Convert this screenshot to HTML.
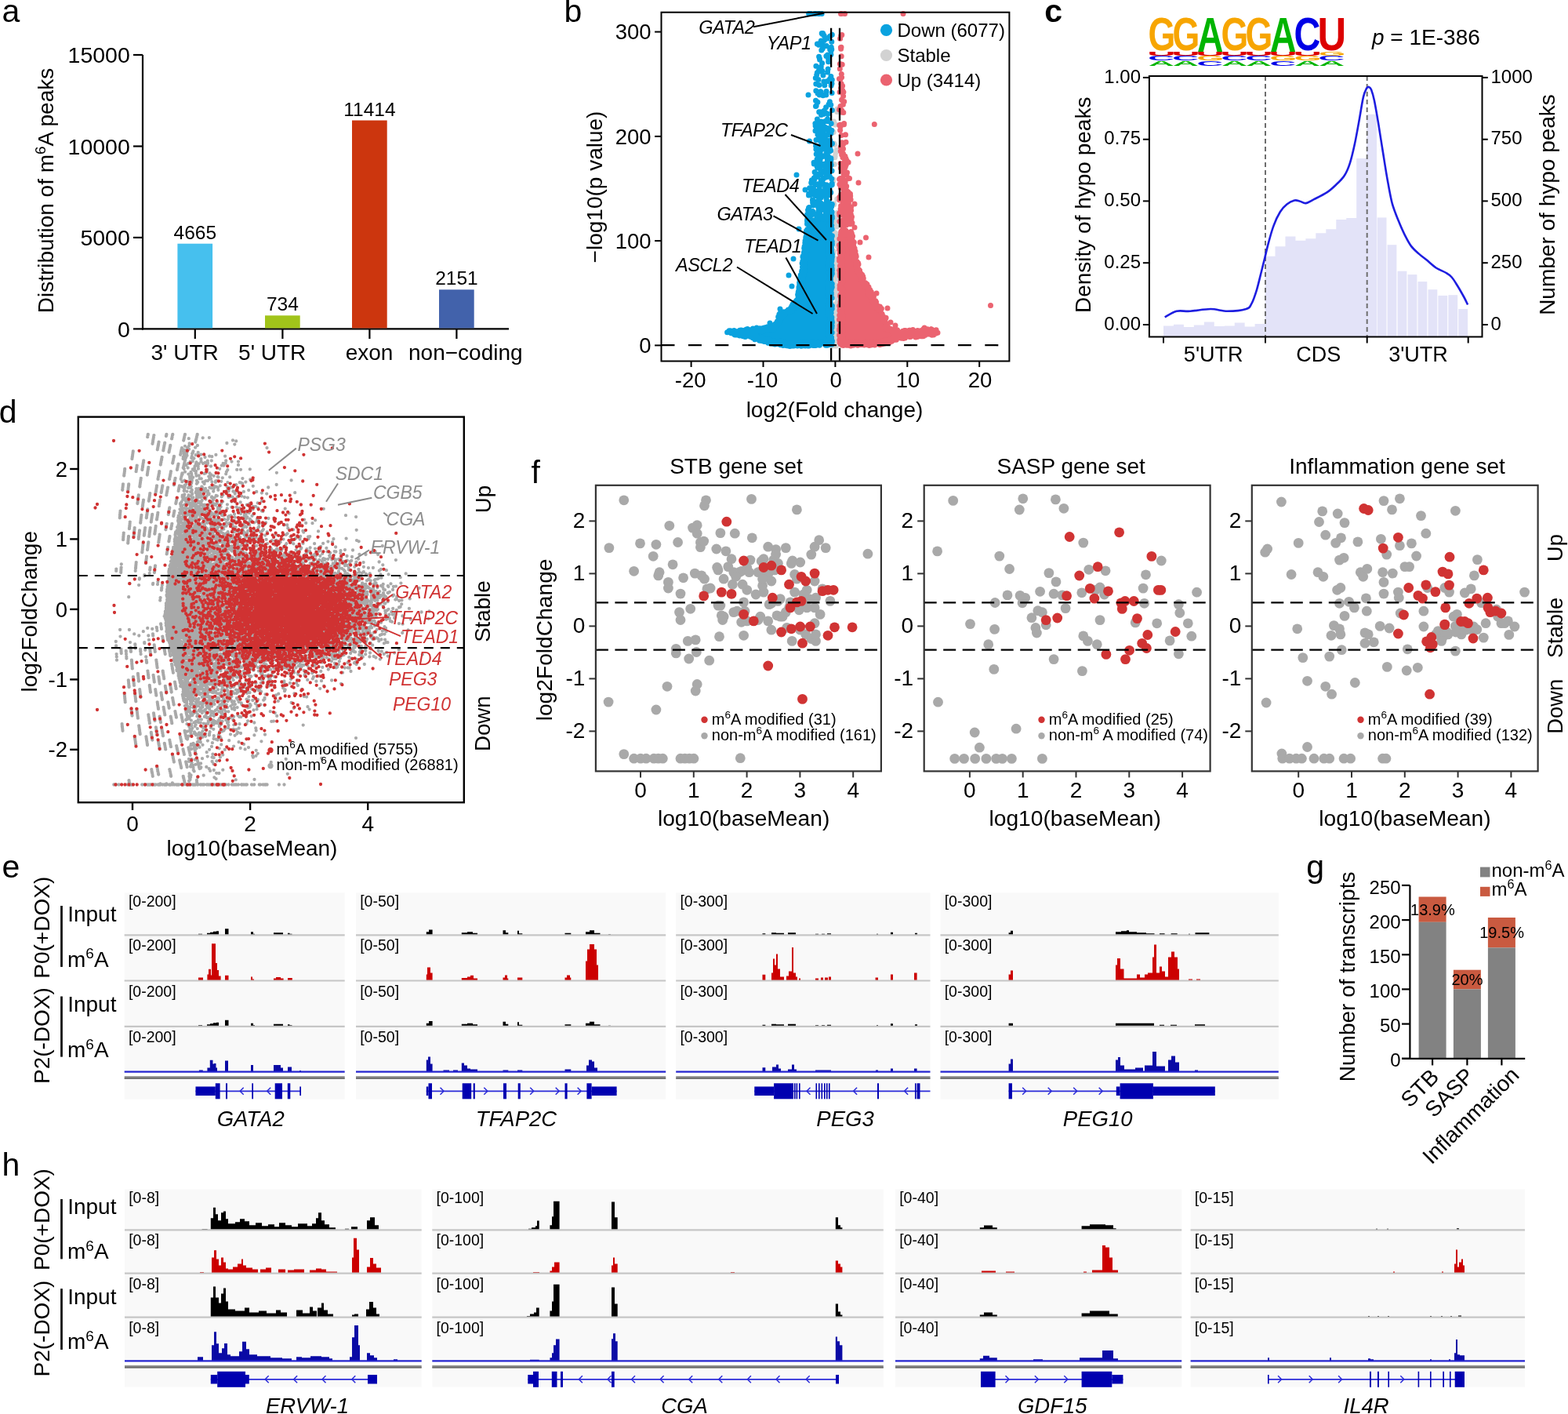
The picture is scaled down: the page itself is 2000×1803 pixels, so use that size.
<!DOCTYPE html>
<html><head><meta charset="utf-8"><title>Figure</title>
<style>html,body{margin:0;padding:0;background:#fff;}svg{display:block;}</style></head>
<body><svg xmlns="http://www.w3.org/2000/svg" width="2000" height="1803" viewBox="0 0 2000 1803" font-family="'Liberation Sans', Arial, Helvetica, sans-serif">
<rect width="2000" height="1803" fill="#fff"/>
<text x="2.6" y="28.3" font-size="41">a</text>
<line x1="182" y1="70" x2="182" y2="420.4" stroke="#000" stroke-width="2.2"/>
<line x1="170" y1="419.4" x2="182" y2="419.4" stroke="#000" stroke-width="2.2"/>
<text x="165.8" y="429.7" font-size="28.5" text-anchor="end">0</text>
<line x1="170" y1="302.9" x2="182" y2="302.9" stroke="#000" stroke-width="2.2"/>
<text x="165.8" y="313.2" font-size="28.5" text-anchor="end">5000</text>
<line x1="170" y1="186.5" x2="182" y2="186.5" stroke="#000" stroke-width="2.2"/>
<text x="165.8" y="196.8" font-size="28.5" text-anchor="end">10000</text>
<line x1="170" y1="70" x2="182" y2="70" stroke="#000" stroke-width="2.2"/>
<text x="165.8" y="80.3" font-size="28.5" text-anchor="end">15000</text>
<line x1="181" y1="419.4" x2="649" y2="419.4" stroke="#000" stroke-width="2.2"/>
<rect x="226.4" y="310.7" width="44.7" height="107.7" fill="#46C0EE"/>
<line x1="248.8" y1="419.4" x2="248.8" y2="432" stroke="#000" stroke-width="2.2"/>
<text x="248.8" y="304.7" font-size="24.5" text-anchor="middle">4665</text>
<text x="235.6" y="459" font-size="28" text-anchor="middle">3' UTR</text>
<rect x="338" y="402.3" width="44.7" height="16.1" fill="#A1C41A"/>
<line x1="360.4" y1="419.4" x2="360.4" y2="432" stroke="#000" stroke-width="2.2"/>
<text x="360.4" y="396.3" font-size="24.5" text-anchor="middle">734</text>
<text x="347.2" y="459" font-size="28" text-anchor="middle">5' UTR</text>
<rect x="449" y="153.5" width="44.7" height="264.9" fill="#CC360E"/>
<line x1="471.4" y1="419.4" x2="471.4" y2="432" stroke="#000" stroke-width="2.2"/>
<text x="471.4" y="147.5" font-size="24.5" text-anchor="middle">11414</text>
<text x="471" y="459" font-size="28" text-anchor="middle">exon</text>
<rect x="560" y="369.3" width="44.7" height="49.1" fill="#4262AB"/>
<line x1="582.4" y1="419.4" x2="582.4" y2="432" stroke="#000" stroke-width="2.2"/>
<text x="582.4" y="363.3" font-size="24.5" text-anchor="middle">2151</text>
<text x="593.8" y="459" font-size="28" text-anchor="middle">non−coding</text>
<text x="68.3" y="243" font-size="28" text-anchor="middle" transform="rotate(-90 68.3 243)">Distribution of m<tspan font-size="19" dy="-10.6">6</tspan><tspan dy="10.6">A peaks</tspan></text>
<text x="719.5" y="28.3" font-size="41">b</text>
<path d="M933.4 423.7L960.5 429.6L960.7 429.6L985.5 436.5L1005.2 439L1059 439L1059 277.5L1031.9 277.5L1030.5 300.1L1030.5 300.4L1024.5 340.3L1019.5 380.3L1019.4 380.5L1019.4 380.8L1019.3 381L1019.2 381.2L1019.1 381.4L1019 381.6L1007 396.6L1006.8 396.7L1006.6 396.9L1006.4 397L1006.2 397.2L1006 397.3L995.9 401.9L992.3 410.9L992.2 411.2L992.1 411.4L991.9 411.6L986.9 417.6L986.8 417.8L986.6 417.9L986.4 418.1L986.2 418.2L986 418.3L985.7 418.4L985.5 418.5L985.2 418.5L933.4 423.7Z" fill="#0AA2DF"/>
<path d="M1073 438.9L1124.6 437.5L1149.2 429.6L1149.5 429.6L1149.7 429.5L1178.7 426.5L1193.5 423.9L1193.5 423.1L1179 420.5L1150.3 424.5L1150.1 424.5L1149.9 424.5L1149.7 424.5L1149.4 424.4L1132.4 420.4L1132.2 420.4L1131.9 420.3L1131.7 420.1L1131.5 420L1131.3 419.8L1131.1 419.7L1131 419.5L1130.8 419.3L1130.7 419L1130.6 418.8L1130.6 418.5L1126.7 401L1113.9 381.4L1113.8 381.2L1097.8 351.2L1097.7 351L1097.6 350.8L1089.6 325.8L1089.6 325.6L1089.5 325.4L1085.5 300.4L1085.5 300.1L1085.3 297.5L1073 297.5L1073 438.9Z" fill="#EB6370"/>
<path d="M1066.9 191.4h0M1066.5 389.7h0M1064.5 394.7h0M1064.7 157.7h0M1067 425.7h0M1066.3 406.3h0M1065.5 337.7h0M1066.6 432.9h0M1067.4 392.5h0M1066.2 303.8h0M1069.4 372.3h0M1067.8 253.8h0M1067.9 333.8h0M1068.6 384.2h0M1066.6 404.9h0M1068.4 355.8h0M1062.9 377h0M1067 417.8h0M1065.2 329.6h0M1062.7 436.2h0M1067.9 138.9h0M1065.2 199.2h0M1066.3 424h0M1068.2 423.2h0M1065 409.2h0M1069.2 404.4h0M1065.9 194.7h0M1064.3 410.6h0M1066.5 378.5h0M1067.3 439.4h0M1062.9 358.2h0M1068 432.9h0M1065.3 365.4h0M1062.9 323h0M1062.9 228.8h0M1063.2 168.4h0M1066.8 432.1h0M1064.9 200.7h0M1069.5 420.8h0M1065.9 417.9h0M1064.4 417.1h0M1063.6 426.7h0M1063.5 295.2h0M1062.7 419.7h0M1067.4 277.3h0M1065.1 411.8h0M1068 389.6h0M1064.1 351.5h0M1068.1 375.5h0M1067.7 280h0M1062.7 430.4h0M1064.3 209.4h0M1069.1 387.9h0M1069.2 300.4h0M1063.9 182.9h0M1068.8 409.2h0M1068.1 404.1h0M1068.9 331.4h0M1063.7 420.9h0M1064.8 343.1h0M1065.3 390.7h0M1067.6 288.9h0M1068.1 409.6h0M1069.4 384.5h0M1063.4 410.3h0M1067 430.7h0M1068.6 303.2h0M1064 417.8h0M1064.3 307.7h0M1063.4 391h0M1066.6 393.7h0M1065.4 411h0M1066.2 379.4h0M1063.8 260.8h0M1067.6 271.5h0M1064.8 438.3h0M1063.2 365.1h0M1064.2 432.2h0M1066.4 423.6h0M1068.9 339.3h0M1066.1 363.6h0M1065.7 412.2h0M1067.4 374.1h0M1069.1 426.8h0M1068.4 436.4h0M1065.6 158.9h0M1068 334.2h0M1063.6 421.4h0M1069.3 402.5h0M1065.3 424.8h0M1063.6 259.7h0M1066.1 426.5h0M1067.6 420h0M1065.6 297.3h0M1066.1 387.5h0M1068 435.2h0M1062.8 413.2h0M1064.4 436h0M1068.2 397.8h0M1063.5 395.3h0M1063.1 372.8h0M1065.5 340.2h0M1068.1 313.8h0M1063 394h0M1066.4 398.1h0M1064.4 390.9h0M1063.6 155h0M1064.7 184.6h0M1066 406.7h0M1062.6 231h0M1066.4 441h0M1069 271.9h0M1066 353.9h0M1065.3 372.3h0M1064.9 349.5h0M1067.4 437.2h0M1062.9 400.9h0M1067.7 142.6h0M1068.6 389.2h0M1064.5 405.2h0M1063.6 438.6h0M1064.3 391.1h0M1064.2 284.7h0M1064.7 402.7h0M1065.8 439.3h0M1063.9 438.8h0M1063.1 435h0M1062.8 440.8h0M1066.2 307.4h0M1067.1 433.8h0M1064.8 414.8h0M1063.5 320.5h0M1068.7 387.3h0M1067.6 356h0M1066 428.5h0M1068.1 410.6h0M1067.3 404.3h0M1064.1 370.5h0M1063.2 409.5h0M1066.4 434.8h0" stroke="#D2D2D2" stroke-width="7" stroke-linecap="round" fill="none"/>
<path d="M1012.4 388.5h0M986.8 415.6h0M1042.2 437.9h0M1041.9 437.4h0M982.6 417h0M1058.1 383.1h0M1017.6 375.7h0M1033.6 290.2h0M1026.5 334.7h0M957.9 428.4h0M1061.1 409.5h0M1058.8 391.8h0M1058.7 355.4h0M1019 438.3h0M979.4 436.5h0M1053.3 440.3h0M974.7 421.8h0M1056.6 377.3h0M1033.8 438.1h0M1058.9 415.9h0M965.6 432.2h0M965 428.2h0M978.7 434h0M1058.7 317.5h0M1028.4 438.2h0M1005.4 395h0M1059.1 305.6h0M1059.9 375.6h0M1059.5 357.5h0M988.3 439.1h0M1029.5 281.5h0M938.9 427.1h0M947.8 428.8h0M965.8 419.7h0M1061.4 311.8h0M976 420.3h0M1029.2 315.8h0M1039.1 437.8h0M1058.8 395.4h0M1060.4 430.2h0M1022.5 436.9h0M982.6 420.3h0M1057 347.4h0M968.4 432.9h0M1014.8 385h0M1061 338.6h0M1060.3 369.2h0M1022.6 346.4h0M1007.5 441.5h0M1061.3 348.9h0M1022.2 372.2h0M1019.6 360.5h0M1013 439.1h0M977 421.2h0M935.7 425.4h0M1060.6 316.2h0M1027.3 306.9h0M950.1 427h0M1057 364h0M934.8 422.8h0M1061.3 308.3h0M1020.6 374.1h0M987.8 436.5h0M1059.9 327.7h0M1059.6 324.9h0M1031.9 275.8h0M999.7 397.8h0M969.1 418.8h0M1030.8 299.5h0M968.3 420h0M1014.2 385.3h0M1059.3 388.6h0M1057.5 415h0M1032.1 287.8h0M1015.9 440.1h0M970.5 432.4h0M1060.1 363.2h0M952.7 426.9h0M1056.8 279.4h0M998.5 436.1h0M1060.8 415.7h0M968.6 422.1h0M1021.1 358.2h0M1060 361.9h0M1060.3 282.7h0M1059.4 407h0M1024.7 440.8h0M1015.8 438.5h0M1017.1 440.9h0M1022 359.9h0M949.7 425.7h0M1047.8 437h0M971.5 431.3h0M1057.9 291.6h0M1060.9 322.1h0M1003.7 396.8h0M1028.1 303h0M1000.3 399.1h0M1061.2 415.5h0M994.3 400.2h0M1021.7 360.3h0M1056.7 321h0M1057.1 319.1h0M995.3 437.8h0M1024.7 437.6h0M956.8 428.9h0M1031.8 301.9h0M993.4 438.7h0M1023.6 344.6h0M1056.7 299.6h0M954.7 421.7h0M997.3 402.4h0M993.9 409.1h0M1060.6 341h0M962.4 421.1h0M1060.7 287.5h0M993.9 400.8h0M1060 396.3h0M1027 307.1h0M1024.1 326.7h0M1057.9 433h0M1059.2 418.7h0M1056.9 426.9h0M973 434.4h0M1056.6 324.1h0M988.1 414.2h0M1058.3 431.1h0M1022.8 347.1h0M997.2 437.1h0M951.2 424h0M1030.8 293.3h0M957 428.5h0M1025.6 323.2h0M965 421h0M1060.7 437.9h0M1060 398.9h0M977.4 435.8h0M1061.3 362.1h0M997.2 403.9h0M1007.4 396.9h0M981.3 434.4h0M1041.3 438.9h0M1027.9 302.3h0M975.1 418h0M944.8 427.4h0M1058.2 302.7h0M1028.7 319.8h0M1020.6 363.3h0M978.7 432.4h0M1032.8 438h0M1044.1 437.6h0M1057.7 439.6h0M1060.9 404.9h0M1059.2 366.1h0M1061.3 393.4h0M985.6 438.3h0M1020.1 363h0M1020.2 375.2h0M1060 437h0M974.8 433.1h0M1059.8 407.9h0M1023.1 357.5h0M1060.4 362.1h0M1019 368.3h0M1019 366.4h0M1021.2 350.8h0M1059.2 364.4h0M1057.4 366.1h0M1058.6 387.5h0M943.5 428h0M1056.5 388.6h0M1058.2 323.2h0M1027.4 438.2h0M1013.4 439.7h0M1056.8 401.2h0M1060.2 281.6h0M1056.8 368.6h0M1060.9 408.2h0M1018.5 437.9h0M1032.7 302h0M984.6 418.5h0M1022 441.3h0M1012.5 441h0M1051.7 438.4h0M1061 417.7h0M1060.2 312.1h0M938.9 422.4h0M962.3 422.1h0M931.6 421.8h0M953.4 419.6h0M945.3 426.4h0M1061.4 410.9h0M1061 330.4h0M1058.8 418.5h0M968.8 430.9h0M1058.5 293.2h0M954.7 420.3h0M1058.1 434.5h0M990.2 411.9h0M975.7 417.7h0M978.9 416.8h0M1058.6 390.3h0M999.9 438.8h0M1059.5 362.9h0M1057 422.1h0M1057.7 358.6h0M967.9 419.7h0M1057.9 317.2h0M1023.8 333h0M981.9 433.3h0M1058.7 319.3h0M1044 439.3h0M1058.2 403h0M972.5 420.9h0M1036 438.6h0M992.1 436.6h0M1000.1 397.9h0M1025.9 331.4h0M1059 410.3h0M1061.4 324.4h0M1031.8 291h0M985.4 437.4h0M989 413h0M1059.9 424.9h0M1044.6 438.6h0M1060.1 417.4h0M946.4 421.3h0M1024.5 357.1h0M1058.7 282.1h0M1061.2 424h0M983.2 437.9h0M1057.1 399.4h0M974.7 417.9h0M1058.1 368.9h0M1008.2 437.6h0M1009.2 439.7h0M1059.5 422.4h0M1059.2 410.7h0M992.2 436.7h0M1023.9 327.5h0M1027.3 335.2h0M1060.1 277.4h0M1020 358.9h0M1032.6 285h0M980.5 435h0M1058.1 322.9h0M1056.7 418.6h0M1010.6 441h0M1060.6 321.7h0M1018.1 381.3h0M980.6 421.2h0M1029.5 313.9h0M1020.9 368.5h0M1029.4 309.6h0M951 423.2h0M1030.9 311.2h0M1059.2 371.3h0M1029.1 437.1h0M1058.8 365.6h0M1026.6 338.2h0M960.6 430.3h0M978.1 418h0M1024.8 330.6h0M1021.9 438.4h0M1023.8 350.1h0M1027.7 315.2h0M1026.2 325.4h0M993.8 408.5h0M977.8 421.3h0M1058.8 324.7h0M1022.6 356.9h0M1013.3 439.4h0M1031.4 285.7h0M1016.3 383h0M1012.6 393.2h0M988.5 438.9h0M1057.6 421.7h0M1060.9 418h0M974.7 435.5h0M1057.3 339.1h0M1058.3 386.5h0M1031.7 275.6h0M1057.4 433.7h0M1012.8 440.5h0M997.6 400.8h0M1028 326h0M1020.1 440.2h0M972.6 434.7h0M1058.6 437.9h0M1037.2 437.7h0M1009.8 390.5h0M993.3 409.1h0M994.4 438.5h0M992.2 412.3h0M1056.6 424.4h0M1056.8 335h0M1061.4 327.4h0M960.1 430.8h0M1061.1 328.9h0M1057 315.9h0M1031.2 311.6h0M1038.3 437.1h0M1030.3 282.9h0M1018 375.1h0M1059.8 335.5h0M991.6 435.9h0M1029.8 296.2h0M1059.1 375.2h0M1052.8 438.6h0M1061.2 342.6h0M1031.8 303.5h0M1013.6 390.2h0M969.6 422h0M958.7 421.1h0M1026.3 345.4h0M1025.7 316.4h0M948.6 425.5h0M1055.2 440.3h0M1027.3 439.6h0M1059.2 373.6h0M1028.4 294.6h0M1011 388h0M996.2 436.7h0M1023.1 346.8h0M1013 438.6h0M943.6 424.8h0M937.5 423.2h0M1061.3 348.3h0M1060.9 415.9h0M1059.3 416.7h0M1030.3 441h0M1024.5 348.9h0M956.2 427.8h0M1061 333h0M1060.7 325h0M1027.1 320.1h0M953.6 426.3h0M1057.6 396.3h0M1017.2 386.4h0M1021.6 371.1h0M1010.6 396h0M1008.3 396.1h0M1059.6 308.4h0M1018.4 371.8h0M1032.3 275.8h0M1056.7 312.5h0M1060.6 430.2h0M1060.7 318.3h0M1057.7 400.4h0M1057.2 377.5h0M1015.8 383.2h0M1057.5 330.7h0M1027.4 309.2h0M976.1 420h0M1059.5 355.5h0M1057.4 393.2h0M1023.5 354.5h0M1057.1 286.6h0M1060.1 327.4h0M968.7 421.5h0M1001.1 436.6h0M1061.4 300.7h0M1031.6 280h0M998.6 436.1h0M1023.5 340.5h0M1056.7 323.6h0M1026.8 309.7h0M1025.2 337.7h0M1018.1 373.1h0M1008.4 393.1h0M1056.5 417.7h0M1029.7 279.8h0M1059.7 437.7h0M1025.2 329.8h0M1059.5 279.3h0M1029.6 295.4h0M1027.8 319.8h0M1021.7 439.9h0M1060.8 436.4h0M1059.3 405.5h0M1061.3 344.5h0M1030.7 307.5h0M1058.1 279.6h0M1008.5 395.2h0M1061.3 365.9h0M1024.6 339.9h0M947.6 425.8h0M1024.1 362.5h0M1049.7 437.3h0M1058.7 398.9h0M1056.7 313.5h0M1023.1 335.8h0M954.8 420.3h0M1026.2 314.5h0M1060.1 431.1h0M1030.6 293.2h0M1014.8 386.7h0M1037.1 440.4h0M1057 341.1h0M1059.8 344.2h0M1060.2 398.9h0M1025.4 334.8h0M1030.9 312.3h0M1056.7 394.9h0M978.6 433.3h0M1027.9 327.7h0M965.6 421.6h0M1056.6 337.7h0M957.3 428h0M1040.4 440.4h0M1058.6 428.1h0M1029.5 285.6h0M1003.4 440.7h0M971.4 430.2h0M1019.3 365.8h0M1020.2 357.5h0M1023 438.1h0M1061.3 275.5h0M993 412h0M986.9 434.4h0M1031.9 440.9h0M1021.1 353.1h0M1033.4 282.2h0M1059.3 437.9h0M1027.5 333.8h0M1012.6 392.7h0M1020.2 380.5h0M1059.5 290.1h0M1010.5 438.3h0M999.4 436h0M1018 379.6h0M995.6 439.7h0M984 434.8h0M1057.9 426.8h0M1056.8 375.5h0M979.8 437.2h0M1036.5 436.8h0M991.5 437.2h0M1019.2 382.2h0M1009.7 396.5h0M1017.6 383.3h0M1023.8 333.9h0M1033.3 279.4h0M1012.5 388.3h0M1059.8 410h0M1056.5 317.3h0M989 416.1h0M1016.2 385.4h0M1020.3 374.7h0M1001.4 439.8h0M1022.5 362.5h0M1019.6 369.3h0M1030.7 306.5h0M1059.6 394.1h0M1058.4 417.2h0M932.2 422h0M1019.1 366.3h0M1060.3 375.2h0M1057.2 438.7h0M1057.6 427.9h0M973.3 433.2h0M1026.7 334h0M988.1 413.9h0M1060.6 432.3h0M1057.4 294.3h0M1026.1 314.2h0M1021.5 379.6h0M1010 393.9h0M1027.6 308.6h0M1057.3 398.2h0M1059.3 362.8h0M1020.2 356.2h0M973.4 433.1h0M993.3 436.7h0M1026.3 345.6h0M1059.3 320.9h0M1059.1 291.3h0M1031.3 293.3h0M1025.8 329h0M1057.7 291.3h0M1059.3 345.4h0M1060.3 331.6h0M941.5 424.4h0M1030.7 309.2h0M1027.5 439.2h0M1034.5 437.3h0M976.1 434h0M1056.9 422.4h0M1057.6 415.1h0M1059 400.5h0M959.6 423.5h0M1058.2 291.1h0M997 402h0M1060.5 430.6h0M1057.5 293.6h0M1012.5 391.9h0M1023.9 335.2h0M1058 295.9h0M1019.9 376.3h0M943.6 421.2h0M975.1 434.5h0M1059.6 372.3h0M1008.7 396.5h0M1060.3 373.5h0M1056.9 415.3h0M988.8 438.1h0M1058 320.5h0M975.3 419.2h0M1058.6 385.7h0M978.7 421.1h0M1029.7 292.8h0M1033 288.1h0M973.3 433h0M998.1 436.3h0M1028.5 303.3h0M1060.1 437.4h0M1043.6 437.2h0M1019.6 363.1h0M959.9 422.6h0M1030.5 438.4h0M1030.9 295.4h0M930.1 421.8h0M1059.4 374.7h0M957 429.2h0M1028 307.3h0M1031.6 437.7h0M991.4 409.7h0M1045.3 440.3h0M1056.9 369.6h0M1057.3 428.9h0M1060.1 366.2h0M1026.7 339.7h0M990.4 416.4h0M1020.7 354.5h0M1022.3 367.7h0M945.5 420.9h0M1021.2 357.4h0M1022.8 345.2h0M1058.2 306.1h0M1060.1 280.6h0M1058.5 333.8h0M936.3 421.6h0M945.9 427.1h0M1025.8 333.1h0M1060.4 351.2h0M979.3 418.3h0M1025.4 326.7h0M950.5 426.8h0M1001.6 400.1h0M991.2 414.3h0M959.8 429.6h0M931.9 424.2h0M1061.2 292h0M1058.9 366.4h0M973.1 433.4h0M970.1 420.9h0M942.7 423.3h0M1060.5 304.7h0M978.7 436.1h0M1032.4 275.6h0M1038.7 440.5h0M967 422.2h0M949.1 426.9h0M1000.5 439.9h0M1027.6 328.2h0M1020 372.5h0M1021.3 354.4h0M1061.1 380h0M999.5 399.3h0M1057.8 333h0M965.1 418h0M1029.6 282.7h0M1037.7 439h0M1058.4 435.6h0M1059.9 323.8h0M1025.9 321.1h0M947.1 423.2h0M1057.1 305h0M1032 291.1h0M1058.9 397.3h0M1059.1 355.5h0M1044 439.4h0M951.9 419.9h0M1054.2 439.2h0M1027.2 441h0M985.8 437.6h0M1059.4 432.7h0M1025.8 329.1h0M954.2 428.3h0M972.1 418.8h0M1019.5 375.4h0M995.6 435.3h0M982.7 418.8h0M948.1 426.1h0M988.6 437.6h0M1030.6 276.4h0M1058.3 307.2h0M939 424.6h0M1032.2 438.3h0M1017.5 438.2h0M1044.9 437.6h0M1029.4 318.7h0M986.8 420h0M956.1 421.3h0M1026 436.6h0M957.3 422.5h0M978.6 417.7h0M1012.6 390.7h0M974.7 434.9h0M1059.6 437.8h0M1061.1 439.1h0M1056.9 438.1h0M1030.6 313.3h0M1019.4 376.2h0M1059.2 385.6h0M1017.3 439.7h0M1057.4 438.5h0M1005.4 397.9h0M969.8 432.5h0M1059 303.7h0M1059.7 321.6h0M937.5 423.5h0M950.7 420.8h0M1057.7 399.3h0M1059.8 376.5h0M1059.2 380.9h0M949.9 425.7h0M1025.2 346.7h0M945.5 426.9h0M1027.2 320.5h0M999 440.4h0M937.5 427.1h0M1008.1 393.7h0M1022.2 349.9h0M1032.2 280.3h0M968.8 434.3h0M1029.9 439.8h0M936.8 426.6h0M1026.4 321.5h0M990.9 411.6h0M1030 305.3h0M995.4 408.3h0M1025.5 349.7h0M1057.2 358.1h0M1032.7 298h0M999 398.3h0M1059.2 353.1h0M1010 393.8h0M971.5 434.2h0M1061.5 435.1h0M987 417h0M1059.4 405.5h0M1024.3 333.9h0M1058.1 319.6h0M1059.8 346.2h0M1057.6 396.5h0M1022.4 370.4h0M1057 364.8h0M927.6 423.7h0M992.7 404.1h0M1057.8 429.8h0M1021.3 370.9h0M974.1 419.1h0M1058.6 426.1h0M1060.5 391.9h0M1058.8 324.3h0M932.6 424.8h0M1027.8 330.9h0M1007.5 438.7h0M950 426h0M1059.3 390.1h0M960.3 419.1h0M1015 387.7h0M1060.8 342.4h0M1057.5 335.8h0M1029.8 292.4h0M1057 367.5h0M1058.5 349.3h0M1016.1 385.8h0M944.8 425.8h0M1031.8 292h0M938.5 426.2h0M1060 279.5h0M1006.4 441.3h0M1018.9 438.5h0M996.5 435.5h0M1059.8 288.1h0M1040.4 440.3h0M1031.5 283.7h0M1026.1 323.1h0M1059 384.1h0M1059.9 421.1h0M1027.7 303.5h0M962.8 432.7h0M952.1 427h0M1022.8 360.7h0M1025.4 321.8h0M1059.1 414.7h0M1056.9 311.4h0M1023.9 352.9h0M1058.9 293.4h0M1031.4 299.3h0M1026.5 333.2h0M1058.6 373h0M1060.2 303.3h0M970.9 434.5h0M1058.7 415.6h0M973.3 421.5h0M1059 299.2h0M1061 416.3h0M1053.5 440.3h0M999.7 402.7h0M1057.1 294.6h0M1057 311.8h0M1057.2 410.8h0M1057.8 298.4h0M1057.5 328h0M1021.8 361.9h0M1011.1 393.2h0M1010.2 440.8h0M965.7 421.3h0M962.2 419.6h0M996.9 405.5h0M945.8 425.2h0M995.5 403.9h0M1056.9 417.6h0M955.5 428.5h0M1060.9 404.4h0M1059.4 366.3h0M1007.9 439.8h0M972.1 434.6h0M1010.9 391.4h0M1054.6 438.4h0M941 427h0M1057 325h0M1046.4 438.4h0M996.9 438.7h0M1033.9 282.5h0M1024.3 338.1h0M1022.6 360.5h0M976.9 433.5h0M950.5 429.4h0M1061.4 389.9h0M1060.7 329.3h0M1028.6 297.8h0M1060.2 434.5h0M1032.7 286.6h0M1021.5 370.5h0M979.3 435.6h0M1023.6 362.8h0M1035.6 239.7h0M1042.7 188.3h0M1045.4 238.5h0M1046.6 258.6h0M1046.5 243.2h0M1043.8 269.2h0M1056.7 263.2h0M1056.2 199.3h0M1056.7 248.9h0M1054.7 179.3h0M1052.9 188.6h0M1050.1 262h0M1047.7 180h0M1055.3 203.7h0M1053.4 271.9h0M1045.7 270.4h0M1043.5 155.3h0M1051.6 267.7h0M1061.1 217.7h0M1059.6 206.5h0M1049.6 199.5h0M1054 195.7h0M1056.5 241h0M1055.7 163.5h0M1038.3 227h0M1040 166.8h0M1053.1 173.6h0M1038 241.5h0M1042.9 260.5h0M1059 259.7h0M1052.1 208.9h0M1061.1 270.3h0M1057.3 274.3h0M1041.9 279h0M1042.1 203h0M1052.5 220.6h0M1061.4 260.6h0M1059.1 190.8h0M1056.4 199.8h0M1056.3 201.7h0M1038.6 229.5h0M1045.1 188.3h0M1045 272.3h0M1053.9 248.4h0M1035.4 229.8h0M1043.8 164.2h0M1040.7 235.4h0M1048.7 186.3h0M1049.2 218.1h0M1043.1 222.2h0M1053.5 208.4h0M1046.7 222.6h0M1046.3 193.1h0M1045 163.6h0M1042.4 205.7h0M1049.7 177.8h0M1052.8 226.3h0M1060.9 166.3h0M1059.7 274.5h0M1041.1 160.2h0M1051.9 199.2h0M1053.6 164.5h0M1048.7 260.5h0M1056.7 267.8h0M1050.1 228h0M1048 219.5h0M1036.9 272.7h0M1054.6 209.6h0M1030.5 273.5h0M1031.5 265.1h0M1036.6 269.6h0M1052.1 162h0M1048 160.7h0M1043.2 244.6h0M1047.4 251.7h0M1050 210.3h0M1059.8 245.6h0M1037.1 258.1h0M1059.6 192h0M1052.5 239.2h0M1060.8 235.7h0M1051.9 173.6h0M1041.4 163.6h0M1029.6 273.6h0M1032.3 269.4h0M1045.3 266.8h0M1052.6 276.6h0M1038.1 207.3h0M1039.3 249h0M1044.3 252h0M1042.1 273.1h0M1058.4 243.6h0M1050.2 156h0M1035.5 243h0M1051.8 178.4h0M1041.1 258.5h0M1048.9 161.9h0M1052.1 249.2h0M1051.7 186h0M1044.1 279.2h0M1058.3 245.7h0M1054.6 255.9h0M1032.6 239.7h0M1043.2 248.3h0M1058.1 236.8h0M1030.3 272.8h0M1043.2 206.4h0M1056.5 272.6h0M1051.7 179.7h0M1059.2 211.8h0M1046.2 245.1h0M1046.4 274.3h0M1055.6 151.8h0M1050.3 173h0M1058.2 193h0M1042.9 171.4h0M1054.4 164.8h0M1042.9 225.3h0M1042.9 155.6h0M1055.7 154.4h0M1054.2 254.6h0M1048.3 275.7h0M1054.6 220.4h0M1040 235.5h0M1047.6 176.8h0M1045.5 235.7h0M1044.7 253.1h0M1048.4 198.6h0M1052.8 242.8h0M1055.2 225.4h0M1053 212.8h0M1054.6 210.1h0M1038.3 208.9h0M1060.2 210.3h0M1058.8 179h0M1043.6 170.6h0M1040.1 160.4h0M1059.5 267.6h0M1044.4 174.1h0M1034.7 233h0M1034.1 241.4h0M1061.5 183h0M1041.7 209h0M1057.9 237.7h0M1043.2 201.3h0M1050.5 155.3h0M1032 264.5h0M1050.4 190h0M1054.6 217.9h0M1044.2 207.1h0M1046.2 203.2h0M1051.2 277.7h0M1048.9 167.1h0M1036.5 255.9h0M1045.7 271.3h0M1036.5 254.7h0M1049.7 189.1h0M1050.2 234.5h0M1056.5 246.4h0M1047.3 155.1h0M1055 194.5h0M1042.1 225.4h0M1039.9 157.4h0M1059.9 201.7h0M1052.7 184.2h0M1057.9 243h0M1056.1 213.4h0M1036.6 258.6h0M1051 279.2h0M1044.8 241.8h0M1045.3 237.5h0M1034 274.8h0M1054.2 235.7h0M1054.7 247h0M1049.8 171.2h0M1042.5 191.2h0M1044.2 274.9h0M1056.1 260.1h0M1052.3 187.7h0M1058.2 277.9h0M1057.5 222.4h0M1044.4 244.6h0M1045.6 178.9h0M1054.8 222.3h0M1058.7 237.6h0M1039.7 256.9h0M1046.6 216.4h0M1056 272.5h0M1060.8 228h0M1048.3 211.1h0M1055.8 205.1h0M1061.3 235.6h0M1044.3 161.9h0M1058.8 179.5h0M1047.5 230.1h0M1031.5 266.4h0M1041.5 162.1h0M1059.9 170h0M1031.5 248.9h0M1042.9 157.6h0M1052.5 185.8h0M1042.2 212.4h0M1053.3 171.8h0M1053.1 264.2h0M1045.2 259.2h0M1058.6 225.5h0M1047.2 229.4h0M1044.1 234.6h0M1037.1 262h0M1060.2 157.4h0M1057.2 169.1h0M1045.8 260.6h0M1051.3 187.5h0M1052.7 154.6h0M1057.6 271.3h0M1030.5 267.9h0M1060.6 263.6h0M1038.1 273.3h0M1032.9 248.7h0M1040.3 224.9h0M1048.1 199.2h0M1034.3 272.2h0M1037.8 247.7h0M1040.8 273.1h0M1041.2 196.4h0M1040.6 186.1h0M1043.1 260.5h0M1047.2 208.5h0M1042.7 214h0M1043.1 247.2h0M1046.6 277.4h0M1060.8 272.6h0M1043.5 263.8h0M1041 178.5h0M1061.2 234.1h0M1061.4 278.3h0M1031.6 247.2h0M1050.7 247.4h0M1055.3 180.6h0M1032.6 277.3h0M1040.9 190.2h0M1055.3 193.4h0M1057.3 257.4h0M1050.4 166.6h0M1056.8 172.1h0M1055.3 249.1h0M1054.1 258.2h0M1060 203.7h0M1057.6 163.8h0M1050 234.2h0M1059.2 211h0M1058.8 185.8h0M1056.2 179.7h0M1036.2 246.3h0M1039.1 219.6h0M1040.9 161.5h0M1047 184.9h0M1042.4 152.1h0M1046 199.6h0M1041.8 249.7h0M1045.4 74.8h0M1061.1 118.5h0M1048.6 80.5h0M1055.6 69.9h0M1047.9 91.2h0M1051.1 45.3h0M1044.9 86.5h0M1045.2 121h0M1057 78.2h0M1045.5 118.6h0M1055.2 103.6h0M1056 145.3h0M1044.7 142.8h0M1060.2 106.8h0M1060.2 109h0M1058.6 63.1h0M1054 116.5h0M1052.9 143.6h0M1043 119.1h0M1059.9 97.5h0M1044.6 72.3h0M1061.3 44.3h0M1060.8 53.2h0M1049.6 42.5h0M1056.8 74.4h0M1046.7 116.8h0M1051.3 51.5h0M1051.8 108.7h0M1046.4 142.7h0M1053.7 121h0M1053.9 71.5h0M1042.4 56h0M1044.9 108.5h0M1056.5 74.7h0M1060 65.1h0M1058.4 129.7h0M1060.8 63.1h0M1056.1 88h0M1040.8 115.8h0M1044.2 90.6h0M1051.4 141.1h0M1050.4 144.3h0M1058.3 101.1h0M1055.6 92h0M1061.4 140.5h0M1040.5 128.3h0M1041.7 95.6h0M1045.6 75.9h0M1056.6 78.8h0M1058.6 46.2h0M1061 106.5h0M1048.8 90.4h0M1049.9 96.1h0M1054.2 58.6h0M1055 48.9h0M1040.3 99.4h0M1048.2 42.5h0M1049.1 56.4h0M1059.9 69.5h0M1049.8 121.8h0M1059.8 133.8h0M1046 118h0M1047 117.2h0M1049.3 61.9h0M1053.6 136.7h0M1047.3 51.9h0M1061.3 101.8h0M1047.3 84.9h0M1044.3 57.2h0M1047.4 146.6h0M1057 133.1h0M1046.7 54.1h0M1040.9 84.2h0M1041.2 134.7h0M1040.8 107.1h0M1050.3 145.4h0M1043.9 101.5h0M1050.8 104h0M1040.5 135.6h0M1060.3 60.3h0M1042.9 130.3h0M1049.1 43.5h0M1050.8 121.2h0M1047.8 64.1h0M1042.3 92.7h0M1039.1 17.5h0M1034.2 17.5h0M1048.2 17.5h0M1032 17.5h0M1045 17.5h0M1040.2 17.5h0M1031.6 17.5h0M1044.2 17.5h0M1031 121h0M1027 242h0M1032.5 180h0M1016 223h0M1019 292h0M1006 351h0M995 394h0M982 412h0M1012 330h0M1010 365h0" stroke="#0AA2DF" stroke-width="7" stroke-linecap="round" fill="none"/>
<path d="M1070.7 389.9h0M1157.2 428.1h0M1070.9 312.2h0M1072.8 356.3h0M1095.2 343.4h0M1075.1 419.7h0M1162.3 421.3h0M1117.8 436.8h0M1114.4 378.4h0M1193 424h0M1143.4 424.8h0M1127.7 408h0M1072.3 352.5h0M1107.7 373.3h0M1073.7 330.1h0M1151.5 422.3h0M1074.2 331.1h0M1074.5 411.2h0M1129.7 419.6h0M1085.3 308.4h0M1075.2 430.1h0M1152.8 423.3h0M1104.1 366h0M1178.4 421.1h0M1186.5 424.2h0M1149 427.5h0M1073.5 349h0M1122.4 391h0M1174.5 425.8h0M1071.5 349.6h0M1187.6 419.8h0M1139.6 430.6h0M1126.1 408.4h0M1083.4 440.5h0M1091 320.5h0M1073 395.1h0M1139.5 424.5h0M1107.5 367.9h0M1075 368.6h0M1167.2 424h0M1129.3 417.2h0M1160.1 424h0M1160.1 429.6h0M1108 366h0M1128.9 405.1h0M1074.4 393.5h0M1190 421.5h0M1073.3 309.7h0M1177.9 419.6h0M1182.5 422.7h0M1132.7 417.2h0M1131.8 418.8h0M1088.7 313.4h0M1081.5 437.8h0M1185.4 426h0M1126.3 438.4h0M1074.5 297.6h0M1192.3 423.1h0M1183.9 423.8h0M1073.3 431h0M1171.7 428.1h0M1073.9 334h0M1088.3 328h0M1100.6 355.5h0M1075.3 404h0M1093.5 342.4h0M1138.8 430.6h0M1072 424.9h0M1085.1 297h0M1074.6 331.3h0M1075.4 358.3h0M1074.3 376.4h0M1101.3 354.9h0M1143.3 429.5h0M1193.6 422.4h0M1074.4 397.7h0M1074.9 331.4h0M1137.9 422.2h0M1083.7 298.5h0M1074.1 329.3h0M1179.7 422.7h0M1075.2 376.5h0M1087.9 317.3h0M1072.3 406.1h0M1070.6 318.3h0M1190.3 425.7h0M1098.9 438.8h0M1071.1 364.1h0M1097 349.1h0M1144.8 421.2h0M1170 429.4h0M1173.3 425.5h0M1087.7 322.2h0M1094 336.5h0M1070.9 304.4h0M1149.9 428.4h0M1071.8 420.9h0M1149.7 431.3h0M1073.4 414.2h0M1108.1 367.4h0M1073 412.8h0M1091.1 437h0M1072 321.6h0M1144.4 430.4h0M1114.6 382.7h0M1099.9 357.1h0M1084.8 436.2h0M1167.6 427.6h0M1077.7 438.1h0M1171.2 428.3h0M1096.3 437.3h0M1077.6 436.5h0M1174.9 428.2h0M1106.8 438.1h0M1092.1 340.2h0M1072 404h0M1086.2 315.9h0M1159.7 421.2h0M1088.4 440.2h0M1132.1 416.7h0M1070.7 402.1h0M1125.9 408.8h0M1158.3 425.4h0M1072.3 324.8h0M1115.2 436h0M1073.7 342h0M1072.1 399.4h0M1130.9 435.1h0M1193.8 421.1h0M1134.4 433.2h0M1074 307.8h0M1153.2 423.8h0M1119 389.7h0M1193 421.8h0M1180.3 422.2h0M1192.7 425.6h0M1073.2 368.9h0M1073 330h0M1181.6 421.4h0M1096.6 344.9h0M1090.3 319.6h0M1120.1 435.8h0M1074.2 298.2h0M1072.9 396.9h0M1111.9 436.6h0M1073.7 336.4h0M1079.5 439.5h0M1092.2 337.4h0M1194.7 424.5h0M1185.9 424.6h0M1095.6 348h0M1073.6 383.7h0M1184.2 421.9h0M1088.8 309.4h0M1166.7 428.4h0M1073.6 424.1h0M1109.4 439.4h0M1110.1 437.6h0M1189.7 424.8h0M1070.8 433.4h0M1141.1 425h0M1157 425.3h0M1123.9 435.2h0M1154.3 431.1h0M1096.6 351h0M1171.9 423.4h0M1073.6 387h0M1140 421.5h0M1182 422h0M1164.8 422.7h0M1094.1 439.6h0M1174 427.8h0M1088 309.1h0M1160.9 421.3h0M1137.4 435.2h0M1090.7 324.1h0M1108.8 375.3h0M1192.7 425h0M1099.6 350.2h0M1074 348.2h0M1085.8 316h0M1071.4 393.8h0M1126.7 405.9h0M1139.3 433.7h0M1101.8 363.1h0M1075.3 385.4h0M1074.2 360.3h0M1072.6 379.7h0M1094.9 348.1h0M1087.3 306.5h0M1163.4 424.9h0M1110.2 376.1h0M1129 408.5h0M1088.1 326.5h0M1107.2 437.7h0M1071.3 332.6h0M1071.8 346.2h0M1093 333.4h0M1194 425h0M1073.6 320.6h0M1073.4 340.9h0M1072.1 331.8h0M1071.8 415.4h0M1178.4 428.2h0M1085.1 441h0M1175 421.5h0M1071 396h0M1084 305.2h0M1109.1 437h0M1104.8 366.1h0M1117.4 391.1h0M1070.5 312.4h0M1072.3 419h0M1075.1 356.2h0M1088.7 330.7h0M1093.8 345.6h0M1091.6 327.1h0M1191.7 422.4h0M1116.3 439h0M1145.3 429.6h0M1156.6 425.1h0M1109.8 369.8h0M1103.9 362h0M1187.7 419.8h0M1151.7 425.7h0M1170.4 421.4h0M1071.9 325.3h0M1089.4 324.2h0M1072.3 428.7h0M1125.9 406h0M1087.6 317.8h0M1191.9 421.4h0M1133.8 433.9h0M1175.7 426.6h0M1099.4 353.1h0M1085.5 295.4h0M1092.2 326.9h0M1104.5 435.8h0M1071.7 351.1h0M1100.6 352.3h0M1084.9 312.2h0M1075.5 357.3h0M1119.1 392.2h0M1074.5 421h0M1074 421.6h0M1134 436.9h0M1086.1 314.8h0M1095.3 346.2h0M1107 371.8h0M1095.1 439h0M1074.3 324.3h0M1073 348.4h0M1071.1 322.9h0M1096.5 350.4h0M1188.4 419.9h0M1072 389.3h0M1169.5 425.9h0M1074.2 325.5h0M1086.8 299.4h0M1196 424.2h0M1071.3 419.1h0M1075.6 440.5h0M1130.8 435.6h0M1164.1 427.3h0M1105.2 438.5h0M1102.7 360.2h0M1074.9 428.9h0M1105.1 365h0M1122.2 393.2h0M1111.3 372.3h0M1154.9 421.4h0M1138.2 432.2h0M1101.4 439.7h0M1074.9 404.9h0M1090.6 320.8h0M1073.6 409.2h0M1095.3 437.7h0M1070.5 407.4h0M1098.8 352.6h0M1072.8 315.9h0M1100.7 352.4h0M1130.7 412.8h0M1071.9 347.8h0M1098 356.7h0M1134.6 436.6h0M1080.5 436.3h0M1128.1 438h0M1089.3 327.5h0M1114 437.7h0M1074.4 440.3h0M1070.6 420.9h0M1091.2 333.5h0M1153.3 427.6h0M1105.2 438.2h0M1097.9 439.2h0M1147.9 429.8h0M1143.7 422.2h0M1092.9 436.3h0M1133.1 437.3h0M1074.7 321.9h0M1075 419.4h0M1073.4 370.5h0M1156.7 423.8h0M1073 297.4h0M1072.9 430.1h0M1070.7 427.8h0M1176.2 426h0M1141.1 420.5h0M1072.3 377.3h0M1074.5 339.2h0M1075.5 378.7h0M1084 299.7h0M1146.2 430.7h0M1070.6 332.4h0M1103.9 360.8h0M1150.1 429.4h0M1117.5 388.5h0M1073 347.1h0M1115.6 440.1h0M1090.1 316.8h0M1071 313.9h0M1074.9 384.6h0M1072.6 366.8h0M1153.9 421.6h0M1086.7 320.9h0M1095.8 344h0M1143.2 433.2h0M1071.6 377.6h0M1072.9 401.7h0M1071.7 321.8h0M1074.6 437.7h0M1112.4 374.9h0M1124.4 393.5h0M1147.3 426.4h0M1088 314.8h0M1113.3 380h0M1097.7 436.1h0M1073.5 298.9h0M1188.8 427.2h0M1092.1 438.4h0M1152.5 431.5h0M1070.6 427.3h0M1073.5 437.9h0M1093.1 340.2h0M1160.2 423.8h0M1098.2 349.1h0M1071.2 348.9h0M1116.5 388.5h0M1114.9 386.7h0M1158 422.3h0M1179.7 419.9h0M1122.3 439.4h0M1074.5 395.3h0M1088.3 319.8h0M1089.3 309h0M1080.3 439h0M1071.1 346.1h0M1074.1 373.1h0M1147 425h0M1106 439.5h0M1071.3 351.9h0M1100.4 360.7h0M1117 390.1h0M1106.7 436.1h0M1071 395.8h0M1075.1 421.9h0M1072.6 328.5h0M1095.5 438.9h0M1079.9 440.3h0M1179.8 427.6h0M1174.6 428.8h0M1154.5 422.2h0M1168 430h0M1098.1 439.4h0M1072 385.2h0M1094.8 336.5h0M1092.5 338.1h0M1088.6 321.2h0M1177.5 428.7h0M1156.7 427.8h0M1186 424.4h0M1130.7 414.8h0M1090.7 438.9h0M1181.1 420.7h0M1073 430.7h0M1190.8 426.9h0M1072 317.8h0M1161 428.2h0M1075.2 380.2h0M1132.1 420.6h0M1071.6 419.9h0M1180.4 425.5h0M1148.2 428.2h0M1142 421.6h0M1074.3 387.8h0M1118.2 392.5h0M1155.6 423.5h0M1120.4 393.5h0M1089 322.2h0M1074.2 397.8h0M1074.2 393.7h0M1182.7 419.9h0M1144.4 420.8h0M1071.7 376.3h0M1113.4 436h0M1071.2 426.4h0M1154.7 422.1h0M1110.7 379.3h0M1116.8 383.7h0M1109.6 369.5h0M1086.5 308.5h0M1091.7 325.1h0M1086.6 317.1h0M1177.9 426.8h0M1102.3 440.1h0M1112.8 383.1h0M1194.1 420.8h0M1074.9 305.6h0M1075.4 403.3h0M1130.7 412.8h0M1073.5 372.4h0M1073.9 308.6h0M1073.4 328.1h0M1090.4 328.8h0M1075.4 317.4h0M1090.9 323.4h0M1102.6 364.8h0M1186.3 424.8h0M1087.6 301.3h0M1088.8 439.2h0M1095 337.1h0M1077 436.6h0M1073.5 317.4h0M1091.7 334.1h0M1123.2 397h0M1074.4 440.1h0M1070.7 421h0M1074.5 324h0M1191 423.3h0M1113.8 379h0M1074.8 297.6h0M1112.1 383h0M1092.9 342.4h0M1130.4 435.3h0M1162.5 427.7h0M1132.5 436.5h0M1086.9 317.2h0M1140.6 420.2h0M1074.1 328.7h0M1143.1 421.1h0M1094.2 337.9h0M1073.1 378.5h0M1074.8 344.4h0M1183 426h0M1110.3 379.1h0M1162.2 425.3h0M1071.7 397.1h0M1136.3 419.4h0M1074.4 376.6h0M1161.2 429.5h0M1181.6 420.8h0M1071 367.9h0M1075.4 306.2h0M1146.9 429h0M1087.4 325h0M1176.5 421.1h0M1074 346.2h0M1071.8 364.1h0M1157 425.3h0M1072.2 406.6h0M1190.3 422.7h0M1160.6 427.4h0M1168.6 425.9h0M1079.4 439.2h0M1092.3 438.5h0M1074.6 392.9h0M1086.7 302.9h0M1093.3 439.1h0M1163.9 428.3h0M1180.7 422.2h0M1129.7 433.4h0M1094 440.3h0M1186.4 426.2h0M1106.2 439.7h0M1130.1 405.3h0M1096.4 347h0M1127 438.2h0M1073 305.5h0M1070.7 419.4h0M1125.2 400.6h0M1075.4 380.9h0M1128.6 408.6h0M1071.4 338.9h0M1183 419.8h0M1107.7 367.8h0M1126.5 403.4h0M1085.7 315.4h0M1092.3 339.9h0M1121.6 437.4h0M1159.1 422h0M1079.5 439.3h0M1073.8 435.6h0M1093.4 345.6h0M1104.9 361.7h0M1072.1 360.2h0M1071.6 351.1h0M1106 362.5h0M1075.4 408.2h0M1074.3 315.2h0M1117.6 385.3h0M1072.6 382.3h0M1095.7 344.3h0M1138 420.6h0M1072.6 394.4h0M1164.2 421.6h0M1126.4 405.8h0M1074.6 341.8h0M1152.8 430.2h0M1175.5 428.4h0M1070.6 329.4h0M1094.2 436.2h0M1177.7 427.9h0M1178.8 419.3h0M1124.3 439.1h0M1111.1 440h0M1075.1 346.8h0M1176 421.5h0M1164.4 420.5h0M1073.4 372.9h0M1182.9 420.9h0M1171.9 426.2h0M1073.7 371.3h0M1140.3 419.8h0M1093.8 341.6h0M1102.8 438.1h0M1169.7 424.3h0M1097.8 352.3h0M1087.1 312h0M1085.8 296.3h0M1075.4 403.5h0M1075.1 402.6h0M1075 432.2h0M1074.9 439.6h0M1074.7 404.6h0M1178.9 427.6h0M1130.7 436.5h0M1074.3 335.8h0M1088.5 310.3h0M1075.5 380.4h0M1187.6 420.5h0M1121.3 436.4h0M1100.5 357.8h0M1125.8 404.4h0M1121.5 395.5h0M1109.7 438.9h0M1105.3 363.7h0M1152 428.2h0M1162.2 428h0M1071 415.2h0M1147.1 427.9h0M1086.6 301.9h0M1156 424h0M1088.6 436.2h0M1071.3 418.4h0M1074.4 396.4h0M1075.2 435.8h0M1179.1 418.1h0M1175.2 428h0M1138.5 421.9h0M1075.4 321.5h0M1153.4 422.3h0M1094.5 335.2h0M1110.3 377.9h0M1072.3 438.7h0M1126.1 437.3h0M1126.6 435h0M1071 344.3h0M1072.6 380.7h0M1127 409.7h0M1166.3 426.7h0M1108.2 375.9h0M1085.8 438.9h0M1106.2 364.1h0M1117.6 389h0M1071.2 437h0M1089.5 319.7h0M1157.8 425.2h0M1133.3 436h0M1111.7 377.9h0M1120.4 437.3h0M1070.7 344.9h0M1097.1 349.8h0M1073.2 360.3h0M1108.8 440.4h0M1072.4 332.9h0M1104.7 363.6h0M1191 421.3h0M1163.1 421.9h0M1073.6 302.4h0M1073.3 392.6h0M1080.5 219.9h0M1070.9 255h0M1079.3 210h0M1072.3 214.2h0M1074.8 291.9h0M1080.4 250.7h0M1074 284.6h0M1073.9 266.8h0M1074.1 227.5h0M1077.6 233.6h0M1079.3 273.2h0M1077.2 215.7h0M1076.7 241.6h0M1072.7 263.9h0M1077.9 297.8h0M1077.8 208.5h0M1073 284.1h0M1078.1 232.4h0M1070.9 251.3h0M1083.7 284.9h0M1078.8 294.1h0M1072.7 253.3h0M1082.5 256.4h0M1077.4 205.4h0M1082.4 258.9h0M1078.4 236.3h0M1076.3 269.1h0M1079 207.5h0M1086 282.8h0M1087 284.3h0M1077.9 257.7h0M1085.9 279.8h0M1080.5 299.6h0M1085.4 273.4h0M1072.3 299.8h0M1072.9 295.3h0M1077 242.5h0M1070.9 282.6h0M1085.5 264.2h0M1086.3 297.4h0M1076.8 252.6h0M1084.5 247.2h0M1072.1 208.5h0M1086.5 276.5h0M1083.9 263.2h0M1074.5 226.8h0M1077.7 272.6h0M1074.7 213.9h0M1082.3 245.2h0M1076.7 267.6h0M1083.5 227.4h0M1083.4 264.1h0M1080.6 243.7h0M1074.4 281.2h0M1081.8 299.2h0M1079.4 287h0M1070.6 228.4h0M1073.3 298.6h0M1079.8 270.2h0M1078.9 201.9h0M1074.3 287h0M1076.3 298.4h0M1083.7 271.2h0M1076.4 269.5h0M1084.2 297h0M1078.5 268.2h0M1080.5 254.2h0M1076.8 218.2h0M1085.6 268.2h0M1072.7 248.1h0M1079.2 294.4h0M1085.1 254.5h0M1076.3 244.3h0M1070.9 234.9h0M1072.3 239.6h0M1078.8 280.5h0M1074.8 230.4h0M1077.5 202.2h0M1084.7 249.9h0M1081.4 265.5h0M1074.1 296.6h0M1080 204.4h0M1085.2 282.7h0M1080 222.8h0M1079.7 237.6h0M1079.8 205.9h0M1082.5 276.6h0M1075.3 259.4h0M1075.6 268h0M1073.3 248.7h0M1076.3 253.2h0M1084.3 285.8h0M1079.4 283.3h0M1079.9 247.8h0M1078.1 273h0M1077.9 205.4h0M1076.3 266.1h0M1077.6 269.3h0M1071.7 227.6h0M1072.1 266.5h0M1077.1 229.5h0M1075.1 274.6h0M1073.8 218.2h0M1072.6 262.4h0M1078.2 221.9h0M1074.6 235.8h0M1078.4 262.1h0M1070.7 271.7h0M1074.8 252.2h0M1080.7 270.7h0M1074.6 299.7h0M1079.9 276.9h0M1082.2 278.2h0M1073.4 298h0M1079.2 281.9h0M1078.6 258.9h0M1076.2 291.7h0M1078 278h0M1074.9 200.8h0M1078.1 270.6h0M1080.1 285.8h0M1078.3 212.7h0M1075.9 261.5h0M1082.1 206.9h0M1070.9 274.3h0M1081.8 227.7h0M1072.6 296.3h0M1075.9 221.3h0M1080.2 250.9h0M1083.6 276.2h0M1074.1 185.1h0M1074.6 109.6h0M1074.6 187.4h0M1072.4 60.4h0M1073.5 127.3h0M1076.7 129.4h0M1074.2 82.2h0M1075.5 196.1h0M1073.9 181.8h0M1075.5 189.8h0M1076.5 158.8h0M1075.9 117.5h0M1073.6 185.7h0M1070.7 159.4h0M1071.6 165.9h0M1072.6 62.2h0M1073.8 44.4h0M1073.1 172.6h0M1071.9 161.4h0M1073.8 143.2h0M1072.2 187.4h0M1075.4 183.8h0M1073.6 116.2h0M1076.6 157.4h0M1074.7 115.3h0M1073.2 71.8h0M1071.4 81.4h0M1075.6 122.5h0M1077.9 199.2h0M1072 135.6h0M1073.7 140.8h0M1073 60.2h0M1073.1 106.8h0M1072.7 45.6h0M1075.4 133.3h0M1071.7 159.1h0M1073.6 127.5h0M1071.6 49.3h0M1070.5 100.4h0M1073.9 196.5h0M1072.1 100.5h0M1072.7 107.1h0M1071.1 117.4h0M1079 181.2h0M1071.3 87.8h0M1073.6 197.3h0M1070.6 139.8h0M1073.3 94.5h0M1072.2 192.8h0M1072.5 112.2h0M1075.8 143.5h0M1078.5 171.8h0M1075.6 183.7h0M1073.6 98.6h0M1073.4 188.8h0M1072.5 17.5h0M1077.6 17.5h0M1072.9 17.5h0M1073.2 17.5h0M1152 17.5h0M1115.3 158.4h0M1263.5 389.4h0M1090 290h0M1104.5 303h0M1108 328h0M1118 374h0M1132 393h0M1136 411h0M1142 415h0M1094 196h0M1095 233h0M1090 260h0M1097 309h0" stroke="#EB6370" stroke-width="7" stroke-linecap="round" fill="none"/>
<line x1="843.5" y1="440.2" x2="1287.4" y2="440.2" stroke="#000" stroke-width="2.3" stroke-dasharray="17 17.4"/>
<line x1="1060.1" y1="35.7" x2="1060.1" y2="460.5" stroke="#000" stroke-width="2.3" stroke-dasharray="16 18"/>
<line x1="1071" y1="35.7" x2="1071" y2="460.5" stroke="#000" stroke-width="2.3" stroke-dasharray="16 18"/>
<rect x="843.5" y="15.7" width="443.9" height="444.8" fill="none" stroke="#000" stroke-width="2"/>
<line x1="835.1" y1="440.4" x2="843.5" y2="440.4" stroke="#000" stroke-width="2"/>
<text x="830.6" y="450.2" font-size="27.5" text-anchor="end">0</text>
<line x1="835.1" y1="307.1" x2="843.5" y2="307.1" stroke="#000" stroke-width="2"/>
<text x="830.6" y="316.9" font-size="27.5" text-anchor="end">100</text>
<line x1="835.1" y1="173.9" x2="843.5" y2="173.9" stroke="#000" stroke-width="2"/>
<text x="830.6" y="183.7" font-size="27.5" text-anchor="end">200</text>
<line x1="835.1" y1="40.6" x2="843.5" y2="40.6" stroke="#000" stroke-width="2"/>
<text x="830.6" y="50.4" font-size="27.5" text-anchor="end">300</text>
<line x1="881.6" y1="460.5" x2="881.6" y2="468" stroke="#000" stroke-width="2"/>
<text x="880.6" y="494.3" font-size="27.5" text-anchor="middle">-20</text>
<line x1="973.5" y1="460.5" x2="973.5" y2="468" stroke="#000" stroke-width="2"/>
<text x="972.5" y="494.3" font-size="27.5" text-anchor="middle">-10</text>
<line x1="1065.4" y1="460.5" x2="1065.4" y2="468" stroke="#000" stroke-width="2"/>
<text x="1066.2" y="494.3" font-size="27.5" text-anchor="middle">0</text>
<line x1="1157.3" y1="460.5" x2="1157.3" y2="468" stroke="#000" stroke-width="2"/>
<text x="1158.1" y="494.3" font-size="27.5" text-anchor="middle">10</text>
<line x1="1249.2" y1="460.5" x2="1249.2" y2="468" stroke="#000" stroke-width="2"/>
<text x="1250" y="494.3" font-size="27.5" text-anchor="middle">20</text>
<text x="1064.5" y="532" font-size="28" text-anchor="middle">log2(Fold change)</text>
<text x="768" y="238.5" font-size="28" text-anchor="middle" transform="rotate(-90 768 238.5)">−log10(p value)</text>
<circle cx="1130.5" cy="38.4" r="7.6" fill="#0AA2DF"/>
<text x="1144.5" y="47.3" font-size="24">Down (6077)</text>
<circle cx="1130.5" cy="70.5" r="7.6" fill="#D2D2D2"/>
<text x="1144.5" y="79.4" font-size="24">Stable</text>
<circle cx="1130.5" cy="102" r="7.6" fill="#EB6370"/>
<text x="1144.5" y="110.9" font-size="24">Up (3414)</text>
<text x="891.3" y="43" font-size="23.5" font-style="italic" letter-spacing="-0.5">GATA2</text>
<line x1="961" y1="34.3" x2="1051" y2="16.7" stroke="#000" stroke-width="2"/>
<text x="977.7" y="63.1" font-size="23.5" font-style="italic" letter-spacing="-0.5">YAP1</text>
<text x="919" y="174" font-size="23.5" font-style="italic" letter-spacing="-0.5">TFAP2C</text>
<line x1="1009" y1="172" x2="1046.5" y2="186" stroke="#000" stroke-width="2"/>
<text x="946" y="244.5" font-size="23.5" font-style="italic" letter-spacing="-0.5">TEAD4</text>
<line x1="1001.5" y1="248" x2="1054" y2="306" stroke="#000" stroke-width="2"/>
<text x="914.5" y="280.5" font-size="23.5" font-style="italic" letter-spacing="-0.5">GATA3</text>
<line x1="986.5" y1="275.4" x2="1043.5" y2="306.6" stroke="#000" stroke-width="2"/>
<text x="949" y="322" font-size="23.5" font-style="italic" letter-spacing="-0.5">TEAD1</text>
<line x1="1002.4" y1="328.5" x2="1042" y2="400" stroke="#000" stroke-width="2"/>
<text x="862" y="345.6" font-size="23.5" font-style="italic" letter-spacing="-0.5">ASCL2</text>
<line x1="940" y1="340.5" x2="1036.6" y2="400" stroke="#000" stroke-width="2"/>
<text x="1332.3" y="28.3" font-size="41" font-weight="bold">c</text>
<text transform="translate(1464.41 64.41) scale(0.4476 0.5944)" font-size="100" font-weight="bold" fill="#F7A500">G</text>
<text transform="translate(1463.16 70.82) scale(0.5073 0.0764)" font-size="100" font-weight="bold" fill="#DC0000">U</text>
<text transform="translate(1464.33 77.12) scale(0.4683 0.0817)" font-size="100" font-weight="bold" fill="#0000E6">C</text>
<text transform="translate(1464.82 83.99) scale(0.4612 0.0868)" font-size="100" font-weight="bold" fill="#00B400">A</text>
<text transform="translate(1495.45 64.41) scale(0.4476 0.5944)" font-size="100" font-weight="bold" fill="#F7A500">G</text>
<text transform="translate(1494.19 70.82) scale(0.5073 0.0764)" font-size="100" font-weight="bold" fill="#DC0000">U</text>
<text transform="translate(1495.36 77.12) scale(0.4683 0.0817)" font-size="100" font-weight="bold" fill="#0000E6">C</text>
<text transform="translate(1495.85 83.99) scale(0.4612 0.0868)" font-size="100" font-weight="bold" fill="#00B400">A</text>
<text transform="translate(1526.89 65.62) scale(0.4612 0.6206)" font-size="100" font-weight="bold" fill="#00B400">A</text>
<text transform="translate(1525.23 70.82) scale(0.5073 0.0764)" font-size="100" font-weight="bold" fill="#DC0000">U</text>
<text transform="translate(1526.48 77.12) scale(0.4476 0.0817)" font-size="100" font-weight="bold" fill="#F7A500">G</text>
<text transform="translate(1526.40 83.82) scale(0.4683 0.0831)" font-size="100" font-weight="bold" fill="#0000E6">C</text>
<text transform="translate(1557.52 64.41) scale(0.4476 0.5944)" font-size="100" font-weight="bold" fill="#F7A500">G</text>
<text transform="translate(1556.27 70.82) scale(0.5073 0.0764)" font-size="100" font-weight="bold" fill="#DC0000">U</text>
<text transform="translate(1557.44 77.12) scale(0.4683 0.0817)" font-size="100" font-weight="bold" fill="#0000E6">C</text>
<text transform="translate(1557.93 83.99) scale(0.4612 0.0868)" font-size="100" font-weight="bold" fill="#00B400">A</text>
<text transform="translate(1588.56 64.41) scale(0.4476 0.5944)" font-size="100" font-weight="bold" fill="#F7A500">G</text>
<text transform="translate(1587.31 70.82) scale(0.5073 0.0764)" font-size="100" font-weight="bold" fill="#DC0000">U</text>
<text transform="translate(1588.48 77.12) scale(0.4683 0.0817)" font-size="100" font-weight="bold" fill="#0000E6">C</text>
<text transform="translate(1588.97 83.99) scale(0.4612 0.0868)" font-size="100" font-weight="bold" fill="#00B400">A</text>
<text transform="translate(1620.00 65.62) scale(0.4612 0.6206)" font-size="100" font-weight="bold" fill="#00B400">A</text>
<text transform="translate(1618.34 70.82) scale(0.5073 0.0764)" font-size="100" font-weight="bold" fill="#DC0000">U</text>
<text transform="translate(1619.60 77.12) scale(0.4476 0.0817)" font-size="100" font-weight="bold" fill="#F7A500">G</text>
<text transform="translate(1619.51 83.82) scale(0.4683 0.0831)" font-size="100" font-weight="bold" fill="#0000E6">C</text>
<text transform="translate(1650.55 64.41) scale(0.4683 0.5944)" font-size="100" font-weight="bold" fill="#0000E6">C</text>
<text transform="translate(1649.38 70.82) scale(0.5073 0.0764)" font-size="100" font-weight="bold" fill="#DC0000">U</text>
<text transform="translate(1650.63 77.12) scale(0.4476 0.0817)" font-size="100" font-weight="bold" fill="#F7A500">G</text>
<text transform="translate(1651.04 83.99) scale(0.4612 0.0868)" font-size="100" font-weight="bold" fill="#00B400">A</text>
<text transform="translate(1680.42 64.41) scale(0.5073 0.5861)" font-size="100" font-weight="bold" fill="#DC0000">U</text>
<text transform="translate(1681.67 70.82) scale(0.4476 0.0775)" font-size="100" font-weight="bold" fill="#F7A500">G</text>
<text transform="translate(1681.59 77.12) scale(0.4683 0.0817)" font-size="100" font-weight="bold" fill="#0000E6">C</text>
<text transform="translate(1682.08 83.99) scale(0.4612 0.0868)" font-size="100" font-weight="bold" fill="#00B400">A</text>
<text x="1750" y="57.1" font-size="28"><tspan font-style="italic">p</tspan> = 1E-386</text>
<path d="M1484 429.5V415.41H1496.96V413.74H1509.91V417.09H1522.87V414.41H1535.83V410.39H1548.78V416.08H1561.74V415.41H1574.70V411.39H1587.65V416.42H1600.61V413.07H1613.57V326.63H1626.52V314.24H1639.48V301.51H1652.44V306.87H1665.39V304.19H1678.35V297.15H1691.31V292.13H1704.26V280.07H1717.22V278.06H1730.18V202.01H1743.13V145.73H1756.09V429.5Z" fill="#E3E3F8"/>
<rect x="1756.7" y="277.4" width="11.8" height="152.1" fill="#E3E3F8"/>
<rect x="1769.6" y="312.2" width="11.8" height="117.3" fill="#E3E3F8"/>
<rect x="1782.6" y="345.7" width="11.8" height="83.8" fill="#E3E3F8"/>
<rect x="1795.6" y="350.1" width="11.8" height="79.4" fill="#E3E3F8"/>
<rect x="1808.5" y="359.1" width="11.8" height="70.4" fill="#E3E3F8"/>
<rect x="1821.5" y="369.2" width="11.8" height="60.3" fill="#E3E3F8"/>
<rect x="1834.4" y="376.9" width="11.8" height="52.6" fill="#E3E3F8"/>
<rect x="1847.4" y="376.2" width="11.8" height="53.3" fill="#E3E3F8"/>
<rect x="1860.3" y="394" width="11.8" height="35.5" fill="#E3E3F8"/>
<line x1="1614" y1="97" x2="1614" y2="429.5" stroke="#6E6E6E" stroke-width="2" stroke-dasharray="6 4"/>
<line x1="1743.7" y1="97" x2="1743.7" y2="429.5" stroke="#6E6E6E" stroke-width="2" stroke-dasharray="6 4"/>
<path d="M1485.7 404.4C1488.2 403.1 1495.4 398.1 1500.8 396.8C1506.3 395.6 1510.9 397.3 1518.1 396.8C1525.4 396.4 1536.2 394.0 1544.1 394.0C1552.0 394.0 1558.2 396.8 1565.7 396.8C1573.3 396.8 1584.4 395.6 1589.5 394.0C1594.6 392.4 1594.2 391.1 1596.4 387.1C1598.7 383.1 1600.8 376.6 1602.9 369.8C1605.0 362.9 1607.2 352.9 1609.0 346.0C1610.7 339.2 1611.8 334.8 1613.3 328.7C1614.8 322.6 1616.2 316.1 1618.1 309.2C1619.9 302.4 1622.1 294.1 1624.6 287.6C1627.0 281.1 1630.0 274.8 1632.8 270.3C1635.6 265.8 1638.4 263.0 1641.4 260.6C1644.5 258.1 1648.4 256.3 1651.2 255.6C1653.9 254.9 1655.2 255.9 1657.6 256.5C1660.1 257.0 1662.6 259.5 1665.6 259.1C1668.7 258.7 1671.6 256.3 1676.0 254.1C1680.4 251.9 1687.3 248.8 1692.0 245.7C1696.6 242.7 1700.1 239.4 1704.0 235.7C1707.8 232.1 1711.9 228.4 1714.9 223.7C1717.9 219.1 1719.8 214.4 1721.9 207.8C1724.1 201.1 1725.9 193.1 1727.9 183.8C1729.9 174.5 1732.1 161.9 1733.9 151.9C1735.7 141.9 1737.4 130.4 1738.9 123.9C1740.4 117.4 1741.7 115.1 1742.9 112.9C1744.1 110.8 1744.9 110.8 1745.9 110.9C1746.9 111.1 1747.7 111.1 1748.9 113.9C1750.0 116.8 1751.4 120.9 1752.9 127.9C1754.4 134.9 1756.0 144.9 1757.9 155.9C1759.7 166.8 1761.9 181.5 1763.9 193.8C1765.9 206.1 1767.8 218.8 1769.8 229.7C1771.8 240.7 1773.5 251.0 1775.8 259.7C1778.2 268.3 1781.2 275.0 1783.8 281.6C1786.5 288.3 1789.1 294.3 1791.8 299.6C1794.5 304.9 1796.8 309.6 1799.8 313.6C1802.8 317.6 1806.4 320.6 1809.8 323.6C1813.1 326.6 1816.1 328.6 1819.8 331.6C1823.4 334.6 1827.7 338.9 1831.7 341.5C1835.7 344.2 1840.4 345.5 1843.7 347.5C1847.0 349.5 1849.0 350.5 1851.7 353.5C1854.4 356.5 1857.0 361.2 1859.7 365.5C1862.3 369.8 1865.6 375.7 1867.7 379.5C1869.7 383.3 1871.3 387.0 1872.1 388.5" fill="none" stroke="#1E1EE0" stroke-width="2.6"/>
<rect x="1465.9" y="97.0" width="424.6" height="332.5" fill="none" stroke="#000" stroke-width="2"/>
<line x1="1457.9" y1="414" x2="1465.9" y2="414" stroke="#000" stroke-width="2"/>
<text x="1455" y="420.6" font-size="24" text-anchor="end">0.00</text>
<line x1="1890.5" y1="414" x2="1897.8" y2="414" stroke="#000" stroke-width="2"/>
<text x="1901.5" y="420.6" font-size="24">0</text>
<line x1="1457.9" y1="335.2" x2="1465.9" y2="335.2" stroke="#000" stroke-width="2"/>
<text x="1455" y="341.8" font-size="24" text-anchor="end">0.25</text>
<line x1="1890.5" y1="335.2" x2="1897.8" y2="335.2" stroke="#000" stroke-width="2"/>
<text x="1901.5" y="341.8" font-size="24">250</text>
<line x1="1457.9" y1="256.4" x2="1465.9" y2="256.4" stroke="#000" stroke-width="2"/>
<text x="1455" y="263.1" font-size="24" text-anchor="end">0.50</text>
<line x1="1890.5" y1="256.4" x2="1897.8" y2="256.4" stroke="#000" stroke-width="2"/>
<text x="1901.5" y="263.1" font-size="24">500</text>
<line x1="1457.9" y1="177.7" x2="1465.9" y2="177.7" stroke="#000" stroke-width="2"/>
<text x="1455" y="184.3" font-size="24" text-anchor="end">0.75</text>
<line x1="1890.5" y1="177.7" x2="1897.8" y2="177.7" stroke="#000" stroke-width="2"/>
<text x="1901.5" y="184.3" font-size="24">750</text>
<line x1="1457.9" y1="98.9" x2="1465.9" y2="98.9" stroke="#000" stroke-width="2"/>
<text x="1455" y="105.5" font-size="24" text-anchor="end">1.00</text>
<line x1="1890.5" y1="98.9" x2="1897.8" y2="98.9" stroke="#000" stroke-width="2"/>
<text x="1901.5" y="105.5" font-size="24">1000</text>
<line x1="1484" y1="429.5" x2="1484" y2="437.5" stroke="#000" stroke-width="2"/>
<line x1="1614" y1="429.5" x2="1614" y2="437.5" stroke="#000" stroke-width="2"/>
<line x1="1743.7" y1="429.5" x2="1743.7" y2="437.5" stroke="#000" stroke-width="2"/>
<line x1="1872.7" y1="429.5" x2="1872.7" y2="437.5" stroke="#000" stroke-width="2"/>
<text x="1547.7" y="460.6" font-size="27" text-anchor="middle">5'UTR</text>
<text x="1681.8" y="460.6" font-size="27" text-anchor="middle">CDS</text>
<text x="1809" y="460.6" font-size="27" text-anchor="middle">3'UTR</text>
<text x="1391" y="261.3" font-size="28" text-anchor="middle" transform="rotate(-90 1391 261.3)">Density of hypo peaks</text>
<text x="1982.5" y="261" font-size="28" text-anchor="middle" transform="rotate(-90 1982.5 261)">Number of hypo peaks</text>
<text x="-1.3" y="539.4" font-size="41">d</text>
<path d="M266.4 771.8h0M260.8 687.9h0M231.3 757.1h0M222.6 824.7h0M232 861.1h0M233.8 771.8h0M241.1 620.8h0M286.5 827.5h0M274.9 732.5h0M238.4 751.6h0M225.9 819.7h0M244.3 661.2h0M218.6 801.5h0M216.6 736.7h0M238.6 769.4h0M246.2 873.5h0M272.8 724.7h0M226.6 689.6h0M238 754.8h0M289.5 729.8h0M243.9 687.3h0M229.6 728.2h0M259.5 780.7h0M271.9 895.5h0M247.3 829.6h0M219.9 713.9h0M241 669.5h0M226.2 769.5h0M239.9 695.6h0M232.8 749.8h0M253.3 860.6h0M243.9 674.7h0M224.6 684.8h0M220.5 709.5h0M255.6 683h0M263.3 632.9h0M237.6 808.4h0M244.9 649.3h0M281.9 792.9h0M232.1 722.5h0M240.8 709.6h0M267.5 742.9h0M244.2 815.9h0M236.2 720.6h0M226.9 784.1h0M249.7 580.2h0M265.3 739.6h0M235.6 735.3h0M235.2 805.3h0M283.2 720.5h0M220.6 820.4h0M242.5 793.5h0M246.4 857.6h0M235 797.1h0M230.6 789.1h0M231.8 827.2h0M255.1 795.7h0M235.3 853.5h0M217.6 753h0M236.4 695.5h0M262.3 711h0M284.2 910.7h0M275.2 669h0M246.7 714.7h0M229.5 682.9h0M251.8 814.3h0M262.2 717.8h0M262.4 636.5h0M233.7 841h0M264 747.9h0M276.3 735.8h0M222.8 795.7h0M264.3 742.6h0M220.4 807.6h0M272.8 671.8h0M293.8 891.5h0M283.7 745.8h0M234 807.9h0M239.3 774h0M275.5 838h0M241.1 654.3h0M222.5 714.1h0M218.7 771.1h0M240.6 745h0M226.3 792.1h0M223 759.4h0M219.4 815.3h0M263.3 833.3h0M260.1 804.6h0M218.1 750.8h0M269.7 780.6h0M265.4 722.6h0M232.2 718.8h0M297.3 758.4h0M229.3 839h0M270 761.9h0M264.9 629.6h0M316.3 902.4h0M244.2 775.6h0M237 732.6h0M234.9 811h0M244.6 750.4h0M221.4 775.9h0M224.7 708h0M255.5 792h0M248.2 734.5h0M227.6 756.3h0M223.8 767.8h0M298.5 930.2h0M243.1 849.4h0M234.6 801.9h0M234.2 736.5h0M232.7 726.5h0M264.9 803.5h0M243.8 804.8h0M252.3 791.2h0M239.1 653.1h0M240.5 638.7h0M230.4 784.4h0M256.9 648.8h0M232.9 711.8h0M220.7 701.1h0M224.3 720h0M289.7 758.7h0M255 944.5h0M234.1 773.1h0M236.8 792.7h0M240.2 855.1h0M293.3 865.3h0M241.5 670.4h0M285.9 885.5h0M298.2 715.8h0M244 763.1h0M226.2 677.7h0M233.4 763.1h0M232.6 677.2h0M218.6 783.6h0M272.3 918.5h0M217.1 824.1h0M241.1 694.6h0M229.6 766.6h0M235.8 704h0M244.1 695.3h0M223 725.2h0M223.3 834.2h0M228.8 846.9h0M217.1 762.3h0M230.7 710.6h0M210.9 779.5h0M234.3 684.8h0M265.1 655.1h0M246.9 696.8h0M241.8 773.3h0M240.6 746.1h0M218.4 767.8h0M233.5 765.3h0M234 686.6h0M254.4 768h0M245.2 712.7h0M264.4 749.8h0M258.5 842.4h0M274.5 777.3h0M284.1 746.9h0M273.2 692.7h0M230 712h0M232.7 714.8h0M270.1 806.9h0M251.4 798.5h0M229.6 770.5h0M221.1 754.7h0M249.5 667.4h0M216.9 746.7h0M215.5 799.7h0M236.4 850.9h0M249.1 704.2h0M243 854h0M255.3 811.4h0M225.4 744.2h0M280.2 686.9h0M250 768.8h0M231.6 701.5h0M239.1 771.1h0M305.9 784.9h0M252.8 877.4h0M239.1 832.7h0M271.1 703.1h0M272.9 730.4h0M249.2 799.2h0M244.4 755.8h0M279 789.5h0M255.3 895.9h0M289.2 916h0M228.7 798.4h0M228 702.4h0M222.8 790.6h0M233.9 793h0M245.9 784.6h0M271.2 759.2h0M219 727h0M224.8 778.1h0M251 756.4h0M281.5 733.6h0M227.5 732.1h0M239.1 715.7h0M249.1 839.7h0M239.7 739.7h0M253.5 891h0M240.8 803.5h0M293.8 745.1h0M243.5 739.9h0M235.9 749.1h0M235.4 712.6h0M262.4 907.9h0M225.5 817.1h0M274 836.7h0M261.9 752h0M231.1 733h0M259.5 767.7h0M260.6 603.9h0M224.6 770.5h0M258.4 774.1h0M288.8 843.3h0M238.7 849.4h0M236.5 691.8h0M212.1 794.1h0M229.7 726h0M258.9 860.2h0M232.6 786.7h0M253.9 728.1h0M273.4 856.1h0M221.9 731.9h0M224.4 807.5h0M230.2 652.9h0M221.8 785.5h0M237.8 640.4h0M221.7 776.7h0M275.4 684.2h0M231.5 770.6h0M275.5 876.1h0M219.5 732.9h0M216.6 749.5h0M257.6 816.3h0M226.7 846.1h0M359.8 848.1h0M263.1 784.5h0M224.2 709.2h0M223.1 802.6h0M285.1 839.6h0M257.8 863h0M277.8 827.3h0M239.4 805.5h0M330.5 708.4h0M247.6 775.9h0M245.1 908.3h0M241.5 804.7h0M219 742.2h0M319.2 611.3h0M262.8 783.1h0M325.1 891.1h0M216.1 805.5h0M246.4 739.8h0M236 863.5h0M217.4 813.2h0M290.1 739.9h0M247 744.5h0M218 772h0M211.9 777.9h0M263.7 709h0M232.3 756.9h0M224.8 736.3h0M262.9 779.4h0M218.2 779.2h0M242.9 759.1h0M233.6 585h0M325.5 742.5h0M252.3 614.8h0M219.1 764.2h0M253.5 678.6h0M228.4 756.2h0M225.6 775h0M312.4 833.6h0M232.2 824.2h0M276.7 694.1h0M286.2 729.7h0M269.1 792.9h0M258.2 685.9h0M301 846.8h0M233.8 835.3h0M250 750.8h0M219.3 826.9h0M272.2 788.8h0M228.8 819.2h0M229.2 735.7h0M215.1 776.7h0M223.4 745.6h0M241.6 743.4h0M231 746.2h0M232.9 720.1h0M234.5 746.4h0M282.3 800.9h0M251.2 676.2h0M226.5 791.5h0M233.6 767.2h0M220.9 721.4h0M235.6 837h0M262.6 838.2h0M234.8 751.2h0M276.4 904.7h0M307.7 896.3h0M228.4 730.9h0M232.6 753.5h0M228.1 844.7h0M230.6 706.1h0M225.3 758.7h0M274.9 808h0M228.2 812.8h0M225.7 750.7h0M241.2 824.8h0M232.7 856.4h0M243.8 746.4h0M219.7 820.1h0M241.4 848.3h0M232.1 691.7h0M270.4 801.4h0M251.1 662.5h0M262.7 830.4h0M235.4 668.4h0M221.8 734.2h0M249.4 789.5h0M214.9 786h0M271.5 826.8h0M211.9 771.8h0M268.7 821.1h0M260 695.2h0M262.4 672.4h0M278.9 741h0M241.2 787.8h0M299.6 855h0M271.4 698.9h0M285.4 805.3h0M238.7 759.4h0M230.7 873.2h0M217.7 740.8h0M269.9 671.8h0M241.3 784h0M221.7 760.9h0M272.9 808h0M248.9 746.4h0M281.1 737.5h0M253.5 705.6h0M229.2 821.1h0M240.8 559.2h0M225.3 800.7h0M223.1 808.9h0M254.9 693.9h0M280 747.9h0M221.3 732.9h0M233.9 810.8h0M288.2 696.3h0M254.1 863.8h0M308.9 757.2h0M240 815.4h0M218.3 746h0M314.1 844.4h0M277.5 672.5h0M240.4 790.8h0M238.5 787.6h0M240.1 813.2h0M274.2 746.8h0M248.9 733.4h0M266.2 835.9h0M219.7 761.9h0M242.8 892.2h0M273.9 697.5h0M253.8 883.7h0M261.6 892.6h0M251.2 813.1h0M227.5 669.5h0M296.2 818.9h0M214.6 769.5h0M250.4 763.2h0M223.5 778.1h0M258.7 625.2h0M253.6 751.3h0M240.8 858.5h0M234.8 724.2h0M259.5 758.1h0M219.2 816.6h0M261.9 839.4h0M258.2 712.6h0M240.5 784.8h0M220.3 718.8h0M252.8 795.4h0M252.2 991h0M244.4 853.2h0M222.5 819.2h0M241 568.7h0M242.7 752.6h0M222.1 828.1h0M214.9 754.6h0M229.8 679h0M243 679.4h0M262 781.9h0M269.1 928h0M242.5 748.5h0M267.1 728.4h0M235.1 689.9h0M262.9 840.6h0M244.7 769.6h0M274.6 745.3h0M242.6 728.7h0M229.4 698.2h0M248.9 801.6h0M256.6 850.3h0M211.3 786.3h0M230.4 804.8h0M249.6 840.8h0M247.8 706.3h0M246.7 699.1h0M230.8 697.7h0M224.4 713.5h0M234.1 731.2h0M254.8 805h0M266.3 801.4h0M266 753.1h0M252.1 634.8h0M255.8 724.4h0M254.7 818.3h0M212.1 773.3h0M219 809.5h0M254.8 656.3h0M225.7 688.3h0M224.2 764h0M265 808.3h0M225.4 726.5h0M235 808.8h0M276.3 892.1h0M245.7 840.8h0M265.7 718.7h0M260.1 814.6h0M248.2 670.8h0M217.6 761h0M252.5 710.8h0M256.5 733.2h0M250.8 736.1h0M242 608.2h0M257.9 792.6h0M293.8 831.3h0M242.7 913.1h0M274.4 734.7h0M242.9 666h0M250.9 767.6h0M284.5 680.1h0M278.9 784.2h0M230.2 781.7h0M284.1 715.6h0M319 767h0M226.6 730.4h0M304.7 660.5h0M244.5 779.4h0M214.8 741.5h0M223.6 820.6h0M235.7 743.4h0M278.1 902h0M261.3 846.7h0M233.6 790.7h0M269.1 610.4h0M276.9 632.3h0M290.7 678.1h0M249.6 709.1h0M282 703.7h0M212.6 791.5h0M217 788.8h0M272.3 924h0M223.6 785.7h0M263.5 834.3h0M247.1 734.6h0M268.1 893.1h0M275.2 811.2h0M256.8 934.9h0M248.5 808.9h0M216.4 778.6h0M254.6 952.8h0M263.1 740.7h0M277.6 801.3h0M252.3 663.6h0M260.1 865.9h0M268.9 843.8h0M218.9 735.1h0M232.2 813.4h0M229.8 790.3h0M220.2 809.7h0M229.6 666.1h0M237.3 707.1h0M225.3 734.6h0M303.8 700.2h0M230.6 840.5h0M222.9 700.1h0M270.7 728.1h0M296.1 696.9h0M282.2 739.6h0M259.3 823h0M215 805.4h0M311 770.3h0M260.1 835h0M219.4 819.1h0M312 814.3h0M305.8 848h0M252.3 854.1h0M217.9 795.1h0M263.9 821.2h0M256.4 676.7h0M273.8 775.5h0M257.1 780.4h0M270.2 712.9h0M241.8 781h0M256 776.5h0M245.1 687.7h0M255.5 702.8h0M245.9 789.9h0M259.6 872h0M243.6 819.5h0M247.2 797.5h0M288.4 885.6h0M238.3 887.6h0M262 848.1h0M281 742.6h0M257.3 752h0M267.5 759.7h0M278.9 787.9h0M247.1 678.1h0M223.2 730.4h0M274.6 787.3h0M226.5 740h0M224.6 839.8h0M245 761.5h0M246.6 693.6h0M225.5 752.2h0M214.6 779.2h0M309.9 673.3h0M227.7 744.7h0M294.9 727.7h0M255.6 830.4h0M238.1 766.3h0M230.8 852.9h0M241.8 780h0M234.8 732.9h0M258.4 812.2h0M294.4 657.4h0M271.8 763.6h0M264.6 736.6h0M216.6 786.4h0M268.9 746.5h0M229 752.8h0M238 675.6h0M250.2 816.4h0M213.2 767.2h0M260 747.5h0M267.7 826.3h0M253.8 797.4h0M269.3 774.7h0M233.6 808.9h0M287.8 810.6h0M250.9 823.1h0M284.1 809.3h0M231.5 832.3h0M270.4 749.5h0M245.8 866.4h0M235.1 798.8h0M240.3 770.6h0M241 713.6h0M226.1 720h0M238.1 814.5h0M249.3 827.3h0M215.5 817.5h0M219.9 774.7h0M223.8 733.2h0M219.2 830h0M286.4 799.6h0M276.8 891.7h0M242.8 788.9h0M219.5 725.9h0M234.4 793.5h0M274.7 757h0M217.9 759.7h0M259.6 698.2h0M247.4 909.2h0M266.5 793.3h0M256.8 830.7h0M240.6 767.3h0M231.2 698.7h0M238.8 765h0M240.9 826.1h0M287.3 757.8h0M260 848.1h0M254.7 728.6h0M269.2 809h0M237.7 789h0M292.3 738.5h0M312.8 742.7h0M244.7 766h0M261.5 727.5h0M258.4 734h0M257.8 909h0M271.1 828.4h0M251.6 768.9h0M243.7 702.6h0M260 803.4h0M267.6 650.2h0M226.1 837.6h0M267.4 783.1h0M299.9 627.2h0M285.3 729.1h0M249.5 731.3h0M215.8 775.5h0M237.5 686.9h0M297 561.4h0M221.7 751.4h0M265.4 791.3h0M265 689.1h0M239.4 634.8h0M224.7 747.2h0M239.2 748.6h0M221.1 831.3h0M249.3 703.4h0M238.2 788.9h0M215.3 735.6h0M248.1 713.3h0M324.3 921.5h0M230 749.3h0M299.1 759.6h0M246.8 674.2h0M231 821.3h0M229.3 739.5h0M231.5 811.4h0M213.4 788.3h0M218.6 806.6h0M236.8 892.2h0M256.5 820.6h0M250.3 856.8h0M237 764.3h0M231.1 693.8h0M316.9 874.5h0M253.3 784.8h0M291.1 733.6h0M221.2 780.3h0M253.4 733.8h0M279.9 772.3h0M225.3 740.3h0M256.4 678.4h0M281.2 677.4h0M281.6 750.3h0M251.7 721.5h0M248.1 791.3h0M270.7 791.3h0M221.4 723.1h0M270.9 819.9h0M248.7 865.1h0M212.3 787.5h0M257.6 825.4h0M237 675.9h0M232.2 697.5h0M220.6 823.3h0M298.8 752h0M237 873h0M222.1 721.4h0M235.8 767.5h0M229.3 708.6h0M228.3 826.4h0M251.3 806h0M271.9 781.5h0M260.7 689.6h0M258.6 763.4h0M249.4 824.6h0M268.4 770.8h0M234.6 885.1h0M223 840.3h0M268.7 899.7h0M248.8 750h0M296.1 755.1h0M227.2 839.4h0M261.8 764.5h0M299.1 780.7h0M313.1 746.5h0M275.4 849.3h0M245.5 820.9h0M311 726.3h0M229.3 704.5h0M266.2 858.9h0M230.3 689.4h0M225.7 693.7h0M253.4 824.4h0M265.2 660.2h0M251.6 734.6h0M247.5 816.4h0M275.5 789h0M226.2 783.8h0M243.5 988.4h0M236.6 794.3h0M299.8 716.2h0M255.7 979.7h0M236.7 769.6h0M270.3 854.6h0M297.4 626.5h0M245.6 711h0M235.8 830.7h0M246 639.8h0M250.8 733.1h0M248.4 638.3h0M268.6 721.2h0M247.3 780.1h0M269.4 772.7h0M242.4 668.9h0M240.5 672.2h0M261.9 694.7h0M225.7 764.4h0M241.4 756.6h0M227.3 778.3h0M270.4 824.7h0M248 761.4h0M248.6 812.4h0M266.9 810.6h0M231.3 650.8h0M263.1 843.2h0M235.3 828.1h0M272.7 780.2h0M248.8 685.9h0M249.9 833.5h0M288.7 791.1h0M299.2 664.3h0M216 774.5h0M256.4 786.4h0M266 840.1h0M227 853.4h0M231.3 774.9h0M267.1 763.2h0M286.3 860.8h0M251.8 929.1h0M241.1 729.7h0M228.2 764.7h0M293.3 757.7h0M321 765.1h0M234.9 762.4h0M259 666.7h0M246.4 732.6h0M213.5 778.6h0M304 592.9h0M221 790.5h0M251.3 832.3h0M225 742.4h0M232 708.7h0M226.7 825.3h0M212.6 799.3h0M287.9 768.6h0M345.4 829.2h0M305.7 828.2h0M244.6 850.3h0M262.9 811.8h0M266.2 854.4h0M325.4 860.9h0M223.7 832.9h0M246.1 893.6h0M309.1 814h0M252.7 800.9h0M266.5 713.8h0M221.6 829.1h0M269.3 799h0M253.6 846h0M232.2 823.3h0M268.1 689.2h0M273.6 752.7h0M258 846.5h0M258.5 716.7h0M234.3 690.5h0M231.3 772.1h0M269.5 731.6h0M218.3 763.9h0M214 744.6h0M218.6 811.6h0M234.8 789.3h0M219.6 773.3h0M226.6 766.8h0M297.6 824.8h0M230.2 813h0M221.2 797.1h0M248.5 820.5h0M217 800.2h0M284.3 851.2h0M286.3 867.3h0M275.4 697.2h0M237.2 816.1h0M226 813.1h0M242 673.9h0M262.4 656.3h0M330.3 705.1h0M252.1 786.6h0M232.8 730.8h0M222.1 726.1h0M270.5 965.6h0M239.6 729.4h0M239.6 900.8h0M240.2 817h0M232.7 706.8h0M291.1 891.8h0M252.7 594.7h0M219.8 813.1h0M223.9 713.2h0M217.5 720h0M266.6 816.2h0M280 798.6h0M239 795.8h0M248.9 854.8h0M252.5 754.5h0M222 749.7h0M220.4 717h0M250 741.6h0M222.6 746.4h0M250.9 787.5h0M227.9 678.9h0M237.4 827.4h0M238.9 796.2h0M248 837h0M244.8 817.3h0M264.7 885h0M269.1 726.6h0M222.6 801.3h0M227 771.7h0M253.1 875.6h0M220.9 762.7h0M252.9 669.1h0M212.8 760.3h0M339.1 666.5h0M263.7 829h0M239.6 760.6h0M313.1 685h0M269.1 733.4h0M265.9 772.1h0M249.2 742h0M245.2 708.6h0M232 647h0M234.5 740.3h0M221.1 783.7h0M219.8 804.1h0M232.8 826.4h0M221.9 710.5h0M279.8 924.6h0M230.2 765h0M231.6 869.5h0M213.1 783.9h0M275.1 773.7h0M255.9 793.2h0M246.9 843h0M272.7 770.1h0M217 770.1h0M245.4 651.6h0M240.4 844.7h0M259.6 824.4h0M290.4 697.3h0M243.2 762.2h0M265.6 821h0M246.4 855.5h0M280.4 898.7h0M232.3 644.4h0M290.3 800.8h0M243.5 822.5h0M268.2 741.7h0M281.8 913.3h0M320.6 745.8h0M225.9 780.7h0M236.7 861.8h0M222 772.7h0M283.1 817.9h0M236.5 678.7h0M253.5 779.3h0M258 759.5h0M255.2 800.8h0M311.6 872.7h0M233.2 799.4h0M311.9 656.2h0M230 642.5h0M227.9 729.2h0M239.7 799.7h0M246.3 792.4h0M239 693.9h0M223.2 844.5h0M263.6 730.3h0M256.7 804.8h0M247.4 837.2h0M256.1 828.8h0M303.5 742.6h0M240.2 839.4h0M295.4 738.4h0M284.2 962.5h0M234.1 778.5h0M255.9 629.2h0M241 677h0M265.6 646.4h0M231.5 839.7h0M242.7 794.7h0M232.2 666.3h0M266.4 680.3h0M235.2 744.4h0M291.3 816.4h0M212.3 781.4h0M269.5 785.5h0M223.8 769.1h0M239.2 800.2h0M242.2 705.9h0M233.8 761.6h0M244.9 777.7h0M216.8 811.8h0M215.9 818.1h0M298 718.8h0M245 883.3h0M213.4 752.9h0M227.1 663.6h0M227.4 747.8h0M244.7 611.8h0M244.2 748.9h0M224.7 760.1h0M272.7 802.7h0M247 800.1h0M298.5 763h0M215 750.5h0M227.4 680.5h0M287 730.3h0M212.4 776.6h0M254.9 711h0M269.4 907.1h0M276.3 761.2h0M232 755.7h0M247.6 846.4h0M319 746.7h0M258.1 683.7h0M230.3 836.8h0M287.2 841.2h0M220.6 778.2h0M250.9 764.1h0M226.1 827.1h0M255.6 869.2h0M254.4 835h0M253.4 810.7h0M222.8 799.2h0M217.1 727.8h0M296.3 815.4h0M216.4 739.4h0M215.9 791.3h0M255.8 772.8h0M239 854.3h0M228.3 806.9h0M283.8 888.3h0M234.8 870.1h0M215.5 747.5h0M228.4 865.1h0M294 710h0M241.9 619.1h0M220.4 787h0M277.6 766.2h0M236.7 697.1h0M241.4 648.5h0M262 752.7h0M340.2 813.9h0M257.8 859.6h0M232.8 804.5h0M285.2 895.2h0M238.1 757.3h0M236.8 744.7h0M275.4 579.9h0M237.4 797.7h0M274.9 881.6h0M301.7 735.5h0M235.7 780.6h0M280.7 834.8h0M232.4 777.5h0M261.1 771.6h0M253.2 581.1h0M260.9 857.8h0M254.9 809.4h0M250.1 937.3h0M237.3 762.4h0M278.5 765h0M262.7 852.8h0M269.6 796.3h0M261.1 754.6h0M276.7 712.5h0M275.9 794.2h0M256.1 973.4h0M258.8 693.9h0M244 771.7h0M237.8 684.9h0M222.5 709.1h0M265 784h0M223.5 756.1h0M253.9 760.3h0M229.5 741.7h0M252.8 814.9h0M252.9 696.8h0M247.8 642.7h0M259.9 708.5h0M230.1 728h0M230.2 661.8h0M271 840.8h0M252.2 851.4h0M228.9 808.6h0M260.9 852.4h0M288.4 781.3h0M232.3 803.2h0M259.1 786.6h0M225 797.6h0M267.1 847.2h0M258.3 706.6h0M279.1 815.6h0M245.5 658.7h0M307.5 772.2h0M269.4 745.9h0M242.7 908.9h0M280.1 769.1h0M253.4 709.1h0M221.4 738h0M282.4 852.2h0M233.8 780h0M336.4 807.2h0M247.4 884.8h0M242.7 831.1h0M229.7 747.2h0M220.8 832.1h0M236.9 742.7h0M249.2 763h0M227.2 736.1h0M240 821.1h0M231.8 864h0M288.8 846.4h0M226.1 840.4h0M225.3 782.3h0M247.2 807.9h0M258 814.2h0M220 803.9h0M225.6 798h0M266.6 755.8h0M229.7 804.2h0M254.5 751h0M245.2 803.5h0M259 792h0M234.8 739.9h0M274.4 854.2h0M242.6 862.1h0M283.9 725.1h0M259.3 785.4h0M257.7 806.6h0M248.5 796.9h0M245.5 792.4h0M238.4 884.2h0M237.9 910.2h0M280.7 862h0M211.9 786h0M286.3 763.5h0M264.3 834.8h0M238.3 839.1h0M258.7 878.4h0M219.9 749.1h0M227.8 750.9h0M232.4 855.5h0M224.7 815h0M242 829.4h0M283 697.3h0M243.3 761.9h0M229.1 672.4h0M244.1 846.4h0M235.2 850.6h0M227.8 666.3h0M260.6 764h0M257.3 855.7h0M245.8 782.3h0M319 831.2h0M244.3 794.1h0M251.6 801.9h0M245.5 694h0M258.4 649.9h0M245.6 843.6h0M227.8 657.7h0M243.9 693h0M227.4 800h0M269.8 846h0M251.1 830.9h0M238 782.8h0M254.3 723.1h0M219.5 790.9h0M229.3 686.1h0M214.3 766.9h0M230.6 754.5h0M230.4 745.1h0M275.1 674.4h0M227.9 700.5h0M226.5 738h0M259.6 833.8h0M210.8 788.5h0M248.6 676.5h0M286.3 714.8h0M273.7 723.7h0M238 648.3h0M228.6 781.2h0M235.6 647.8h0M261.6 741.5h0M233.6 695.6h0M265.9 807.1h0M227.8 844.2h0M258.6 723.4h0M288.5 793.3h0M282.2 705.6h0M240.9 666h0M286 772.8h0M222.7 762h0M267.4 692h0M254.7 748.7h0M281.2 662.3h0M261.2 829.6h0M255.1 697.1h0M239.3 726.3h0M283.7 805.2h0M222.2 813.1h0M235.2 783.5h0M236.2 844.6h0M250.8 828.4h0M257.6 685.9h0M226.2 822.9h0M278.2 845.8h0M227.2 726.2h0M261.4 713.2h0M233.3 702.4h0M254.1 797h0M250.4 779.1h0M233.6 882.3h0M245.4 719.3h0M273.6 893.2h0M294.9 875.3h0M251 807.1h0M267.2 720.5h0M252.5 936.8h0M236 857.4h0M239.3 723.5h0M253.5 706.3h0M259.1 874.2h0M235 815.6h0M263.2 796.1h0M278.2 758.6h0M231.1 854.4h0M253 790h0M327.9 708.3h0M253.5 812.9h0M271.6 812.2h0M230.1 720.6h0M270.7 784.9h0M232.8 778.7h0M282.5 803.6h0M264.4 771.6h0M239.4 688h0M228.1 743h0M250.3 703.2h0M274.9 750.7h0M247.9 747h0M218.5 787.6h0M296.4 724h0M265.6 804.9h0M265.2 850h0M245.3 829h0M273.5 755.5h0M234.7 697.1h0M228.3 825.7h0M222.1 831.3h0M218.9 798.8h0M279.4 727.9h0M249.9 695.7h0M255.4 659.3h0M279.9 746.7h0M253.4 823.2h0M233 688.5h0M260.4 662.4h0M260.8 788.7h0M214.1 795.1h0M222.6 781.9h0M281 886.3h0M248.7 724.8h0M267.3 715.7h0M261.3 643.6h0M249.3 859.3h0M255.8 784.3h0M296 903.8h0M261 746.7h0M227.4 830.3h0M251.8 863.6h0M244.8 831.8h0M224.5 724.8h0M236 568.8h0M227 712.5h0M251.9 679.1h0M335.5 776h0M262.2 872.9h0M249.5 891.2h0M216.5 806.8h0M225.8 711.3h0M252.7 879.5h0M228.9 713.1h0M221.8 793h0M227.6 842.5h0M257.4 826.3h0M267.2 581.7h0M256.8 795.7h0M220.6 727.6h0M227.6 773.6h0M241.1 799.6h0M221.3 834.1h0M272.2 782.6h0M251 749.4h0M285.8 788.2h0M222.8 737.6h0M293.9 809.9h0M277.2 815.6h0M261.2 700.3h0M249.2 793.2h0M244.1 798.1h0M244.4 664.8h0M263.8 837.8h0M255.4 761.8h0M287.8 784.9h0M253.6 674.8h0M247 754.2h0M294 788.5h0M312.9 774.6h0M233.2 744.1h0M275.1 727.6h0M212.9 769.9h0M272.6 942h0M274.4 847.7h0M242.7 765.7h0M241.6 721.6h0M275.3 779.3h0M237.1 818h0M249.4 780.8h0M253.1 699.8h0M230.8 806.4h0M279 780h0M252.4 768.7h0M329 892.2h0M262.2 798.8h0M275.2 803h0M219.9 834.8h0M264.4 666.8h0M261.3 627h0M304.2 705.2h0M224.3 696h0M222.7 741h0M272.8 832.2h0M252.8 638.9h0M259.3 887.8h0M231.4 863.1h0M264.5 843.3h0M218.9 719.5h0M226.6 849.4h0M235.2 813.4h0M213.5 763h0M291.6 827.1h0M288.5 666.3h0M244 706.2h0M267.4 621.7h0M267 751.4h0M264.8 707.9h0M252.8 868.1h0M219.5 752.3h0M226.3 819.8h0M234.9 890.9h0M249 853.1h0M241.8 763h0M238.5 736.9h0M227.7 834.1h0M218.3 785.8h0M257.7 812.8h0M213.1 751.8h0M236.2 725.5h0M253.1 757.8h0M215.2 753.7h0M234.1 856.2h0M259.4 646.2h0M238.2 643.6h0M318.1 756.4h0M255.7 676.9h0M239.7 772.1h0M264.9 833.2h0M282.8 879.5h0M298 762.9h0M273.9 793.8h0M248.6 817.6h0M257 819.5h0M253.9 799.7h0M230.7 799.4h0M266.9 699.3h0M278.4 805h0M280.3 764.3h0M254 799.7h0M265.4 732.9h0M239.7 702.5h0M319.4 662.7h0M236.1 799.9h0M273.7 816.4h0M294.5 778.7h0M259.5 834.3h0M318.1 720.2h0M270.5 862h0M271.7 778.3h0M304.8 748h0M255.4 865h0M275.6 942.7h0M215.9 788.9h0M233.5 669.7h0M256 720.8h0M294.8 737h0M250.1 791.9h0M251.1 673h0M233.8 698.7h0M289.3 751h0M258.1 819.4h0M220.2 741h0M250.9 810.5h0M241.1 572.8h0M229.7 745.8h0M270.3 707.6h0M257.7 638h0M276.8 665.3h0M254.8 776.3h0M327.6 904.3h0M235.2 873.8h0M248.8 698.4h0M242.4 861.8h0M216.9 733.8h0M220.1 795.1h0M277 810.3h0M259.8 838h0M244.6 674.4h0M242.1 731.1h0M326.6 685.3h0M225.4 767h0M236.3 830.7h0M280.8 779.6h0M243.2 775.8h0M234.4 715.7h0M237.5 720h0M257.1 874.5h0M239.4 907.3h0M264.9 876.9h0M236.8 877.5h0M238.5 681h0M252.9 900.1h0M267.3 719.1h0M283.6 919.8h0M226.7 813.1h0M273.7 874.2h0M263.4 791.6h0M214.5 758.2h0M264.1 851.7h0M255 849h0M221.8 746.7h0M232.8 692.7h0M241.1 888.4h0M240.5 838h0M239.3 734.5h0M228.6 696h0M258.8 688.5h0M216.7 764.8h0M281.5 789.5h0M326.8 731.3h0M320.7 913.1h0M223.6 685.6h0M284.7 798.5h0M219.1 793.9h0M229.4 811.3h0M227.2 710.2h0M263.4 719.1h0M255.1 851.7h0M232.5 670.4h0M277.4 844.1h0M241.6 891.1h0M251.2 879.2h0M241.3 860.6h0M324.3 812.1h0M267.2 904h0M240.4 755.2h0M267 935.8h0M268.7 817.3h0M258.1 841.3h0M247.7 778.6h0M247.3 722.9h0M237.3 811.2h0M228.4 863.6h0M248.9 774.3h0M255 641.7h0M274.2 770.3h0M283.1 759.1h0M229.3 675.7h0M248.4 829h0M250 794.3h0M268.7 852.8h0M233 872.2h0M239.9 874.3h0M272.7 706.1h0M251.4 840.8h0M241.8 843.9h0M247.6 834.8h0M232.3 783.7h0M260.9 840.8h0M221.5 840.9h0M256.3 772.5h0M273.4 764.3h0M292 809.6h0M276.9 854.7h0M244.3 609.8h0M256.5 755.4h0M281.6 685.6h0M242.2 737.3h0M267.9 856.1h0M231.6 705.3h0M231.9 759.3h0M272.8 878.7h0M257.8 702.1h0M225 835.5h0M228.5 768.7h0M248 831h0M229.2 859.1h0M217.4 754.4h0M230.8 703.3h0M219 714.6h0M299.6 872.4h0M285.6 802.5h0M310.9 749.3h0M219.8 729.6h0M224.5 808.3h0M267.6 933.2h0M242.5 685.9h0M270.6 645.5h0M311.1 805.3h0M227.3 718.6h0M225.2 729.4h0M231.9 831.3h0M220.5 745.7h0M258.4 704.4h0M286.6 711.3h0M230.7 751.7h0M345.7 788.5h0M281.9 919.6h0M276.9 785.5h0M278.3 820.9h0M229.5 649.3h0M281.3 812.4h0M275.4 749.8h0M260.6 859.8h0M266.5 862.7h0M242.8 677.8h0M223.6 682.6h0M234.7 835.3h0M274.4 767.1h0M272.4 801.9h0M321.6 814.9h0M263.3 977.9h0M233.2 862.2h0M216.6 803.4h0M230 761.5h0M247 859.7h0M267.3 694.7h0M237.8 756.9h0M248.5 845.8h0M270.7 732.5h0M258.9 673.2h0M236.3 859.5h0M227.9 735.4h0M237.5 658.3h0M270 792.2h0M272.4 778.1h0M244 834h0M229 754.4h0M229.8 733.6h0M270.3 688.8h0M223.6 796.9h0M327.5 777.4h0M220.2 810.4h0M220.6 813.3h0M244.5 857.2h0M236.5 703.3h0M255.1 807.7h0M290.2 812.2h0M259.1 845.2h0M237.8 875.3h0M264.9 762.6h0M242.1 902.2h0M218.9 822.1h0M234.8 708.5h0M340.2 629.6h0M246 786.6h0M255.7 741.8h0M223 694h0M302.6 738.5h0M260.8 801.7h0M212.7 803.3h0M268.6 738.6h0M251.2 693.8h0M268.6 682.3h0M228.7 815.9h0M256.1 848.7h0M300.9 719.1h0M261.2 723.2h0M266 849.9h0M229 670.2h0M260.9 743.8h0M270.4 832.7h0M254.3 771.1h0M232.8 759h0M263.6 817.3h0M305.3 647.9h0M230.2 777.5h0M307.9 754h0M304.5 895h0M263.8 777.1h0M257.9 687.7h0M237.7 780.4h0M264.9 817.8h0M239.8 825.3h0M243.3 924.7h0M284.7 745.4h0M232.7 649h0M284.5 834.6h0M265.9 914.9h0M230.4 728.8h0M231.3 790.4h0M255.9 778.7h0M256.4 747.4h0M256.8 783.3h0M240.1 749.9h0M277.3 725.4h0M280.1 795.3h0M229.7 773.6h0M269.1 776.9h0M253.4 857.9h0M257.5 771.5h0M247.2 844.9h0M265.9 718h0M250.7 775.9h0M274.9 614.9h0M247.4 782.2h0M308.1 831.7h0M235 839.1h0M293.1 862.3h0M256.2 712.8h0M253.9 740.4h0M238.2 812.4h0M236.5 747.1h0M251.9 690.8h0M266.8 860.3h0M276.3 692.9h0M223.7 770.7h0M244.5 635.9h0M227.8 743.8h0M226.7 789.9h0M236.6 833.8h0M258.4 764.1h0M247 701.9h0M289.3 789.4h0M227.3 765.1h0M312.7 690.5h0M236.4 663.7h0M233.8 879.2h0M228.1 751.3h0M235.9 900.1h0M262 680.2h0M223 702.9h0M250.1 826.3h0M251.7 782.1h0M217.7 782.7h0M242.9 714.3h0M225.3 821.9h0M278.1 879.3h0M225.8 715.8h0M273.7 634.6h0M217 744.5h0M316.1 729.3h0M240.3 857.7h0M260.1 661.7h0M277.1 829.7h0M260.4 823.3h0M234.2 818.3h0M217.9 756h0M313.2 794.7h0M234.9 841h0M252.8 829.1h0M249.7 804.7h0M257.5 720.1h0M243.7 841h0M235.8 643.3h0M283.5 838.4h0M247.2 737.2h0M308.2 861.6h0M240.8 871h0M272 796.9h0M242.6 712.2h0M214.1 771.7h0M273.7 757.9h0M225.1 720.8h0M282.7 845.4h0M256.9 639.2h0M239 701.4h0M280.4 873.9h0M239.6 596.5h0M226.1 807.7h0M256.2 644.3h0M234.7 700.9h0M245.8 739.6h0M286.4 690.9h0M321.5 846.1h0M263.3 770.1h0M268 641.7h0M294.4 831.3h0M269.9 861.2h0M291 713.3h0M222.4 793.3h0M223.6 751h0M262.7 866.3h0M267.9 824.7h0M221.8 770.1h0M229.2 843.8h0M264.5 824h0M232.9 794.7h0M266.6 819h0M258.5 949.8h0M269.2 724h0M216.9 780.4h0M239.9 706.6h0M235 795.4h0M232.1 796.1h0M271.3 765.5h0M280.3 810.7h0M225.9 836.3h0M241.1 808.7h0M245.7 734.9h0M276 720.7h0M273.7 714.1h0M307.4 734.1h0M239.9 641.5h0M247.5 818.9h0M229 721.4h0M309.9 741.8h0M237.5 884.1h0M220.9 824.7h0M306.6 792.3h0M218.1 781.9h0M231.5 736.3h0M243.7 780h0M241.6 769.4h0M229.8 857.9h0M237.6 868.6h0M223.9 814.6h0M314.8 817.5h0M249.9 901.3h0M259.1 675.7h0M227.8 694.7h0M233.5 785.4h0M223.6 773.1h0M271.2 663.8h0M234.7 817.3h0M222.9 765.4h0M325.1 727.2h0M233.3 750.1h0M293.8 794.8h0M236.3 709.6h0M274.8 644h0M248.8 707.9h0M237.3 783.4h0M286.5 765.7h0M240.1 739.6h0M256.5 696.8h0M255 885.6h0M243 744.8h0M278.1 702.3h0M288.8 773.1h0M258.1 794.1h0M242 693.5h0M244.5 627h0M218.6 710.9h0M238 872.1h0M251.5 789.2h0M220.1 743.5h0M306.1 684.9h0M244.2 895.6h0M246.6 752.7h0M292.8 735.4h0M216.7 767.6h0M229.7 789.6h0M232.6 604.7h0M272.5 909.5h0M211.6 794.6h0M269.2 806.2h0M214.9 756.6h0M213.1 774.9h0M288.6 670.7h0M315.6 780.1h0M211.6 790.9h0M229.2 795.1h0M249.6 728.4h0M249.5 811h0M317.1 804.9h0M246.7 838.1h0M299.6 937.8h0M280.8 902.9h0M345.7 971.9h0M237.8 840.3h0M329 758.6h0M246.7 902.5h0M273.8 823.3h0M215.2 739.9h0M254.3 764.2h0M264.6 767.6h0M235.7 583.7h0M217 722.5h0M291.9 764.4h0M215.3 793h0M233.6 658.3h0M282.4 751h0M289.9 704.1h0M223.1 749.1h0M246.7 788.5h0M333.2 790.3h0M257.9 926.7h0M214.9 748.9h0M261.7 879.4h0M234.7 597.8h0M318.1 749.8h0M247.1 743.4h0M229.1 654.1h0M272.6 685.5h0M236 666.4h0M268.6 854.7h0M252.4 863.9h0M245.7 673.6h0M251.5 852.3h0M364.3 711.4h0M243.2 834h0M235.8 636.7h0M228.3 669.7h0M252.7 745.9h0M262.4 851.8h0M246 851.3h0M244 790.4h0M257 743.2h0M287.3 652.7h0M283.6 893.9h0M224.3 811.3h0M234.5 753.5h0M239.5 698.5h0M210.5 783.3h0M221.9 756.8h0M234.6 876.5h0M247.7 773.2h0M242.8 696.8h0M214.8 763.9h0M241.3 689.4h0M279.3 940.6h0M255.8 694.8h0M289.9 902.2h0M233.4 735.6h0M262 745.3h0M248.9 857h0M232.3 685.7h0M216 808.3h0M243.6 798.6h0M242.4 610.7h0M272.9 619.5h0M241.6 565.4h0M228.6 761.8h0M243.2 810.1h0M240.4 938.7h0M251.8 746.2h0M274.3 806.9h0M242 871.2h0M327.1 820.4h0M239.3 712.1h0M270.4 666.2h0M278 777.1h0M241.5 850.2h0M283.1 690.5h0M260.1 778.7h0M272.5 759.5h0M218 757.6h0M250.2 712.8h0M309.1 737.2h0M238.1 895.7h0M230.4 795.3h0M310.5 677.4h0M262.8 877h0M276.4 831.9h0M262.3 874.6h0M276.8 774.6h0M285.8 756.9h0M253.9 766.5h0M228.8 759.6h0M216.3 743.3h0M244.6 722.2h0M251.5 758.7h0M242.9 727.4h0M240 683h0M227.2 815.4h0M234.1 729.4h0M248.4 787.7h0M272.1 791.8h0M243.8 856.6h0M332.8 798.7h0M242.3 740.1h0M265.1 713.4h0M311.6 830.4h0M282.2 949.4h0M245.1 781.9h0M259 654.7h0M245.3 838h0M265.7 919.3h0M223.5 823.6h0M257 744.8h0M336.5 814.8h0M293.7 786.1h0M280.2 740.9h0M257.2 841.5h0M244.5 697.6h0M233.8 814.1h0M245.3 729.5h0M236.6 854.1h0M249.8 754.8h0M265 590.5h0M220.8 765.8h0M249.8 895.3h0M238.4 878.8h0M249.1 570.7h0M256.5 588.5h0M291.1 797.1h0M266.7 709.5h0M277.7 690h0M265.5 859.4h0M264.5 796.1h0M284.7 889.7h0M232.8 774h0M239.2 941h0M234.3 786.1h0M292.1 658.1h0M286.4 698.5h0M226.6 786.5h0M263.7 959.2h0M250.4 897h0M251.8 837h0M264.2 775.7h0M279.2 768.5h0M237 722.5h0M269.1 800.7h0M271 861.1h0M279.4 840.3h0M224.8 701.6h0M272.2 626.5h0M286.3 833.9h0M238.1 778.2h0M228.2 850.7h0M241.7 725.6h0M231.4 717.6h0M243.6 787.3h0M236.9 639h0M262.4 766.3h0M260.4 784.3h0M241.8 775.9h0M242.4 671.8h0M218 758.3h0M253.1 690.3h0M226.4 709.9h0M269.3 654.9h0M304.3 723h0M305 851.9h0M267.8 737.5h0M241.2 806.5h0M273 773.4h0M224.1 788h0M239.8 819.8h0M262.6 870.4h0M237.7 849h0M237.7 734.3h0M248 658.1h0M291.8 625h0M253.9 718.3h0M269.2 786.1h0M225.7 803.1h0M264.6 798.7h0M260.1 735.9h0M256.8 878.7h0M264.3 709.5h0M237.2 846.6h0M228.7 684.6h0M312.9 727.3h0M265.4 922.8h0M259.1 736.7h0M212.2 797.1h0M225.7 785.7h0M309.9 836.5h0M223.2 739.1h0M221.9 818.9h0M259.9 633.8h0M283.7 689.7h0M234.4 785.3h0M219.2 829.3h0M251.9 667.9h0M278.3 655.1h0M216.2 814.1h0M267.3 900.7h0M225.9 702.6h0M241 714.1h0M278.4 672.2h0M237.5 776.4h0M230.5 801.7h0M237.3 864.7h0M247.4 921.4h0M216.2 819.5h0M269.9 714.5h0M256.6 902.4h0M251 612.9h0M230.2 847.6h0M212.8 784.5h0M234.7 686.2h0M241.4 703.9h0M251.7 653.8h0M268.2 607.1h0M274 775h0M224.1 697h0M223.9 688.1h0M228.6 690.8h0M258 785.5h0M252.9 712.4h0M249.8 871.8h0M224.7 823.5h0M243.6 875.6h0M307.7 615.6h0M221.3 802.4h0M226.6 697.1h0M254.6 756.3h0M251.5 819.7h0M262.3 737h0M236.9 670.3h0M287.2 806.5h0M285.2 815.6h0M273.5 744h0M274.6 830.6h0M249.4 784.5h0M267.1 711.4h0M290.2 847.6h0M243 812.8h0M240.8 735.9h0M256.9 769.5h0M294 936.3h0M246 795h0M229 717.4h0M270.7 711.2h0M230.7 742.4h0M231.9 691h0M225.4 850.3h0M251.5 796.4h0M313.7 655.6h0M242.1 876.9h0M305.3 709.7h0M250.3 899.9h0M247.5 740.3h0M256.6 739.1h0M240.6 887.1h0M246.3 680.9h0M262.9 721.6h0M228.5 801.7h0M301.9 890.2h0M304 703.6h0M225.4 854h0M253.1 774.1h0M226.1 725.6h0M255.5 634h0M229.7 723.9h0M222.7 729.5h0M249.6 885.2h0M248.4 886.3h0M225.3 704.6h0M239.3 732.5h0M235 859.3h0M251.5 795.6h0M286.8 741.2h0M239.5 851.5h0M272.3 895.6h0M291.2 705.2h0M227.6 859.2h0M253.1 780.8h0M279.2 745.3h0M307.1 769.6h0M276.4 613.1h0M225.2 824.9h0M312.1 664.6h0M234.1 677.7h0M236.4 636.9h0M327.3 759.9h0M254.4 670.7h0M304.3 752.9h0M239.6 762h0M234.8 832.7h0M235.2 771.5h0M242.4 874h0M282 780.1h0M247.5 645.2h0M237.3 814.5h0M248.4 908.8h0M250.9 855.8h0M298.5 776.3h0M221.6 703.8h0M268 709.9h0M243.1 820.9h0M252.4 626.9h0M284.1 639.6h0M260.3 842.9h0M285.7 741.7h0M283.9 806.8h0M282.7 768.6h0M300.3 849.4h0M289.1 724.5h0M276.1 727.2h0M256 790h0M228.7 803.9h0M219.6 736.1h0M270.5 853.7h0M213.1 764.8h0M227.1 799.2h0M250.8 629.6h0M279.8 791.8h0M262.8 747.1h0M333.3 759.3h0M235.5 764.7h0M294.9 756.5h0M238.6 781.2h0M233.1 655.1h0M241.8 795.9h0M229.9 736.1h0M267.2 657.4h0M241.1 996h0M277.3 677.2h0M237.3 917.5h0M257.7 798.7h0M239 942.5h0M274 662.1h0M223.2 789.7h0M221.8 768.9h0M238.9 673.2h0M250.8 741.5h0M332.7 755.6h0M285.7 724.9h0M269.6 845.1h0M227.9 856.9h0M289.6 779.5h0M292.9 667h0M277.9 647.2h0M239.2 864.7h0M243 680.2h0M222 734.3h0M229.8 762.2h0M263.8 760h0M220.4 758.3h0M285.2 762.5h0M258.5 937.3h0M272.1 835.8h0M247.2 751.3h0M224.7 732.9h0M239.9 807.3h0M294.5 735.2h0M248.7 640.5h0M261.9 718.8h0M268.2 698.7h0M257.5 710.6h0M250.7 719.1h0M303.2 774.4h0M268 782.7h0M239.1 684.9h0M274.6 691.7h0M256.4 803.4h0M291.8 857h0M245.1 819h0M301.3 737.1h0M232.1 732.7h0M262 777.6h0M250.2 698.1h0M234.3 702.9h0M243.3 706.9h0M272.2 770h0M220.7 729.3h0M256.9 917.4h0M236.4 852.9h0M229.7 726.3h0M222.7 817.8h0M222.4 706.3h0M282.8 818.4h0M293.7 843.8h0M265.2 846.3h0M258.7 740.8h0M292.7 683h0M266.6 745.2h0M257 876.9h0M230.5 849.7h0M330.1 689.1h0M231.1 861h0M228.9 719.3h0M242 826h0M261.4 807.2h0M227.9 722.1h0M250.3 726.1h0M225.8 776.9h0M261.1 655.2h0M228.4 711.7h0M289.6 822.2h0M227.6 671.4h0M296.4 863.5h0M262 792.1h0M249.6 752h0M228.6 854.6h0M244.7 859.1h0M230.9 870.8h0M288.4 743.7h0M258.8 788.7h0M230.7 734.3h0M236.3 787h0M278.4 661h0M261.1 774.7h0M235.2 754.8h0M262.6 603h0M239.9 752.2h0M281.3 761.4h0M225 792.8h0M216.7 784.9h0M269.4 827.2h0M266 882.3h0M236.4 728.4h0M232.4 807.7h0M225.2 716.5h0M268.9 700.8h0M231.1 752.8h0M326.7 956.8h0M215.3 742.8h0M269 673.2h0M258.7 558.3h0M302.7 692h0M266.4 756.3h0M234.5 803.9h0M246.6 749.1h0M291.2 845h0M214.4 745.3h0M241.2 864.5h0M253.2 628.4h0M267.7 852.7h0M252.2 759.4h0M220.3 707.3h0M286.2 685.2h0M230 694.9h0M287.6 809.9h0M242.1 781.4h0M222.3 836.9h0M283.9 826.8h0M240.9 752.7h0M232.4 853.2h0M235.3 776.8h0M248 765.5h0M229.7 659.1h0M280.8 772.7h0M316.9 749.4h0M250.6 708.3h0M246.7 853.4h0M295.4 833.7h0M264.5 699.8h0M233.6 740.4h0M221.9 798.6h0M278.2 812h0M246.6 768.8h0M299.9 704.5h0M307.1 774.6h0M240 828.6h0M255.9 873h0M265.5 908.4h0M238.8 793h0M276.4 749.9h0M240.1 622.1h0M244.4 636.9h0M266.6 727.1h0M218.7 720.6h0M247.2 833h0M242.6 842.2h0M290.1 821.6h0M250.5 707.7h0M239.1 711.3h0M271.4 782.4h0M270.8 735.7h0M249.6 697.5h0M253.4 763.9h0M265.7 789.3h0M229.4 782.8h0M237.3 812.9h0M231.3 822.6h0M252 747.7h0M245.7 771.7h0M250.9 860.2h0M221.2 753.8h0M249.3 649.1h0M319 763.9h0M259.9 771.8h0M258.9 749.7h0M269.9 719.6h0M277.3 703.9h0M261.5 583h0M231 684.9h0M220.6 805.9h0M244 743.4h0M248.8 764.1h0M252.9 917.7h0M227.7 692.6h0M298.8 736.3h0M250.7 844.3h0M238.1 837.4h0M254.4 858.7h0M237.2 839.8h0M244.9 643.2h0M254.3 691.9h0M329 647.7h0M240.3 879.3h0M229.6 822.5h0M301.2 562.4h0M240.4 680.8h0M262.4 768.2h0M261.2 772.4h0M218.9 825.6h0M238.1 893.9h0M280 933.1h0M284.5 713.4h0M296.1 686h0M227.2 664.7h0M262.4 729.9h0M271.2 802.3h0M215.5 785.9h0M223.1 777h0M257.6 843.7h0M216.2 776.6h0M284.4 631.1h0M250.9 895.4h0M259 714.9h0M233.8 573.3h0M286 801.4h0M271.3 870.2h0M238.1 820.8h0M274.6 703.5h0M258.6 801.2h0M240.3 758.2h0M218.9 769.5h0M288.3 918.2h0M251.6 754.4h0M296.2 812h0M297.3 750.9h0M225.8 700h0M325.7 809.3h0M239.7 777.3h0M244.5 832.6h0M263.1 825.8h0M241.2 853.2h0M244.9 655.6h0M241.8 723.8h0M268.1 982.9h0M265.5 734.7h0M248.4 806.1h0M278.1 920.2h0M268 659.5h0M238.2 741.2h0M269.8 587.4h0M272.7 606.8h0M264 810.3h0M223.2 788h0M233 864.2h0M251.8 780.1h0M228.7 833.5h0M226.7 763.7h0M288 907.3h0M276.8 832.7h0M277.9 705.2h0M273.1 727.7h0M284.3 794.4h0M272.2 709.6h0M271.7 668.3h0M224.5 843.2h0M231.1 779.6h0M267.1 955.8h0M262.4 756.9h0M225.6 731.3h0M224.6 831.6h0M263.4 723.8h0M211.8 775.4h0M223.7 752.8h0M239.2 755.7h0M271.9 878.8h0M233.3 746.2h0M249.7 776h0M236.9 581.7h0M249.9 700.3h0M241.5 733.2h0M270 951.9h0M233.4 682.4h0M272.3 929.8h0M257.2 871.5h0M242.7 734.6h0M212.1 792h0M219.8 754.2h0M264.9 783.6h0M226.8 808h0M232.4 821.5h0M254.3 700.5h0M242.3 816.3h0M248.4 745.2h0M249 766.6h0M231.8 674.4h0M236.7 806.2h0M236.2 778.7h0M258.3 756.9h0M212.5 759h0M254.4 726h0M232.7 631.6h0M235.5 846.3h0M250.7 659h0M326 645.8h0M252.8 834.1h0M225.4 828.1h0M229.3 852.7h0M303.3 800.8h0M225.5 849.2h0M325.6 728h0M230 828.2h0M278.8 757.1h0M246.1 891.9h0M233.1 842h0M230 654.9h0M240.4 736.3h0M258.6 832h0M244.6 972.7h0M255.4 704.8h0M251.3 883.3h0M283.8 609.3h0M266.7 791.3h0M249.5 882h0M297.7 744h0M276.7 921.9h0M263.4 690.8h0M278.3 723.5h0M226.7 804.7h0M271.6 768.4h0M250.2 730.2h0M294.5 758h0M270.8 897.2h0M270.6 639.4h0M253.9 905.4h0M250.5 686.9h0M262.9 683.2h0M249.2 899.5h0M229.2 817.5h0M298.8 700.1h0M210.9 780.7h0M322.2 963.7h0M235.7 573.9h0M244.5 863.5h0M269.6 750.5h0M248.5 594.6h0M236.2 866.9h0M291 693.1h0M302.3 935.5h0M254.9 829.7h0M266.2 655.9h0M236.4 837.3h0M258.6 691.6h0M253.9 832h0M314.6 758.7h0M293.1 768.5h0M246.2 889.7h0M244.1 812.6h0M225.7 789.1h0M242.8 808.5h0M326.7 931.5h0M306.9 741.9h0M293.8 914.9h0M247.9 689.1h0M262.1 622.9h0M264.2 902.4h0M294.5 791.4h0M239.8 810.7h0M237.4 704.6h0M221 715.6h0M282.7 669.7h0M221.8 827.7h0M275.5 759.4h0M238.6 688h0M262 845.3h0M272.9 673.5h0M261.8 786.3h0M267.4 704.6h0M303.2 852.4h0M272.9 762.6h0M282.4 843.5h0M221.1 699.2h0M221.3 724.1h0M275.5 754.5h0M240.6 884.3h0M228.1 848.8h0M249.3 850.9h0M239.6 791.1h0M243 700.5h0M261.2 810.5h0M263.5 749.1h0M303.6 652h0M254.9 766.9h0M277.6 681.2h0M241.4 800.2h0M254.2 852.9h0M281.8 762.5h0M244.4 669h0M236.1 886.8h0M222.9 827.7h0M253.7 836h0M239.7 683h0M256.2 796.4h0M241.7 777.7h0M266.8 687.8h0M259.7 755.6h0M249.9 603.8h0M234.1 692.2h0M331.8 678.3h0M230.4 851.3h0M232.6 801.8h0M257.4 719.9h0M238.3 897.6h0M294.8 717.1h0M271.9 757.8h0M316.6 788.5h0M234.8 655.1h0M246.8 762.5h0M227.6 861.7h0M226.7 774.7h0M229.8 661.4h0M270.9 947.2h0M310.9 647.2h0M216.3 725.4h0M272.3 761.1h0M274.2 739.7h0M225.6 855.3h0M245 796.1h0M301.9 709.4h0M278.5 705h0M259.5 809.9h0M251.4 665.5h0M246.4 634.4h0M224.2 790.2h0M234.5 673.4h0M256.9 775.2h0M236.3 739.7h0M214.7 802.1h0M233.5 844.6h0M243.9 649.8h0M243.3 782.2h0M261 681.8h0M252.7 827h0M265.5 880h0M247.7 791.5h0M258.1 643.4h0M257.4 681h0M215.1 815.6h0M275.1 764.2h0M279.7 893.5h0M212.9 754.5h0M302.4 819.7h0M239.3 846.8h0M270 707.8h0M234.2 768.3h0M234.5 635.4h0M256.4 585.2h0M267.9 881.5h0M254.1 754.2h0M283.5 733.1h0M279.9 721.3h0M280.9 800.4h0M257.9 811.5h0M237.2 918.1h0M230.7 663.3h0M242.5 847.5h0M257.3 809.6h0M291.2 920.9h0M261.9 905h0M243.2 718.2h0M260.2 749.4h0M237.1 770.8h0M249.1 778.7h0M282.9 796.4h0M226.5 828.3h0M233.3 875.6h0M279.9 729.6h0M282.2 923.5h0M252.7 817.7h0M270.3 845.7h0M262.7 758.2h0M290.7 761.4h0M248.1 652.4h0M238 760.1h0M236.6 767.4h0M262.1 938.8h0M276.2 776.1h0M267.2 724.9h0M351.7 770.5h0M268.9 912.4h0M253.9 648.8h0M271.1 670.5h0M242.9 894h0M292.1 792.7h0M269.4 762h0M245.5 736.1h0M279.1 873.2h0M243.8 751.1h0M223.9 754.2h0M219.3 730.7h0M296.3 831.1h0M246.8 815.6h0M235.8 827.1h0M270.1 743.5h0M257.6 731.9h0M288.2 604.3h0M222.8 698.3h0M266.4 733.9h0M293.1 782.4h0M259.2 906.4h0M253.1 672.5h0M273.7 809h0M240.9 830.1h0M298.1 675.1h0M242 682.2h0M230.2 875h0M249.4 668.8h0M240.2 883.4h0M287.3 761.5h0M227.3 660.2h0M254.8 743.5h0M244.9 855.5h0M251.9 568h0M290.4 615.1h0M253.3 818.7h0M266.1 748.7h0M254.6 822.9h0M262.7 735.5h0M236.5 752.3h0M242.4 720.7h0M276.6 765.5h0M294.8 800.3h0M244.3 688.1h0M238.5 626.6h0M303.3 892.2h0M285.1 719.5h0M237.5 635.7h0M253 624.3h0M246 656.3h0M280.8 814.9h0M237 828.8h0M260.7 863.2h0M245.9 765.7h0M214.5 772.2h0M246.1 823.1h0M267.6 805.4h0M250.2 648.1h0M259.4 869.8h0M274.5 653.1h0M277.6 943.5h0M244.3 925.3h0M252.7 752.4h0M254 934.5h0M243.8 804h0M262.1 930.4h0M264.8 665.3h0M231.7 714.9h0M268.5 657.4h0M257.4 752.7h0M233.2 637h0M305.3 747.9h0M246.5 758.4h0M271.9 835.1h0M287.6 819.7h0M316 758.5h0M277.6 868.7h0M272.1 745.4h0M240.7 665.9h0M267.7 872.5h0M246.3 687.7h0M297.8 929.8h0M284.4 841.1h0M256.8 701.3h0M304.1 827.4h0M263.7 752.4h0M250.8 728.2h0M256.1 838.8h0M236.5 772.5h0M230.7 718.7h0M276.9 819.7h0M299.8 659.7h0M231.1 766.3h0M262.6 613.1h0M215.8 796.9h0M253.2 884.5h0M250.5 864.3h0M265.8 870.6h0M280.3 649.4h0M249.3 759.8h0M259.9 628.6h0M278 824.5h0M265.7 643.9h0M259.7 880.9h0M239.5 831.4h0M251.3 842.9h0M267 790h0M245.9 898.1h0M287 893.1h0M242.1 769.9h0M314.8 746.7h0M230.3 725.2h0M259.4 739.7h0M285.8 817.2h0M260.8 760.7h0M291 787.1h0M238 667.9h0M219.2 739h0M310.4 776.1h0M287.4 863.1h0M233.7 582.6h0M269.8 690.1h0M282.1 678.6h0M268.7 779.8h0M237.1 775.6h0M308.4 783.5h0M273.9 911.1h0M263 751h0M228.3 785.6h0M239.5 639.5h0M274.9 882.9h0M240 743.4h0M243.4 650.2h0M237.4 617.2h0M227.7 810.6h0M230.6 740.6h0M327 747h0M300 782.1h0M225.9 686.2h0M263.4 754.3h0M304.4 798.7h0M243 616.9h0M266.8 779.3h0M298.8 827.3h0M267.4 850.6h0M251 635h0M240.9 968h0M257.8 888.9h0M237.3 801.9h0M247.8 756h0M290.4 868.1h0M259.7 721.3h0M245.7 808h0M232.9 728.2h0M317 953.1h0M286.5 738h0M255.5 734.1h0M266.4 700.2h0M252.7 941.2h0M311.6 772.1h0M266.2 723.8h0M283.6 631.4h0M242.6 733.3h0M271.5 679.9h0M227 675.3h0M290.9 840.4h0M241.6 701.3h0M258.8 614.6h0M269.6 909.6h0M275.3 817.5h0M278.7 717.4h0M234.6 875.8h0M274.7 821.6h0M273.7 865.2h0M222.1 840h0M287.1 749.4h0M224.1 691h0M243.4 825.8h0M270.3 892.3h0M264.7 760.9h0M239.7 784.9h0M260.9 758.4h0M271.7 641.9h0M243.8 918.6h0M233.3 850.9h0M276.1 762.7h0M244.6 731.6h0M224.8 841.4h0M257.6 740.9h0M268.5 663.8h0M221.6 705.8h0M261.8 658.3h0M241.5 818.1h0M256.9 778.9h0M281.4 766.5h0M282 726.5h0M288.6 771.3h0M266.3 899.6h0M277.9 707.6h0M244.6 888.9h0M257 736.7h0M245.7 639.8h0M214.2 782.3h0M255.5 713.6h0M270.6 719.6h0M232.1 833.9h0M239.8 669h0M345 792.3h0M257.5 883.9h0M262.8 692.4h0M218.3 776.1h0M248 802.7h0M270.6 687.9h0M285.5 891.7h0M250.4 623.2h0M278 677.6h0M254 721h0M329 779h0M288.1 866.3h0M232.3 614.2h0M305.9 887.8h0M224.4 722h0M238.5 834.5h0M275.3 705.4h0M254.2 716.9h0M313.4 835.7h0M286.3 662.2h0M275 780h0M261 831.2h0M258.7 777.1h0M269 871.2h0M261.2 710.8h0M236.6 834.5h0M272.4 974.1h0M231.5 802h0M262.7 773.3h0M233.1 705.4h0M232.2 742.9h0M279.5 665.5h0M275.1 613.3h0M283.2 932.6h0M250.2 742.5h0M318.6 683.9h0M228.7 688.6h0M256.1 767.7h0M324.8 748.8h0M225.7 756.4h0M245.6 682.8h0M278.7 937.1h0M254.5 817.2h0M259.2 679.6h0M296.3 702.5h0M270.8 811.3h0M211.9 769.3h0M247.4 812.9h0M290.7 757.8h0M278.3 624.8h0M262.6 684.3h0M318.3 726.8h0M275.6 993.1h0M282.3 788.2h0M282.5 734.2h0M312.3 818.4h0M246.6 877.3h0M237.7 714.5h0M235 825.5h0M297 664.1h0M262.2 781.8h0M226.6 752h0M246.7 718.2h0M235.4 721.5h0M259.1 882.7h0M311.7 699.2h0M217.2 817.5h0M328.1 702.4h0M265.6 765.5h0M227.1 705.4h0M270.1 725.5h0M244.9 725.7h0M307.1 765.8h0M235.9 866.4h0M245.2 752.3h0M292.5 869.6h0M212.6 800.7h0M257.6 722.4h0M327.5 766.7h0M313.5 679.6h0M255.7 839.3h0M245 824.6h0M256 717.8h0M305.8 615.2h0M275.9 799.2h0M257.4 896.5h0M288.4 766.8h0M277.7 608h0M252.5 820.2h0M266.5 780.2h0M249.3 815.5h0M240.7 905.9h0M272.8 736.5h0M295.4 646.7h0M271.6 720.3h0M279.4 907.1h0M287.8 777.1h0M284.3 748.3h0M272.3 683.2h0M323.5 685.3h0M245.6 893.6h0M297.6 875.8h0M300.5 729.8h0M235.9 663.8h0M247.2 784.9h0M261.8 769.7h0M240.1 876.3h0M229.7 700.2h0M263.2 869.4h0M261.6 867.6h0M241.8 840.7h0M247.4 731.8h0M316.4 764.8h0M285.9 830.4h0M247.2 724.6h0M229.5 793.2h0M345.3 749.7h0M260.9 891.2h0M284.9 797.9h0M243.1 772.9h0M267.1 761.9h0M253.9 646.5h0M282.3 719.7h0M286.6 813h0M255.3 942.8h0M277.2 867.1h0M305.1 734.2h0M288.8 757.6h0M323.7 778.7h0M213.6 750h0M247.2 705.5h0M286.7 670.8h0M295.4 888h0M217.9 790.7h0M241.1 970.9h0M265.8 854.5h0M295 733.2h0M311.7 734.2h0M252.4 846h0M247.3 682.3h0M318.2 642.3h0M237.9 802.8h0M225.9 754.3h0M249.5 723h0M253.2 770.6h0M236.4 575.8h0M265 863h0M269.8 735.3h0M218.4 788.6h0M252.4 734.1h0M236.8 710h0M248.3 874h0M286.9 929.4h0M288.4 680.3h0M256.7 800.3h0M296 849.5h0M304.2 706.9h0M225.7 676.4h0M273.5 862.6h0M245.5 891.9h0M316.7 818.9h0M280 916.1h0M257.5 728.4h0M272.3 849.6h0M235.9 761.1h0M259.3 806.3h0M283.7 746.6h0M235.1 658.4h0M279.3 852.9h0M270.8 736.1h0M264.7 626.7h0M267.5 845.2h0M226.7 714.4h0M324.7 833.2h0M226.7 816.3h0M257.5 691.5h0M236 748.2h0M246 658.5h0M277.9 622h0M298.6 765.7h0M248.5 738.3h0M234.1 671.4h0M318.4 801.1h0M238.4 856.9h0M252.4 840h0M239 636.3h0M307.1 739h0M245.5 826.8h0M312.9 786h0M250 877h0M277.6 692h0M236.8 645.8h0M257.3 756.2h0M244.6 878.7h0M265.2 625.9h0M267.2 821h0M244.5 839.5h0M279.3 848.8h0M241.2 833.3h0M228 795h0M238.4 655.4h0M302.1 706.7h0M227.2 850.6h0M217.7 735.8h0M305.9 796.1h0M303.3 664.7h0M270.2 814.6h0M308.1 632.7h0M249.2 719.6h0M234 788h0M250.8 651.1h0M243 800.5h0M231.8 739.4h0M233.5 651.7h0M304.6 759h0M254.1 786.1h0M250.4 834h0M245.9 702.3h0M300.4 707.2h0M266.4 893.8h0M232.6 876h0M260 873.3h0M291.3 843.7h0M258.1 782.9h0M264.7 964.6h0M260.4 697.9h0M264.3 814.7h0M236.7 727.9h0M238.6 692h0M251.9 773.6h0M270.4 614.3h0M249.9 693.2h0M257.6 867.7h0M247.7 883h0M271.3 872.1h0M273.5 702.2h0M249 650.2h0M279.8 926.3h0M243.7 695.5h0M235.9 698.4h0M264.9 888.7h0M260.6 683.1h0M244 923.8h0M254 724.2h0M257.5 899.2h0M259.5 829.3h0M302.2 836.9h0M244.5 759.9h0M241.4 916h0M250.5 866.5h0M289.5 714.3h0M291.1 659h0M216.8 797.7h0M289.7 824.6h0M276.7 910.2h0M213.2 806.3h0M233.4 737.6h0M259.2 743.4h0M309.3 749.4h0M252.7 881.7h0M259.7 752.4h0M251 776.8h0M264.6 893.8h0M244.5 606h0M324.4 937.4h0M226.6 688h0M218.4 745h0M249.4 951.1h0M215.6 732.3h0M288 855.4h0M269.3 669.8h0M257.7 852.5h0M270.3 656h0M294.1 877.1h0M258.7 730.6h0M246.1 820.3h0M294.1 811.5h0M312 816h0M284.6 590.9h0M283.9 756.7h0M234 836.9h0M320.2 807.7h0M235.8 675.9h0M271.7 799.4h0M275.7 631.8h0M327.7 752.3h0M261.1 724.5h0M266 753.5h0M251.8 701.1h0M311.9 807.4h0M251.7 671.1h0M278.6 732.1h0M244.5 804.3h0M221.8 790h0M281.8 817.4h0M253.1 772.6h0M225.7 804.5h0M306.7 953.9h0M268.3 828.5h0M247 825.4h0M269.8 882.5h0M293.5 780.9h0M232.1 678h0M234.9 708h0M277.8 757.3h0M251.5 723.4h0M239.2 903.3h0M260.9 799.4h0M254.5 897h0M250.7 661.8h0M266.1 774.7h0M238 716.2h0M276.6 797.4h0M232.3 846.5h0M274.6 823.1h0M253.3 895.2h0M264.6 845.4h0M277.3 889.7h0M254.8 689.1h0M240.1 591h0M247.1 708.7h0M250.5 752.5h0M238.5 923.2h0M264.9 944.6h0M227.1 706h0M246.8 716.4h0M288.2 835.1h0M342 824.1h0M219.4 723.9h0M233.4 654h0M248.6 661.7h0M267.4 663.9h0M250.4 908h0M298.3 924.3h0M309.9 694.4h0M260 680.1h0M249.3 834.7h0M280.7 619.3h0M275.2 784.8h0M290.2 711.9h0M274.4 665.5h0M245.6 733.4h0M272.5 665.7h0M237.1 822.6h0M263.5 705.1h0M251.5 615.9h0M266.6 629.3h0M277.8 778.3h0M230.7 710h0M266.9 731.5h0M281 745.1h0M248.1 860.1h0M285.1 791.2h0M230.3 641.7h0M241.2 710.5h0M342.1 765.9h0M278.1 734.3h0M309.7 703.4h0M256.3 579.6h0M239.1 932.6h0M237.4 871.5h0M245.3 835h0M252.1 777.9h0M230.1 731.9h0M247 880.8h0M282.6 861.5h0M309 786.7h0M217.5 768.3h0M285.6 753.8h0M250.1 714.8h0M292.7 872.3h0M274.3 852h0M286.2 859.2h0M224.5 680.1h0M243.4 950.7h0M276.3 970.4h0M285.2 731.4h0M265 710.6h0M234.4 843.8h0M272.4 786.4h0M279.5 798.3h0M294 698.4h0M237.6 677h0M238.2 828.8h0M257.6 726.9h0M230.6 817.6h0M241.3 718.4h0M239.1 816.6h0M274.1 693.9h0M247.9 809h0M274.9 725.2h0M285.9 780.1h0M332.2 842.9h0M235.8 683.9h0M229.7 695.7h0M308.4 774.1h0M239.4 731.9h0M241.9 726.4h0M276.4 870.9h0M259.9 718.8h0M270.3 856.5h0M303.4 813.6h0M304.6 763.5h0M253.1 655.2h0M222.8 687.8h0M262.3 894.8h0M286.2 683.3h0M247 676.7h0M252.6 793.4h0M331.7 783.8h0M245.9 849.8h0M238.1 724.9h0M274.7 857.4h0M307 598.8h0M257.2 715h0M237.1 583.6h0M215.5 730.4h0M294 753.9h0M254.3 837.7h0M276.6 816.4h0M263.4 855.2h0M235.7 756.8h0M243.9 814.3h0M264.9 795.1h0M317.2 756.1h0M321.5 820.2h0M267.3 776.1h0M213 757.9h0M297 792.6h0M277.2 640.2h0M272.1 767.7h0M230.4 792.1h0M246.7 663.5h0M243.2 785.9h0M223.4 760.8h0M223.4 805.5h0M291.1 832.1h0M242.7 645.2h0M261.1 880.4h0M231.6 856.6h0M252.3 833.2h0M243.1 851.7h0M253.8 749.5h0M246.4 787.4h0M300.8 994.3h0M237.5 750.5h0M266.8 829.5h0M214.7 760.6h0M290.3 720.7h0M240.5 699.7h0M254.9 744.7h0M281.7 738.6h0M279.2 890.3h0M283.9 821.8h0M303.2 858.4h0M298.6 636.3h0M239.4 877.9h0M273.7 741.9h0M247.2 840.3h0M286.2 669.2h0M261.1 803.9h0M272.8 623.1h0M279.2 685.1h0M318 803.6h0M231.3 672.7h0M272.9 913h0M281.4 796.9h0M226.3 832.8h0M239.4 614.2h0M298.6 833.1h0M241.5 741.4h0M293.4 849h0M278.9 650.5h0M249.3 863.7h0M268.6 819.6h0M262.1 801.8h0M256.2 651.6h0M290.1 804.6h0M309.1 781.8h0M251.7 838.1h0M275.3 718.2h0M258 621.4h0M263.1 883.4h0M237.9 824.1h0M293.6 797.4h0M242.6 725.2h0M260.1 850.2h0M269.2 675.3h0M280.4 849.2h0M234.8 716.8h0M278.4 814h0M251.4 690h0M234.1 791.7h0M295.4 847.6h0M265.6 679.7h0M299.9 898.1h0M257.3 620.7h0M290.5 864.8h0M300.1 813h0M288.8 811.8h0M230.5 664.4h0M318.8 807.7h0M281.1 753.6h0M229.6 787h0M283.7 876h0M229.7 777.4h0M238.9 677.8h0M290.3 599.2h0M232 739.4h0M245.3 928.8h0M277.1 884.3h0M264.8 695.2h0M282.4 686.1h0M303.4 933.9h0M239.5 852.3h0M232.7 775h0M223.6 744h0M295.3 796.8h0M264.7 896.3h0M289.8 876.3h0M234.8 695.9h0M275.6 713.7h0M274.8 905.9h0M242.1 792h0M230.8 867h0M261 790.8h0M245.8 878h0M242.1 663.7h0M269.5 752.8h0M235.1 726.1h0M248.1 597.2h0M258.7 751.6h0M256.7 868.1h0M247 766.7h0M283.1 773.1h0M263 739.1h0M237.2 791.3h0M235.8 823.4h0M295.3 884.1h0M279.3 697.1h0M245.3 662.9h0M249.8 643.4h0M287.3 816.4h0M230.6 796h0M255.3 782.8h0M246.2 770.2h0M227.2 758.5h0M310.5 784h0M276.9 736.6h0M277.9 836h0M243.4 646.7h0M243.1 837.6h0M253.1 666h0M257.7 624.7h0M253.6 865.1h0M261.1 670.5h0M281.5 756.6h0M228.9 837.3h0M246.6 695.3h0M265.9 920.6h0M244.9 624.9h0M249.8 715.5h0M298.5 678.4h0M278.4 701.9h0M285.4 593.5h0M269.4 605.4h0M298 823.6h0M255.7 626.8h0M257.3 660.9h0M282.9 835.3h0M265.4 836.1h0M281.7 728.4h0M265 613.1h0M233.8 818.4h0M270.6 971h0M243.8 620.3h0M270.8 869.5h0M243.6 777.3h0M226.1 672.2h0M260.2 796.5h0M241 688h0M254.5 610.3h0M308.3 898.3h0M320.4 871.3h0M230.2 686.7h0M306.1 677.9h0M244.1 931.8h0M264.6 878.3h0M217.1 821.7h0M308.5 753h0M230.5 782.8h0M329.3 836.7h0M285.9 860.4h0M231.2 670.5h0M223 718.1h0M293.8 724.7h0M268 815.3h0M318.5 901.5h0M241.7 903.1h0M250.5 606.7h0M261.1 756.8h0M283.3 910.4h0M243.9 757.7h0M261.9 767.6h0M236.1 862.1h0M289.7 648.5h0M247.6 684.3h0M263.8 857.6h0M251 657.1h0M298.3 784.7h0M249.3 679.9h0M296.7 668.2h0M227.7 821.2h0M250.5 644.4h0M301.9 766.8h0M263.4 764.9h0M298.1 913.7h0M271.6 846.3h0M258.6 729.2h0M268.3 840.2h0M251.4 849h0M218.1 795h0M215.3 780.1h0M275.3 790.6h0M308.1 850.9h0M295.6 702.6h0M270 634.4h0M287.8 722.9h0M236.3 879.3h0M227.5 777.6h0M262.5 809.9h0M224.8 768.2h0M229.8 676.4h0M253.6 866.7h0M226.8 755.7h0M301.8 774.5h0M250.6 847.4h0M242.8 897.6h0M299 838.6h0M261.8 690.6h0M251.3 913.3h0M225 794.8h0M298 835.7h0M278 754h0M291.9 778.8h0M215.7 800.6h0M251.9 792.5h0M278.1 724.3h0M226.6 854h0M283.4 770.2h0M230 680.6h0M260.6 856h0M255.4 739.2h0M332.2 849.4h0M232.9 830.6h0M268.9 872h0M264.8 587.7h0M260.7 668.6h0M253 640.9h0M242.1 839.4h0M265.8 715.4h0M235.3 630.5h0M285.5 878.7h0M252.4 782.3h0M217.7 730h0M245.9 822.5h0M254.7 678.5h0M282.4 741.7h0M283.6 761.3h0M276.9 772.2h0M254.9 715.5h0M278.4 854.1h0M272.4 729.9h0M263.6 713.6h0M281.7 941.4h0M307.6 746.7h0M289.5 625.4h0M237.4 593h0M264.9 825h0M254.3 825h0M244.5 646.6h0M267.7 895h0M263.2 652.4h0M266.5 837.4h0M243.4 622.3h0M301.3 799.9h0M300.2 780.1h0M282.8 764.6h0M282 809.7h0M312.9 736.4h0M271.2 836.7h0M244.5 740.7h0M225.1 833.3h0M283.5 834h0M232.6 633.4h0M256 671.4h0M326.7 823h0M271.9 859.9h0M253.5 921.2h0M343.2 789.8h0M237.1 713.1h0M253.4 951h0M253.8 622.8h0M261.4 818.7h0M266.7 808.7h0M240.3 913.4h0M239.1 571h0M249.8 847h0M243.8 948.9h0M288.7 706.3h0M246.5 726.8h0M268.9 754.1h0M261.7 813.7h0M282.1 642.1h0M254.9 815.3h0M295.5 639.5h0M246.2 831h0M241.1 642.3h0M230.6 845.5h0M295.9 873.4h0M222.8 690.4h0M242.5 901.9h0M274.9 818.1h0M262.8 742.2h0M229.8 662.2h0M238.5 580.9h0M252.6 736.2h0M260.8 913.9h0M221.8 842.2h0M349.9 876.6h0M256.8 610.3h0M315.3 659.1h0M269.9 863.1h0M267 688.1h0M257.6 834.3h0M255.6 789.2h0M250.5 711.8h0M243.2 632.3h0M220.7 816.2h0M266 796.7h0M256 905.6h0M281.1 671.1h0M247.5 703.2h0M289.7 763.1h0M249.9 874.4h0M287.3 773h0M303.6 767.3h0M241.6 675h0M302 811.5h0M237.8 665.2h0M266.8 746.9h0M256.1 873.2h0M254.6 883.1h0M248 935.4h0M247.9 826.7h0M296.3 764.8h0M222.8 783.1h0M272.2 866.9h0M265.8 705.6h0M254.8 906.8h0M243 689.5h0M222.4 843.7h0M252 848.6h0M291.4 763.8h0M283.9 783.2h0M239.6 844.7h0M222.3 775.8h0M231.2 770h0M238.4 709.7h0M279.5 779.4h0M302.5 791.9h0M244.7 717h0M221.3 739.1h0M313.3 791.7h0M274 704.6h0M223.3 717.8h0M295.3 893.3h0M333.8 651.5h0M253.5 693.7h0M294.4 723.1h0M296.9 724.9h0M243.2 627.1h0M251.3 669.2h0M249.9 919.8h0M321.1 761.5h0M278.4 839h0M220.7 767.7h0M246 861.3h0M306.8 799.5h0M236.4 758.5h0M245.6 652.6h0M265.6 676.7h0M285.5 931.5h0M230.9 834.5h0M249.7 935.4h0M283.2 873.3h0M295 764.1h0M319.6 770.2h0M246.3 798.8h0M246.9 863.8h0M255.9 774.7h0M289.9 643.3h0M299.9 802.1h0M278.6 750.4h0M281.7 758h0M269.6 622.4h0M270 738.4h0M253.6 703.3h0M264.5 868.5h0M255.8 841.4h0M242.3 723.3h0M216.9 728.3h0M277.2 769.4h0M264.2 684.3h0M242 906.1h0M253.6 722.2h0M215.5 737.1h0M243.2 698.9h0M260.4 624.6h0M227.2 749.3h0M239.4 720.8h0M285.8 810.7h0M286.8 701.4h0M252 683.8h0M254.7 733.6h0M245.6 678.6h0M328.8 803h0M244.5 691.1h0M284 701.9h0M255.9 736.5h0M288.1 855.6h0M239.6 891.1h0M267.1 611.2h0M279.9 709.2h0M267.5 784.3h0M278.5 794.7h0M284 738.3h0M261.6 927.9h0M221.2 697.8h0M323.7 823.7h0M268.7 879h0M299.4 743.6h0M234.2 882.8h0M217.9 715.9h0M220.2 800.4h0M240 720h0M264.6 754.4h0M229.7 831.4h0M251.1 785.3h0M236.3 653.8h0M309 733.4h0M252.9 945.3h0M231.6 677.9h0M264.1 826.7h0M249.3 646.6h0M275 709.8h0M257.2 683.1h0M299.4 761.9h0M264.7 780.2h0M224.6 739h0M277.3 758.2h0M245.1 873.5h0M234.1 776h0M288.4 702.4h0M242.8 588.9h0M315.1 883.8h0M295.6 696.5h0M230 835.8h0M232.8 712h0M308.3 789.5h0M248.7 949.8h0M253.2 717.1h0M271.4 961.7h0M248.8 761.2h0M259.9 700.1h0M267.9 840.9h0M215.1 807.4h0M244.3 955.1h0M258 967.2h0M286.1 904.5h0M239.8 863.8h0M211.8 797.4h0M245.4 912h0M233.6 829.8h0M242.8 658h0M244.6 756.4h0M233.7 596.6h0M249.5 656.2h0M280.7 807.6h0M261.1 739.1h0M276 792.6h0M273.3 830.6h0M279.7 819.1h0M265.6 728.2h0M300.6 672h0M268.3 692.8h0M259.1 927.9h0M232.5 726h0M237.7 882.9h0M289.4 565h0M291.8 667.9h0M330.3 720.7h0M295.6 882.2h0M231.1 786.4h0M254.4 802.6h0M249.1 773.5h0M273.4 810.8h0M266.3 607.6h0M296.9 898.2h0M312.3 863.1h0M312.4 839.8h0M296.7 860.6h0M241.2 926.3h0M223.7 696.5h0M238.9 822.4h0M249.4 783.9h0M249.1 904.2h0M290.8 918.9h0M261 614.2h0M220.1 712.7h0M314.2 661h0M330.3 815.4h0M276.3 856.1h0M305.5 875h0M265.8 813.8h0M258.5 798.7h0M281 833.6h0M272.2 869.8h0M278.4 762.2h0M257.5 938h0M253.7 591.4h0M261.7 677h0M296.4 729.3h0M292.2 791h0M260.1 720.1h0M232.9 661.8h0M315.1 812.1h0M265.2 898.7h0M249.5 716.5h0M270.7 767.1h0M258.7 791.4h0M243.5 602h0M244.3 726.9h0M280.1 727.4h0M256.6 791.8h0M270.2 770.8h0M237.9 740.6h0M268.6 795.3h0M277.9 805.8h0M288.2 587.4h0M256 875.7h0M223.5 847.6h0M247 861.2h0M263.9 915.2h0M229.2 715h0M273.1 719h0M270.8 676.3h0M309.2 706.7h0M214.6 765.8h0M235.4 758.6h0M233 620.9h0M251.9 682.2h0M244.1 968h0M330.3 767.1h0M269.7 680h0M239.4 716.6h0M290.7 894.1h0M243.7 898.2h0M251.7 705.3h0M285.7 825.5h0M260.1 702.1h0M278.6 884.3h0M264.7 872.9h0M216 809.1h0M308.3 792.1h0M244.1 886.7h0M266 741.2h0M291.2 680.3h0M275.1 801.9h0M238.8 808.4h0M242.1 883.2h0M311.5 658.5h0M316.2 772h0M234.3 575.4h0M222.1 722.7h0M253.3 651.7h0M298.6 807.7h0M260.8 833.1h0M271.6 874.4h0M227.9 760.3h0M304.2 834.3h0M290.8 807.5h0M244.7 869.9h0M250.1 770.8h0M241.5 706.1h0M244.8 701.5h0M292.9 859.6h0M256.2 653.5h0M240.5 863.1h0M237.1 738h0M244.7 747.6h0M302.2 863.6h0M274.4 731.6h0M251 893.2h0M269.7 812.4h0M254.5 651.9h0M243.2 910.1h0M213.6 747.8h0M299.3 739.3h0M284.6 844h0M248.3 727h0M368.5 858.9h0M258.1 778.6h0M258.5 733h0M289.8 620.9h0M237.1 821.2h0M265.1 768.7h0M287.9 754.5h0M309.4 715.4h0M295.4 787.3h0M266.4 823.6h0M250.2 961.7h0M264.1 750.1h0M277.3 744.7h0M230.2 762.6h0M284.3 736.6h0M235.6 619h0M227.5 780.9h0M273.3 749.1h0M305.7 754.2h0M234.3 879.8h0M239.2 868h0M259.2 810.9h0M240.4 604.6h0M269.7 653.6h0M282.3 862.3h0M271.6 741.7h0M280.2 597.8h0M280.6 723.6h0M285.6 742.6h0M292.1 766.7h0M267.3 741.7h0M297.3 752.1h0M297.9 778.9h0M227 698.4h0M254.3 821.2h0M228 681.7h0M256.6 667.7h0M270.7 694.2h0M301.8 748.8h0M271.9 701.4h0M255 846.9h0M274.8 694.8h0M276.5 851.1h0M229.8 861.8h0M260.3 737.7h0M248.4 737.3h0M336.6 714.8h0M270.1 900.5h0M216.5 751.8h0M305.5 923.2h0M263.7 665.4h0M280.6 704.7h0M233.5 768h0M312 788.1h0M245.2 773.9h0M245.8 810.2h0M272.7 966.2h0M259 853.1h0M247.9 900h0M252.6 764.3h0M259 821.1h0M277.3 658.1h0M263.7 789.3h0M260.7 792.9h0M306 710.8h0M296.3 713h0M255.8 902.5h0M236 673.9h0M249.4 848.9h0M303.6 705.4h0M287.1 581.7h0M219.8 741.8h0M276.3 709.8h0M268.5 789.7h0M275.4 858.4h0M291.3 661h0M223 705.9h0M278.7 730.5h0M258.8 652h0M268.8 856.2h0M297.3 917.7h0M286.7 822.8h0M289.8 833.7h0M230.1 843.8h0M273.1 776.1h0M257.5 672.6h0M304 695.5h0M241.6 765.2h0M249.7 924.1h0M271.3 642h0M234.7 632.8h0M235.2 861.9h0M262.7 654.2h0M272.9 642.5h0M259 591h0M323.4 775.7h0M307.5 772h0M325.4 776.4h0M431.4 783.4h0M477.8 761.1h0M387 776.8h0M282 882.9h0M297.7 930h0M340.4 768h0M354.4 725.1h0M369.3 793.3h0M359.5 715.4h0M444.9 751.2h0M384.1 751.7h0M411.8 743.9h0M372.2 817.7h0M396.7 765.9h0M319.3 723.2h0M333.1 764.6h0M422.2 760.8h0M258.7 872.9h0M420 756.2h0M388.3 803h0M307.7 695.6h0M429.1 788.9h0M331.1 791.2h0M428 752.8h0M378.5 791.9h0M369.8 808.9h0M348.5 738.6h0M312 809.3h0M309.2 795.1h0M443.5 757.1h0M405.7 787.8h0M421.3 755.8h0M317.8 861.6h0M328.9 812.6h0M331.8 796.6h0M325.3 821.4h0M345.6 795.7h0M401.3 779.6h0M330.6 779.4h0M323.9 805.7h0M353.4 747.1h0M341.4 780.2h0M410.4 807.8h0M295.5 745.9h0M371.6 791h0M331.9 830.5h0M348.1 734.2h0M381.2 771h0M421.3 777.6h0M303 754h0M316 791.9h0M363.5 791h0M447.4 738.3h0M361.8 817.8h0M370.8 729.8h0M391.1 765.6h0M360.8 756.2h0M444.4 791.8h0M366.2 748.8h0M340.8 772.5h0M289.8 798.8h0M297 769.1h0M451 786.4h0M339 762.7h0M389.2 762.2h0M406.2 788.7h0M391.7 741.5h0M348.7 778.3h0M364.8 784.6h0M254.9 858h0M288.5 800.2h0M346.5 713.5h0M409 764.5h0M485.3 758.8h0M324.5 790.7h0M425.7 773.8h0M394.3 817.6h0M319.2 744h0M334.5 797.5h0M277.1 662.9h0M399.6 799.2h0M447.3 771.2h0M330.2 667.9h0M388.4 778.8h0M387.8 811.2h0M297.2 794.4h0M376.5 715.4h0M333.4 704.9h0M422.6 755.4h0M391.2 783.7h0M353.4 849h0M403.1 796.6h0M359.6 792.5h0M307 935h0M367.3 780.4h0M362.3 756.8h0M385.3 761h0M357.7 800.4h0M313.9 750.6h0M364.3 709.3h0M363.4 767.7h0M257.3 761.7h0M326.4 749.2h0M259.1 805.6h0M371.7 843.9h0M420.8 773.7h0M449.3 780.3h0M329.3 735.6h0M265.7 792h0M390.3 799.4h0M379.3 774.4h0M287.8 804.7h0M393.4 763.8h0M357.9 809.4h0M409.5 766.6h0M303.7 722.6h0M286.4 825.7h0M325.4 762.9h0M328.4 828h0M369.5 786.2h0M340.6 784.3h0M349.6 781.8h0M396.1 781.4h0M316.6 752.4h0M400.7 777.9h0M291.6 626.3h0M316.8 768.9h0M318.8 897.9h0M419.8 753.3h0M243 977.5h0M372.3 809.2h0M295 783.6h0M362.2 833.5h0M378 815.1h0M408.1 774.7h0M359.6 766h0M296.9 881.8h0M437.5 769h0M352.1 797.9h0M387 782.5h0M355.7 824.5h0M356.4 783.7h0M361 769.1h0M397.3 727.5h0M402.4 803.9h0M386.3 786.1h0M349.6 789.4h0M299.3 733.1h0M342.4 749.2h0M301.9 752.4h0M366.8 761h0M382.4 778.8h0M328 844.1h0M260.3 808.3h0M389.9 759.9h0M420.2 738.7h0M342.3 769.3h0M379.4 750.8h0M400.9 787.1h0M395.3 804.5h0M300.4 779.7h0M378.8 763.8h0M396.2 770h0M334.6 852.5h0M391.9 746.1h0M332.2 819.7h0M395.9 760.7h0M328.2 676.3h0M401.5 740.5h0M367.8 755h0M402.4 788.1h0M436.1 790.2h0M396.6 732.7h0M339.1 759.8h0M351.2 782.5h0M301.8 785.8h0M346.7 757.8h0M333.6 685.3h0M445.5 777.6h0M371.9 751.9h0M361.8 765.8h0M370.5 759.2h0M348.2 787.6h0M312 793.4h0M350.9 769.3h0M389.5 795.1h0M322.5 801.6h0M350.2 802.5h0M349.2 803.5h0M355.1 811.2h0M348.2 761.2h0M409.4 786.8h0M356.8 730.8h0M365.6 792.9h0M315.1 768h0M362.4 728.9h0M334.3 833.3h0M245.1 578.3h0M368.6 780.4h0M334.9 778.1h0M371.3 742h0M363.6 812.8h0M336.7 827.3h0M318.7 840h0M372.9 761.3h0M354.4 735.9h0M284.8 706.9h0M366.5 759.6h0M370.7 762.6h0M362.2 760.2h0M310.2 750.6h0M311.5 732.4h0M347.6 770h0M364.2 790.8h0M310.7 784.5h0M377 740.5h0M358.2 763h0M398.7 777.7h0M329.3 780.3h0M345.7 785.1h0M368.2 742h0M414.4 773.2h0M336.4 804.4h0M355.9 815.1h0M395.3 781.4h0M335.5 748.4h0M426.3 781h0M388.4 797.6h0M365.8 772.2h0M434.1 762.1h0M359.3 744.6h0M461.2 798.5h0M344 746.9h0M373.6 766.9h0M371.3 760.6h0M326.3 723.9h0M258.5 901.7h0M356.1 812.3h0M458.9 831.3h0M327.2 627h0M373.8 750.2h0M423.4 798.1h0M501.2 776h0M311.6 712.3h0M377.4 768.6h0M439.6 766.4h0M327.8 786.9h0M338.6 795h0M432.5 830.1h0M360.6 780.6h0M320 776h0M436 762.7h0M372.3 744.5h0M304.3 813.6h0M339.6 793.6h0M304.2 775.7h0M335.2 783.7h0M349.7 774.5h0M377.2 816.3h0M360.3 786.3h0M345.7 769.1h0M382.5 753h0M332.7 821.7h0M429.2 772.6h0M431.2 785.2h0M376 812.9h0M381.5 767.5h0M333.1 881.9h0M398.3 858.3h0M362.5 796.3h0M291.6 634h0M327.8 765h0M369.7 755.4h0M336.8 799.8h0M370.8 749.7h0M324.8 709.7h0M363.9 765.8h0M367.7 766.1h0M306.5 840.8h0M381.4 772.3h0M307.8 756.1h0M415.9 763.3h0M360.7 752.2h0M258.4 932.3h0M353.2 755.9h0M378.9 793.1h0M385.6 735.2h0M409.8 772.6h0M292.2 944.2h0M329 796.8h0M356.3 781.1h0M373.2 783.1h0M323 722.6h0M364.8 681.9h0M321.2 724h0M337.1 792.3h0M384.2 725.6h0M304 760h0M395.7 830.6h0M348 746.9h0M407.1 768.6h0M297.2 773.7h0M347.2 778.8h0M350 784.2h0M370 764.4h0M272.6 860.1h0M292.5 826.9h0M404.2 784.1h0M394.6 746.5h0M370.9 788h0M354 736.3h0M351 828.6h0M461.9 774.7h0M380.9 742.8h0M316.7 717.4h0M402.3 713.1h0M281 922.3h0M349.7 807.4h0M364 805h0M337.1 791h0M302.9 815.8h0M474.6 763.2h0M376.8 777.3h0M358.4 819.1h0M333.9 756h0M344.5 760.4h0M381.8 769.7h0M347.9 768.8h0M387.4 779.5h0M317.2 625.1h0M370.5 770.2h0M343.6 774.4h0M367.8 833.5h0M343.9 843h0M318.8 798.7h0M337.5 756.6h0M344.9 803h0M350.5 772.3h0M372.6 731.5h0M325.9 753.5h0M387.3 788.5h0M366.2 779h0M301.5 704.3h0M293.5 759.8h0M368.7 806.6h0M337.6 785.6h0M332.2 769h0M350 759.5h0M309.6 769.9h0M303.9 737.7h0M310.7 848.4h0M366.2 852.6h0M311.1 832.7h0M310.4 711.6h0M370.9 753.2h0M291.9 848.8h0M329.7 740.3h0M343.1 752.6h0M277.6 783.7h0M401.9 802.4h0M486.8 830.6h0M299.1 740.8h0M392.9 772.6h0M350.6 789.1h0M390.8 774.9h0M332.8 803.4h0M388.6 775.6h0M406.2 770.3h0M410.7 769.2h0M273.4 991.3h0M358.2 829.8h0M424.6 724.8h0M419.3 781h0M326.5 963.8h0M303.5 822.3h0M456 753.1h0M325.8 773.5h0M383.3 771.3h0M339.5 847.5h0M295.9 894.9h0M375.4 797.1h0M337.2 751.5h0M333.7 708h0M377.7 803.7h0M370 845.4h0M417.9 762.1h0M299.3 774.7h0M402.3 707.2h0M325.7 788.3h0M446.5 783.6h0M337.7 779.3h0M412.8 755.6h0M353.5 776.9h0M335.9 762.8h0M290.4 853.4h0M274.5 723.3h0M278.6 736.5h0M321.6 796.9h0M424.1 775.2h0M306.2 806.8h0M314 771.8h0M377.9 785.3h0M372.7 740.8h0M242.2 660.8h0M405.5 762.7h0M361.8 809.8h0M501 752h0M326 761.1h0M317.9 826.3h0M296.3 836.2h0M435.1 791.7h0M481.3 763.2h0M395.9 800.2h0M374.3 693.3h0M437.8 734.4h0M350.8 817h0M382.7 762h0M348.5 799.4h0M383.9 750.9h0M310 743.6h0M416.6 753.7h0M379.5 754.4h0M258 895.4h0M372.4 724.3h0M459.6 776.2h0M391.2 787.9h0M311 874.2h0M434.9 782.8h0M372.4 771.4h0M496.4 783.7h0M349.4 726.7h0M336.4 836.8h0M409 727.5h0M378.1 772.7h0M291.9 740.2h0M363.3 782h0M400 863h0M451.5 762.4h0M296 735.3h0M353.7 770.7h0M339.2 799h0M364.4 756h0M417.1 814.5h0M309.2 746.5h0M371.8 789.3h0M285.5 778.4h0M404.1 792.4h0M326 755.3h0M361.3 778.9h0M351 745.8h0M397.8 815.3h0M400.1 795.4h0M342.3 780.6h0M337.8 774.8h0M443.9 758.5h0M296.8 829.4h0M339.5 825.7h0M288.7 741.3h0M320.2 748.2h0M386.1 765.7h0M505.8 777.8h0M398.5 782.4h0M309.2 771.7h0M308.8 692.6h0M443.1 807.6h0M271.8 693.3h0M452.3 746h0M369.9 760.7h0M412.3 730.4h0M352.8 788.2h0M341.2 787h0M301.4 759.5h0M267.2 795h0M315.2 782.5h0M423.3 713.7h0M362.6 734.9h0M368.1 804.3h0M258.4 939.8h0M508.9 795.1h0M321.7 730.3h0M356.7 746.7h0M451.1 764.1h0M348.3 749.5h0M387.8 825.3h0M336.2 758.8h0M361.9 796.9h0M429.1 804.4h0M441.8 805.3h0M433.4 822.9h0M319 820.8h0M325.3 799.6h0M374.5 746.3h0M369.1 791.3h0M316.6 785.9h0M334.7 793.6h0M313.4 776.1h0M364.5 781.8h0M320.1 793.9h0M363.6 828.3h0M355.2 770.5h0M361.4 736.5h0M385.6 779.8h0M302.8 719.1h0M330.1 789.8h0M385.1 717.4h0M406.1 786.4h0M410.5 755.8h0M368 810.2h0M370.9 776.7h0M440.7 750.3h0M306.3 788.1h0M356.9 702h0M363.6 754.2h0M391.8 815.4h0M384.5 799.7h0M348.1 777.7h0M325.1 757.4h0M411.2 825.8h0M363.2 721.3h0M232.2 868.7h0M312.6 767h0M432.2 795.5h0M353.5 791h0M303.2 787.7h0M388.9 767.6h0M364.5 787.3h0M361.7 834.1h0M468.1 769.4h0M491.3 769.5h0M326.8 760.6h0M364.6 743.3h0M353.3 765.2h0M310.1 691.1h0M256.2 641.5h0M432.5 770.4h0M261.3 837.3h0M346.2 782.8h0M269.1 661.2h0M336.1 718.1h0M311 778.2h0M385.3 803.1h0M435 737h0M352.7 722.9h0M335.4 729.1h0M316.7 766.7h0M296 790.2h0M335.8 815.9h0M315.1 771.1h0M403.8 761.1h0M349.7 794.4h0M339.4 753.3h0M456 775.7h0M465 791.8h0M326.7 785.1h0M317.4 888.3h0M386.5 766.5h0M407.6 753.5h0M303.1 805.9h0M380.3 789.7h0M362.1 794.2h0M352.2 809.5h0M325.6 830.2h0M356.3 734.4h0M398.4 803.3h0M353.8 793.8h0M346.8 872.3h0M272.4 827.7h0M397.3 789.6h0M408.6 756.7h0M331.1 750.9h0M366.9 728.9h0M314.3 803.3h0M316.9 795.7h0M341.9 794.5h0M371.3 794.6h0M388.2 752.6h0M302.8 794.2h0M409.9 803.9h0M399.6 773.8h0M346.3 919.9h0M358.9 784.9h0M318.3 793.7h0M351 781h0M399.7 739.7h0M369 732.5h0M291.8 889.9h0M250.6 954.3h0M412 760.8h0M401.3 783.3h0M299.5 639.5h0M443.2 768.3h0M402.3 763.5h0M394 793.8h0M290.1 794.9h0M350.8 775.3h0M318.5 826.6h0M422.8 749.1h0M459.1 757.4h0M262 935.4h0M374.3 775h0M327 804.9h0M413.4 772.9h0M389.1 810.4h0M341.3 717.9h0M382.5 766.6h0M315.9 772.2h0M405.5 799.2h0M347.6 722.6h0M339.9 780.3h0M354.6 774.8h0M337.6 767.7h0M274.6 728.6h0M338.2 818.5h0M365.7 745.8h0M346.5 787.3h0M310.2 755.5h0M332.6 688.5h0M363.1 774h0M315.8 740.3h0M364 774.2h0M376.3 770.9h0M358.2 772.4h0M365.9 762.1h0M288.8 701.6h0M400 849.3h0M353.9 737.6h0M356.2 776.4h0M351.2 746.9h0M438.9 770.1h0M309.8 713.5h0M432.7 766.5h0M497 754.8h0M347.3 789.5h0M367.5 733.6h0M301.8 884h0M379.6 726.3h0M328.3 800.7h0M363.3 768.5h0M391.7 762.7h0M344.5 774.2h0M317.8 829.6h0M363.3 749.5h0M303.3 749.5h0M296.4 749.2h0M252.9 597.7h0M342 809.3h0M366 785.6h0M399.7 797.9h0M362.1 747.1h0M353.5 773h0M333.4 945.3h0M423.3 773.6h0M341 743.5h0M395.8 753.1h0M438.6 783.2h0M338.9 741.8h0M310.1 766.4h0M330.9 780.5h0M348.2 732.1h0M377 739.2h0M307 831.3h0M432.9 759.2h0M346.9 775h0M394.9 785.6h0M295.2 768.4h0M362.6 759.9h0M318.9 718.5h0M313.2 786.6h0M345.5 762.2h0M343.2 770h0M339.3 769.6h0M344.9 767.5h0M386.9 770.8h0M402 699.6h0M436.3 741h0M356.4 760.5h0M311.6 844.7h0M445.1 772h0M343.8 731.8h0M397.4 763h0M354.2 744.4h0M330.1 758.6h0M339.3 801.9h0M314.5 784.5h0M344.4 819h0M344 782h0M328.9 807.3h0M333 772.1h0M356.3 748h0M348.5 814.9h0M249.9 673.9h0M347.3 796.4h0M363.2 752h0M410 757.8h0M315.1 756.6h0M398.4 741h0M310.8 790.7h0M410.1 781.8h0M446.5 758.4h0M321.3 727.3h0M393.4 782.2h0M315.6 748.2h0M368 777.8h0M307.8 701.6h0M434.3 792.1h0M400 831.6h0M397.3 806.2h0M538.8 834.5h0M333.1 736.5h0M439.3 777.6h0M331.2 805.2h0M272.9 859.9h0M350.6 765h0M367.2 795.7h0M348 801.3h0M423.9 820.6h0M344 827.6h0M352.1 781.2h0M382.7 769.5h0M359.9 779.3h0M386.5 773.4h0M396 777.1h0M362.8 843.6h0M347 724.4h0M441.9 739.2h0M309.1 777.4h0M362.7 783.2h0M386.1 711.2h0M330.3 726.4h0M339.4 788.7h0M420.4 783.2h0M253.3 843.1h0M407.5 764.6h0M346.1 750.2h0M362.1 816.6h0M412.3 793h0M375.7 781.1h0M417.1 809h0M344.4 778.9h0M352 886.4h0M360.8 802.5h0M266.9 806.9h0M367.3 789.8h0M457.7 758.2h0M281.9 821.7h0M397.5 827.1h0M350.9 749.2h0M378.4 796h0M395.4 728.6h0M366.7 764.8h0M352.6 786.7h0M275 687.4h0M311.8 796.8h0M349.9 756.5h0M354.1 798.2h0M310.1 745.7h0M376.9 779.3h0M294.5 751.8h0M338.2 788h0M240.4 880.4h0M398.2 763.7h0M345.5 751.3h0M310.4 802.2h0M313.3 806.8h0M329.8 793.6h0M354.7 746.9h0M362.6 836h0M335.6 817.4h0M295.4 823.1h0M311.6 738.7h0M261.2 782.8h0M269.7 802.5h0M319.6 794.5h0M416.8 783.3h0M386 768h0M300.8 687.3h0M254.6 674.1h0M281.7 836.9h0M457.3 762.5h0M371.7 798.7h0M449.1 792.9h0M398.5 667.2h0M395.3 799.8h0M375.8 847.2h0M349.7 770.9h0M450.6 785.6h0M417.4 781.4h0M349.9 763.5h0M356.1 771.8h0M369.6 795.8h0M440.5 778.9h0M302.5 727.4h0M310.5 746.8h0M328.7 808.8h0M382.9 817.8h0M466.5 793.4h0M313.5 772.9h0M258.9 796.8h0M313.9 799.9h0M391.7 745.5h0M376.2 794.1h0M433 778.2h0M408.5 785.5h0M402.8 833.2h0M425.4 687.2h0M280.8 803.4h0M303.6 688.4h0M397.4 771.6h0M450 744.3h0M417.9 787.4h0M331.5 839.2h0M394.3 734.1h0M300.3 808.5h0M428.9 810.2h0M382.9 784.3h0M295 724.2h0M372.8 827.1h0M479.4 778.4h0M288.8 760.8h0M438.6 773.5h0M340.1 840.2h0M373.6 790.6h0M404.4 761.7h0M412.8 648.8h0M359.9 804.9h0M302 733.6h0M403.3 801.4h0M264.5 745.6h0M457.3 777.6h0M362.5 792.5h0M325.6 716h0M374.3 738h0M321.5 787.7h0M366.4 782.4h0M363.9 815.3h0M369.4 719.1h0M386.7 780.1h0M400.3 751.7h0M416.5 784.7h0M372.1 765.4h0M288.2 819.3h0M416 796.9h0M274.7 828.1h0M410.1 791.4h0M312.5 815.2h0M313.4 850.3h0M317.6 778.6h0M430.4 731.6h0M364.3 810.8h0M364.8 774.3h0M432.7 762.7h0M342.2 724h0M296.5 746.7h0M366.3 750.9h0M337.2 748.1h0M309.7 810.8h0M265.9 649.1h0M376.9 781.4h0M320.6 739.6h0M334 798.2h0M394.5 742.9h0M357.3 739.6h0M368.6 753.6h0M359.7 760.2h0M312.6 755.2h0M397.7 822.4h0M341 735.9h0M243.9 975.3h0M326.8 756h0M357.7 822.5h0M380.4 859.9h0M355.9 764.4h0M443.1 746.2h0M264.3 674.1h0M323.2 754.7h0M256.4 978.3h0M297.7 770h0M266.6 888.2h0M290.3 775.8h0M391.6 857h0M327.2 815.8h0M415.2 805.9h0M356.2 831.5h0M414.6 779.6h0M305.9 739.2h0M396.1 798.7h0M503.1 788h0M338.4 755.3h0M351.3 823.7h0M322.6 698.1h0M363.6 800.4h0M338.2 744.6h0M352.1 805.6h0M347.3 842.4h0M320.5 762.1h0M265.8 776.4h0M353.1 776h0M401.4 758.1h0M428.5 771.1h0M304.1 756.2h0M310 790.9h0M317 783.6h0M350.3 813.7h0M382.2 844.3h0M323.4 791.2h0M294.9 690.8h0M492.1 801h0M343.6 760.7h0M350.9 795.7h0M299.5 744.6h0M355.2 780.8h0M337 745.7h0M371.8 815.1h0M334 741.1h0M386.6 819.3h0M374.7 776.7h0M372.5 789.7h0M417.9 789.1h0M407.4 697.9h0M443.4 792h0M413.4 771.3h0M375.7 795.1h0M332.2 809.6h0M282.1 728.5h0M312 850h0M263.1 899.6h0M294.2 841.2h0M395.2 770h0M343.3 874.4h0M301.3 871.8h0M331.8 808.1h0M362.6 738.8h0M448.9 750.1h0M376.4 757h0M246.8 849.7h0M353.3 724.9h0M317.9 857.5h0M330.1 775.9h0M309.2 833.2h0M339.6 814.9h0M468.2 756h0M424.7 778.8h0M347.4 826h0M320.1 722.1h0M299.4 694.2h0M391.1 752.9h0M378.9 807.8h0M390 770.4h0M369.9 762.4h0M291.1 758.9h0M406.2 776.3h0M454.1 659.1h0M321.3 829h0M460.1 762.9h0M432.6 796.3h0M338.1 724.8h0M362.4 786.2h0M280.5 781.2h0M312.7 841.2h0M407.7 756.5h0M351.8 750.1h0M286.8 865.4h0M250 691.3h0M322.6 740.7h0M386.7 769.5h0M357.4 816.3h0M285.9 785.9h0M308.3 807.2h0M438.9 765.3h0M350.6 776.4h0M362.9 705.7h0M235.6 895h0M348.4 785.5h0M310.4 780.9h0M385.5 755.9h0M278.8 715.9h0M329.9 804.9h0M352.7 618h0M429.2 756.2h0M369.8 799.8h0M342.8 829h0M351.3 787h0M307.9 786.3h0M318.2 788.9h0M285.9 682h0M403.5 799.5h0M302.8 765.1h0M351.5 762.3h0M283.3 812.2h0M303 777.4h0M357.5 792h0M327.4 793.9h0M418.3 712.9h0M316.1 738.1h0M361 807.5h0M386.7 795.7h0M235.1 854.7h0M412.6 712.2h0M346.7 861.3h0M378.3 729.8h0M314.4 777.9h0M395.9 736.2h0M422.9 843.1h0M368.3 818.8h0M411.8 783.2h0M332.1 781.7h0M354.5 788.4h0M398.9 752.8h0M393.8 781.1h0M424.3 759h0M359.2 759.3h0M291.6 790.6h0M437.2 786.4h0M374.1 762.1h0M327.5 695.9h0M459.4 737.3h0M436.5 779.4h0M322.6 732.2h0M330.3 798.6h0M329 771.8h0M369.3 772h0M378.6 789.1h0M357.4 752.4h0M438.8 802.8h0M403.4 868.7h0M336.4 746.4h0M356.1 763.2h0M365.4 780h0M433.5 738.5h0M376.9 766.9h0M363.7 776.9h0M298.8 884.1h0M364 831.3h0M354.8 790.3h0M300.9 806.1h0M327.9 771.2h0M321.8 750.3h0M372.7 757h0M304.8 769.3h0M375.3 760.2h0M389.7 836h0M347 689.2h0M311.6 769.9h0M374.2 790.1h0M376 797.2h0M456.4 805.4h0M392.9 744.9h0M433.3 772.3h0M246.2 608.8h0M365.7 754.8h0M332.7 716.9h0M314.4 672h0M318.8 598.3h0M378.3 765.4h0M291.8 706.9h0M366.8 809.7h0M337.5 771.1h0M364.9 797.3h0M301.3 618.2h0M307.7 733.4h0M436.2 766.5h0M343.2 745.6h0M390.6 806.1h0M429.4 745.3h0M371.3 792.4h0M365.4 776.8h0M324.3 679h0M305.2 914h0M308.1 744.7h0M287.1 830.8h0M314.8 804.7h0M281.3 749.9h0M382.9 805.1h0M305.3 698.4h0M393.5 810.3h0M380.9 787h0M336.5 755.5h0M393.7 776h0M313.3 662h0M351.1 726.9h0M308.4 728h0M343.8 721.9h0M371.4 769.9h0M409.8 722.4h0M307 766.7h0M380.7 764h0M370.6 765.7h0M455.6 737.2h0M375.6 767.5h0M328.6 784h0M386.7 924.6h0M403.7 758.9h0M340.8 799.7h0M357.2 769.1h0M323.8 797.1h0M413.4 747.1h0M450.5 799h0M281.8 715h0M384.4 772.9h0M400.4 775.9h0M295.8 719.2h0M348.8 719.6h0M357.2 744.8h0M338.7 767.9h0M297.7 691.1h0M263.8 700.5h0M301.3 930.5h0M282.9 828.9h0M331.6 713.6h0M391.5 794.7h0M375.9 727.9h0M313.2 729.5h0M322.1 777.9h0M407.7 755.9h0M326 710.6h0M376.2 747.3h0M468.9 794h0M354.2 749.8h0M346.2 798.3h0M372.2 759.3h0M326.7 726.3h0M339.6 808.7h0M391.9 817.4h0M311.2 707.7h0M279.8 847h0M436.1 785.1h0M317.1 793h0M415.8 767.1h0M334.1 826.6h0M342.9 757h0M397 787.4h0M365.3 799.9h0M327.9 664.9h0M321.6 824.2h0M315.3 760.1h0M460.8 823.8h0M356.2 767.6h0M354.2 751.5h0M419.2 782.3h0M374.2 675.3h0M331.5 684.2h0M408 763.1h0M365.8 739.2h0M337.1 737.4h0M374.2 801.4h0M328.5 776.1h0M306.8 812.8h0M323.8 813.2h0M335.4 652h0M359.3 751.8h0M370.5 796.8h0M353.5 761.3h0M294.9 777.7h0M257.5 633.4h0M323.9 842.6h0M385.2 757.6h0M314.3 792.4h0M426.2 784.1h0M308.6 784.1h0M353.9 812.2h0M355 793.1h0M431.5 769.1h0M399.3 766.6h0M356.2 727.7h0M379.4 760h0M264.5 756.4h0M311.4 731.1h0M351.4 798.4h0M365.9 782.5h0M386.5 756.3h0M313.2 796.7h0M295.3 698.5h0M277.7 650.3h0M322 753h0M355.3 820.3h0M365.4 851.9h0M286.5 775.1h0M275 845.7h0M334.6 789.2h0M342.3 800.3h0M304.4 761.9h0M365.3 720.2h0M298.8 894.3h0M407.7 761.9h0M374.7 764.5h0M346.7 755.9h0M330.2 671.8h0M395.3 819.7h0M333.7 827.3h0M442.9 781.7h0M365.8 746.6h0M339.5 734.4h0M383 772.9h0M318.6 759.1h0M273 675.2h0M258.2 899.4h0M295.4 748.7h0M259.1 761.4h0M418.4 690.6h0M342.7 816.8h0M383 796.2h0M341.4 814.1h0M339.7 782.8h0M269 594.5h0M397.6 708.3h0M377.2 686.4h0M352.5 745.8h0M351.3 722.4h0M380.7 783.7h0M406.6 806.5h0M425.1 777h0M278 822.9h0M391.3 825.2h0M458.2 806.9h0M323.8 771.3h0M382 815.8h0M333.7 838.2h0M269.8 769h0M365.6 749.8h0M287.9 768h0M319 717.7h0M319.3 736.7h0M336 780.9h0M365.8 831.6h0M426.3 779.9h0M361 770.1h0M356.2 773.2h0M389.7 770.4h0M292.4 804.2h0M302.7 725.7h0M355.1 753.7h0M274.6 683.1h0M381.5 774.4h0M270.1 672.7h0M338.4 739.1h0M312 819.6h0M354.1 787.6h0M322.9 720.7h0M315.9 755h0M347.7 792h0M313.9 731.3h0M377 799.3h0M423.4 802.9h0M342.2 621.5h0M340.5 759.1h0M314.9 815.6h0M290.1 767.3h0M314.8 790.2h0M316.6 751.4h0M317.1 822.9h0M426.2 756.9h0M472.8 768.1h0M352.2 831.7h0M284.6 698h0M398.1 794.4h0M295.5 771.7h0M338.8 770.1h0M314.7 722.4h0M290.9 823.2h0M314.5 891.7h0M393.5 752.3h0M441.1 827.5h0M316.4 786.7h0M333.1 793.8h0M346.8 764.3h0M366.7 773.8h0M423.4 763.4h0M348.5 753.6h0M357.4 833.2h0M418.2 779.6h0M395.4 793.9h0M364.8 759.8h0M302.8 747.3h0M345.6 770.3h0M392.9 804.2h0M388.4 804.1h0M373.3 774.9h0M372.3 800.2h0M414.3 740h0M325.2 787.1h0M390.7 808.8h0M369.3 776.6h0M470 800.9h0M300.5 750h0M377.6 805.6h0M415.8 744.9h0M407.9 720.9h0M296.3 833.2h0M353.7 782.8h0M316.8 814.1h0M487.8 696.2h0M365.4 693.1h0M329.9 709.2h0M423 738.9h0M346 699.9h0M409.4 779.4h0M327.9 810.7h0M371 691.7h0M358.7 757.1h0M398.9 822.2h0M277.5 839.4h0M291.8 810.5h0M378.4 781.5h0M340.2 763.1h0M399.6 784.1h0M249.6 628.2h0M439.3 784.7h0M321.3 774h0M419 772.5h0M391.5 792.5h0M322.6 787.4h0M271 839.1h0M438.5 740.6h0M428.5 762.5h0M310.9 725.6h0M317 761.7h0M320 701.6h0M312.6 955.4h0M331.5 771.1h0M273.1 821h0M330.3 792.6h0M347.1 738h0M383.1 726.3h0M361 831.9h0M402.8 775.9h0M379.9 832.7h0M335.8 732.5h0M329.7 761h0M294 760.3h0M348.7 740.1h0M298.6 791.8h0M352.7 828.4h0M344.9 745h0M300.7 730.1h0M434.2 740.5h0M430.4 788.1h0M442 749.3h0M367.8 797.1h0M463.4 769.2h0M337.8 783.2h0M329.8 725.3h0M347.9 780.5h0M301.8 765.2h0M336.4 760.8h0M454.7 749.3h0M347.3 737.3h0M427.7 786.4h0M336 797.2h0M404.5 778h0M337.5 734.4h0M355.2 884.7h0M276.7 642h0M304.4 879.9h0M369.4 767.6h0M324.9 870.6h0M384.7 777.2h0M286.5 692.6h0M397.1 818.4h0M397.6 784.5h0M427.2 731h0M364.9 818.6h0M312.6 803.3h0M411.7 713h0M239.3 656.4h0M423.1 778.4h0M293.8 823.7h0M378.4 844.9h0M422.9 828.5h0M344.7 863.1h0M300.3 788.9h0M279 683.3h0M427.4 817.6h0M294.1 821.1h0M362.1 788.3h0M389 859.8h0M264.8 696.3h0M306.9 861.8h0M337.6 889.8h0M292.1 717.3h0M328 791.4h0M378.8 757.6h0M392.6 830.2h0M360.2 774.3h0M334.7 787.9h0M334.4 750.1h0M343.1 824.3h0M407.1 719h0M324.1 666.4h0M392 788.4h0M244.1 603.7h0M419.3 791.3h0M325.1 802.1h0M367.7 791.9h0M339.2 834.1h0M449.4 771.1h0M316 746h0M421.4 745.8h0M277 667.2h0M396.3 794.1h0M406.4 746.4h0M375.6 813.1h0M355.3 759h0M306.8 750.6h0M332.8 870.8h0M335 808.5h0M269.4 868.5h0M298.8 787.2h0M355.6 710.8h0M493.2 831.9h0M330.7 736.6h0M413.3 779h0M332.5 875.7h0M317.8 809.1h0M374.4 755.8h0M461.3 761.6h0M288.9 601.6h0M354.2 785.9h0M262.5 794.1h0M321.9 757.9h0M301.1 823.1h0M291.4 907.3h0M296 742.1h0M353.7 732.5h0M432 794h0M289.1 917.2h0M359.1 791.8h0M314.6 769.2h0M375.4 759.6h0M330.9 826.1h0M342.2 839.3h0M313.8 877.5h0M385 722.6h0M355.8 797h0M359 700.4h0M247.8 869.4h0M252.6 913.2h0M326.4 807.3h0M414.5 769.2h0M276.9 686.6h0M417.6 776.4h0M314.3 800.6h0M426.8 776.9h0M446 741.1h0M422.6 819.3h0M347.7 745.8h0M438.7 735.9h0M410 782.3h0M374.8 811.4h0M393.4 798.9h0M314.4 787.4h0M362.6 871h0M353.5 810.5h0M348 754.9h0M302.5 788.4h0M258.3 687.5h0M308.2 738h0M331.2 752.4h0M250 601h0M367.6 715.2h0M292 684.2h0M375.4 884.3h0M320.1 785.1h0M387.1 760h0M351.5 706.6h0M420.2 767.4h0M329.7 767.4h0M371.9 847.7h0M385.8 810.5h0M301.2 754.6h0M349.4 852.2h0M321.1 799.6h0M429 797.3h0M360.9 748.8h0M292.6 740.3h0M377.7 755.6h0M420.6 787.6h0M390.9 785.2h0M388.6 732.9h0M296.7 846.5h0M287.2 706h0M418.8 766h0M346.8 772.6h0M360.4 773.3h0M416.5 772.3h0M375 769.2h0M443.7 744.6h0M345.2 799.8h0M326.7 795.1h0M378.1 784.6h0M452.8 762h0M339.2 842.4h0M438.8 754.5h0M276.6 732.8h0M368.2 800.3h0M364.2 800.3h0M457.5 789.6h0M319.9 750.4h0M343 867.7h0M331 822.2h0M359.4 806.8h0M288.4 839.5h0M400.6 773.8h0M280.5 691.4h0M365.8 750.4h0M228.8 693.6h0M352.4 803.4h0M324.2 737.7h0M300.4 793.1h0M407.7 782.1h0M318.8 761.2h0M337.3 743.6h0M325 793.6h0M299 655.5h0M404 773.6h0M313.7 759.8h0M402.1 747.6h0M314.3 797h0M345.2 853.8h0M296.9 788.3h0M408.4 701.9h0M364 695.5h0M337.8 703.8h0M285.5 754.8h0M346.5 833.1h0M334.9 794.3h0M313.4 782h0M344.9 790.4h0M349 797.6h0M414.8 783.8h0M333 745h0M400.3 844.5h0M381.9 808h0M377.5 783.7h0M380.6 785.5h0M416.8 761.1h0M383.6 790.6h0M439.9 791h0M302.4 714.7h0M260.7 645.8h0M387.8 799.6h0M329.7 660.9h0M362.5 717.4h0M304.3 780.6h0M334.8 785.8h0M342 836.6h0M426 764.9h0M383.5 761.9h0M282.8 763.8h0M413.9 785h0M299.3 706.3h0M334.4 718.3h0M427 769.6h0M323.7 788.4h0M364 736.3h0M426.7 775.2h0M311.9 753.2h0M293.6 850.4h0M349.5 702.6h0M354.1 778.8h0M276.7 848.8h0M297.1 827.2h0M304.5 729.3h0M338.7 703.2h0M319.2 691.9h0M393.3 765.9h0M332.4 804.2h0M326.4 826.1h0M309.1 755.8h0M342.4 772h0M356.4 794.1h0M352.4 768.2h0M374.3 832.4h0M393.6 687h0M421.7 778.3h0M358.6 771.8h0M284 812.9h0M504.9 714.1h0M330.3 828h0M242.8 742.3h0M318.2 669.4h0M343.3 740h0M395.2 684.1h0M346.4 759.9h0M428.4 703.5h0M369 837.9h0M310.9 626.9h0M299.6 768h0M286.1 800.7h0M376.2 773.8h0M361.3 713.6h0M446.2 758h0M400.9 771.8h0M280.7 719.5h0M353.3 785.1h0M418.2 786.7h0M362.5 718.4h0M384.8 823.4h0M282.1 749.5h0M399.5 716.1h0M334.6 780.8h0M325.2 751.5h0M389.1 772.9h0M404 819.3h0M293.2 608.3h0M335.6 769h0M280.7 776.9h0M294.3 900.4h0M405.3 758.3h0M289.7 732.9h0M333.8 787.3h0M450.5 826.4h0M302.5 713h0M339.6 687.9h0M418.9 764.7h0M271.8 637.4h0M413.6 799h0M315.6 808.7h0M316.9 798.6h0M347.7 767.8h0M303.8 808.7h0M350.6 805.4h0M385.9 766.4h0M450 760.4h0M306.5 785.7h0M307.1 871.6h0M412.1 752h0M400.6 762.9h0M276.7 799.5h0M319.9 729.8h0M325.3 784h0M390.3 726.2h0M440.6 790.3h0M332 730.8h0M334.6 767.8h0M349.4 840.9h0M304.1 819.1h0M323.3 718.9h0M333.4 743.6h0M409.9 753.9h0M390 706.4h0M314.3 750.5h0M270.1 633.3h0M385 758.5h0M328.6 785.3h0M424.2 770.5h0M329.6 814.4h0M286.2 898.4h0M415.3 719.2h0M422.7 801.5h0M316 689.7h0M384.7 739.2h0M467 817.7h0M284.7 760.5h0M354 813.1h0M380.4 734.9h0M357.7 691.3h0M447.1 786.1h0M470.7 776.6h0M378 696.7h0M410.2 967h0M373.2 814h0M309.3 773.2h0M398.1 811.6h0M455.9 764.5h0M249.5 818.1h0M323 764.4h0M316.3 882.8h0M387.3 754.7h0M325.3 775.8h0M424.5 748.5h0M335.3 868.7h0M372 742.5h0M315.4 763.5h0M440.7 801.2h0M332.3 898.5h0M347.6 840.2h0M314 651.6h0M307.9 796.2h0M352.7 822.6h0M384.9 791.8h0M277.7 846.9h0M351.4 890.3h0M418 789.8h0M304.3 766.8h0M409.5 735.3h0M347.6 716.2h0M400 790.6h0M281.5 855.4h0M310.7 775.3h0M340.4 811.3h0M376.3 763h0M330.9 803h0M334.9 736.1h0M446.4 804.9h0M344.7 757.2h0M387.6 751.5h0M301.4 677.3h0M388.2 760.4h0M321.4 843.9h0M312.6 871.3h0M315.9 835.1h0M430.8 772h0M327.1 738.9h0M343.6 798.2h0M409.1 696.8h0M343.8 759.7h0M335.6 752.7h0M424.9 738.9h0M402.5 777.4h0M277.6 780h0M403.5 778.1h0M423.7 804.6h0M395.4 797.7h0M347.5 707.2h0M234.5 579h0M319 812.6h0M385.8 797.8h0M380.3 779.5h0M308 835.4h0M344 832h0M322.5 731.9h0M422 790.7h0M306.7 763.9h0M449.6 742.3h0M365.2 827.4h0M402.9 708.7h0M348.1 750.2h0M414.3 727.6h0M345.8 796.9h0M381.3 741.2h0M401.6 791h0M393.9 778.9h0M391.7 761.5h0M364.4 843.9h0M288.6 787.4h0M382.7 710h0M416.4 805.9h0M446.8 799.5h0M401.1 826.3h0M335.1 705.6h0M340.5 571.1h0M381.7 795.2h0M416.1 775.5h0M318.4 861.8h0M327.1 813.1h0M333.5 776.9h0M317.2 845.5h0M381.8 810.7h0M302.3 778.7h0M351.2 757.3h0M381 751.2h0M359.4 781.9h0M333.9 754h0M394.1 791.8h0M421.2 805.8h0M362.6 810.1h0M375.3 772.5h0M306.4 881.6h0M304.8 750.8h0M347 785.5h0M369.2 715.3h0M337.7 777.6h0M328 799.5h0M452.3 790.8h0M376.2 793.7h0M364 808.2h0M444.1 783.7h0M388.6 798.2h0M396.8 801.8h0M253.4 680.2h0M448.1 769.5h0M380.8 790.9h0M397.4 773.4h0M294.6 728.1h0M395.6 787.1h0M379.4 736.9h0M299 766h0M371.8 744.5h0M318.8 777.6h0M395.2 789h0M345.9 834.4h0M394.5 758.9h0M322.3 893h0M318.8 791.6h0M319.1 785.7h0M290.4 768.7h0M352.7 794.1h0M260.9 733.8h0M270.1 822.7h0M335.1 840.8h0M417.5 730.6h0M349.3 792h0M307.8 760.2h0M338.2 695.4h0M387.1 807.6h0M296.9 800.1h0M374.7 902.9h0M355.1 782.9h0M368.7 775.2h0M392.2 757.9h0M436 771.8h0M387.3 678.7h0M376.4 806.4h0M387.5 814.4h0M393.8 769.9h0M246.7 981.7h0M343.5 803.3h0M352.8 703.1h0M373.3 792.8h0M254.4 681.7h0M352.1 735.6h0M320.9 664.3h0M365.4 770.3h0M360.2 735.6h0M293.9 718.7h0M367.8 801.4h0M373.1 781.6h0M283.9 743.3h0M238.8 882.5h0M350 791.4h0M339.4 700.4h0M364.1 768.5h0M406.5 814.6h0M303.6 733h0M357.4 784.3h0M288.7 783.6h0M342.4 747.9h0M320.7 827.1h0M337.1 786.5h0M399.2 778.4h0M355.3 804.9h0M369.7 750.7h0M296.2 757.2h0M329.1 711.4h0M392.2 826.2h0M392.8 733.5h0M300.3 725.5h0M236.3 891.9h0M425.1 735.4h0M328.7 745.8h0M381 797.7h0M344.9 755h0M315.8 732.4h0M370.6 755h0M278.5 918.7h0M422 822.9h0M385.1 731.3h0M243.9 954.9h0M373.6 707.7h0M453.3 782.9h0M383.1 720.7h0M273.8 922.3h0M313.4 811.2h0M303.3 785.3h0M321.7 772.3h0M495.5 776.8h0M440 740.4h0M389.3 737.7h0M292.2 801h0M307.3 914.2h0M483.8 727.7h0M423.8 765.2h0M308.6 778.8h0M374.7 779.9h0M327.2 742.5h0M283.1 790.9h0M382.2 777.4h0M272.2 840.6h0M304.9 690.8h0M393.5 819h0M344.4 820.3h0M256.5 814.6h0M377.3 758.8h0M361.9 777h0M427.6 783.7h0M335.3 714h0M357.5 811.4h0M256.6 630.9h0M305.7 793.3h0M284.3 981.7h0M399.4 759.5h0M321.9 771.9h0M276.7 714.5h0M389.9 809.4h0M330.1 786.3h0M315 774.1h0M276 804.4h0M295.1 852.6h0M348.4 813.5h0M373.8 794.2h0M291.5 725.2h0M361.6 789.8h0M375.8 752.2h0M491.1 815.7h0M382.5 687.5h0M301.2 777.1h0M296 761.2h0M402.5 807.2h0M281.9 791h0M347.4 816.4h0M383.1 840.1h0M352.1 681.7h0M420.2 770.7h0M383.7 699.9h0M298.3 875.5h0M357.1 802.6h0M332.8 783.5h0M345.2 730.5h0M352.3 799.3h0M366.6 725.8h0M355.9 829.6h0M367.9 730.5h0M305.1 809.7h0M367.4 840.1h0M410.9 747.6h0M327.1 762.9h0M358.7 777.3h0M387.4 720.7h0M306 686.9h0M398.5 829h0M397.8 777.9h0M219.7 718h0M361.3 792.6h0M374 806.6h0M355.8 833.5h0M346.7 731h0M371.9 783.6h0M337.7 762.1h0M313.1 793.8h0M390.5 812.5h0M375.8 718.6h0M394.8 778.7h0M352.2 778.8h0M387.7 855h0M379.2 799.4h0M396.8 759.8h0M373.6 688.5h0M453.5 775.9h0M372.5 709.6h0M371.4 779.5h0M405.4 791.6h0M338.6 797.3h0M303.1 855.2h0M286.4 751.8h0M323.6 809.1h0M345.2 804.7h0M459.7 774.1h0M333.9 831.3h0M331 742.6h0M294.4 762.9h0M336.8 825.9h0M423.1 784.7h0M433.8 764.2h0M305 741.7h0M364.9 794.2h0M290.9 785.9h0M334.7 775.1h0M428.2 815.9h0M341.3 800.6h0M479.7 763.1h0M458.8 808.5h0M433.6 783.8h0M387.1 792.1h0M467.3 776.3h0M343.7 796.1h0M403.7 753.7h0M434.2 790h0M466.1 767.9h0M427.2 759.2h0M321 721.5h0M267.7 769.3h0M348 744.2h0M356.4 792.1h0M437 822.4h0M283.4 731.7h0M334.1 818.3h0M252.9 631.6h0M369.3 789.9h0M395.8 754.4h0M408.3 791.1h0M351.7 712.8h0M325 827.8h0M437.6 756h0M340.7 678.5h0M260.3 699.9h0M282.1 798.2h0M462.1 743.5h0M312.2 756.3h0M400.9 769.4h0M380.6 731.7h0M377.1 775.5h0M356.4 755.4h0M350.8 820.1h0M411.8 767.9h0M366.4 770.6h0M372.2 785.1h0M351.7 761.1h0M379.8 815.1h0M322.5 773h0M369.7 704.6h0M360.4 744.9h0M370.1 784.4h0M392.2 748.5h0M396.4 796h0M235.3 612.6h0M296.7 809.3h0M285.3 674.6h0M370.1 727.1h0M415.8 822.1h0M467 773.8h0M333.4 766.6h0M368.3 723.5h0M386.5 762h0M433.1 724.4h0M298.1 951.6h0M307.6 790.4h0M314.5 744.3h0M439.9 732.5h0M394.7 766.9h0M404.4 815.2h0M332.7 760.7h0M402.6 813.1h0M406.5 774.3h0M335.5 730.2h0M378.9 782.1h0M380.1 801.1h0M322.5 831.6h0M348.5 773.8h0M384 787.6h0M406.9 779.5h0M316.6 817.7h0M385.5 753.8h0M434.5 772.8h0M372.1 777h0M401.7 749.2h0M305.1 789.6h0M387.9 888.1h0M340.1 793.4h0M298 782.3h0M371.5 735.3h0M287.9 742.3h0M349.1 731.2h0M321.2 823.7h0M385.8 807.5h0M350.6 719.6h0M367.1 738.8h0M313.8 843.9h0M363 778.5h0M339.3 772.2h0M348.7 736.7h0M482.9 782.3h0M287.1 694.6h0M383.8 758.3h0M405.6 748.3h0M391.7 704h0M285.4 821.3h0M397.6 811h0M321.7 838.2h0M365.6 789h0M296.4 780.1h0M351.9 819h0M409.7 769.8h0M346.7 796h0M370.1 730.8h0M364.4 705.8h0M387.1 743.7h0M375.7 785.7h0M358.4 752.4h0M348.6 829.1h0M399.2 793.1h0M477.5 791.6h0M319.2 649.1h0M300.7 769.8h0M323.7 715.9h0M446.9 750.4h0M369.6 747.5h0M292.4 753.2h0M411.6 773.1h0M263.7 715.3h0M350 768.2h0M268.7 765h0M363.4 805.4h0M301.7 782.6h0M425.8 769.6h0M338.4 816.5h0M371.1 812.3h0M421 788.7h0M352.5 750.9h0M342.5 860.6h0M238.4 679.3h0M289.5 755.8h0M352.5 807.2h0M452.5 825.5h0M370 691.6h0M306 800.2h0M410.5 774.7h0M392.2 866.9h0M384.6 793.1h0M399.7 749.5h0M345.5 814h0M260.1 794.1h0M401.3 792.9h0M369.2 824.6h0M335.4 804.4h0M353 756.8h0M312.7 812.3h0M405.6 715.6h0M322.8 713.9h0M357.2 712.4h0M446.2 810.3h0M339.2 726.4h0M292.1 713.3h0M380.3 748h0M273.9 655.5h0M370.1 809.1h0M304.8 783.5h0M325.7 794.8h0M318.1 730.7h0M297.9 766.9h0M280.4 787.7h0M325 796.3h0M422.4 771.6h0M345.9 822.6h0M360.7 743.8h0M275.9 620.7h0M414.1 785h0M412.7 756.2h0M321.9 781.5h0M427.1 718.8h0M317.1 838.4h0M367.4 824.3h0M388.5 751.9h0M412.3 838.3h0M421.6 796.4h0M335.2 727.9h0M340.6 775.1h0M401.7 809.9h0M344.3 710.8h0M377.5 701.3h0M300.3 803h0M235.2 681h0M435 809.4h0M311.3 765.2h0M368.5 783h0M402.5 767.5h0M390.2 709.7h0M425.8 824.7h0M329.6 825.6h0M419.5 760.4h0M353.2 700.8h0M413.8 789.3h0M307.1 655.1h0M290.3 682h0M373.3 739.6h0M288.9 749.6h0M259.7 896.6h0M428.1 779.9h0M299.8 755.8h0M386.3 808.9h0M292.9 747.7h0M391.4 776.2h0M305.8 861.7h0M296.5 804h0M368 813h0M369.7 756h0M423 781.8h0M319.7 899.5h0M265 702.7h0M382.6 745.5h0M319.4 738.1h0M316.4 802.3h0M405.7 771.4h0M277.1 675.9h0M279.6 760.1h0M336.5 732.8h0M257.4 844.2h0M280.2 852.9h0M393 823.1h0M335.6 773.9h0M290.4 880.6h0M295.5 588.6h0M278.3 711.2h0M333.1 785.4h0M326.6 809.2h0M296.6 796.3h0M351.3 753h0M327.7 750.6h0M328.3 774.9h0M398.4 771.5h0M252.7 577h0M342.9 864.2h0M288.5 769.7h0M344.2 776.4h0M369.1 724.8h0M382.8 812.2h0M439.7 745.6h0M376.6 791.5h0M319.2 782.7h0M302.2 757.5h0M462.7 766.8h0M310.6 759.9h0M360.2 804.6h0M321.5 735.6h0M249.4 710.4h0M392.4 760.4h0M322.3 746.2h0M431.7 755.8h0M284.9 720.8h0M411.6 793.6h0M399 764.9h0M390.5 722.1h0M320 850.4h0M329.3 791.3h0M320.1 803.5h0M381.4 816h0M368.2 847.8h0M388 789.9h0M370.4 684.3h0M343 791.8h0M436.4 752.7h0M328.2 795.8h0M304.2 713.6h0M391.7 782h0M357 756.3h0M399.9 746.7h0M378 748.8h0M358 739.2h0M436.1 772.6h0M379.7 745.2h0M328.3 789.2h0M402.9 782.3h0M376.7 762h0M335.4 823.2h0M268.1 766h0M448.5 782.2h0M493.6 778.4h0M294.5 784.5h0M375.8 770.1h0M387.5 836.9h0M333 724.1h0M296.3 777.8h0M280.4 838.3h0M343.4 741.1h0M363 808.1h0M388.1 793.9h0M300.3 712.5h0M382.1 775.8h0M332.8 779.6h0M321.7 783.5h0M355.2 809.4h0M384.1 813h0M282.8 656.8h0M371.2 766.4h0M330.4 722.5h0M361.5 798.3h0M317.4 825.8h0M308.6 701.1h0M323.7 762.5h0M361.6 741.8h0M334.2 757.8h0M253.3 809.9h0M364.5 873h0M292.1 736.7h0M336.5 811.6h0M288 776.4h0M438.1 718h0M307.7 776.2h0M323.1 736.9h0M399.5 781h0M401.4 800.2h0M319.2 740.1h0M319.6 814.1h0M341.6 770.3h0M445.1 786.6h0M314.9 643.7h0M386.9 748.8h0M401.8 799.3h0M411.6 801.3h0M392.3 725.4h0M278 748.8h0M359.4 718h0M263 823.5h0M390.1 773.5h0M375.3 793.8h0M423.8 776h0M289.2 747.2h0M333.3 829.7h0M395.5 731.9h0M362 763.1h0M382.5 764.3h0M357.4 723.6h0M391.2 757.2h0M474.1 800.4h0M406.7 793.8h0M338.9 803.8h0M343.7 767h0M368.9 749.5h0M392.9 747.3h0M456.8 761.9h0M416 817.7h0M419.4 744.5h0M359.3 774h0M338.3 785.2h0M354.1 851.7h0M362.5 669.4h0M299.3 813.6h0M396.9 793.8h0M408.3 771.3h0M381.8 726.5h0M379.4 801h0M409.3 855.9h0M312.9 823.2h0M384.1 789.6h0M406.8 745.4h0M501.9 748h0M379.6 802.1h0M316.2 755.3h0M321.9 794.8h0M345.8 826.7h0M357.7 714.8h0M409.3 751.7h0M446.3 763.5h0M449.2 785.5h0M360.3 720.6h0M337.1 800.8h0M298.7 778h0M311.9 718.8h0M230.7 859h0M448.1 766.3h0M442.8 765.2h0M394.3 772h0M309.3 796.5h0M357.8 764.8h0M388.9 777.8h0M295 815.2h0M298.9 703.5h0M366.7 762.3h0M417.9 751.6h0M306.9 691.2h0M402.5 792.5h0M295.8 746.5h0M404.7 780h0M365.9 821.6h0M420.2 829.6h0M291.3 772.1h0M296.7 816.5h0M306.7 759h0M312.3 778.2h0M394.5 763.5h0M356.2 787.2h0M373 811.5h0M397.5 742h0M263 887.9h0M290.8 777.4h0M410 745.9h0M367.4 838.5h0M468.7 786.5h0M370.6 757.4h0M317.8 871.4h0M437.8 830.5h0M291.1 771.7h0M322.6 793.8h0M328.6 751.5h0M361.8 827.3h0M267.6 685.6h0M389 780.3h0M414.4 758.4h0M431.1 771.5h0M331.7 755.5h0M320 808.2h0M454 770.5h0M371.1 866.1h0M299 727.2h0M344.7 866.4h0M350.8 741.9h0M433.2 754.1h0M466.8 732h0M326.2 848.2h0M377.5 851.4h0M402.5 781.5h0M281.4 725.5h0M287.1 778.5h0M355.1 743.7h0M430.2 850.5h0M355.3 795.3h0M504.3 764.6h0M446.6 789.4h0M322.7 649.3h0M304.3 814.9h0M305.8 764.8h0M441.2 795.2h0M319.4 863.3h0M363.6 771.5h0M304.9 736.7h0M360 788.4h0M378.5 760.7h0M379.9 770.7h0M446.2 748.8h0M316.1 712.2h0M327.4 715.8h0M280.2 785h0M311.8 741.8h0M338.2 827.1h0M297.9 672h0M326.8 721.2h0M309.6 881.7h0M466.2 834.3h0M345.6 743.2h0M374.1 734.6h0M353.1 699.6h0M375.6 782.2h0M391.4 778.6h0M438 750.1h0M317.9 810.4h0M290.4 662.7h0M391.5 768h0M334.5 761.7h0M318.3 753.2h0M336.4 722.2h0M358.3 769.7h0M479.8 775.3h0M314.6 752.9h0M301.4 795.2h0M410.6 786.6h0M324.8 881.5h0M412.4 825.3h0M407.8 831h0M342.3 778.6h0M271.6 809.9h0M279.9 829.1h0M428.4 768.9h0M287 792.4h0M356.6 789.2h0M385.5 839.8h0M301.8 694.4h0M328.1 755.9h0M329.2 673.1h0M379.3 821.5h0M297.7 867.2h0M359.3 827.5h0M464.4 776.9h0M433.8 805.1h0M452.1 738.4h0M341.7 739.3h0M298.5 795.6h0M403 768.3h0M334 721.7h0M301.5 646.6h0M328.4 827.8h0M454.5 746h0M311.7 717.9h0M283.2 674.9h0M308.9 767.8h0M474 791.6h0M416.8 794.1h0M414.4 770.7h0M425.4 789.7h0M296.9 737.9h0M306.7 821h0M289.2 880h0M306.9 811.9h0M361.1 759.3h0M389.8 816.1h0M400.2 755.2h0M300.7 797.6h0M405.2 732.4h0M342.8 840.2h0M447.6 779.2h0M311.3 787.2h0M323.2 815h0M416.7 756.7h0M459.7 788.7h0M426.4 746.2h0M331.8 819.1h0M462.7 744.7h0M438.4 793h0M372 775.1h0M284.8 870.9h0M410.3 786h0M240 866h0M465 745.5h0M422.4 788h0M445.6 851.7h0M307.1 826h0M327.3 725.6h0M318.5 883.2h0M412.4 758.2h0M348.2 791.1h0M356.6 821h0M342.6 786.4h0M318.8 778.7h0M480.6 775.9h0M324.3 846.4h0M324.1 814.5h0M276.9 812.2h0M372 723.7h0M319.2 811h0M282.2 613.8h0M352.9 602.8h0M316.9 731.7h0M361.1 767.4h0M407.3 749h0M279.5 771.5h0M270.4 921.8h0M324.5 807.8h0M314.5 788.2h0M341.5 804.1h0M367.3 769.5h0M327.3 828.9h0M382.7 748.3h0M236 601.7h0M285.6 726.2h0M254.4 708.1h0M318.9 732.1h0M365.8 834.1h0M374.6 854.8h0M329.7 821.1h0M456.6 783.9h0M314.8 839.5h0M373.8 803.1h0M303.6 740h0M436.8 744.5h0M354.2 801.8h0M255.4 937.6h0M382 782.4h0M323.8 785.7h0M442.2 739h0M266.7 980.2h0M316.9 780.7h0M412.7 766h0M243.1 923.1h0M432.5 769.6h0M400.6 753.7h0M329.7 748.8h0M325.6 719.7h0M348.5 782.6h0M355.3 776.9h0M320.4 769.4h0M314.2 717.1h0M383.1 849.4h0M385.7 782.7h0M413.1 751.7h0M340.7 750h0M393.1 839.1h0M401.9 817.7h0M329.2 787.7h0M317.7 654h0M288.7 726.5h0M353.7 817.4h0M407.4 773.8h0M392.2 754.4h0M334.2 803.2h0M342.2 804.5h0M367.2 787.9h0M415.3 818h0M367.5 792.2h0M429.9 808.5h0M386 774.5h0M393.5 759.7h0M453.3 811.6h0M345.3 800.2h0M324.7 754.3h0M328.8 960.8h0M428.3 775.9h0M274.9 793h0M375.1 750h0M375.4 805.7h0M411.3 789h0M304.9 743.7h0M323.2 781.2h0M394.6 765.5h0M343.2 726.6h0M300.4 825.7h0M333.9 771.1h0M251.8 946.5h0M339.9 715.3h0M282.3 824h0M308.8 679.5h0M356.7 717.1h0M455.3 766.3h0M412.3 766.2h0M307.9 802h0M410 770.4h0M423.6 783h0M402.1 748.6h0M408.3 754h0M359 766.9h0M295 781.3h0M477.9 798h0M406.4 803.6h0M386.9 736.4h0M342.5 785.3h0M327.3 836.1h0M352.9 692.6h0M320.6 790.4h0M436.6 788.6h0M354.8 722.7h0M416.7 798.4h0M301 832.5h0M373.8 728h0M298.7 845.1h0M371.7 896h0M273.6 847.8h0M445.7 785.7h0M379.8 858.1h0M403.4 788h0M252.3 911.1h0M349.4 660.6h0M397.6 761.9h0M359 749.5h0M390.6 840h0M247.4 584.5h0M332.5 723.1h0M394.9 756.1h0M417.8 778.3h0M381.5 755.3h0M366.9 745.9h0M333.5 749.2h0M455.1 799.1h0M431.2 757.2h0M338.8 829.3h0M323.9 740h0M301 835h0M312.6 723.5h0M389.5 786.4h0M461.9 730.7h0M417.6 770.6h0M317.7 737.5h0M329.7 765.3h0M350.4 702.2h0M263.7 662.8h0M363.9 841.1h0M356.5 759.3h0M314.9 721.9h0M314.4 765.9h0M337.6 809.2h0M315.3 778.3h0M340.4 747.4h0M283.2 779.1h0M358.9 713.8h0M404.4 755.5h0M370.8 807.6h0M320.6 767.4h0M368.5 842.6h0M381.8 798.1h0M338.8 862h0M326.7 769.9h0M357.8 719.2h0M299.4 672.1h0M370 802.3h0M239.3 744.6h0M402.4 847.8h0M301 701h0M444.4 817.1h0M298.7 810.2h0M281.8 809.8h0M348.9 821.1h0M353 691.6h0M365.3 740h0M248 933.5h0M381.7 761.4h0M340.9 751.5h0M415 735.7h0M450.6 794.8h0M420.3 761.8h0M287.7 838.9h0M257.3 764.6h0M378.1 870.9h0M473.4 827.4h0M265.4 687h0M356.6 844.4h0M415.3 789.5h0M352.5 762.3h0M293 806.7h0M340.9 797.9h0M347.4 858.2h0M409.1 738.3h0M369.3 728.9h0M268.7 684.3h0M289.2 731.6h0M316.1 763.8h0M429.9 750.7h0M341 768.5h0M414.5 794.7h0M402.9 823.7h0M460 783.3h0M333.8 835.5h0M429.2 792h0M380.3 715.6h0M269.5 729.6h0M329.8 762.6h0M425.9 815h0M292.6 867.6h0M369.5 773.9h0M410.2 796.5h0M410.2 779.7h0M436.3 756h0M411.4 759.8h0M397.9 757.9h0M391.1 888.6h0M313.9 717.7h0M454.2 783.9h0M386 831.1h0M413.9 780.9h0M281.8 840.8h0M397.8 752.7h0M370.5 725.1h0M478.9 806.1h0M356.1 796.9h0M339 750.8h0M448.9 759h0M439.3 781.5h0M332 877.3h0M420.1 748h0M287.8 746.1h0M316.3 775.4h0M301 802h0M401.3 781.1h0M385.7 800.1h0M382.8 668.4h0M390.2 666.9h0M312.5 671.2h0M331.9 747.9h0M359.8 729.4h0M410.9 736.2h0M338.7 747.8h0M372.6 749.8h0M450.2 792.9h0M462 816h0M394.1 835.2h0M294.2 633.3h0M251.3 920h0M380.8 728.2h0M384.3 698.7h0M378.8 766.4h0M328.7 641.4h0M335.4 743.1h0M512.2 770.3h0M288.6 802.2h0M371.5 739.9h0M409.1 819.4h0M348.7 766.4h0M276.1 803.9h0M350.9 695.1h0M377.7 789.3h0M266.4 630.5h0M414.9 780.3h0M361.8 848.6h0M329.5 713.1h0M323.6 748.3h0M427.5 791.6h0M334.5 839.5h0M411.7 799.3h0M377.3 737.3h0M383.3 732h0M393.8 820.7h0M321.8 800.7h0M346.2 815.7h0M473.3 777.9h0M385.1 808.3h0M309.4 815.2h0M396.9 809.7h0M382.9 737.5h0M310.1 743.1h0M415.6 812h0M324.4 780.2h0M434.3 775.9h0M440.6 766.8h0M268.7 888.5h0M343.2 809.3h0M323.1 645.8h0M433.6 757.1h0M389.3 806.8h0M346.3 805.2h0M355.4 733.8h0M303.4 773.7h0M307.5 815.8h0M299 804.7h0M418.2 755.8h0M307.9 709.2h0M367.9 741.9h0M385 879h0M267.9 915.9h0M384.8 794.2h0M391.9 756h0M341.3 725.9h0M360.5 708.7h0M408.8 761.8h0M328.2 900.8h0M389.3 792h0M340.3 753.8h0M418.3 813.4h0M288.9 898.6h0M381.4 777.3h0M274 698.1h0M368.8 768.7h0M335.4 830h0M331.7 784.4h0M324.1 720.5h0M413.1 874.6h0M279.4 986h0M309.9 821.1h0M275.7 688.3h0M396.9 750.6h0M312.8 733.5h0M392.2 795.5h0M350.3 708.7h0M351.3 815.1h0M392.8 796.5h0M371.5 710h0M275.6 717.8h0M445.4 762.6h0M326 825.9h0M454 772.3h0M441.7 786.4h0M303.5 745.3h0M364.7 813.4h0M302.2 598.9h0M358.9 708.7h0M344.3 782.9h0M444.3 771.1h0M299.1 729h0M359.5 824.6h0M370 747.8h0M421.8 801h0M335.5 810.6h0M411.1 803.7h0M304 588.6h0M386.1 823.4h0M380.5 831.7h0M434.4 705.5h0M368.7 654.6h0M301.7 723h0M313.6 749h0M376.1 810.9h0M289.6 880.6h0M338.2 682.5h0M388.1 662.6h0M300.7 816.9h0M367.2 808h0M327.1 689.8h0M389.6 739.5h0M428.3 758.4h0M337.8 765.9h0M297.9 738h0M366.4 737.5h0M458.4 706.9h0M337.9 739.2h0M312.3 769.2h0M305.6 807h0M440.5 744.8h0M415.5 721.4h0M422.6 751.2h0M356.4 778.8h0M375.1 857.7h0M379.5 804.6h0M409.5 745.1h0M466 760.4h0M399.7 755.9h0M439.1 760.4h0M379.3 808.8h0M360.8 732.8h0M323.2 824.1h0M405.1 782.4h0M330.7 749.1h0M302.8 762.7h0M363.7 727h0M392.5 807.7h0M333.2 747.2h0M358.3 727.7h0M399.8 786.2h0M364.5 729h0M424.1 784.4h0M278.8 837.9h0M365.6 733h0M473.7 759.7h0M381.6 792.2h0M293.8 621.7h0M296.2 710.6h0M292.5 700.2h0M370 745.1h0M288.3 808.6h0M372.5 778.1h0M366.4 799h0M283 723.2h0M297.4 730.6h0M360.4 699.5h0M442.7 748.6h0M422.2 769.6h0M367.6 720h0M341.3 732.2h0M376.6 751.7h0M309.1 734.3h0M265.9 787h0M369.9 871h0M388.1 749.8h0M310.7 761.5h0M304 721.1h0M423.1 809.2h0M382.4 787.9h0M248.7 926.1h0M326.5 712.9h0M294.3 712.4h0M340 719.7h0M462.2 784.7h0M421.9 833.7h0M351.8 836.4h0M295.7 743.3h0M355.6 830.2h0M326.9 744.6h0M385 780.8h0M363.4 825.6h0M346.4 819.3h0M284.1 653.6h0M284.9 764.5h0M302.4 798.4h0M370 785h0M508.8 828.4h0M319.2 809.3h0M398.5 821.6h0M302.6 902.1h0M338.6 855.8h0M322.9 745.9h0M396.7 778.6h0M411.3 740.3h0M332.6 866h0M440.4 759.9h0M392.2 767.8h0M243.1 991.1h0M326 733.9h0M402.6 785.9h0M441.4 747.2h0M325.7 735.8h0M237.6 650.9h0M313.1 828.5h0M400.7 797.3h0M339.3 721.8h0M346.9 763.3h0M294.6 792.8h0M348.3 824.3h0M314.6 706.5h0M382.4 743.3h0M266.9 558.1h0M424.7 756.2h0M304 871.2h0M265.5 829.6h0M363.7 879.5h0M284.1 692.6h0M435.6 823.2h0M360.1 829.2h0M293.7 778.5h0M473.8 772.5h0M315.9 727.3h0M306.7 742.4h0M360.9 810.1h0M433.2 789.3h0M438.6 794.8h0M308.5 799.8h0M382.8 806.1h0M364.8 761.1h0M410.5 762.9h0M407.3 713.8h0M481.3 759.5h0M378 711.4h0M404.5 767.4h0M482.3 814.3h0M415.5 786.4h0M428.5 780.9h0M318.7 816.8h0M396.6 775.7h0M264.4 598.9h0M303.6 717.9h0M288.1 775.6h0M310.7 714.2h0M373 807.4h0M361.3 750.4h0M509 774.5h0M346.8 777.5h0M300.5 839.7h0M413.6 768.1h0M470.1 749.3h0M302.4 761.2h0M308.8 660.5h0M249.4 974.8h0M463.9 729.2h0M355.5 760.8h0M331.4 756h0M292.3 722.1h0M345.6 727.8h0M247.8 811.5h0M286.4 834.5h0M386 843.2h0M341.3 791h0M340.8 729.7h0M333.5 797h0M342.5 743.7h0M304.2 770.9h0M397.7 816.3h0M458.1 771.3h0M428.8 799.1h0M317.3 801.5h0M347.2 801.1h0M331.1 735.2h0M434.8 766h0M405.9 718.2h0M402.7 809.2h0M293.1 687h0M330.1 835.8h0M322.7 840.7h0M315.2 811.2h0M421.8 784h0M245.9 598.5h0M388.1 768.2h0M355.2 802.7h0M394.2 808.6h0M249.2 689h0M294.4 754.2h0M469.8 772.2h0M293.3 727.6h0M348 810.1h0M333.5 700h0M470 766.7h0M281.2 783.4h0M425.2 796.8h0M344.9 722.8h0M351.5 717.3h0M425.3 781.7h0M359.1 796.1h0M336.5 669.5h0M327.7 706.8h0M454.8 812.8h0M326.8 782.2h0M319.5 755.5h0M339 804.6h0M408.3 709h0M300.4 862.3h0M405.5 811.6h0M376.9 734.5h0M391.2 767.2h0M280.5 939.1h0M393.2 785.2h0M251.5 654.7h0M385.5 742.8h0M270.3 582.2h0M383.4 747.9h0M356.9 737.7h0M388.5 745h0M347.6 761.4h0M433 777.4h0M338.2 756.8h0M415.6 824.8h0M359.8 783.4h0M368.3 826.3h0M344.6 753.1h0M355.6 756h0M355.3 769.2h0M308.3 758.7h0M267.2 897.3h0M329.2 718.8h0M322.8 798.4h0M326.3 928.4h0M359.9 794.1h0M429.8 767.7h0M384.2 764.3h0M416 754.4h0M445 749.1h0M331.1 764.7h0M388.5 861.2h0M282.7 633.4h0M332.2 774.6h0M417.4 768.4h0M439.5 743.4h0M292.6 762.2h0M438 759.8h0M283.9 823h0M255.7 747.2h0M313.7 821.5h0M290 830.3h0M263.1 923.1h0M338.5 810h0M333.5 807h0M373.9 787.8h0M412.5 763.6h0M301 879.6h0M315.6 798.8h0M303.9 811.6h0M400.3 841.7h0M443.4 794h0M263.1 858.1h0M321.3 732h0M289.6 862.5h0M332.7 833.7h0M306.5 794.2h0M291 839.6h0M344.8 907.2h0M293.2 810.8h0M368.7 778.9h0M320.6 717.6h0M336.1 721.7h0M333.9 814.4h0M237 646.5h0M296.9 802h0M265.5 865h0M351.6 809.8h0M329.7 880.2h0M367.2 847h0M378.5 768.1h0M396 832.5h0M307 731.8h0M298 715.6h0M305.7 848.2h0M352.8 837.4h0M275.7 763.8h0M291.3 884.1h0M352.8 739.8h0M300.2 714.1h0M387.3 784.1h0M333.7 789.2h0M426.9 801.6h0M347.7 831.4h0M274.3 760.3h0M378.3 779.3h0M356 800h0M425.9 731.3h0M276.4 840.4h0M463.6 759.9h0M361.3 725.3h0M349.5 720.6h0M316.3 709.8h0M322.7 705.4h0M316.9 820.7h0M318.3 775.8h0M309.4 730.1h0M276.7 821.2h0M354.9 731.1h0M291 734.6h0M317.1 666.5h0M356.3 666.5h0M274.6 835h0M310.3 837.9h0M351.7 767.4h0M293.8 813.7h0M400.3 785.1h0M303 751.5h0M395.2 802.5h0M276.7 679h0M369.3 849.4h0M397.1 729.3h0M323.3 678.7h0M291.7 887h0M337.3 816.8h0M265.5 895.5h0M398.9 865.4h0M305.2 837.5h0M321.2 853.2h0M299.7 688.8h0M312.2 765.7h0M314.4 807.4h0M347.5 740.5h0M402.1 771.2h0M504 786.7h0M268 711.8h0M255.8 946.4h0M409.1 805.7h0M373.3 762.3h0M389.9 715.1h0M314.6 734.6h0M361.4 746.6h0M242.3 690.5h0M418.6 768.9h0M330.4 812.6h0M354 807h0M312.7 800.7h0M274.7 825.5h0M421.5 765.1h0M401.8 719.1h0M348 845.2h0M278 696.1h0M425.5 783.3h0M363.7 648.7h0M352.7 766.9h0M381.1 815.6h0M314.6 859.5h0M418.8 796.5h0M337.9 832.9h0M262 648.3h0M278.5 608.4h0M343.1 776.3h0M393.8 734.6h0M380 733.5h0M345.5 729.8h0M441.5 768.4h0M323.2 851h0M281.2 706.2h0M399.8 789.6h0M412.4 790.5h0M359.5 743.9h0M262.1 733.2h0M395.8 825.4h0M474.9 779.2h0M408.3 795.5h0M279.9 754.1h0M314.1 821.5h0M316.1 747.6h0M492.6 789.8h0M432.3 730.9h0M360 727.1h0M308.2 817.2h0M487.8 804.5h0M376.2 628.2h0M403.1 756.5h0M445.3 780.9h0M425.8 711.9h0M356.7 711.2h0M323.5 905.4h0M267.3 918.5h0M366.1 742.2h0M306.1 715.5h0M410.2 760.5h0M299.2 904.9h0M340.2 778.3h0M254.2 687.5h0M361.8 755.2h0M259.9 922.6h0M360.4 814h0M345.7 735.5h0M290 693.4h0M337.7 820.3h0M379.6 753.7h0M438.5 806.5h0M379.7 796.8h0M418.2 749h0M248.7 823.2h0M353.9 743h0M415.2 806.4h0M305.2 790h0M363.4 740.9h0M406 677.4h0M313.6 816.3h0M250 626.8h0M366.6 812.8h0M462 751.6h0M384.5 850.5h0M296.8 774.9h0M425.2 751.4h0M399.4 721.9h0M340.3 761.6h0M425.9 819.4h0M314.9 828.3h0M407.9 723.5h0M478.7 796.1h0M297.1 682.7h0M448.8 806.6h0M371.3 732.9h0M303.2 695h0M419 742.6h0M389.8 756.5h0M350.2 862.9h0M428 716h0M303.5 912.2h0M455.7 740.9h0M228.8 775.3h0M394.9 702.6h0M343.6 833.7h0M290.8 748.6h0M336.4 845.4h0M313.4 708.3h0M292.6 696.5h0M263.2 674.3h0M333.9 639.2h0M455.3 806.1h0M292.3 828.6h0M296 851.7h0M398.3 760.3h0M479.5 743.3h0M299.6 771.2h0M393.9 775h0M423.3 793h0M325.9 836.3h0M484.3 762.1h0M362.4 868.6h0M404.6 797h0M231.6 620.1h0M404.1 800.4h0M381.4 812.8h0M338 795.8h0M369.3 850.8h0M371.7 780.2h0M272.2 701.6h0M358.2 812.6h0M328.3 899.4h0M354.8 773.5h0M310.2 694.5h0M341.1 693.1h0M304 768.8h0M359 725.3h0M299.8 629.5h0M264.3 680.5h0M332.1 738.8h0M401.3 706.9h0M308.2 800.6h0M296.6 633.6h0M382.7 792.8h0M420.7 729.7h0M371.3 772.7h0M296.1 677.7h0M326.2 779.8h0M271.3 746.8h0M281.9 908.8h0M434.5 702.2h0M440.4 742.8h0M414.6 778h0M254.8 843.4h0M401.3 765.6h0M332.3 751.4h0M328.1 878.6h0M282.5 752.5h0M423 767.8h0M395.6 698.3h0M386 814.3h0M435.7 756.8h0M382.2 781.3h0M380.6 780.7h0M398.8 774.1h0M307.3 783.5h0M254.8 763.2h0M382.9 847.1h0M297 699h0M343.2 782h0M357.6 743.4h0M381.5 716.5h0M322.8 619.8h0M341.5 802.1h0M362.7 743.2h0M314 706h0M383.2 823.5h0M494.9 756.2h0M419 751.8h0M454 941.1h0M397.2 802.7h0M468.6 791.4h0M379.4 810.8h0M302.6 633.6h0M290.7 689h0M330.9 772.3h0M406.4 762h0M260.3 895.3h0M424.5 800.4h0M415.5 827.4h0M398.6 769.7h0M286.9 869.1h0M331.1 718.7h0M339.5 733.2h0M347.2 702h0M346.8 747.4h0M309.2 805.9h0M245.2 630h0M358.3 816.2h0M279.1 653.8h0M313.6 808.7h0M311 948.9h0M412.7 774.5h0M415.2 764.5h0M282.8 593.6h0M319.2 675.5h0M331 700.6h0M230.8 809.4h0M349 919.6h0M378.7 777.7h0M318.1 769h0M364.7 727.7h0M257.5 857.2h0M427.1 794.9h0M409.6 737.8h0M412.6 786.9h0M314.5 922.9h0M250.9 994.9h0M342.6 807.1h0M316.3 676.8h0M387.6 753.4h0M276.1 985.8h0M405.8 753.1h0M354.5 818.6h0M352.4 758.8h0M267.5 603.4h0M318.5 780.5h0M248.6 968.6h0M390.9 791.2h0M303.8 783.9h0M308.3 764.5h0M338 936.7h0M443.6 814.8h0M390.7 759.8h0M311.1 671.7h0M436 778.1h0M263.1 806.9h0M305 679.6h0M289.6 837.9h0M442 785h0M337.4 899.3h0M252.6 870.7h0M415.1 774.4h0M353.7 835.4h0M300.5 804h0M400.7 731.8h0M301.2 747h0M313.8 660h0M337.5 716.3h0M497.9 792h0M321 872.8h0M278.6 752.2h0M379 824.1h0M328.4 818.4h0M392.6 812.8h0M382.4 795.3h0M399.6 812.8h0M386.5 692.9h0M298.7 902.2h0M271.8 883.3h0M461.1 779.6h0M273.5 897.9h0M381.2 818.7h0M409.3 801.1h0M331.2 880.9h0M408.9 730.3h0M409.4 776.3h0M345.5 758.2h0M324.4 676.2h0M336 753h0M363.8 802.9h0M397.5 791.6h0M292.5 691.2h0M413.6 831.8h0M331.2 715.6h0M287.1 789.9h0M457.8 755.4h0M255.6 754h0M437 770.5h0M245.7 588.2h0M392.7 739.4h0M317 773.1h0M462.7 752.4h0M313.4 836.2h0M390.9 715.2h0M407.7 785.7h0M412.9 796.8h0M359.1 830.8h0M270.7 755.8h0M466.3 744.8h0M367.3 673.5h0M362.8 851.7h0M501.1 759.9h0M377.8 787.5h0M294.7 819.1h0M442.3 799.6h0M274.8 769.2h0M418.7 799.4h0M339.2 760.8h0M337.9 788.7h0M315.2 684.6h0M331.5 763.2h0M383.8 738.5h0M378.1 816.8h0M372.4 772.7h0M301.3 771h0M428.1 713.3h0M332.1 795h0M383 723.4h0M368.5 758.7h0M340.7 782.6h0M291.9 743.9h0M458 748.9h0M445 822.7h0M364.7 967.8h0M387.1 744.3h0M380.3 713.5h0M460.3 757.8h0M264 731.1h0M348.7 724.3h0M268.1 677.7h0M373.9 736.2h0M431.8 767.2h0M378.2 739h0M292 799.3h0M458.3 753.9h0M324 801.8h0M373.9 804.7h0M324.4 782.8h0M389.3 841.1h0M402.5 750.3h0M314.9 693.6h0M311.9 634h0M282.7 774.7h0M293.3 728.2h0M329.9 772.5h0M347.3 813.6h0M354.8 893.9h0M329.6 811.9h0M282.5 899.6h0M423.2 836.5h0M322.5 767h0M331.5 795.4h0M371.6 612.4h0M320.2 819.5h0M418.3 820.6h0M359.6 710.4h0M334.7 745.4h0M430.1 802.3h0M325.6 695.9h0M286.4 846.9h0M429.7 761.3h0M342.5 811.2h0M344.7 718.6h0M420.2 708.6h0M291.1 730.2h0M500.8 783.5h0M290 921.8h0M287.7 744.1h0M274.3 813.6h0M346.8 792.6h0M290.5 751.4h0M396.9 825.9h0M462.8 805.3h0M326.7 781.5h0M314.5 831.9h0M408.2 878.1h0M375.6 738.7h0M283.7 887.4h0M309.2 826.4h0M268.2 835.3h0M326.7 789.2h0M264.6 593h0M270.9 697.3h0M289.8 805h0M301.1 745.1h0M267.4 891.7h0M306.5 781.2h0M320.5 699.6h0M487 808.9h0M312.1 738.5h0M276.1 731.5h0M309.5 808.1h0M438.1 796.6h0M379 724.2h0M284.6 657.5h0M435.6 787.9h0M300 829h0M286.6 815.4h0M355.1 718.6h0M423.6 789.3h0M417.8 726.8h0M386.9 740.3h0M280.5 828.1h0M279.8 808.8h0M355.4 716.5h0M344.4 707.4h0M388.4 747.4h0M370.5 822.5h0M372.3 718.1h0M279.6 681.2h0M340.8 755.1h0M345.2 786.1h0M315.4 823.7h0M366.8 746.3h0M430 780.3h0M484.2 754.2h0M283.9 793.1h0M395.7 745.8h0M517.7 731.4h0M442.8 714.6h0M306.2 864.6h0M325.4 768.9h0M304 820.9h0M344.3 773.4h0M281.6 646.2h0M331.6 741.2h0M283.5 908.2h0M412.1 718.8h0M419.7 830.5h0M313.2 705.5h0M253.2 645.9h0M321.2 688.4h0M323 782.7h0M349 758.7h0M399.6 837h0M290.8 736.4h0M319.6 710.8h0M329.6 835.9h0M266.9 937.4h0M262.4 861.8h0M402.1 663.3h0M352.5 688.8h0M388.2 755.8h0M316.1 919.3h0M291 788.4h0M253.7 606.4h0M274.2 920h0M427.1 746h0M347.9 839.1h0M340.5 829.5h0M340.8 807.7h0M272.4 734.6h0M305.8 832.7h0M390.2 811h0M292.2 631.5h0M285.7 787.4h0M319.3 765.6h0M332.3 740.7h0M414.4 790.8h0M247.7 654.1h0M329.8 721.7h0M457.8 792.8h0M418.1 758.1h0M367.3 722.5h0M311.6 667.2h0M303.4 847.8h0M312.6 735.7h0M343.1 851.8h0M391.5 831.1h0M332.1 732.4h0M272.8 982h0M316.2 720.6h0M426.3 797h0M309.6 704.6h0M411.1 811.9h0M348.3 765.9h0M322.8 834.1h0M323.2 717.5h0M387.8 848h0M455.1 780.2h0M358.1 810.7h0M429.9 754.7h0M362.5 806.4h0M511.4 743.6h0M389.3 784.5h0M382.1 755.9h0M380.9 747.7h0M330.6 724.3h0M330.2 811h0M414.5 760.7h0M459 769.4h0M241.5 986.4h0M364.8 723.8h0M287.1 794.2h0M324.1 722.4h0M472.1 794.2h0M295.9 817.4h0M341.4 826.6h0M321.5 657.8h0M547.5 779.5h0M503.7 782.2h0M269.4 917.6h0M230.6 722.9h0M306.7 839h0M298.7 842.2h0M276 863.2h0M268.9 760.6h0M325.8 897h0M329.1 833.8h0M358.9 801.5h0M327.8 663.7h0M348.5 827.5h0M393.4 786.2h0M334.4 858h0M242.5 641.7h0M278.2 843.6h0M389.9 735h0M413.4 800h0M483.4 771h0M267.9 716.6h0M427.3 792.1h0M317.5 837.7h0M352.6 730.8h0M317.5 735.6h0M315.6 728.5h0M300.6 726.9h0M367.1 844.4h0M253.9 731.5h0M295.3 858.9h0M328.6 747.9h0M398.3 756h0M275.1 850.5h0M274 677.8h0M280.2 755.5h0M327.5 817.6h0M294.4 810h0M281.6 716.4h0M339.9 779.1h0M286.4 734.8h0M453.2 758.7h0M445.4 797.4h0M414.5 713h0M325.3 766.1h0M395.7 718.2h0M429.5 746.5h0M351 689.5h0M328.9 851.1h0M240.7 731.2h0M512.5 765.3h0M407 791.8h0M315.6 712.7h0M250.2 681.7h0M346.9 809.6h0M297.8 717.1h0M291.1 928.2h0M401.7 818.3h0M290.6 694.4h0M363.7 798.1h0M350.2 754.4h0M249.4 770.2h0M390.2 734.6h0M305.6 786.4h0M429.5 785h0M368.5 709.2h0M261.7 590h0M396.1 783.1h0M472.7 753.4h0M436.7 792.3h0M386.8 717.9h0M372.8 821.9h0M444.5 738.7h0M277 657.6h0M464 754.5h0M338.6 730.5h0M304.7 840.2h0M373 844h0M307.9 819.5h0M328.8 738.2h0M410.2 753h0M285.8 828h0M374.9 824.9h0M399.6 819.1h0M300.4 787.6h0M271 907.3h0M363 881.2h0M382.1 732.8h0M443 822.3h0M315.4 730.7h0M287.8 590.7h0M436.6 776.5h0M315.9 634.6h0M280.9 698.6h0M365.5 718h0M276.2 723.5h0M422.5 745.8h0M382.8 788.4h0M345.2 764.2h0M368.9 797.9h0M385 771.3h0M334.9 860.6h0M407.7 834.4h0M426.7 743.1h0M361.6 814.1h0M266.1 773.9h0M380.8 837.9h0M323.8 691.6h0M455.8 758.3h0M334.5 820.5h0M342.4 661h0M385.1 816.5h0M372.4 798.4h0M328.2 701.8h0M289.7 829.6h0M325.8 818.2h0M298.2 788.8h0M387.9 709.8h0M307.2 679h0M325.8 707.2h0M322.9 760.9h0M312.2 831.8h0M350.9 715.6h0M406.7 861.8h0M441.5 788h0M286.8 955.9h0M340.4 874.1h0M288.9 752.5h0M357.4 751.7h0M424.3 816.7h0M375.7 818.7h0M283 905.9h0M299.9 817.4h0M335.1 813.8h0M342.2 733.1h0M478.7 703.1h0M467.4 809.3h0M431.8 837.6h0M326.5 870.9h0M307.2 805.3h0M329.7 768.6h0M333.6 730h0M325.2 733.3h0M335 770.7h0M297 821.1h0M287.1 802.6h0M361.5 687.6h0M357.7 825.6h0M472.6 770h0M289.2 827.6h0M409.7 816.9h0M338 765.6h0M421.8 780.1h0M321.5 817.6h0M448.2 764.6h0M400.9 823h0M336.4 712.9h0M422.3 824.5h0M438.3 799.5h0M322.6 759.4h0M307.9 779.5h0M341.9 788.2h0M308.3 725.1h0M436.1 724.9h0M303.1 731.5h0M348.5 823h0M312.8 844.6h0M355.2 741.2h0M332.4 710.1h0M338.5 749.2h0M336.2 892.7h0M363.7 753.5h0M396.2 740.3h0M382 763.8h0M332.7 762.9h0M423.6 756.1h0M434.7 802.7h0M341.9 776.4h0M471.3 778.4h0M287.7 725.2h0M304.6 946.2h0M403.3 790.1h0M315.4 832.2h0M321.4 779.9h0M336.4 725.5h0M308.2 763.1h0M310.7 855.9h0M376.5 822.7h0M377.1 753.5h0M246.6 879.7h0M294.7 741h0M373.4 746.3h0M438.8 818.5h0M384.6 785.3h0M326 772.9h0M421.4 774.3h0M294.6 766.6h0M420.3 723.3h0M306.8 859.3h0M259.7 988.7h0M301.4 843.4h0M325.4 817.7h0M361.7 761.9h0M319.1 787.8h0M287.5 796.1h0M392.8 740.4h0M317.3 742.6h0M288.5 710.8h0M307.3 749.8h0M300.8 923.8h0M236.7 894.4h0M430 762.1h0M454.7 675.8h0M413 776.9h0M432.6 747h0M367.7 804.9h0M353.4 753.8h0M377 732.3h0M338.7 849.9h0M367.2 827.7h0M289.1 764.7h0M321.4 685.4h0M348.6 833.4h0M313.4 614.6h0M420.8 758.2h0M283.4 896.7h0M323.4 854.7h0M288.7 784.3h0M377.8 844.2h0M315.6 697.4h0M395.6 712.6h0M385.3 763.2h0M394.9 783.4h0M275.4 841.6h0M405.5 821.6h0M372 818.9h0M314.9 795.3h0M322.5 807.7h0M304.7 928.5h0M324.5 993.9h0M358.6 735.2h0M380.7 849.1h0M467.2 805.5h0M430.5 776h0M286.3 787.2h0M414.4 752.7h0M339.3 836.2h0M455.7 805.1h0M259.5 850h0M317.5 732.3h0M343.8 792.6h0M429.5 776.5h0M319.2 852.5h0M386.4 676.9h0M384.9 741.6h0M368.1 735.4h0M314 789.7h0M425.8 821.3h0M424.3 764.6h0M345.1 836.4h0M387.6 817.6h0M268 756.7h0M401.5 804.9h0M327.3 801.3h0M262.6 911.9h0M367 756h0M416.5 806.5h0M332.7 729.5h0M304.8 779.9h0M300.6 689.3h0M364.5 730.5h0M270.7 842h0M352.3 815.3h0M392.1 790.4h0M307.2 876.6h0M284.5 705.1h0M384.5 824.1h0M327.2 842.2h0M342.3 795.3h0M441.9 757.4h0M361.5 762h0M266.4 664.9h0M438.6 835.2h0M319.6 837.5h0M460.3 755.6h0M417 717.7h0M261.5 817.4h0M314.8 818.4h0M457.6 735.4h0M351.3 835.6h0M265.8 838.8h0M330.8 716.5h0M428.2 786.1h0M381.7 745.3h0M339.7 719.7h0M323.2 655.4h0M282.9 786h0M281.6 846.7h0M366.2 803.7h0M457.8 784.8h0M318.8 709.4h0M319.2 664.1h0M447.1 754h0M344.9 715.3h0M349 743.2h0M407.7 800.7h0M419.6 738h0M328 661.6h0M451.8 740.2h0M437.5 774.3h0M441.1 753.5h0M355.5 721.9h0M366.2 669.5h0M375.7 788.8h0M338.6 885.3h0M415.1 739.6h0M376.7 742.2h0M448.8 773.3h0M325.8 778.7h0M298.4 687.9h0M251.4 592.7h0M309.4 610.1h0M446.6 746.5h0M265.6 818.1h0M537.6 780.5h0M304.9 715.3h0M463.4 814.8h0M413.9 748.9h0M272.8 938.2h0M340.5 726.6h0M280 700h0M435.1 871.8h0M376.4 808.3h0M276.3 861.3h0M290.9 875.7h0M325.9 771.3h0M290.2 819.4h0M428.2 736.3h0M303.2 882.7h0M397.8 737.2h0M475.7 760.6h0M320.5 862.3h0M399.1 800.4h0M422.1 795.9h0M420.8 746.6h0M295.5 798.6h0M315.3 679.8h0M462.4 782.4h0M338.2 812.6h0M301.3 821.2h0M404.5 769.6h0M322.6 803.5h0M385.3 736.2h0M354.6 767.1h0M366.3 774.7h0M387.2 801.7h0M338 848.4h0M415.1 798.5h0M405.1 739.9h0M314.6 825.3h0M347.3 719.7h0M298.3 808.5h0M413.5 805.5h0M335.5 765.6h0M236.7 701.2h0M291 870.3h0M409.9 796.7h0M250.9 616.8h0M349.5 729.7h0M489.1 768.1h0M313.5 857.9h0M328.9 799.6h0M321 759.6h0M406.3 781.4h0M357.7 826.5h0M345.9 739.8h0M293.7 817.4h0M251 632.2h0M351.9 733.1h0M435.9 751.8h0M463.6 717.1h0M422.2 743.4h0M422.5 721.9h0M291.2 781.5h0M454.6 763.8h0M316.9 724.6h0M341.7 765.6h0M351.2 796.9h0M346.1 748.7h0M311.3 681.8h0M324 845.2h0M396.1 804.9h0M337.5 891.4h0M314.4 827.1h0M435.5 799h0M377.8 723.4h0M432.6 787.3h0M289.4 817.3h0M330.9 776.6h0M385.6 848h0M361.1 821.8h0M320.9 878.7h0M323 768.8h0M308.1 709.8h0M458.6 773.2h0M357.1 843.9h0M453.7 761.6h0M304.4 823.7h0M351.4 800.3h0M276.7 742.9h0M334 854.8h0M403.2 745.3h0M333.8 863.4h0M420 768.3h0M332.8 691.7h0M280.9 965.6h0M438.3 813.6h0M322.9 965.7h0M298.7 730.4h0M464 808.6h0M332.7 858.8h0M383 712.8h0M296 621.7h0M369.4 821.8h0M453.3 767.7h0M299.3 566.6h0M467.3 747.2h0M334.5 676.9h0M331.4 745.1h0M267.6 799h0M330.3 842.4h0M349.2 717.4h0M387.8 791h0M269.5 832.6h0M349.9 804.1h0M235.1 881.5h0M311.3 737.6h0M324.7 744.9h0M431.8 765.6h0M437.1 747.3h0M316 797.8h0M409.3 832.7h0M393.1 713h0M342.7 722.6h0M474.6 771.8h0M332 659.8h0M427.5 772.7h0M334.5 692.2h0M366.8 986.8h0M339.3 775.5h0M368.2 811.9h0M489.9 820.3h0M310.3 728.2h0M448 773.5h0M407.7 727.3h0M394.9 738.9h0M331.8 732.6h0M322.1 852.5h0M382.6 718.3h0M486.5 736.7h0M321.4 831.9h0M477.2 744.4h0M332.7 816.9h0M381.2 753.6h0M357.3 853h0M255.8 921.6h0M361.8 723.7h0M315.7 837.4h0M332.2 840.9h0M307 754.1h0M406.6 795.4h0M431.2 732.8h0M279.6 954.3h0M365.5 806.7h0M407.5 796.2h0M340.9 816.2h0M351.5 730.7h0M375.4 815.1h0M357.3 804.6h0M403.3 817.4h0M270.7 881.5h0M421.5 763h0M294.3 701.1h0M309.2 616.6h0M323.4 729.3h0M379.7 732.7h0M255.4 878.5h0M316 813.2h0M344 754.6h0M318.5 661.6h0M481.9 777h0M308.7 879.8h0M300.9 761.2h0M468 787.9h0M260.6 616.9h0M281.2 771.9h0M447.1 833h0M465.5 792.3h0M470 779.6h0M395 820h0M392.5 901.2h0M383.1 684h0M410 760h0M295.5 658.7h0M244.6 880.5h0M317.2 893h0M282.3 869.3h0M321.1 810h0M419.1 732.1h0M359.9 786h0M411.6 812.7h0M379.5 747.1h0M421.3 799.7h0M291.4 925h0M296.9 806.6h0M424.2 839h0M320.2 702.9h0M411.9 823.8h0M457.9 771.1h0M267.4 639.4h0M308.5 718h0M386.1 820.1h0M510.7 773.8h0M382.2 835.3h0M374.7 803.7h0M253.9 807.7h0M374.3 809.4h0M295.2 825.2h0M414.1 792.3h0M460 798.6h0M417.5 703.4h0M304.7 805.5h0M326.2 735.7h0M382.5 811.1h0M297.7 688.5h0M334.7 667.9h0M324.4 764.5h0M329.9 855.6h0M447.2 815.2h0M297.7 798.7h0M324.6 759h0M337.9 708.7h0M428.7 765.6h0M300.5 743.7h0M442.4 720.9h0M290.8 802.8h0M413.1 822h0M274.6 872.4h0M329.2 838.2h0M352.8 801.2h0M307.6 651.1h0M313.9 847.9h0M440.8 760.9h0M364.5 767.7h0M361.1 877.3h0M370.4 821.6h0M403.2 726.6h0M394.6 904.6h0M285.2 863.2h0M286.1 791.4h0M334.6 800.2h0M345.5 810.5h0M425.3 793h0M353.2 912.9h0M340.4 849.1h0M333.9 628.6h0M311.9 795.8h0M312.7 780.7h0M304.7 872.6h0M266.3 661.5h0M410 842h0M284.1 735.4h0M426.5 813.9h0M242.7 766.9h0M457.6 782h0M312.4 744.2h0M295.9 795.3h0M255.7 813.5h0M338 791.9h0M319.2 735.5h0M453.2 808.5h0M373.4 828.8h0M289.2 807.6h0M301.4 772.5h0M331.5 710.1h0M436.7 781.5h0M353.8 748.3h0M306.7 640.4h0M335.9 675.1h0M439.4 801.9h0M376.2 843.2h0M315.6 841.3h0M350.8 909.1h0M370.4 805.9h0M411 729.7h0M298.7 699h0M428.9 825.5h0M418.2 735.1h0M429 748.7h0M442.3 783.6h0M523.8 789.5h0M381.8 803.1h0M452.3 722.8h0M461.1 792.6h0M475.2 822.7h0M446.9 775.7h0M425.5 795.1h0M370.2 811.5h0M483 737.3h0M374 848.4h0M416.7 816.6h0M431.9 728.5h0M448.4 839.7h0M445.4 778.2h0M423.9 816.9h0M394.5 741.7h0M452.7 769.6h0M458.8 788h0M392 750.9h0M383 853.2h0M457.2 750.5h0M438 806.5h0M462.5 775.2h0M433.1 807.2h0M473.7 783h0M377 818.1h0M442.2 773.1h0M428 816.2h0M460.5 781.5h0M458.3 823.6h0M448 756.9h0M484.8 809.9h0M428.2 818.7h0M406.5 751.3h0M447.3 813.9h0M505.7 764h0M408.5 798.6h0M441.4 774.8h0M479 738.7h0M439.7 763.6h0M416.6 838.6h0M442.8 766.6h0M456.8 819.1h0M432.7 813.3h0M460.1 735.7h0M425.5 799.7h0M448.9 804.5h0M431.1 759.1h0M404.9 819h0M464.5 780.8h0M410.2 749.4h0M453.5 812.4h0M452.2 789.9h0M480.2 778.4h0M374.8 828.7h0M450.1 768.2h0M400.3 767h0M475 786.9h0M461.4 836.2h0M424 691.3h0M495.4 748.1h0M387.6 732.3h0M380.2 841.5h0M439.4 774.5h0M404.2 795.4h0M367.4 816.3h0M459.4 817.6h0M421.3 733.7h0M489.5 762.7h0M394.5 774.8h0M439.8 851.5h0M436.5 742.2h0M465.5 802h0M418.1 822.1h0M448.4 763.7h0M476.7 806.6h0M412.7 783.3h0M417.1 725.6h0M369.1 802.8h0M465.9 771.5h0M457.7 690.3h0M470.5 772.1h0M491.3 778.9h0M429.2 792.5h0M478.3 765.9h0M492.8 805h0M385.8 749.4h0M451.9 778.5h0M432.1 713h0M437.2 794.1h0M430.3 804.3h0M468.4 806.6h0M417.3 766h0M412.8 807.9h0M479.6 754h0M400.3 757.5h0M452.3 756h0M466.2 781.5h0M444.8 726.6h0M436.1 796.6h0M377.2 828.9h0M342 853.9h0M464.4 816h0M442.5 709h0M335.4 735.1h0M445.7 719.5h0M426.6 805.8h0M458.7 797.7h0M454.6 847.1h0M405.2 765.2h0M382.4 757.7h0M467.4 803h0M446.5 767.2h0M413.4 794.3h0M435.7 780.5h0M387.5 739.4h0M395 826.7h0M420.2 743.6h0M430.6 809.8h0M488.3 720.3h0M426.9 736.1h0M366.6 680.3h0M389.4 821.1h0M420.2 725.9h0M467.4 755.5h0M437 857.7h0M472.6 820h0M471.1 793.8h0M406.7 813.2h0M418.8 778h0M452 845.4h0M448.6 739.5h0M492.1 760.8h0M462.8 837.7h0M448.1 777.6h0M427.5 848.2h0M418.9 771.2h0M461.2 833.3h0M448.2 752.5h0M444.3 740.7h0M424.5 753.5h0M447.5 856h0M479.4 838.5h0M478.8 758.6h0M416.5 748h0M418.7 824.5h0M461.7 749h0M412.7 817.7h0M381.9 757.1h0M464.7 797.6h0M476.1 749.3h0M426.9 789.8h0M409.6 792h0M431.6 822.3h0M412.1 692.9h0M419.1 792.1h0M416.3 802.5h0M393.3 800.8h0M398.9 751.9h0M451.1 777h0M392.8 736.1h0M404.6 775h0M340.1 737.1h0M411.8 731.7h0M419.6 775.5h0M459.5 825.2h0M458.6 767.2h0M447.6 819.8h0M355.6 727h0M434 754.8h0M398.9 734h0M417.3 734.4h0M417.9 792.1h0M460.5 733.6h0M401.8 734.6h0M454.3 739.7h0M465.6 766.3h0M410.9 734.1h0M448.6 803h0M362.5 715h0M441.9 777.4h0M456.7 739.2h0M404.2 773.6h0M400.2 743.1h0M445.5 733.3h0M447 776.6h0M422.9 731.7h0M433.6 801.3h0M429.8 826.6h0M464 756h0M392.5 840.7h0M462.3 802h0M455 840.8h0M443.8 803.2h0M455 808.3h0M466.9 750h0M428.1 697.5h0M439.9 721.3h0M411.3 850.9h0M440.6 782.7h0M424.5 803.2h0M462.2 808h0M347.8 727.2h0M479 784.6h0M395 721.9h0M451.3 752.1h0M448.5 748.3h0M426 824.3h0M420.1 822h0M450.9 747.8h0M423.2 806.7h0M414.9 732.7h0M500 792.8h0M417.2 743.8h0M454.1 800h0M476.8 784.5h0M389.9 823.6h0M439.5 787.9h0M489 756.2h0M474 776.8h0M413.3 818.4h0M388.1 713.4h0M490.5 799.2h0M484.2 834.1h0M476.9 783.1h0M443.3 845.1h0M443.3 794.2h0M390.1 801.2h0M401.4 739.9h0M364.4 765.1h0M422.4 810.6h0M401.7 821.7h0M402.8 835.6h0M456.5 817.6h0M419 800.7h0M399 731.8h0M462.8 786.7h0M451 756.9h0M413.3 828.5h0M421 819.9h0M413.1 810.7h0M448.2 801.3h0M439.4 769.3h0M416.9 740.8h0M379 841.5h0M449.1 829.1h0M453.8 740.7h0M388.8 765.9h0M418.2 764h0M415.2 749.9h0M473.1 798.4h0M465.6 759.2h0M399.1 709.3h0M456 773.2h0M382.9 798.4h0M404.6 725.2h0M428.5 753.7h0M453.1 798.5h0M469.9 724.1h0M494.2 788.9h0M424.1 806.1h0M406.4 717.4h0M401.6 761.9h0M473.7 764h0M418.8 785.5h0M433.8 741.2h0M468.5 776.8h0M452.8 735.5h0M468.8 783.7h0M455.8 786.5h0M448.2 814.2h0M408.2 788h0M439.9 728.4h0M461.3 767.7h0M455.4 761.3h0M431.5 794.2h0M433.3 718.1h0M479.4 773.1h0M434.5 800.4h0M446 795.7h0M427.4 754.6h0M430.8 751.7h0M476.1 781.2h0M432.4 721.3h0M452.7 818.7h0M446.7 736.1h0M513.4 785.4h0M436.6 810.5h0M431.5 807.7h0M414.3 730.4h0M476.9 777.8h0M484.8 840.6h0M510.7 736.2h0M483.6 716.5h0M426.3 771.9h0M425.2 740.8h0M350.7 811.9h0M409.5 746.1h0M447.3 785.3h0M495 786.2h0M388.6 782.5h0M465.1 768.5h0M460 768h0M455.3 792.2h0M454.5 732.9h0M363.6 732.1h0M460.1 789.7h0M444.9 805.4h0M459 783.7h0M441 657.2h0M404.4 816.2h0M473.5 765.9h0M396.1 712.3h0M454.5 818.6h0M505 747.6h0M393.1 684.4h0M395.3 769.4h0M386 747.3h0M379.9 874h0M474.3 784.5h0M482.4 759.2h0M453.7 779.2h0M428 831.8h0M459.6 758.8h0M439.3 750.8h0M416 757.6h0M476 779.7h0M409.1 824.3h0M468.4 758.2h0M448.2 714.9h0M490.4 803.3h0M390.7 749.2h0M407.5 804.6h0M410.2 833.8h0M408.5 809.1h0M443 743.6h0M476.7 812.8h0M359.9 838h0M452.8 784.8h0M445.1 774.2h0M453.2 820h0M331.9 801.8h0M419.8 840.3h0M391.9 738.3h0M472.3 793.7h0M494.7 836.6h0M469.3 748.4h0M461.3 773.6h0M442.5 816.3h0M434 736.9h0M402.6 742.9h0M499.3 780.2h0M452.5 780.2h0M503.1 832.5h0M441.4 715.4h0M390.1 797h0M430.7 778.2h0M480.7 802.8h0M458.7 751.5h0M424.2 733.1h0M460.1 785.9h0M415.3 829.1h0M437.9 816.5h0M410.9 809.8h0M465.9 750.8h0M466.5 707h0M453.3 731.6h0M393.3 770.6h0M435.8 827.3h0M485.5 732.5h0M474 768.1h0M425.3 766.5h0M534.7 749.8h0M439 815.4h0M427.2 799.7h0M403.5 765.5h0M441.6 785h0M445.2 838.1h0M417 821.8h0M377.5 727.3h0M391.4 700.2h0M422.1 758.2h0M489.1 765.6h0M449.1 798.5h0M462.6 777.6h0M468.6 733.3h0M447.5 809.4h0M431.3 814.7h0M439.1 829.4h0M383.4 819.9h0M387.5 797.8h0M429.1 740.5h0M472 735.6h0M424.7 718.5h0M416.1 765.5h0M472.9 744.4h0M492.9 727.2h0M454 737.6h0M451.6 815.6h0M455 773.2h0M411.2 705.9h0M410.8 844.6h0M392.3 743.9h0M467.9 740.3h0M460.3 828.6h0M412.3 742.7h0M427 845.6h0M444.8 824.4h0M522.7 763.4h0M438.2 739.9h0M475.1 764.4h0M464.8 847h0M458.7 734.8h0M454.7 774.2h0M444.2 814.3h0M457 768.1h0M480.9 769.6h0M387.4 775.9h0M441.1 793.2h0M386.5 812.4h0M457.1 712.7h0M489.7 833.9h0M461.3 746.2h0M413.9 835h0M405.8 743.7h0M449.2 755.2h0M343.4 751.3h0M416.2 738.4h0M424.5 834.2h0M403.6 795.3h0M446.5 801.3h0M401.8 729.6h0M431.7 796.4h0M398.7 805.9h0M428.9 851.4h0M473.1 812.7h0M468.2 815h0M412.6 745.7h0M369.5 739.9h0M410 868.2h0M355.4 762.7h0M400.5 813.8h0M381.1 739.1h0M412.1 725.6h0M424.8 790.3h0M441.3 754.4h0M397.8 755.8h0M346.4 822.8h0M451 829.9h0M455.6 802h0M374.1 733.2h0M463.3 747.5h0M436.4 824.1h0M429.1 803.1h0M441.1 762.5h0M401.4 745.4h0M387.5 802.6h0M430.4 720.2h0M398.5 742.8h0M388.4 819.7h0M405.2 745.2h0M457 798.4h0M460 753.3h0M401.5 807.6h0M429.7 835.2h0M436.9 826.5h0M421.2 740.8h0M386.8 719.2h0M422.1 791.9h0M435.2 748.6h0M502.1 758.7h0M389.7 830.6h0M428.5 794.1h0M321.6 812h0M472.8 785.7h0M452.1 792h0M490.2 759.3h0M475.5 780.9h0M441.1 735.1h0M432.5 753.9h0M473.9 761.3h0M480.2 745.8h0M417.8 819.3h0M482.1 707.1h0M473.1 800.3h0M440 778.8h0M373.2 754h0M421 710.2h0M404.9 750.9h0M372.5 819.5h0M449.6 791.2h0M492.7 819.1h0M466.3 829.8h0M437.3 736.6h0M452.4 728.4h0M435.2 759.2h0M459.1 765h0M426.7 749.3h0M426.6 750.7h0M427.4 815.5h0M456.4 814h0M448.7 787.6h0M465.4 806.8h0M481.3 773.5h0M408.4 806.3h0M473.8 751.7h0M428.3 782h0M477.8 814.6h0M443 731.3h0M405.2 716.5h0M494.5 819.2h0M513.6 795.7h0M418.8 740.7h0M441.6 686.7h0M404.3 779.5h0M452 767.8h0M418.7 795.1h0M404.1 788.4h0M451.8 831.1h0M434.4 752.4h0M433 810.2h0M465 765.1h0M467.9 774.9h0M465.2 762.7h0M425.9 708h0M426.7 703.1h0M448.5 788.3h0M359.4 720.9h0M477 756.6h0M466 829.1h0M473.5 756h0M414.7 747.2h0M509.1 766h0M481.7 738.2h0M447.5 760.2h0M449.2 761.4h0M363.1 725.7h0M476.3 754.3h0M406.2 742.4h0M455.4 751.4h0M443.5 762.8h0M361.1 794.3h0M367.3 753.8h0M404.5 837h0M440.3 808h0M451.3 789.9h0M392.6 849.1h0M474.1 755.6h0M491.7 782.2h0M443.3 777.1h0M411.8 776h0M494.8 747.1h0M423.7 752.9h0M448.9 796.9h0M440.8 781.8h0M457.8 736.2h0M455.6 797.5h0M443 808.1h0M386.7 730.1h0M468.5 755h0M465.8 794h0M455.1 768.4h0M369.1 726.4h0M454.7 795h0M381 703.2h0M466.4 823.8h0M446.1 754.8h0M413.7 734.9h0M439.3 822.4h0M377.6 825.3h0M438.7 816h0M430.3 776.2h0M446.8 716h0M395.2 750.3h0M420.9 812.7h0M411.6 817.2h0M406.5 809.1h0M459.1 748.6h0M444.8 724.1h0M404.7 812.1h0M488.4 749.1h0M443.9 813.9h0M464.9 810.4h0M442.6 741.7h0M447.9 781.3h0M444.3 799.6h0M387.6 805h0M486.4 815.4h0M484.1 770.4h0M408.7 733.5h0M404.4 756.7h0M464.1 799.4h0M454.9 844.2h0M459.5 813.9h0M382.5 734.6h0M457.4 725.9h0M476.2 751.5h0M372.1 726.6h0M487.9 765.6h0M406.9 766.1h0M417.4 829.1h0M413.5 808.7h0M439.7 718.5h0M445.5 755.5h0M473 781.8h0M444.5 736.5h0M450.6 742.5h0M448.6 830.3h0M394.3 749.8h0M443 800.5h0M438.8 827.6h0M481.4 765.3h0M402.5 734.1h0M445.1 803.7h0M427.1 834h0M461.7 790.5h0M421.9 802.4h0M369 822.7h0M436.3 835.9h0M453.7 823.4h0M398.8 807.7h0M433.1 714.2h0M513.2 807h0M418.8 804.6h0M409.5 781.7h0M406.5 702.8h0M465.8 754.6h0M437.3 805.9h0M433.3 803.2h0M472 832.5h0M411.7 727.3h0M418.2 816.6h0M506.2 761h0M453.9 815.7h0M427.9 739.7h0M365 803.9h0M443.3 787.8h0M486 793.8h0M360.6 782.3h0M435.1 743.6h0M462.2 780.9h0M451.2 790.6h0M471.5 780.6h0M432.1 781.9h0M451.9 780h0M418.7 757.9h0M454.6 730.9h0M368.5 736.5h0M445.8 767.2h0M483.3 817.4h0M428.7 840.1h0M475.3 815h0M462.8 748.9h0M471.3 750.2h0M488.6 772.8h0M398.1 814.7h0M434.3 785.8h0M494.7 767.2h0M454.4 716.7h0M464.6 789.6h0M471.9 807.2h0M376 832.3h0M434.7 736h0M374.6 816.6h0M419.8 736.1h0M452.9 795.4h0M494.6 755.9h0M401.1 693.2h0M443.3 732.5h0M438.4 726.6h0M452.9 802.7h0M466.1 762.6h0M431.6 734.9h0M432.8 843.3h0M419.7 809.5h0M423 726.8h0M435.4 764.8h0M397.3 746.6h0M466.4 785.8h0M426.5 802.9h0M451.1 822.3h0M452.5 844.7h0M491 752.2h0M402.7 824.4h0M451.7 758h0M458.2 733.9h0M375.8 835.6h0M431.1 811.1h0M400.8 788.5h0M495.6 732.4h0M410.1 838.2h0M440 701.1h0M386.1 727.2h0M368.1 743.5h0M435.8 818.9h0M463.9 722.8h0M425.8 723.3h0M437.1 749.5h0M413.3 833.6h0M466.4 819.7h0M388.5 711.4h0M453.6 748.9h0M430.2 740.7h0M451 744.1h0M371.6 737.7h0M468.5 764.8h0M498.5 744.3h0M398.7 719.4h0M456.9 790.8h0M423.2 741h0M450.7 734.3h0M357.9 733.8h0M378.6 713.9h0M445.6 800.2h0M398.5 736.6h0M406.2 737.5h0M441.1 737.2h0M446.9 822.5h0M449.4 816.8h0M402.6 814.9h0M417.7 748.8h0M458.2 834.9h0M432.9 832.6h0M425.2 810.1h0M489.3 751.7h0M433.2 809.9h0M421.8 794.7h0M521.9 775.9h0M372.7 797.5h0M426.1 840.2h0M415.6 755.1h0M546.5 788.8h0M471.4 837.4h0M439.3 757.7h0M440.9 822.2h0M433.6 784.9h0M468.7 774.5h0M454.8 757.9h0M392.5 824.7h0M434.9 769.2h0M482.6 830h0M421 825.8h0M443.8 851.4h0M397.8 830.2h0M432.5 828.9h0M444.7 811.1h0M397 766.6h0M358.5 808h0M485.2 769.8h0M384.8 849.8h0M427.6 822.1h0M433.2 743.2h0M450 701.5h0M438.5 737.1h0M459.6 818.5h0M403.4 738.2h0M391.5 803.9h0M479.7 786.7h0M373.1 839.6h0M416.6 811.7h0M475.9 724h0M421.6 736.3h0M463.7 788h0M424.3 762.7h0M431.8 847.3h0M504.4 783.8h0M450.8 750.2h0M461.6 765.8h0M374.7 786.9h0M459 801.1h0M364.6 735.3h0M357.8 740.4h0M520.6 803.4h0M433.2 791.7h0M451.7 796.3h0M433.9 839.4h0M480.4 813.4h0M396.3 834.2h0M436 824.3h0M476.7 836.9h0M434.5 777.2h0M380.3 758.7h0M426.3 807h0M445.9 761.5h0M390.7 742.4h0M449 710h0M471.8 731.5h0M418.4 820h0M425.2 804.7h0M464.9 783.3h0M486 746.9h0M415.2 750.8h0M421.2 705.1h0M442.6 775.5h0M482 755.8h0M458.7 802.7h0M416.4 698.9h0M412 803.8h0M471.1 804.2h0M425.2 755.8h0M489.3 774.9h0M404 728.5h0M418.8 853.5h0M370 713.7h0M384.8 744h0M410.9 715.7h0M447.1 796.3h0M472.7 740.5h0M458.5 791.3h0M414.1 714.1h0M406.5 760h0M455 689.1h0M392.7 808h0M474.2 810.2h0M431 761.9h0M496.9 788.4h0M469.9 739h0M458.6 781.2h0M382.6 825h0M485.9 726h0M358.9 702.6h0M426.5 742h0M472.9 790.6h0M422 806.7h0M412.8 737.3h0M486.6 759.6h0M490.5 808.6h0M458.2 729.5h0M440.3 719.1h0M441.2 733h0M458.9 779h0M429.5 724h0M481.4 749.3h0M480.9 797.1h0M450.2 773.9h0M460 811.2h0M441.1 812h0M425.2 743.7h0M490.2 764.8h0M409.3 812h0M403.2 838.9h0M453.1 831.3h0M358.8 733.9h0M406.9 823.6h0M479.1 794.5h0M458.4 739.8h0M488.7 745h0M455 772h0M434 820.9h0M437.3 801.1h0M430 822.1h0M453.5 719.3h0M360.6 719.9h0M439.8 812h0M427.7 714.3h0M423.8 725.9h0M425.3 822.5h0M474.5 794.7h0M346.7 807.4h0M406.8 724.2h0M423.1 867.5h0M435.8 761.9h0M435.4 711.4h0M477.6 739.8h0M418.3 703.3h0M437.8 715.9h0M451.8 801.7h0M409.3 814.3h0M470 800.1h0M278.3 803.8h0M475.8 775.3h0M430.1 787.1h0M428.9 821.7h0M394.9 822.6h0M432.9 792.4h0M449.4 775.5h0M165.2 1000.5h0M165.1 999.5h0M164.8 997.3h0M164.5 995.2h0M156.5 931.8h0M156.3 929.7h0M156 927.5h0M155.9 926.5h0M155.8 925.4h0M155.6 923.2h0M149 841.7h0M148.8 837.4h0M148.6 834.1h0M148.1 823.4h0M147.8 818h0M148.2 727.9h0M148.3 725.7h0M152.8 660.3h0M152.9 659.2h0M153 657h0M153.1 656h0M153.3 653.8h0M153.5 651.7h0M156.2 624.8h0M156.3 623.8h0M156.5 621.6h0M156.8 619.5h0M157 617.3h0M158.2 606.6h0M158.3 605.5h0M158.6 603.4h0M158.9 601.2h0M159.1 599.1h0M159.2 598h0M159.7 895.3h0M159.5 893.2h0M159.3 891h0M159.2 890h0M159 887.8h0M158.8 885.7h0M154.7 833.1h0M154.6 830.9h0M154.5 829.9h0M154.4 827.7h0M153.5 811.6h0M153.1 803h0M154.2 730h0M154.3 727.9h0M154.4 725.7h0M154.6 723.6h0M154.8 719.3h0M157.1 688.2h0M157.2 687.1h0M157.3 684.9h0M157.4 683.9h0M157.6 681.7h0M157.8 679.6h0M163.1 627h0M163.2 625.9h0M163.5 623.8h0M163.7 621.6h0M164 619.5h0M164.1 618.4h0M164.2 617.3h0M168.4 585.1h0M168.7 583h0M168.9 581.9h0M169.2 579.8h0M169.5 577.6h0M169.8 575.5h0M173.2 949h0M173 947.9h0M172.7 945.8h0M172.4 943.6h0M172.1 941.5h0M172 940.4h0M171.8 939.3h0M168.5 912.5h0M168.4 911.4h0M168.1 909.3h0M168 908.2h0M167.9 907.1h0M167.6 905h0M167.5 903.9h0M164.6 876h0M164.5 874.9h0M164.4 873.9h0M164.2 871.7h0M164 869.6h0M163.8 867.4h0M161.4 839.5h0M161.3 837.4h0M161 834.1h0M160.8 830.9h0M160.7 829.9h0M163.2 692.5h0M163.3 691.4h0M163.5 689.2h0M163.7 687.1h0M163.9 684.9h0M164 683.9h0M164.9 674.2h0M165 673.1h0M165.3 671h0M165.4 669.9h0M165.6 667.8h0M165.8 665.6h0M173.6 601.2h0M174 599.1h0M174.1 598h0M174.4 595.9h0M174.7 593.7h0M178.7 936.1h0M178.5 935h0M178.4 934h0M178.1 931.8h0M177.9 930.8h0M177.8 929.7h0M177.5 927.5h0M177.2 925.4h0M175.9 915.7h0M175.6 913.6h0M175.3 911.4h0M175.1 909.3h0M174.8 907.1h0M174.5 905h0M174.4 903.9h0M173.3 894.3h0M173.1 893.2h0M172.9 891h0M172.8 890h0M172.5 887.8h0M172.3 885.7h0M172 883.5h0M171.9 882.5h0M171 873.9h0M170.8 871.7h0M170.5 869.6h0M170.3 867.4h0M170.1 865.3h0M170 864.2h0M169.9 863.1h0M168.8 852.4h0M168.7 851.3h0M168.5 849.2h0M168.3 847h0M168.2 846h0M168.1 843.8h0M168 842.7h0M167.9 841.7h0M167 830.9h0M166.9 829.9h0M166.7 827.7h0M166.5 825.6h0M166 819.1h0M164.9 803h0M164.2 761.2h0M165.4 744h0M170.6 683.9h0M170.8 681.7h0M171 679.6h0M171.2 677.4h0M171.5 675.3h0M171.7 673.1h0M175.4 642h0M175.5 640.9h0M175.7 639.9h0M175.9 637.7h0M176.1 636.6h0M176.2 635.6h0M176.5 633.4h0M176.8 631.3h0M178.3 620.5h0M178.4 619.5h0M178.7 617.3h0M179 615.2h0M179.3 613h0M179.5 612h0M179.8 609.8h0M181.4 599.1h0M181.5 598h0M181.9 595.9h0M182 594.8h0M182.2 593.7h0M182.5 591.6h0M182.9 589.4h0M183.2 587.3h0M188.2 557.2h0M188.6 555.1h0M188.8 554h0M196.8 1000.5h0M194.8 989.8h0M194.4 987.6h0M194 985.5h0M193.8 984.4h0M193.6 983.4h0M193.3 981.2h0M188 950.1h0M187.9 949h0M187.7 947.9h0M187.4 945.8h0M187 943.6h0M186.7 941.5h0M186.4 939.3h0M179.4 888.9h0M179.3 887.8h0M179 885.7h0M178.7 883.5h0M178.5 881.4h0M178.2 879.2h0M177 868.5h0M176.9 867.4h0M176.6 865.3h0M176.4 863.1h0M176.1 861h0M176 859.9h0M175.9 858.8h0M172.7 826.6h0M172.6 825.6h0M172.4 822.3h0M172.3 821.3h0M171.2 808.4h0M172.7 727.9h0M173 724.7h0M173.1 723.6h0M173.3 721.4h0M173.5 719.3h0M173.7 717.1h0M176.8 687.1h0M177 684.9h0M177.1 683.9h0M177.4 681.7h0M177.6 679.6h0M177.9 677.4h0M178 676.4h0M179.2 666.7h0M179.3 665.6h0M179.6 663.5h0M179.8 661.3h0M180.1 659.2h0M180.4 657h0M181.8 646.3h0M181.9 645.2h0M182.1 644.2h0M182.2 643.1h0M182.5 640.9h0M182.7 639.9h0M183 637.7h0M187.8 605.5h0M188.1 603.4h0M188.4 601.2h0M188.8 599.1h0M189 598h0M189.3 595.9h0M194.5 565.8h0M194.9 563.7h0M195.2 561.5h0M195.6 559.4h0M196 557.2h0M196.4 555.1h0M204.6 1000.5h0M204.4 999.5h0M202.2 987.6h0M202 986.6h0M201.7 985.5h0M201.3 983.4h0M200.9 981.2h0M200.5 979.1h0M200.3 978h0M194.3 943.6h0M194 941.5h0M193.6 939.3h0M193.3 937.2h0M192.9 935h0M192.8 934h0M190.9 922.2h0M190.8 921.1h0M190.4 918.9h0M190.3 917.9h0M190 915.7h0M189.6 913.6h0M189.3 911.4h0M179.6 834.1h0M179.3 830.9h0M179.2 829.9h0M179 827.7h0M177.3 810.5h0M177.1 746.1h0M177.8 738.6h0M177.9 737.5h0M181.3 704.3h0M181.4 703.2h0M181.7 701h0M181.8 700h0M182 697.8h0M182.3 695.7h0M182.5 693.5h0M183.8 682.8h0M184 681.7h0M184.1 680.7h0M184.2 679.6h0M184.5 677.4h0M184.8 675.3h0M185.1 673.1h0M186.8 660.3h0M186.9 659.2h0M187.2 657h0M187.4 656h0M187.7 653.8h0M188 651.7h0M188.1 650.6h0M188.3 649.5h0M189.8 638.8h0M190 637.7h0M190.3 635.6h0M190.7 633.4h0M191 631.3h0M191.3 629.1h0M200.8 573.3h0M201.2 571.2h0M201.6 569h0M201.8 567.9h0M202 566.9h0M202.2 565.8h0M202.6 563.7h0M212.5 1000.5h0M212.3 999.5h0M203.8 955.4h0M203.4 953.3h0M203 951.1h0M202.6 949h0M202.4 947.9h0M202 945.8h0M200.5 937.2h0M200.2 935h0M200 934h0M199.6 931.8h0M199.3 929.7h0M198.9 927.5h0M197.5 918.9h0M197.3 917.9h0M197 915.7h0M196.6 913.6h0M196.3 911.4h0M196 909.3h0M192 882.5h0M191.8 881.4h0M191.5 879.2h0M191.2 877.1h0M190.9 874.9h0M190.8 873.9h0M189.5 864.2h0M189.4 863.1h0M189.1 861h0M189 859.9h0M188.7 857.8h0M188.4 855.6h0M187.1 844.9h0M187 843.8h0M186.7 841.7h0M186.2 837.4h0M185.2 828.8h0M184.3 820.2h0M184.2 819.1h0M182.8 805.2h0M184.2 734.3h0M184.3 733.2h0M186 718.2h0M186.2 716.1h0M186.4 715h0M186.5 713.9h0M186.8 711.8h0M187 709.6h0M188 701h0M188.2 700h0M188.5 697.8h0M188.7 695.7h0M189 693.5h0M189.3 691.4h0M190.3 683.9h0M190.6 681.7h0M190.8 679.6h0M191.1 677.4h0M191.4 675.3h0M191.7 673.1h0M192.8 665.6h0M193.1 663.5h0M193.4 661.3h0M193.7 659.2h0M194.1 657h0M194.2 656h0M198.4 629.1h0M198.8 627h0M199 625.9h0M199.3 623.8h0M199.7 621.6h0M200 619.5h0M201.5 610.9h0M201.7 609.8h0M202.1 607.7h0M202.5 605.5h0M202.9 603.4h0M203.2 601.2h0M204.8 592.6h0M205 591.6h0M205.4 589.4h0M205.8 587.3h0M206 586.2h0M206.2 585.1h0M206.6 583h0M208.3 574.4h0M208.5 573.3h0M208.9 571.2h0M209.3 569h0M209.5 567.9h0M210 565.8h0M210.2 564.7h0M211.9 556.1h0M212.2 555.1h0M212.4 554h0M220.4 1000.5h0M220.2 999.5h0M219.9 998.4h0M218.1 989.8h0M217.9 988.7h0M217.7 987.6h0M217.2 985.5h0M216.8 983.4h0M216.3 981.2h0M211.2 955.4h0M210.8 953.3h0M210.4 951.1h0M210 949h0M209.8 947.9h0M208 938.3h0M207.8 937.2h0M207.4 935h0M207.2 934h0M206.8 931.8h0M206.4 929.7h0M204.9 921.1h0M204.6 918.9h0M204.4 917.9h0M204 915.7h0M203.8 914.7h0M203.6 913.6h0M202 903.9h0M201.9 902.8h0M201.7 901.8h0M201.3 899.6h0M201 897.5h0M200.7 895.3h0M199.3 886.7h0M199.2 885.7h0M198.8 883.5h0M198.5 881.4h0M198.2 879.2h0M196.8 869.6h0M196.5 867.4h0M196.2 865.3h0M195.9 863.1h0M195.6 861h0M192.2 835.2h0M191.9 833.1h0M191.6 830.9h0M191.4 828.8h0M191.3 827.7h0M189.9 815.9h0M189.3 810.5h0M188.2 800.9h0M190.7 731.1h0M191.2 726.8h0M191.3 725.7h0M191.6 723.6h0M197.3 680.7h0M197.5 679.6h0M197.8 677.4h0M198.1 675.3h0M198.4 673.1h0M198.7 671h0M200 662.4h0M200.2 661.3h0M200.6 659.2h0M200.9 657h0M201.1 656h0M201.4 653.8h0M202.8 645.2h0M203.2 643.1h0M203.5 640.9h0M203.7 639.9h0M204.1 637.7h0M205.7 628.1h0M205.9 627h0M206.1 625.9h0M206.5 623.8h0M206.9 621.6h0M207.3 619.5h0M215.5 576.5h0M215.7 575.5h0M216.2 573.3h0M216.6 571.2h0M217.1 569h0M217.3 567.9h0M219.1 559.4h0M219.6 557.2h0M220 555.1h0M220.3 554h0M221.9 971.5h0M221.5 969.4h0M221 967.2h0M220.6 965.1h0M220.1 963h0M219.9 961.9h0M218 952.2h0M217.7 951.1h0M217.3 949h0M217.1 947.9h0M216.7 945.8h0M216.3 943.6h0M210.3 911.4h0M209.9 909.3h0M209.5 907.1h0M209.1 905h0M209 903.9h0M208.6 901.8h0M206.9 892.1h0M206.8 891h0M206.6 890h0M206.2 887.8h0M205.9 885.7h0M205.5 883.5h0M203.7 871.7h0M203.3 869.6h0M203 867.4h0M202.7 865.3h0M202.4 863.1h0M200.6 851.3h0M200.3 849.2h0M200 847h0M199.9 846h0M199.6 843.8h0M199.3 841.7h0M197.8 830.9h0M197.5 828.8h0M197.4 827.7h0M197 824.5h0M196.7 822.3h0M195.2 810.5h0M195 808.4h0M194.2 801.9h0M195 745.1h0M195.2 744h0M196.9 730h0M197.2 727.9h0M197.7 723.6h0M198 721.4h0M202.3 691.4h0M202.6 689.2h0M202.9 687.1h0M203.2 684.9h0M203.4 683.9h0M203.7 681.7h0M212.3 631.3h0M212.7 629.1h0M213.1 627h0M213.3 625.9h0M213.7 623.8h0M214.1 621.6h0M216.1 610.9h0M216.3 609.8h0M216.8 607.7h0M217.2 605.5h0M217.6 603.4h0M218 601.2h0M220.2 590.5h0M220.4 589.4h0M220.9 587.3h0M221.3 585.1h0M221.8 583h0M222 581.9h0M235.4 997.3h0M234.9 995.2h0M234.4 993h0M234.2 991.9h0M233.9 990.9h0M233.7 989.8h0M231.2 979.1h0M231 978h0M230.5 975.8h0M230 973.7h0M229.8 972.6h0M229.5 971.5h0M229.1 969.4h0M227 959.7h0M226.5 957.6h0M226 955.4h0M225.8 954.4h0M225.6 953.3h0M225.1 951.1h0M219.3 922.2h0M219.1 921.1h0M218.7 918.9h0M218.5 917.9h0M218.1 915.7h0M217.9 914.7h0M217.7 913.6h0M215.7 902.8h0M215.5 901.8h0M215.1 899.6h0M214.7 897.5h0M214.3 895.3h0M212.2 883.5h0M211.9 881.4h0M211.5 879.2h0M211.1 877.1h0M210.8 874.9h0M209.2 865.3h0M208.9 863.1h0M208.5 861h0M208.3 859.9h0M208 857.8h0M207.8 856.7h0M207.7 855.6h0M200.4 804.1h0M200 800.9h0M199.8 799.8h0M201 745.1h0M201.4 741.8h0M211.4 675.3h0M211.8 673.1h0M212.1 671h0M212.3 669.9h0M212.7 667.8h0M214.8 656h0M215.1 653.8h0M215.5 651.7h0M215.9 649.5h0M216.1 648.4h0M216.3 647.4h0M221.9 618.4h0M222.1 617.3h0M222.6 615.2h0M223 613h0M223.2 612h0M223.6 609.8h0M225.9 599.1h0M226.1 598h0M226.6 595.9h0M227 593.7h0M227.5 591.6h0M230.1 579.8h0M230.6 577.6h0M231 575.5h0M231.5 573.3h0M232 571.2h0M234.2 561.5h0M234.7 559.4h0M235.2 557.2h0M235.7 555.1h0M236 554h0M242.5 994.1h0M242.2 993h0M241.9 991.9h0M241.4 989.8h0M238.6 978h0M238.1 975.8h0M237.9 974.8h0M237.6 973.7h0M237.1 971.5h0M234.9 961.9h0M234.4 959.7h0M233.9 957.6h0M233.5 955.4h0M231.3 945.8h0M230.9 943.6h0M230.4 941.5h0M230 939.3h0M224.9 914.7h0M224.7 913.6h0M224.2 911.4h0M223.8 909.3h0M223.4 907.1h0M221.7 898.6h0M221.5 897.5h0M221.1 895.3h0M220.7 893.2h0M220.3 891h0M220.1 890h0M218.7 882.5h0M218.6 881.4h0M218.2 879.2h0M218 878.2h0M217.8 877.1h0M217.4 874.9h0M217.2 873.9h0M210.7 834.1h0M210.5 833.1h0M210.2 830.9h0M210 829.9h0M209.8 828.8h0M209.7 827.7h0M208.3 818h0M208.1 817h0M207.9 815.9h0M207.6 813.8h0M207.3 811.6h0M206 801.9h0M205.7 799.8h0M205.3 796.6h0M205.1 795.5h0M204.2 765.5h0M204.6 762.2h0M205.9 752.6h0M206.2 750.4h0M206.3 749.3h0M206.8 746.1h0M212.7 706.4h0M212.9 705.3h0M213.3 703.2h0M213.6 701h0M213.8 700h0M214.2 697.8h0M215.4 690.3h0M215.6 689.2h0M216 687.1h0M216.2 686h0M216.3 684.9h0M216.5 683.9h0M218.2 674.2h0M218.4 673.1h0M218.8 671h0M219 669.9h0M219.4 667.8h0M221.2 658.1h0M221.4 657h0M221.6 656h0M222 653.8h0M222.4 651.7h0M224.3 642h0M224.5 640.9h0M224.7 639.9h0M225.2 637.7h0M225.6 635.6h0M227.6 625.9h0M228 623.8h0M228.4 621.6h0M228.9 619.5h0M230.7 610.9h0M231 609.8h0M231.4 607.7h0M231.9 605.5h0M232.4 603.4h0M234.3 594.8h0M234.5 593.7h0M235 591.6h0M235.5 589.4h0M236 587.3h0M236.2 586.2h0M237.9 578.7h0M238.2 577.6h0M238.7 575.5h0M239.2 573.3h0M251.9 1000.5h0M251.7 999.5h0M251.1 997.3h0M247.6 983.4h0M246.5 979.1h0M246.3 978h0M245.7 975.8h0M242.7 963h0M242.4 961.9h0M241.9 959.7h0M241.4 957.6h0M240.9 955.4h0M240.4 953.3h0M237.7 941.5h0M237.2 939.3h0M236.7 937.2h0M236.3 935h0M236 934h0M235.8 932.9h0M235.6 931.8h0M233 920h0M232.8 918.9h0M232.6 917.9h0M232.1 915.7h0M231.9 914.7h0M231.7 913.6h0M231.2 911.4h0M224.6 878.2h0M224.4 877.1h0M224 874.9h0M223.8 873.9h0M223.4 871.7h0M223 869.6h0M220.9 857.8h0M220.5 855.6h0M220.1 853.5h0M219.9 852.4h0M219.8 851.3h0M219.4 849.2h0M219 847h0M217.2 836.3h0M217 835.2h0M216.7 833.1h0M216.3 830.9h0M216.2 829.9h0M216 828.8h0M215.8 827.7h0M214 815.9h0M213.6 813.8h0M213.3 811.6h0M213 809.5h0M212.3 805.2h0M209.6 785.8h0M215.4 729h0M215.5 727.9h0M215.9 725.7h0M216.6 721.4h0M223.5 681.7h0M223.9 679.6h0M224.1 678.5h0M230.6 645.2h0M231.7 639.9h0M234.7 625.9h0M235.2 623.8h0M235.6 621.6h0M236.1 619.5h0M244.3 584h0M244.5 583h0M244.8 581.9h0M245.8 577.6h0M246.1 576.5h0M246.4 575.5h0M249.3 563.7h0M249.8 561.5h0M250.1 560.4h0M250.4 559.4h0M250.9 557.2h0M251.5 555.1h0M251.7 554h0M254.5 980.1h0M253.9 978h0M253.4 975.8h0M252.8 973.7h0M252.3 971.5h0M251.8 969.4h0M249.1 958.7h0M248.8 957.6h0M248.3 955.4h0M247.8 953.3h0M247.3 951.1h0M246.8 949h0M246.5 947.9h0M244 937.2h0M243.5 935h0M243.2 934h0M242.8 931.8h0M242.3 929.7h0M241.3 925.4h0M239.4 916.8h0M239.1 915.7h0M238.7 913.6h0M238.2 911.4h0M237.7 909.3h0M237.3 907.1h0M236.8 905h0M234.3 893.2h0M233.9 891h0M233.7 890h0M233.2 887.8h0M232.8 885.7h0M229.8 870.6h0M229.6 869.6h0M229.2 867.4h0M225.4 847h0M225.2 846h0M217.3 798.7h0M230.5 679.6h0M240.2 633.4h0M240.6 631.3h0M243.3 619.5h0M244.1 616.2h0M244.3 615.2h0M244.8 613h0M247.9 600.1h0M248.1 599.1h0M249.4 593.7h0M250 591.6h0M250.2 590.5h0M250.5 589.4h0M187.8 1000.5h0M225 1000.5h0M191.5 1000.5h0M201.5 1000.5h0M272.8 1000.5h0M295.9 1000.5h0M226.2 1000.5h0M240.8 1000.5h0M217 1000.5h0M237.7 1000.5h0M209.5 1000.5h0M234.1 1000.5h0M232.7 1000.5h0M202.5 1000.5h0M291.5 1000.5h0M276.4 1000.5h0M301.2 1000.5h0M189.4 1000.5h0M313.7 1000.5h0M245.8 1000.5h0M184.3 1000.5h0M271 1000.5h0M299.3 1000.5h0M198.4 1000.5h0M255.7 1000.5h0M308.7 1000.5h0M207.3 1000.5h0M259.2 1000.5h0M252.3 1000.5h0M231.8 1000.5h0M286.6 1000.5h0M282.3 1000.5h0M263.7 1000.5h0M311 1000.5h0M218.1 1000.5h0M239.3 1000.5h0M222.6 1000.5h0M297.7 1000.5h0M228.2 1000.5h0M265.6 1000.5h0M247.9 1000.5h0M215.8 1000.5h0M268.5 1000.5h0M308 1000.5h0M285.6 1000.5h0M243.2 1000.5h0M195.7 1000.5h0M267.9 1000.5h0M304 1000.5h0M280.2 1000.5h0M278.6 1000.5h0M211.5 1000.5h0M249.5 1000.5h0M288.1 1000.5h0M260.3 1000.5h0M314.9 1000.5h0M257.9 1000.5h0M275.9 1000.5h0M192.2 1000.5h0M168.3 1000.5h0M181.2 1000.5h0M162.6 1000.5h0M151.7 1000.5h0M148.1 1000.5h0M145.3 1000.5h0M167.3 1000.5h0M324.2 1000.5h0M340.6 1000.5h0M332.1 1000.5h0M321 1000.5h0M337.9 1000.5h0M362.5 1000.5h0M335.6 1000.5h0M355.9 1000.5h0M330.8 1000.5h0M338.8 1000.5h0" stroke="#A9A9A9" stroke-width="4.3" stroke-linecap="round" fill="none"/>
<path d="M421.6 808.9h0M436.9 758.1h0M375.8 796.6h0M409.2 787.3h0M382.5 780.8h0M317.7 781.2h0M337 765.6h0M385.7 798h0M363.7 790.7h0M359 780h0M336.3 785.7h0M420.9 789.1h0M365.4 757.5h0M407.4 766.7h0M414.3 741.4h0M350.4 781.1h0M352.6 737.4h0M457.9 747.5h0M396.2 782h0M386.1 804.7h0M342.7 782.1h0M384.8 818.3h0M412.4 775.3h0M389.2 746.3h0M408 753.7h0M319.3 823.4h0M390 802.7h0M389.3 770.3h0M414.1 793.6h0M265.4 774.9h0M414.2 760.8h0M409.1 777.9h0M354.2 766.1h0M374.1 802.4h0M369.8 782.9h0M407.2 804.7h0M418.8 757.9h0M307.4 806.9h0M350.7 777.3h0M400.4 749.5h0M358.2 771.2h0M424.9 820.3h0M333 791h0M397.8 808h0M348.5 784.4h0M358.9 772.4h0M358.9 787.4h0M383.7 802.7h0M331.9 754.9h0M356.7 818.7h0M337.6 745.5h0M338.2 753.9h0M386.9 747h0M379.7 729.3h0M332.9 818.8h0M442.6 781.6h0M324.1 802.7h0M340.6 780.8h0M404.1 781.8h0M380.6 757.8h0M357.4 727.5h0M403.3 779.7h0M401.1 794.5h0M436.7 800.4h0M420.2 778.8h0M366.8 766.5h0M338.5 769.6h0M350.1 770.8h0M404.2 759.5h0M347.9 787.5h0M382.6 796.3h0M360.4 730.3h0M330.6 793.2h0M374.2 825.8h0M398.8 768.9h0M416.9 757.5h0M398.1 788.6h0M393.5 769.2h0M341.4 784.4h0M398.2 795.2h0M376.3 806.2h0M484.9 835.1h0M318.8 821.7h0M352 780.5h0M407.7 769.7h0M409.2 780h0M374.9 801h0M340.9 799.8h0M360 836.2h0M366.1 815.9h0M393.9 797.2h0M358.9 784h0M408.4 843.2h0M366.5 791.8h0M369.2 748.5h0M368.7 774.9h0M414.1 774.1h0M383.3 783.1h0M381.9 811.4h0M417.5 788.9h0M443.4 804.6h0M324.2 763.3h0M378.8 813.3h0M392.4 788.8h0M404.1 740.6h0M329 795.5h0M318.9 738.3h0M364.9 779.1h0M391.2 816.7h0M376.7 800h0M365.4 774.4h0M404.6 732.5h0M355.6 749.4h0M412.4 769.3h0M447 787.4h0M378.3 809.7h0M400.3 720.1h0M380.6 784.6h0M399.9 816.7h0M423 799.2h0M381.3 767.7h0M381.7 765.4h0M376.5 776.5h0M405.7 756.8h0M336.6 777.8h0M380.1 760.3h0M374.4 791.5h0M427 790.5h0M378.9 807.9h0M355 844.9h0M338.2 772.1h0M356.8 788h0M405.1 792h0M402.2 781.8h0M337.5 793.6h0M403 824.1h0M420.5 784h0M379.5 767.7h0M370.7 763.7h0M388.8 749.8h0M371.9 808.5h0M405.1 807.2h0M477.3 772h0M399 728.9h0M393.9 758.2h0M373.9 782.2h0M391.6 792.2h0M401.5 800.3h0M372 793.4h0M330.7 771.9h0M395.3 808.9h0M358.9 775.1h0M388.3 792.4h0M373.8 773.1h0M358.3 700h0M446 755.3h0M393.1 816h0M347.6 766.2h0M443.6 812.7h0M411.3 742.7h0M336.1 806.8h0M354.9 801.2h0M384.2 789.9h0M366.3 775.1h0M329.3 828.3h0M345.3 777.3h0M363.4 768.8h0M350.7 739.2h0M318.2 758.3h0M372.2 779.6h0M380.5 774.4h0M403.9 756.4h0M352.6 818.9h0M371.8 805.4h0M333.8 752.7h0M467.1 800.4h0M412.2 796.5h0M357.1 795.7h0M308.6 790.7h0M366.1 757.2h0M337.6 761.9h0M378.6 796.4h0M393 782.6h0M359.8 825.5h0M371.9 778.6h0M351.4 797.8h0M349.7 779.1h0M359.7 791.6h0M328.4 772.1h0M354.6 754.8h0M399.2 754.7h0M336.7 772.5h0M392.6 804.7h0M384.4 794.4h0M472.1 826.5h0M425.6 851.2h0M322.6 744.4h0M361.8 813h0M379.3 774.6h0M425.4 743.4h0M424.9 749.2h0M376.5 770.1h0M373.5 757.7h0M434.6 797.6h0M327.8 776.8h0M334 775h0M370.7 739.6h0M396.2 788.2h0M330.5 791.6h0M416 796.1h0M401.5 785.9h0M456.9 763.1h0M367.5 768.8h0M361.6 752.9h0M373.8 789.4h0M434.8 765.1h0M436 799.8h0M411.4 776.2h0M385.3 773.9h0M347.5 797.8h0M389.9 818.1h0M383.7 831.9h0M442 807.3h0M355.6 773.1h0M397.3 805.9h0M399.1 797.2h0M412.4 783.2h0M378.3 794.7h0M416.3 790.8h0M363.6 820.4h0M381.2 784h0M403.6 767.9h0M330.5 769.2h0M413 794.6h0M439.3 788.6h0M391 809h0M442.9 757.6h0M367 797.9h0M409.7 812h0M410.4 756.3h0M361.5 791.1h0M393.1 780.3h0M336.7 795.7h0M365.2 799h0M332.1 700.3h0M295.9 735.1h0M396.3 785.5h0M374.1 786.8h0M338 785.3h0M396.1 760h0M354 770.1h0M409.8 808h0M419.1 802.2h0M386.9 797h0M411.2 770.4h0M386.2 814.4h0M434.8 786.9h0M363.4 752.1h0M366.2 789.9h0M422.2 775.4h0M388.2 733.3h0M322.6 798.7h0M347.7 793.7h0M374.5 761.6h0M403.5 852.2h0M339.6 742.5h0M338.2 766.1h0M412.4 703.3h0M342.3 750.4h0M288.3 826h0M450.4 744.8h0M414.9 783.9h0M399.5 801.5h0M386.5 771.7h0M421.2 799.3h0M369.8 715.2h0M437.6 789.2h0M381.8 762.1h0M398.1 779h0M389.1 779.3h0M403.2 745.3h0M387.6 774h0M335.9 789h0M394 789.4h0M416.3 767.6h0M343.2 752.8h0M419.1 781.7h0M383.7 773.4h0M374.1 794.7h0M317.4 815.4h0M365 754.3h0M361.2 772.6h0M364.1 789.2h0M373.4 829.2h0M371.2 792.7h0M425.1 759.5h0M392.1 794.9h0M423.3 772.7h0M380.2 748.6h0M423.5 787.2h0M324.7 758.2h0M297.8 724.7h0M340.6 750h0M344.4 782.6h0M365.2 759.8h0M378.3 770.5h0M309.1 797.6h0M453.2 744.9h0M311.7 782.6h0M346 774.2h0M402.8 771h0M407.9 760h0M421.5 810.1h0M382.6 784.6h0M396.2 705.4h0M329.5 781.6h0M409.4 766.6h0M305.9 844.5h0M399 807.2h0M383.6 789h0M351.4 735.7h0M310.6 826h0M440.6 788.3h0M393.7 803.8h0M389.7 772.5h0M378.3 773.3h0M404.3 833.6h0M376.5 729.4h0M417.6 771.6h0M370 777.4h0M367.9 727.4h0M365.3 747.8h0M376.6 793h0M367.2 785h0M399.2 767.6h0M374 762.5h0M307.8 795.4h0M421.6 751.5h0M342.6 801.1h0M386.1 765h0M328.1 788h0M410.6 820.3h0M433.4 752.3h0M356 783.9h0M375.9 798.7h0M390.9 785.6h0M338.2 762.5h0M376.6 762.7h0M394.3 779.6h0M336.3 755.3h0M366.9 759.9h0M377.5 783.6h0M426.1 753h0M445.1 770.3h0M406.9 838h0M380.4 808.1h0M363.1 792.7h0M397.4 739.8h0M347.9 755.5h0M434.1 756.1h0M405.9 802.5h0M400.1 808.4h0M340.4 789.2h0M370.7 752.5h0M408.2 775.8h0M425.2 792.6h0M385.1 748.1h0M374.4 727.4h0M380.5 820.5h0M443 784.6h0M367.2 783.3h0M440.3 781.5h0M480.8 773.5h0M401.9 752.7h0M328.8 790.5h0M389.2 794.7h0M405.3 829.4h0M378.1 805.3h0M382.2 777.1h0M393.8 756.6h0M362.9 778.8h0M401.9 793.7h0M343.1 733.3h0M316.4 772.2h0M395.7 773.4h0M383 780h0M418 782.7h0M399.4 799.5h0M319.8 745.3h0M374.1 815.4h0M321.5 758.8h0M463.2 753.8h0M385.9 801.5h0M351.4 779.2h0M431 765.5h0M371.9 759h0M341.2 808.7h0M394.5 783.7h0M354.6 791.5h0M410.5 759.2h0M346.1 752.8h0M454.3 749.9h0M357.8 765.4h0M400.5 786.3h0M324.8 780.8h0M354.1 822.3h0M340.7 757.4h0M383.7 775.6h0M442 743.7h0M394.5 747.8h0M363.7 774.1h0M414.4 780.3h0M422.8 770.6h0M349.8 736.3h0M424.1 694h0M387.7 767.9h0M381.5 787.3h0M318.1 751.6h0M361.5 768.2h0M406.9 781.6h0M387.4 728.9h0M387.2 737.5h0M405.4 742.3h0M384.8 778.1h0M402.9 763.6h0M362.6 808.8h0M374.5 736.7h0M430.5 778h0M439.8 769.6h0M379.7 779.7h0M331.4 778h0M290.1 757.9h0M389.4 769.4h0M400.1 776.4h0M381.3 791.1h0M407.1 778h0M376.2 796.6h0M357.5 812.3h0M339 781.2h0M384.4 755.2h0M371.2 810.4h0M426.7 800.8h0M421.6 772.5h0M370.7 851.1h0M335.8 793.4h0M388.7 785.2h0M334 797.9h0M369.9 824.4h0M410.6 799.7h0M376.1 752h0M352.3 769.2h0M395.8 774.8h0M428.5 777.2h0M376.1 788.3h0M352.1 759.1h0M366.3 798.9h0M401.1 724.2h0M333.9 751.8h0M410.2 825.3h0M374.8 788.1h0M409.3 720.8h0M374.4 764.4h0M421.9 740.5h0M456.1 760.2h0M388 783.7h0M434.2 804.8h0M376.5 795.7h0M335.4 776.1h0M337.5 805.6h0M343.4 768.5h0M366.5 806.1h0M333.1 784.4h0M446.2 800.8h0M398.4 773.2h0M431.3 794.2h0M366.6 776.3h0M387.6 708.3h0M378.5 823.5h0M428 816h0M411.2 722.4h0M410.4 779.7h0M390.9 755.3h0M420.2 762.9h0M325.3 737.1h0M385.1 822.7h0M365.8 765h0M416 761.6h0M400.2 738.6h0M447.4 758.7h0M380.5 771.7h0M340.4 750.9h0M398.5 738.8h0M358.6 743.5h0M412.7 738.1h0M315 798.9h0M440.4 779h0M412.8 784.9h0M313.1 777h0M358.5 769.6h0M359.2 755.1h0M317.1 801.2h0M313.5 778.3h0M415.9 744.6h0M392.7 746.2h0M344.6 731.8h0M357.3 791.1h0M395.3 760.9h0M359.3 748.4h0M380.2 755.5h0M351.5 800.6h0M363.8 784h0M323.9 762.4h0M426.5 878.4h0M365.4 786.9h0M302.4 812.7h0M328.9 807.1h0M342.9 773.2h0M443.1 760h0M425.1 747.7h0M380.9 773.9h0M316.3 734.2h0M348.5 729.1h0M301.2 836.6h0M378.6 791.7h0M415.4 771h0M379.6 709.7h0M369.6 750.2h0M333.3 733.1h0M399.1 758.2h0M422.3 812.5h0M363.4 762.6h0M387.5 778.7h0M455.9 774.5h0M393.8 767.3h0M350.8 793.8h0M410.1 823.3h0M340.2 768.7h0M323 821.4h0M368.1 779.6h0M425.1 824.7h0M398.3 834.4h0M329.5 801h0M390.4 829.6h0M395.6 792.3h0M383.9 791.4h0M353.3 812.7h0M350.3 792h0M444.8 763.6h0M382.3 829.6h0M276.3 764.7h0M329.2 805.4h0M440.4 783.4h0M378.3 761.8h0M416.9 746h0M360.8 766.2h0M399.7 761.4h0M314.6 741.7h0M406.6 821.9h0M361.4 755.8h0M385.9 780.3h0M379.6 792.7h0M335.3 795.2h0M337 798.3h0M391.8 810.2h0M372.4 763.5h0M300.7 765.7h0M411.3 807.6h0M361.7 736.9h0M363.8 787.7h0M420 783.4h0M368.9 805.8h0M415.8 767.3h0M353.7 796h0M422.5 764.1h0M378.6 765.6h0M431.3 790h0M356.2 745.2h0M379.6 789.5h0M415.2 812.4h0M381.6 804.1h0M391.6 723.4h0M357.7 778.3h0M372.6 790.4h0M385.4 762h0M376 818.5h0M323.5 790.5h0M390.9 795.8h0M317.7 809.3h0M411.1 753.6h0M343.7 826.2h0M339.3 783.1h0M366.4 787.7h0M307.5 751.7h0M390.4 761.1h0M404.6 764h0M337.9 780.1h0M345.1 795.2h0M326.3 792.5h0M443.6 799.4h0M432 836.2h0M325.6 785.1h0M377.6 814.4h0M405.5 750.5h0M357.2 741.8h0M390.7 768.5h0M427.7 734.8h0M332.7 804.2h0M414 815.8h0M399.8 775.8h0M320.7 776.2h0M429.7 800.7h0M399.6 750.8h0M370.1 785.9h0M388.4 739.6h0M374.7 835.4h0M352.7 740.1h0M340.2 803.9h0M345.4 745.2h0M430.2 752.2h0M375.5 753.6h0M329.9 766.7h0M312 777.6h0M409.6 809.5h0M424.8 784.9h0M391.1 766.6h0M389.7 781.7h0M447.3 771.5h0M300.2 769.7h0M350.3 784.5h0M442.4 803.6h0M296.3 819h0M368.7 781.5h0M332.4 852.2h0M407 721.1h0M383.8 770.3h0M393 776.7h0M405.4 789.4h0M376.4 813.4h0M437.3 796.5h0M337.8 788.1h0M447 760.2h0M384.4 806.3h0M373.2 722.9h0M407.2 750.3h0M362.7 788h0M454.6 809.9h0M392.5 800.4h0M373.9 820.2h0M404.2 779.3h0M387.3 775h0M329.7 713.5h0M424.6 814.4h0M400.8 775.6h0M380.8 814.8h0M465.2 818.1h0M387.1 810.8h0M362.3 745.4h0M363.4 795.5h0M392.7 771.5h0M364 832.8h0M321 722.9h0M447.8 777.4h0M400 764.6h0M410.8 744.2h0M319.8 763.4h0M354.7 786.1h0M323.7 758.3h0M394.7 757.4h0M311.1 806.7h0M453.9 769.2h0M381.2 746.4h0M399.9 842.4h0M413.1 755.4h0M364.5 776.5h0M349.6 838h0M341.9 793.4h0M358.6 757.1h0M369 835h0M441 735.8h0M378.4 798.6h0M416.7 781.7h0M397.8 766h0M410 788.7h0M288.3 799.1h0M336.6 740h0M386.6 780.8h0M354 763.2h0M329.8 754.5h0M392.8 827.3h0M390.6 750.4h0M417.9 737.6h0M395.4 763.4h0M417.5 747.8h0M379.7 754.2h0M384.2 812.8h0M377.3 766.8h0M338.8 734.5h0M362.5 826.3h0M390.2 787.1h0M299.8 799.7h0M318.1 749.3h0M422 762.7h0M361.4 779.4h0M336.2 814.9h0M399.3 828h0M342.9 775.7h0M396.1 813.7h0M400.1 731h0M366.8 762.2h0M391.9 779.9h0M373.8 764.2h0M355.9 782.2h0M419 741.5h0M378.1 780.8h0M346.4 777.5h0M348.9 772.3h0M379.1 810.2h0M384.5 836.9h0M461.4 832.1h0M347.9 781.2h0M333.8 748.9h0M429.5 752.3h0M322.9 805.9h0M454.3 791.4h0M375.5 776h0M336 814.7h0M340 802.1h0M419.6 794.1h0M332.5 771.5h0M335 811.4h0M397.8 823.3h0M346.3 772.4h0M313.5 824.8h0M383.4 756.2h0M317 791h0M416.5 812.6h0M355.1 769.9h0M360.8 777.1h0M366.3 755.6h0M395.4 802.8h0M327.7 751.8h0M375.5 810.6h0M383.1 800.3h0M329.7 762.3h0M373 748.5h0M330.8 772.2h0M373.7 815h0M375.4 768.6h0M390.2 818.1h0M413.1 841.6h0M443.7 751.4h0M378.5 836.2h0M307 800.2h0M343.1 749.7h0M348.8 748.3h0M419 805h0M406.9 757.3h0M327.4 822.5h0M411.3 773.3h0M398.7 762.1h0M344.4 733.2h0M408.8 832.1h0M361 783h0M367.2 764.5h0M442.8 763.4h0M328.9 788.7h0M418.7 746.6h0M433.3 736.6h0M379.2 803.2h0M354.3 793.9h0M358.3 776.6h0M393.5 741.7h0M345.2 797h0M412.1 789.4h0M441.3 772h0M286.3 760.9h0M393.6 736.7h0M431.1 798.3h0M401.5 763.9h0M389 759.7h0M427.8 867.4h0M371 766.9h0M345.5 769.2h0M363.7 845.2h0M389.2 797.1h0M389.8 814h0M346.8 798.1h0M395.5 776.1h0M402.1 813.2h0M404.3 773.9h0M391.7 788.5h0M416.9 775.3h0M365.7 837.1h0M391 847h0M337.3 749h0M342.6 785.2h0M412.2 762.6h0M397.8 719h0M304.9 751.4h0M390.7 757.8h0M440.8 777.3h0M342.6 776.8h0M347.1 808.2h0M409.5 746.1h0M342.6 764.5h0M411.6 767.3h0M368 837.5h0M395 838.7h0M369.6 803.2h0M384.2 753.1h0M353.7 841.5h0M361 802.8h0M429.5 764.3h0M402.8 803.6h0M331.8 816.3h0M371.6 775.3h0M350.7 774.4h0M370 820.7h0M390.8 820.8h0M320.4 784.4h0M320.6 823.2h0M337.1 829.5h0M316.7 745.6h0M354.2 740.4h0M354.2 758.1h0M390.4 798.4h0M422.3 754h0M350.1 772.5h0M351.3 769.1h0M389.5 800.2h0M327 771.7h0M390.2 762.9h0M428.1 761.2h0M448.7 745.9h0M327.2 773h0M346.3 778.4h0M334.8 816.2h0M339.3 774.3h0M350.6 708.6h0M362.9 776.9h0M375.3 809.8h0M394.4 790.5h0M429.2 773.7h0M434.3 732.1h0M436.3 810.9h0M423.6 757.8h0M417.7 796h0M424.5 757.7h0M424.1 812h0M338.1 794.5h0M325.8 774.5h0M333 793.8h0M385.3 727.3h0M370.2 813.6h0M370.1 786.5h0M400.7 770h0M343.4 832.5h0M358 808.4h0M359.2 765.6h0M386.5 786.2h0M325.4 777.1h0M420.6 802.7h0M411.3 791.3h0M430.5 782.5h0M409.8 759.1h0M326.1 733.2h0M376.4 787.7h0M329.2 725h0M368 799h0M313.8 747.7h0M369.2 777.9h0M367.9 719.9h0M430.2 773.9h0M403.5 790.9h0M459.6 784.4h0M361.2 681.8h0M391.1 781.1h0M391.5 728h0M379.2 829.8h0M294.4 774.3h0M359 760.3h0M308.8 768.1h0M311.8 763.6h0M397.9 826.5h0M397.6 772.2h0M438.4 777.2h0M325 796.7h0M411.1 797.7h0M398.8 740.5h0M389.4 751.6h0M382.7 730.2h0M360 748.6h0M353.4 805.8h0M418.7 832.2h0M316.3 788.6h0M286.6 873.4h0M405.8 787.6h0M326.5 835h0M369.5 788.2h0M400.7 802.5h0M415 750.7h0M376.8 748.8h0M317.8 751.1h0M375.8 771.1h0M319.8 782.1h0M411.1 780.6h0M383.7 822.5h0M388 775.1h0M347.6 806.3h0M349.8 793.8h0M488.6 790.2h0M375.1 751h0M349.4 796.8h0M356.7 804.3h0M366.8 801.9h0M430 802.2h0M331.7 764h0M323.6 780.6h0M446.8 740h0M438.6 779.5h0M330.5 798h0M405.7 764h0M371.7 711h0M315.3 839.1h0M373.3 808.2h0M356.9 777.8h0M317 739.1h0M440.9 768.2h0M425.4 797h0M361.5 833.4h0M420.5 819.2h0M418 810.3h0M385.2 768h0M451.9 807.6h0M374 798.8h0M348 799.8h0M359.5 733.5h0M398.3 837.1h0M473.8 784.4h0M401.8 755.4h0M387.3 769h0M355.5 756.4h0M339.9 786.7h0M317.7 765.1h0M361.7 817.6h0M388.2 829.7h0M403.4 750.1h0M348.8 813.7h0M364.6 738.3h0M404 782h0M432.4 818.6h0M422.3 797.5h0M333.3 778.3h0M302.3 785.6h0M316.7 758.4h0M389.5 799.6h0M395.7 801.1h0M379.7 784.9h0M409 769.2h0M372.5 766h0M382.3 758.2h0M437 752h0M399.2 780.8h0M411.5 786.6h0M351.2 761.8h0M371.2 789.8h0M351.6 766.8h0M399.9 782.9h0M416.1 743.1h0M394.6 794.7h0M394.2 785.7h0M374.4 780.4h0M434.7 768.9h0M399.2 812.2h0M377 721.9h0M441 757.6h0M412 824.8h0M372 791.4h0M402.5 786.4h0M354 775.4h0M366.8 723.1h0M364.9 701.2h0M394.9 752.9h0M387.4 784.8h0M354.2 780.7h0M327.8 815.3h0M396.3 786.6h0M344.1 787h0M338.1 799h0M429.5 803.2h0M329.8 823.6h0M339.9 792.2h0M378 799.2h0M383.1 820h0M410.2 738.1h0M327.2 744h0M354.6 806.2h0M313.4 783.9h0M349.9 819.2h0M431.2 789.1h0M308.5 787.3h0M363.6 784.1h0M429.7 797.6h0M453 809.7h0M399.5 784.8h0M402.3 765.2h0M391.6 721.9h0M363.7 765.8h0M442.8 792.2h0M353.4 747.4h0M373.8 817.5h0M394 740.8h0M312.1 815h0M406.5 850.2h0M404.3 794.5h0M393.1 790.5h0M385.6 758h0M326.5 799.4h0M427.9 793.9h0M365.8 793.1h0M345.3 766.7h0M309.1 726.2h0M372.3 753.1h0M386.7 788h0M396.3 760h0M398.6 756.6h0M329.7 818.1h0M396.5 771.9h0M354.4 779.2h0M424.8 804.9h0M420.1 797.2h0M462.4 762.9h0M372.6 736.7h0M340.1 762.9h0M383.1 810.4h0M428 824.2h0M339.6 755.1h0M344.8 761.9h0M439.3 831.8h0M326.8 781.4h0M420.5 775.5h0M368 810h0M317.2 778.3h0M361.5 798.1h0M350.6 802.4h0M325.9 768.5h0M427 759.4h0M378.2 737.9h0M444.5 787.2h0M355.6 737.1h0M378.8 748.8h0M438.1 810.2h0M436.7 773.5h0M397.4 753.9h0M423.4 752.3h0M381.6 776.3h0M379 815.7h0M397.8 742.4h0M355.2 754h0M292.6 771.7h0M431.2 778.9h0M399.4 790.4h0M400.2 812.3h0M298.3 789.8h0M376.6 730h0M412.5 792.2h0M327.3 766.1h0M403.3 755.5h0M423.9 800.9h0M380.6 807.9h0M351.2 826.2h0M323.6 769.5h0M415.4 779.3h0M361.2 775.4h0M367.2 729.5h0M445.3 842.9h0M359.7 806.1h0M399.5 806h0M346.7 820.6h0M383.8 719.9h0M365.3 771.2h0M334.9 758.5h0M326.3 752.6h0M423.2 749.8h0M381.3 779.2h0M436.1 734h0M340.2 774.3h0M358.2 747.7h0M300.9 755.7h0M357 775.9h0M369.6 763.8h0M304.6 777h0M381 802.5h0M371 716.2h0M366.9 782h0M316.5 784.3h0M375.7 772.5h0M337.3 723.8h0M335.3 786.4h0M410.6 792.8h0M392.7 721.7h0M387.8 793.1h0M316.8 776.4h0M374.3 733.9h0M478.4 805.7h0M388.8 721.4h0M359.8 828h0M283.5 827h0M399.8 730.7h0M375.8 813.9h0M372.9 751.9h0M316.5 794.8h0M439.1 782.2h0M341 816.7h0M321.7 796.7h0M344.4 825.2h0M411.3 814.3h0M427.5 775.4h0M390 715.5h0M418.3 745.1h0M322.2 750.4h0M318.4 776h0M344.5 811.7h0M353.3 772.3h0M370 794.7h0M382 819.5h0M355.9 762.9h0M367.4 779.7h0M330.8 799.1h0M403 788.8h0M400.7 819.6h0M362.9 749.4h0M431.2 792.9h0M311.1 766.5h0M363.9 746.8h0M344 786.1h0M330.1 774.5h0M403.6 775.6h0M406.3 806h0M376.9 804.8h0M401.9 810h0M423.4 803.6h0M395.9 842.4h0M400.5 743.7h0M315 748.6h0M359.8 840.7h0M331.4 736.8h0M360.4 786.8h0M366.8 803.5h0M377.1 750.5h0M415.6 806.9h0M368 787.5h0M352.5 796.6h0M375.9 745h0M339.1 815.6h0M318 768.9h0M442.5 779.9h0M401.5 799.6h0M284.8 770.9h0M378.1 734.1h0M401.2 828.5h0M434.9 762.5h0M288.7 800.5h0M414.1 739.2h0M351.2 758.4h0M360.2 713.4h0M387.8 751.4h0M316.2 757.7h0M389.7 836.3h0M439.5 758.9h0M361.2 818.5h0M436.1 787h0M361.8 805.3h0M392.6 821.1h0M411.8 775.8h0M327.2 747.5h0M365.7 780.2h0M341.1 790h0M469.5 807.3h0M344.7 743.2h0M413.7 773.6h0M380 716.6h0M365.6 794.3h0M402.2 769.5h0M424 789.9h0M407.5 785.3h0M353.1 788.3h0M383.1 808h0M361.7 829.2h0M363.1 739.3h0M410.1 805.1h0M416.8 849.1h0M417.9 740.7h0M377.8 816.8h0M350.7 815.7h0M390.8 797.6h0M387.4 791.8h0M381.7 797.6h0M458.7 758.1h0M342.9 809.1h0M323.9 814.6h0M300.6 794.6h0M436.9 741.5h0M399.6 814h0M433 742.9h0M340.7 813.9h0M411.4 830.2h0M354.4 751.2h0M341.4 755.7h0M484.4 801.4h0M399.4 818.4h0M347.2 785.6h0M382.7 793.3h0M393.4 858.7h0M337.1 751.1h0M467.2 761.4h0M418.1 778.2h0M387.1 800.4h0M363 773.9h0M400.4 758.7h0M421.5 770h0M305.3 746.9h0M401.1 779.3h0M371.6 773.6h0M341.6 837.2h0M417.7 722.6h0M460.2 796.1h0M335.1 741.5h0M321.6 765.4h0M348.3 786.2h0M350.5 788.7h0M400.6 789.4h0M340.7 772.2h0M439 792.6h0M409.9 835.9h0M368.6 791.2h0M300.1 828.4h0M371.8 797.1h0M349.2 745h0M337.7 786.1h0M425.2 818h0M381.5 842.1h0M359.8 794.5h0M400.2 751.1h0M384.6 805.5h0M361.5 793.7h0M395.1 796.4h0M339.9 731.7h0M335.9 781.9h0M412.3 819.4h0M329.2 777.1h0M377.8 757.5h0M431.8 761.7h0M309.3 759.6h0M389.1 788.3h0M333.5 767h0M363.6 812h0M406.8 799.6h0M327.3 785.5h0M355.5 784.4h0M342.7 761.3h0M373.6 740.7h0M377 758.8h0M321.8 798.4h0M303.7 782.9h0M415.9 746.6h0M405.5 767.5h0M359 744.3h0M394 711.3h0M394.8 754.8h0M457.1 795.1h0M318.1 793.7h0M420.9 735.9h0M414 801.6h0M385.5 802.8h0M351.8 795.5h0M343.6 771.5h0M364.5 801h0M388.3 729.6h0M380.6 731.9h0M362.4 770.8h0M455.6 782.5h0M370.9 764.1h0M408.5 743.9h0M321.3 762h0M384.2 791.1h0M337.1 817.8h0M368.1 784.2h0M349.3 758.2h0M323.3 788.6h0M435.4 801.9h0M429.5 775.7h0M381.7 795.5h0M375.1 786h0M415.6 802.9h0M416.5 725.2h0M358.6 798.5h0M366.4 707.3h0M346.6 801.5h0M396.8 764.3h0M330.5 745.7h0M411.2 818.2h0M398.8 737h0M378.3 777.7h0M407.3 740.4h0M317.4 783.7h0M391.5 765.9h0M405.5 684.8h0M345.6 755.7h0M343.1 781.6h0M353.2 764.2h0M336 739.9h0M326 746.8h0M404.5 769.2h0M306.1 799h0M359.2 801.2h0M416.7 785h0M331.2 753.2h0M330 747.9h0M373.1 851.4h0M327.9 757.6h0M290.1 792.4h0M422.4 781.9h0M385.7 777.8h0M379.3 831.9h0M445.6 794.8h0M481.4 747.5h0M328.3 782.2h0M454.4 788.5h0M437.3 774.8h0M383.1 787h0M330.9 784.7h0M335.3 766.5h0M391.5 782.9h0M412.5 759.7h0M356.2 766.4h0M333.6 827.5h0M371.5 769.3h0M435.5 783.9h0M291.7 779h0M384.5 785.3h0M423.1 788.6h0M416.6 834.6h0M378.5 730.9h0M316.6 825.8h0M345.9 804.8h0M324.6 836.4h0M364.4 823.6h0M351.4 744.7h0M363.6 848.3h0M320.7 746.3h0M373.2 777.5h0M356.4 756.3h0M415.4 810.2h0M337.7 775h0M408.5 816.4h0M436.1 784.4h0M359.7 812.5h0M409.8 760.2h0M424.6 760h0M320.3 828.8h0M401.3 756.4h0M299 749.6h0M430 810.6h0M347.9 774.8h0M375.8 748.6h0M378.6 756.2h0M291.7 801.4h0M414 724.5h0M327 791.2h0M371.4 830h0M438 780.9h0M353.7 827.2h0M314.9 783.4h0M371.2 807.9h0M367.3 753.7h0M328.6 812.9h0M373.9 771h0M349.7 788.2h0M382.3 739.2h0M395.3 736.4h0M277.5 788.1h0M361.6 718.2h0M334.3 765.3h0M352.8 743.7h0M401.6 790.3h0M365.6 815.2h0M332.3 820.5h0M439.5 772.1h0M343.9 817.3h0M395 823.2h0M426.2 797h0M323.9 802.2h0M301.9 750.1h0M419.1 769.4h0M347.3 827.4h0M387.2 748.4h0M358.4 759.4h0M367.8 739h0M329.1 760.5h0M431 828.7h0M348 765.9h0M352.9 792h0M350.5 799.1h0M436.1 825.2h0M317.4 727.7h0M404.3 784.3h0M361.9 714.3h0M476.7 814.4h0M355.7 814.5h0M409.5 824.6h0M401.3 746.2h0M297.3 775.5h0M449.5 753h0M335.1 769h0M356 801.8h0M360 818.4h0M357.3 771.1h0M332.7 722.1h0M320.7 803.2h0M420.2 835.1h0M353.4 785h0M363.4 804.3h0M335.2 797.9h0M352.9 799.4h0M395.8 764.8h0M419.9 788.5h0M353.1 792.7h0M307.7 747.3h0M397 740.8h0M393.2 727.7h0M396.9 829.4h0M432.7 757.1h0M318.8 826.7h0M356.3 772.7h0M426.9 817h0M357.3 785.3h0M422.9 795.1h0M476.5 747.3h0M387.7 832.2h0M337.4 742.8h0M365.9 767.5h0M389.7 752.2h0M424.2 783.7h0M333.1 789.6h0M348.5 827.7h0M363.7 806.7h0M404.6 819.3h0M349.7 800.2h0M415.2 748.2h0M310.6 760.5h0M366.1 812.4h0M472.6 733.8h0M426.1 818.3h0M386.7 762.6h0M394.1 811.7h0M386.6 725.8h0M362.8 754.4h0M298.6 740.1h0M449.7 787.9h0M403.3 814.9h0M395.3 814.5h0M303.5 800.9h0M371.3 731.8h0M315.4 779.4h0M443.9 775h0M365 772.9h0M379.1 769h0M371.9 755.9h0M422.6 751.6h0M339.9 811h0M409.8 738.4h0M325.9 790.8h0M389.5 765.2h0M415.9 777.8h0M359.2 792.7h0M429.7 790h0M395.8 745.8h0M457.3 773.6h0M428.2 807.9h0M458.8 720h0M323.5 770.8h0M409.4 735.9h0M344.3 832.3h0M344.5 709.5h0M353.9 739.6h0M354.5 820.4h0M319.1 791.5h0M277.1 795.5h0M350.1 787.4h0M435.8 813.8h0M446.7 809h0M279.2 785h0M369.4 772.2h0M368.7 827h0M376.3 709.7h0M436.9 757.6h0M372.8 769h0M397.6 737.7h0M334.6 756.6h0M346 727.6h0M418.7 793.5h0M409.9 762.8h0M419.3 809.5h0M368 757h0M390.5 791.6h0M301.4 798.9h0M415.8 789h0M380 780h0M368 764.2h0M404.4 810.3h0M338.2 833.3h0M298.6 790.1h0M434.5 754.8h0M417.7 826.9h0M321.9 714.8h0M426.2 786.8h0M342.5 792.8h0M336.9 808.1h0M385.3 814.3h0M371.3 748.5h0M337.7 812.8h0M325.6 771.4h0M399.1 753.2h0M368.4 760.4h0M374.4 776.8h0M432.3 754.7h0M374.1 847.5h0M453.7 792.7h0M300.3 782.5h0M331.5 758.5h0M377.4 725h0M351.3 817.6h0M271.5 790.5h0M366.3 770.7h0M411.5 749.2h0M348.7 823.2h0M414.7 791h0M390.9 747.6h0M331.7 787.8h0M434.4 771h0M407.6 759.1h0M327.1 795h0M396.7 751.3h0M376 736.3h0M382.8 834.6h0M361.7 757.8h0M268.6 825.8h0M426.6 776.1h0M386.7 760h0M344.7 763.3h0M421.3 757.9h0M361.4 795.2h0M354.8 746.3h0M369.5 822.6h0M381.8 729.4h0M377 790.6h0M393.5 764.4h0M319.2 729.5h0M406.6 771h0M337.4 783.5h0M378.9 752.8h0M384.6 732.5h0M321.3 763.3h0M372.6 760.2h0M344 721.6h0M292.2 768.5h0M430.5 737.1h0M312.1 745.5h0M270.9 814.2h0M346.9 751.1h0M454.1 767.1h0M414.4 758h0M437.2 805.2h0M461 784h0M365 741.1h0M405.8 831.1h0M342.5 719.1h0M423.4 767.7h0M427.2 722h0M365.3 812h0M320.8 688.9h0M408.5 750h0M373.4 726h0M429.6 782.3h0M311.6 769.3h0M385 811.6h0M282.9 746h0M432.2 783.5h0M349.6 780.2h0M299.1 772.5h0M462.3 830.6h0M361.1 745h0M418.1 728.3h0M361.9 807.1h0M387.3 745.6h0M462.4 813.3h0M314.1 815.2h0M408.7 750.3h0M417.4 776.9h0M348.4 809.5h0M373.3 822.6h0M412.3 777.5h0M369 752.4h0M421.5 801.7h0M326.4 742.3h0M296.9 798.4h0M333.2 832.3h0M392.2 755.8h0M318.9 788.5h0M432.9 770.5h0M337.9 752.7h0M353.5 831.1h0M417.7 811.3h0M387.1 818.4h0M430 744.5h0M327.7 787.2h0M371.3 751h0M334.6 820.4h0M310 755.2h0M477.5 761.5h0M383.3 743h0M405.1 774.5h0M394.9 743.6h0M393.6 784.3h0M388.6 767.8h0M315.1 780.1h0M359.5 751.8h0M422.4 744.9h0M384.2 734.9h0M433.6 777.4h0M346.1 759.1h0M335.6 746.7h0M367.6 816.2h0M436.1 769.7h0M318.7 779.1h0M351.1 783.3h0M373.6 759h0M364.5 796.7h0M294.4 771.6h0M393.6 799.4h0M349.7 777h0M349.8 764.2h0M335.7 752.4h0M410 760.4h0M275 811.3h0M345.2 780.1h0M452 791h0M343.6 798.6h0M348.5 757.3h0M324.9 742.5h0M396.3 769.1h0M346 790.8h0M374.3 755.4h0M393.8 807.5h0M418.9 785.1h0M337.5 768.6h0M309.8 733.7h0M400.5 760.3h0M375.4 779.5h0M374.5 705h0M365.7 742.3h0M416.5 807.8h0M421.9 759.4h0M363 757.4h0M328 755.7h0M403.1 749.6h0M388.6 754.9h0M347 818.4h0M386.4 806.2h0M433.8 741.6h0M426.5 766h0M368.9 832.4h0M427.4 773.9h0M324.2 765.3h0M314.3 802.4h0M351 740.6h0M424.9 775.6h0M372.4 827.5h0M346.8 723.1h0M325.9 702.7h0M364.4 748.6h0M308 770.9h0M325.6 789h0M356.9 810.5h0M442.4 814.7h0M361.6 758.3h0M393.3 793.3h0M446.4 821.9h0M304.5 768.9h0M341.3 779.3h0M368.2 817.3h0M383.7 763.3h0M361.8 735.4h0M396.5 755.4h0M405 777.1h0M431.4 804.2h0M408.6 791.1h0M339.1 749.9h0M297.8 790.5h0M359.4 752.6h0M395.4 770.4h0M377.2 786h0M312.7 763.7h0M369.2 743.1h0M426.4 769.7h0M391.6 813.9h0M314.6 764.3h0M318.6 734.8h0M400.9 771.1h0M434.8 774h0M383.5 749.5h0M476.4 759.3h0M381.9 788.4h0M352.1 751.9h0M411.6 794.3h0M337.8 767.8h0M419.5 770.3h0M369 796.4h0M379.9 745.8h0M306.5 808.5h0M376.4 727.2h0M383.5 768.1h0M391.1 815.3h0M406.7 808.8h0M357.9 828h0M360.2 761.6h0M396.5 744.2h0M402.6 799.4h0M403.2 857.1h0M360.4 781.9h0M379.6 763.2h0M428.1 780h0M409.7 802.3h0M396.6 836.6h0M321.6 774.6h0M323.3 754.6h0M377 769.8h0M289.1 779.7h0M402.9 818.2h0M416.6 778.6h0M354.9 765.6h0M360.3 762.2h0M397.3 810.9h0M373.2 835.7h0M354.9 739.8h0M461.3 764.3h0M438.6 797.6h0M403.2 793.9h0M415.7 743.8h0M384.7 792.5h0M407.7 800h0M417.6 798.8h0M363.6 743.6h0M311.6 738.9h0M418.7 797.3h0M402.4 739.8h0M304.9 860h0M434 836.4h0M350.6 727.2h0M391.2 801.6h0M390.3 776.3h0M365.8 828.1h0M343.8 812.9h0M396.3 747.6h0M408.3 698.7h0M385 786.3h0M339.4 808h0M393.5 818.5h0M364.1 728h0M321.9 736.3h0M397 830.9h0M325.9 800.8h0M371.3 826h0M392.8 843.2h0M427.4 788h0M362.4 781.9h0M372.3 825.1h0M406 821.2h0M373.9 747.9h0M396.9 781.3h0M399.2 787.4h0M436.1 760.7h0M362.7 842h0M354.1 770.8h0M385.7 761.8h0M363.7 801.8h0M350.8 824.9h0M385.9 771.9h0M371.7 814.5h0M402.2 830h0M364 825.3h0M360.1 789.2h0M368.3 801.2h0M336.4 803.7h0M307.1 776.3h0M333.9 738.3h0M376.4 772.2h0M350.4 719.1h0M451.2 815.3h0M413.3 810h0M298.1 795h0M327 801.7h0M334.4 798.6h0M387.8 752.1h0M315.9 795.7h0M445.4 801.1h0M374.4 720.3h0M433.8 773h0M450.3 759.2h0M408.8 844.1h0M325.5 748.5h0M368.7 829.5h0M332.3 728.6h0M371.8 760.8h0M343.2 794.8h0M411.4 802.5h0M344.5 801.6h0M326.4 810.4h0M370.6 816.9h0M431.5 762.2h0M354.3 776.6h0M336 797.7h0M435 775.1h0M357.1 803.1h0M377.7 755.8h0M315.8 768.3h0M355.8 743.8h0M314.3 792.6h0M418.5 750h0M322.9 760.5h0M444.2 757.3h0M334.7 842.3h0M364.9 713.8h0M363.9 814.2h0M316.7 793.7h0M397.4 804h0M355.1 745h0M353 734.9h0M354.6 789.6h0M371.7 746.4h0M365.5 769.9h0M357.9 748.8h0M315.3 787.5h0M421.6 847.9h0M305.3 775.8h0M407.8 829.6h0M417.7 772.7h0M435.5 745.8h0M357.1 824.5h0M398.1 809.1h0M351.9 804h0M345.8 809.7h0M359.1 850.5h0M350 831.4h0M336.5 822.4h0M334.2 779.4h0M384.1 809.1h0M416.7 814.2h0M370.8 757.6h0M413.9 781.1h0M399.3 732h0M321.9 790.9h0M439.2 799.1h0M436 793.8h0M377.1 765h0M446.6 847.6h0M363.6 766.1h0M399.6 748.4h0M450.6 791.7h0M410.5 801.6h0M419.1 753.4h0M425.5 752.8h0M386.6 809.7h0M320.6 772.7h0M346.5 803h0M434.6 759.5h0M342.5 789.6h0M386.5 783.6h0M420.7 795.7h0M357.7 743.4h0M339.6 777h0M345.9 789.1h0M359.7 816.1h0M432.7 802.4h0M445.9 751.2h0M328.1 785h0M349.9 763.3h0M345.1 764.9h0M406.9 764.8h0M332.4 778h0M344.9 792.3h0M364.2 731.7h0M369.9 830.2h0M374.2 783.2h0M352.3 777.6h0M425 802.9h0M429.6 791.1h0M301.5 785.2h0M312.7 795.7h0M465.7 794.4h0M408.3 765.3h0M314 801.2h0M432.5 804.2h0M329 770.5h0M395.1 804.5h0M384.6 746.2h0M347.9 857h0M403 761.5h0M397.2 776.9h0M377.6 746.3h0M393.5 745h0M404.3 752.8h0M347.1 838.5h0M341.9 746.1h0M359.7 860.4h0M320.7 766.2h0M390.6 770.7h0M357.2 792.7h0M405.6 801h0M378.7 751.3h0M394.1 821.4h0M423.4 784.6h0M450.6 754.8h0M381.7 800h0M447.9 789.7h0M384.6 776h0M379.1 824.1h0M360.6 815.8h0M382 805.6h0M401 796.8h0M354.8 798.8h0M382.1 766.5h0M366 749.5h0M373.1 806.2h0M305.5 812.9h0M452.9 741.2h0M412.6 762h0M352.1 787.5h0M407 790.3h0M430.9 781.5h0M458.5 796.8h0M430.2 759.5h0M405.8 797.8h0M422.7 807.4h0M382 808.1h0M370.9 744.8h0M404.1 817.8h0M384.1 744.6h0M341.2 782.5h0M343.8 823.3h0M307 785.3h0M436.5 834h0M356.6 787.9h0M397.7 779.8h0M332.6 768.8h0M427.3 771.2h0M438.1 794.7h0M386.6 824.2h0M392.5 730.5h0M403.6 747.5h0M429.6 794.8h0M415.9 762.6h0M342.4 766.3h0M398.3 792.5h0M425.7 807.8h0M466.4 776.1h0M386.4 802.2h0M354.3 796.6h0M440.6 805.7h0M438.5 743h0M345.4 748.7h0M353.4 760.9h0M332.9 762.8h0M362.8 758.3h0M332 774.1h0M339.2 828.5h0M355.2 836.2h0M411.7 816.7h0M317.7 802.6h0M405.1 755.4h0M403.8 785.3h0M430.3 835.6h0M409.7 784.2h0M319.6 781.6h0M325.5 767.1h0M365.1 762h0M385.9 798.4h0M380.7 831.5h0M418.4 749h0M390.6 740.4h0M394.7 766.6h0M370.6 800.7h0M339.7 796.9h0M392.6 738.5h0M414.2 753.6h0M374.8 740h0M459.8 752.8h0M408.9 815.8h0M373 787.9h0M357 753.9h0M439.5 737.7h0M298.5 817.4h0M360.1 821.6h0M373.4 855.6h0M343.4 754.2h0M402.3 804.7h0M374.3 821.9h0M385.9 827.7h0M352.6 778.5h0M468.6 773.2h0M429.9 771.6h0M372.5 795.5h0M425.9 740.7h0M377.3 732h0M390.9 737.9h0M361.7 751.4h0M341.2 804.7h0M375.1 823.2h0M358.8 741.3h0M271.1 824.9h0M403.3 734.7h0M361.5 730h0M384.8 783.4h0M358.3 797.2h0M406.8 747.4h0M391.9 775.7h0M404.7 793.3h0M343 727.5h0M383.7 818.5h0M392.5 811.7h0M334 745.7h0M338.2 790.1h0M424.5 711.9h0M439.3 775h0M471.9 744.5h0M371.7 839.2h0M369 809h0M444.1 811.8h0M280.7 777.5h0M424.2 795.3h0M326 789.2h0M307.8 781.6h0M351.5 730.4h0M415.3 786.6h0M372.4 811.3h0M406.8 811.2h0M354.6 826.2h0M379 782.9h0M364.5 791.5h0M440.3 764.7h0M309.4 800h0M377.5 778.2h0M368.9 746h0M417.9 764.5h0M356.1 838.5h0M456.6 782.8h0M324.1 756.9h0M333 795.1h0M440.6 828.1h0M460.9 763.5h0M369.9 768.8h0M420.1 806.4h0M341.4 733.4h0M389 831.6h0M370.5 819.4h0M368 726.9h0M357 796.7h0M367.5 742.7h0M397 814.6h0M291.4 786.7h0M431.5 814.8h0M296.5 729.5h0M338.6 824.8h0M379.7 801.2h0M409.9 773.9h0M388.5 807.4h0M290.2 802.6h0M328.1 768.9h0M414.2 808.4h0M371.8 771.1h0M339.1 778.1h0M386.2 821.7h0M389.6 777.1h0M417.3 787.4h0M341.3 794.2h0M401.1 767.8h0M362.6 829.6h0M415.1 729.3h0M325.2 812.2h0M451.2 798.9h0M427 808.3h0M331.8 746.2h0M429.4 818h0M447.3 727.1h0M383.6 754.1h0M317.9 766.5h0M373.3 833.5h0M441.4 758.9h0M388.1 763.7h0M427.8 778.4h0M351.4 764.5h0M338 789.2h0M368.9 807h0M341.1 771.4h0M430.4 784.1h0M342.7 728.5h0M372.7 727.2h0M348 784h0M349.3 806.9h0M395.8 870.4h0M399.6 771.5h0M401.8 844.1h0M392.1 815.3h0M392.7 778.2h0M347.9 749.3h0M337.1 771.6h0M470.4 785.5h0M324.6 741.2h0M360.3 785.4h0M334 755.3h0M308.7 808.2h0M385.7 723.3h0M368.8 767.5h0M420 815h0M402.6 828.2h0M313 797.3h0M330.6 735.1h0M416.7 825.6h0M459.2 718.2h0M482 796.3h0M427.6 756.9h0M406.5 812.3h0M342 778.8h0M401.9 780.3h0M415.1 784.4h0M418.2 762.2h0M365.9 784.7h0M373.3 745.1h0M432.8 750.6h0M380 739.5h0M460 809.7h0M391.2 804.7h0M307.6 766.1h0M401.5 821.1h0M429.6 822h0M420.3 813.4h0M352.6 729.4h0M363.7 796.7h0M422.6 792.5h0M403.1 806.3h0M377.8 809.4h0M449.8 781.6h0M391.6 731.6h0M372.1 812.9h0M343.3 819h0M341.8 815h0M406.1 775.8h0M374.5 756.5h0M448.6 788.4h0M391.5 823.6h0M412.9 787.3h0M444.2 797.3h0M396.1 790.9h0M441.4 832.8h0M452.5 839.3h0M375.2 827.9h0M392.1 774.1h0M358.5 726.3h0M425.4 827.1h0M383.2 752.4h0M414.5 764.6h0M433.2 768.8h0M413 779.5h0M442.3 772.5h0M409.9 793h0M333 737.5h0M338.4 758.5h0M399.6 765.7h0M448.2 756.2h0M328.9 748.3h0M387.5 828.5h0M372.8 781.7h0M334.8 750.6h0M436.6 826.7h0M376.4 781h0M302.7 765.1h0M385.8 816.7h0M354.6 775h0M388.8 744.4h0M436.2 806h0M322.1 794.8h0M373.6 774.9h0M385.7 828.3h0M400.4 782.8h0M411.5 768.5h0M384.9 764.9h0M435.3 808.2h0M419.3 735.9h0M369.9 819.6h0M352.6 809.4h0M406.9 776.9h0M355.4 830h0M390.4 725.9h0M445.4 778.2h0M363.6 834.3h0M358.7 802.8h0M412.1 771.7h0M354.3 813.2h0M453 774.3h0M345.5 827h0M406.8 737.3h0M432.9 765.6h0M333.5 704.1h0M458.2 788.6h0M376.2 811.3h0M311.7 770.3h0M363.1 751.6h0M325.9 806h0M416.8 828.7h0M327.8 797.5h0M371.6 708.8h0M358.2 782.1h0M409.1 757.9h0M362.3 818.7h0M455.2 741.1h0M375.6 805.6h0M414.6 823.2h0M336.7 791.8h0M312.7 807h0M400.4 713.7h0M425.2 708.7h0M391.5 803.3h0M460.4 772.1h0M413.8 741.2h0M329.4 814.2h0M431.1 743.7h0M351 724.9h0M303.2 738.1h0M376.8 742.4h0M434 736.6h0M388.1 805.6h0M417.7 759.2h0M425.5 737.4h0M404 800.8h0M346.4 831.7h0M342.7 831.7h0M452.6 732.5h0M380.7 823.6h0M410.8 754.9h0M338.4 805.2h0M357.2 746.7h0M334.2 763.1h0M379.4 758.6h0M379.5 742.2h0M372.2 804.2h0M434.2 778.8h0M418.2 719.2h0M367.1 737.7h0M361.1 765.2h0M459.7 786.5h0M387.2 756h0M393.7 787.6h0M420.1 782.5h0M396.6 731.4h0M394.4 780.9h0M357.1 816.5h0M342.7 790.6h0M384 816.1h0M372 803.2h0M333.3 808.8h0M318.7 810.1h0M366.7 761.2h0M309.8 779.1h0M444.1 791.6h0M303.4 816.6h0M403.7 811.2h0M387 827.3h0M440.2 820.4h0M334.3 760.1h0M342.1 835.3h0M462 792.4h0M471.6 820.5h0M351.7 813h0M369.6 792.3h0M452.2 729h0M364 717.9h0M350 828.4h0M313.4 767.2h0M441.8 784.5h0M333.1 782h0M421.7 755.2h0M311.1 741.4h0M304.4 789.2h0M422.5 782.5h0M464.6 796.7h0M401.9 805.9h0M277.6 769h0M423.4 777.1h0M408.7 778.4h0M410.5 737.6h0M315.2 753.3h0M306.6 805.4h0M403 840.9h0M303.2 789.2h0M434 751.1h0M352.2 748.3h0M351.3 749.6h0M406.2 820h0M369 741.1h0M403.7 733.5h0M457.5 824.1h0M399.4 844.4h0M441.1 798.7h0M400.3 737.6h0M346.4 732.6h0M371.7 740.5h0M379.2 740.5h0M319.2 741.1h0M338.2 814h0M395.8 768h0M418.3 799h0M291.7 794.8h0M331.6 756.6h0M393.4 808.1h0M376.1 734.6h0M294.4 790.2h0M364.2 834.7h0M319.1 705.3h0M346.4 763.5h0M419.1 754.5h0M414.4 756h0M414.6 801.9h0M419.5 759.4h0M341.9 786.2h0M365.8 763.7h0M393.7 753.4h0M347 815.8h0M336.2 733.1h0M418.4 823.3h0M294.3 765h0M439.6 786.2h0M373.1 711.5h0M395 749h0M454 789.7h0M435.7 742h0M425 770.7h0M344 756.6h0M310 749.7h0M408.9 782.3h0M327 761.5h0M345.6 802.3h0M427.7 785.4h0M417.3 738.9h0M307.2 721.5h0M375.4 723.3h0M318.9 832.9h0M362.6 817.2h0M349.9 761.6h0M280.8 780.1h0M367.6 829h0M345.2 724h0M281.9 810h0M308.8 775h0M438.4 748.9h0M381.1 742.4h0M369.1 854.6h0M422.5 791.2h0M432 748.8h0M324.5 738.6h0M330.9 780h0M383.3 765.8h0M406.8 783.9h0M436.7 749.7h0M371.5 732h0M439.3 846.5h0M410.6 764.3h0M327.2 779.3h0M357.8 751.8h0M356.7 826.5h0M436.7 746.2h0M391.9 749.5h0M378.9 739.3h0M438 762.2h0M364.4 803.9h0M382.5 795.5h0M326.1 816.8h0M385.8 743.2h0M406.6 794.3h0M304.6 828.4h0M402.3 796.6h0M423.7 727.8h0M375.1 766.4h0M421.7 771.3h0M398.8 777.8h0M338.3 750.7h0M337.9 778.3h0M354.4 853.5h0M380 787.4h0M375 746.6h0M404.6 762h0M367.3 819.5h0M417.1 734h0M414.1 759.3h0M364.2 809.5h0M389 816.9h0M351.1 751.4h0M419.9 807h0M383.2 750.7h0M429 723.9h0M376.7 706.6h0M303.4 733.5h0M441.8 750.7h0M344.9 784.8h0M409 796.7h0M320.4 771.9h0M333.3 746.8h0M362.4 731.4h0M427.5 806.2h0M376.4 802.8h0M427.2 761h0M397 774.8h0M388.2 760.7h0M464.2 808.7h0M418.4 791.2h0M372 783h0M355.1 818.5h0M378.8 819.5h0M431.6 801.9h0M410.3 782.1h0M386.5 759.9h0M354.1 811.4h0M339.6 764.3h0M419.6 765.5h0M339.3 771.4h0M414.4 798.1h0M302.6 794.8h0M400.3 772.8h0M380.3 769.9h0M389.8 730.8h0M385.3 840.8h0M324.5 829.7h0M330.1 800.2h0M372.3 800.6h0M341.1 716.2h0M416.6 768.9h0M312.1 781.2h0M347.7 822.4h0M355 804.4h0M333.2 758h0M355.2 717.9h0M479.8 783.1h0M320.3 783.9h0M410.5 751.7h0M425.9 778.6h0M375.3 716.6h0M338.2 757h0M425.5 764h0M437.6 799h0M306.3 803.2h0M438.1 706.9h0M325.2 782h0M342 800.4h0M439.7 806.2h0M311.8 757.4h0M356.9 780.6h0M429.2 793.6h0M340.4 821.2h0M391.6 745.1h0M413.3 815.3h0M317.5 749.3h0M413.6 743.1h0M400.2 734.3h0M359.2 711.6h0M311.2 759.6h0M418.1 812.6h0M419.4 682.7h0M382.8 741.3h0M361.2 796.8h0M387.9 798.4h0M359.3 789.1h0M417.5 817.4h0M330.8 789.3h0M413.1 799h0M358.9 778.3h0M399.9 802.7h0M426.6 803.6h0M441.5 749.4h0M407 815.3h0M327.9 775.9h0M414 766.9h0M364.4 751.8h0M310.1 812.8h0M331.6 764.9h0M420.6 766h0M329.8 733h0M357.4 762.4h0M404.3 727.9h0M390.1 743.8h0M261 740.8h0M354.9 808.9h0M358.1 811.7h0M456.8 787.9h0M349.1 815.3h0M350.5 808.9h0M354.5 847.9h0M437.8 770.1h0M331.9 796h0M458.7 779h0M313.8 730.8h0M464.9 813.7h0M385.6 750.4h0M356 769.5h0M317.9 798.6h0M421 760.4h0M365 735.2h0M417.5 804.5h0M306.2 761.2h0M335 754.7h0M320.3 682.6h0M375.6 759.5h0M355.8 802h0M348 849.4h0M310.3 802.3h0M372.8 818.6h0M358.1 706.1h0M294.4 758.6h0M359 808.4h0M336.1 800.3h0M431.6 757.7h0M387 839.5h0M446.3 784.8h0M408.4 754.2h0M396.5 797.9h0M388.9 786.5h0M358.6 804.5h0M307 779h0M435.7 822.7h0M430.3 734.1h0M358.9 767.4h0M310 767.2h0M295.3 748.6h0M348.6 768.4h0M414.7 720.9h0M347.5 782.6h0M364.7 725.2h0M367.5 795.5h0M336.7 763.2h0M387.3 817.8h0M433.2 789.8h0M421.8 776.5h0M327.5 759.2h0M415.9 772.5h0M364.2 812.3h0M433.9 784.3h0M340.5 776.2h0M420.7 753.9h0M407.2 833.1h0M397.5 832.8h0M407.4 787h0M312.7 774.3h0M422.9 808.1h0M394.4 759h0M341.3 760.9h0M382.5 747.2h0M341.1 743.5h0M349.1 820.8h0M447.7 764.6h0M428.3 829.9h0M368.7 759.9h0M425.6 766.7h0M428.1 804.2h0M403.4 740.9h0M347.9 794.4h0M411 813.5h0M340 739.3h0M486.5 791.3h0M420.1 791h0M323.5 785.1h0M331 738.8h0M393.4 729.9h0M329.5 775.6h0M342 803.8h0M432.1 775.8h0M416 724.7h0M329.8 808.6h0M348.1 731.1h0M399.1 828h0M395.7 799.2h0M435.1 785.5h0M424.6 770h0M409.3 728.6h0M404.2 736.8h0M461.8 748.7h0M298.1 756.8h0M343 738.9h0M423.2 729.3h0M434.1 749.2h0M392.3 749h0M364.2 719.6h0M456.5 771.3h0M425.3 781.1h0M398.6 744.7h0M348.2 767.7h0M369.9 771.1h0M458.4 773.9h0M290.7 737.5h0M431.6 746.9h0M451 765.5h0M323.6 747h0M392.9 823.5h0M340.7 758.8h0M315.2 791h0M462 737.9h0M415.9 821.4h0M358.2 763.8h0M448.7 775.8h0M459 801.2h0M342.6 807.4h0M331.8 810h0M384.3 731.4h0M422.4 732h0M327.5 828.4h0M412.3 842.5h0M337.7 824.4h0M421.4 829.6h0M366.8 732.3h0M333.8 800.3h0M323.9 765.6h0M376.6 744.7h0M418.7 786.8h0M393.8 724.5h0M320.4 801.3h0M446.4 827.8h0M419.3 703.3h0M309.8 784.6h0M366.9 822.8h0M305.6 832.6h0M367.9 793.9h0M352.2 708.4h0M372.4 713.4h0M355.5 761h0M408.5 810.7h0M384.3 821.4h0M424.2 801h0M321.5 789.4h0M433.2 800.9h0M413 765.4h0M346.7 756.2h0M341.3 819.8h0M397.1 820.3h0M390.3 806.5h0M342.1 850.6h0M320.7 768.4h0M397.8 795.3h0M284.8 750.9h0M335.9 770.5h0M472.4 782.9h0M327.4 812.7h0M403.4 773.2h0M375.1 817.4h0M404 815.5h0M328.5 734.2h0M333.7 742.4h0M292.9 834.9h0M336.3 712.4h0M362.3 760.2h0M345.2 845.2h0M317.5 833.3h0M387 741.4h0M347.1 771.5h0M460.8 839.5h0M321.4 794.3h0M392.2 773.1h0M408.2 795.4h0M429.5 787.6h0M372.4 785.9h0M377.5 835h0M388.6 725.6h0M318.6 770.4h0M403.3 795.6h0M453.9 807.1h0M383.4 725.9h0M325.4 805.6h0M451.2 778.7h0M407.3 762.2h0M416.6 833.8h0M380.2 838.1h0M346.3 805.3h0M331.1 832.5h0M283.7 756.7h0M395.3 787.8h0M372.8 743h0M340.5 796.2h0M379.6 704.6h0M367.5 715.5h0M354.6 795.2h0M385.5 769.4h0M311.6 721.8h0M380.4 817.1h0M344.6 798h0M413.3 791.8h0M352.5 801.8h0M432.7 806.8h0M320.9 742.1h0M307.7 771h0M349.4 723h0M333 721.7h0M329.2 799.1h0M365.8 825.5h0M344.1 773h0M395.8 832.2h0M395.9 813.8h0M360.5 733.4h0M310.2 788.8h0M349 739.5h0M389 742.5h0M417.1 755.8h0M359.3 735.3h0M317.7 805.9h0M328.8 766h0M397.3 799.2h0M351.3 729.4h0M424.1 791.7h0M328 830.7h0M336.3 835.6h0M379.4 712.9h0M361.1 843.9h0M314.1 761h0M347.5 727.8h0M337.6 839.1h0M472.8 810.6h0M404.4 738.8h0M375.2 807.3h0M349.2 794.5h0M344 807.3h0M436.2 850.5h0M397.5 763.8h0M314.5 822.2h0M401.6 827.1h0M382.9 824.7h0M393.9 735.2h0M333.8 756.3h0M387.7 777.7h0M350.6 819.7h0M462.6 758.4h0M447.2 720.5h0M425.9 739.5h0M360.6 771h0M358.7 820.1h0M325.5 842.2h0M352.6 783.5h0M364.6 744.6h0M366.2 805.8h0M413.2 802.3h0M345.3 840.3h0M482 756.7h0M403.4 703.9h0M453 762.2h0M432.1 735.1h0M439.5 741.5h0M400.7 817.8h0M354.4 732.3h0M350.8 763.5h0M362.3 734.4h0M356.4 847.6h0M442.8 770.7h0M322.8 792.4h0M420.4 739.9h0M331.8 844.2h0M345.6 778.2h0M369.6 812.4h0M387.4 813.2h0M414 844.6h0M446.8 773.6h0M376.1 826.6h0M313 748.3h0M428.9 768.1h0M453.1 756h0M420.8 826.2h0M454.7 720.7h0M438.9 804.4h0M328.6 792.2h0M394.2 722h0M425.2 765.4h0M434.2 822h0M347.8 769.1h0M393.7 750.5h0M394.9 808h0M409.7 819.6h0M382 736.1h0M329.6 750.3h0M319.6 786.4h0M351.6 810h0M366.8 712.6h0M312.7 811.6h0M365.5 841.3h0M296.3 804.9h0M395.5 824.2h0M295.1 769.6h0M324.4 827.4h0M315.2 809.1h0M388.5 791.7h0M397.6 710.6h0M393.7 743.1h0M350.4 807.5h0M395.9 842h0M427.8 828.3h0M331.6 767.6h0M484.9 783.4h0M322.9 783.2h0M321 781.9h0M334.3 822.7h0M346.2 789.3h0M357.5 738h0M425 830.2h0M364 721.2h0M414.3 833.4h0M382 801.5h0M323.6 766.9h0M303.2 841.3h0M322 818.6h0M405.6 716.8h0M390.3 759.7h0M457.5 736h0M436.3 819.7h0M330.3 740.4h0M421.8 804.6h0M371.1 835.4h0M380.6 722.1h0M386.8 755.4h0M355.9 816.4h0M280.4 825.5h0M375.2 792.4h0M380 750.7h0M408.5 736.9h0M393.1 813.6h0M275.1 962.2h0M388.3 812.1h0M303.5 684h0M245.4 717.7h0M247.6 907h0M327 861.9h0M313.4 900.7h0M279.7 746.5h0M301.4 833.9h0M273.1 674.9h0M429.5 813.9h0M263 833.1h0M361.5 827.6h0M356.4 719.3h0M327.1 682.3h0M310.8 689.9h0M303.4 802.2h0M309.6 805.5h0M308.1 735.6h0M321.1 750.1h0M457.1 781.5h0M261.7 824.7h0M349.2 714.2h0M372.5 864.1h0M393.1 845.2h0M347.4 811.7h0M342.6 745.8h0M417.9 808h0M340.7 832.2h0M334.2 695.8h0M276.5 638.4h0M406.3 789.7h0M452.1 730.1h0M292.9 820.4h0M325.8 819.2h0M330.8 865h0M291.5 711.7h0M285.4 842h0M334.3 862.5h0M327.5 713.4h0M304.2 759.1h0M428.4 749.6h0M342.3 763.5h0M347.8 834.1h0M380.6 792.8h0M486 710.2h0M435.2 760.2h0M274.2 807.1h0M328.4 717.6h0M304.5 742.7h0M280.3 790.9h0M331.9 818.5h0M302.3 871.2h0M330.4 750.9h0M471.4 778.1h0M292.1 852h0M330.4 700.2h0M316.5 760.8h0M288.9 787.3h0M391.6 772.2h0M306.9 827.1h0M310.4 750.4h0M312.8 755.3h0M315.2 796h0M295.5 874.7h0M275.9 836h0M324.4 720.2h0M287.6 700.5h0M403.1 737.9h0M315.9 879.4h0M338 840.5h0M393.2 762.9h0M249.6 817.7h0M361.1 741.7h0M429.9 785.4h0M309 751.7h0M273.9 838.8h0M263.2 930.8h0M356.9 833.5h0M340.2 831h0M358.6 823.5h0M347.1 724h0M283.2 673.1h0M323.8 813.8h0M342.3 841.6h0M403.9 758.1h0M360.4 874.3h0M311.4 695.9h0M273.2 731.9h0M355.1 682.8h0M385.8 831.8h0M330.6 688.3h0M419.4 841.8h0M383.3 853.6h0M347.4 842.3h0M348.4 693.6h0M412.7 816.1h0M275.3 782.9h0M232.4 844.2h0M322.8 753.9h0M309.3 835.1h0M291.2 836.8h0M306.5 792.1h0M271.3 822h0M413.6 875.5h0M324.8 725.2h0M332.3 706.5h0M281.8 755.4h0M298.4 763.9h0M329.5 753.5h0M391.1 688.5h0M280.8 668.6h0M314.8 867.5h0M307.1 629h0M265.4 782.8h0M398.5 660.9h0M369.3 721.7h0M310.3 687.9h0M238.1 743.8h0M293.1 767.1h0M308.2 756.7h0M243.2 695.5h0M262.4 926.1h0M368.9 707.7h0M377.2 774.2h0M328.4 837.8h0M430.6 818.5h0M311.8 848.5h0M402.9 719.7h0M299.2 702.8h0M379.4 669.4h0M304.8 718.2h0M317.6 821.5h0M286.5 885.8h0M438.4 745.5h0M294.4 855.6h0M247 769.4h0M319.4 805.1h0M373.6 728.4h0M269.9 675.2h0M387.4 711.5h0M423.8 571.4h0M332.9 844.3h0M294.2 811.1h0M319.4 769.7h0M285 821.3h0M273.5 755h0M343.5 742.5h0M489.5 725.8h0M351.8 690.1h0M270.2 665.8h0M284 759.5h0M361.1 810.9h0M294.9 885.3h0M419.7 847.6h0M338 646.8h0M264.4 908.9h0M275.1 823.2h0M235.4 825h0M311.9 804.5h0M387.4 579.8h0M320.1 677.4h0M324.1 911.8h0M398.4 848.5h0M264.1 752.4h0M307.2 786.1h0M321.3 711.5h0M277.5 810.9h0M353.6 823.3h0M269 758.8h0M313.8 867.2h0M281.7 922.5h0M309.9 699.9h0M323.2 737.9h0M306 785.1h0M364.7 752.1h0M302.4 642.3h0M307.1 584.4h0M318.6 844.5h0M255.9 865.4h0M313.3 791.5h0M278.8 721.8h0M268.5 735.9h0M294.5 930.7h0M296.3 820.6h0M308.5 909.2h0M400.2 825.7h0M280 969.8h0M417.6 881.5h0M428.2 767.2h0M342.8 839.9h0M270.9 751h0M266.6 865.3h0M279.4 776.4h0M337.8 898.8h0M259.3 813.7h0M279 790.2h0M312.2 863.1h0M306.1 856.2h0M396.2 824.9h0M376.8 741.4h0M356.6 721h0M370.7 737.1h0M434.2 795.9h0M279.9 787.4h0M399.5 726.1h0M316.4 740.2h0M304.2 757.1h0M364.7 806h0M404.4 770.4h0M294.9 799h0M324 689.3h0M419.4 772.9h0M317.6 908.2h0M289.3 720.8h0M351.8 704.9h0M301.5 790.5h0M333.7 787.7h0M267.4 836.7h0M340.5 876.1h0M312.1 764.9h0M338 734.9h0M276.2 720.4h0M333.6 806.5h0M336.6 639.3h0M326.1 730.7h0M308.7 745.7h0M290.5 682.4h0M252.4 990.4h0M300.6 797.9h0M315.3 900.2h0M256.7 792h0M299 806.5h0M422.7 761.3h0M357.4 759.8h0M435.6 777.3h0M312.5 754h0M363.2 857.2h0M313.9 784.3h0M299.8 779.3h0M337 708.2h0M390.6 752h0M287.1 702.1h0M354.5 859.2h0M347.3 737h0M283.9 755.9h0M315.5 777.5h0M345.5 740.2h0M350.2 874.4h0M343.5 869.5h0M421.7 737.8h0M288.7 769.4h0M317.7 752.8h0M452.5 796.9h0M275.2 729.4h0M312 900.3h0M396.1 852.5h0M331.1 806.4h0M326.2 726.7h0M279.9 934.4h0M293.2 717.3h0M315.3 746.5h0M288.9 789.7h0M286 833.4h0M313.7 729.4h0M326.5 875.4h0M347 880.2h0M263.8 856.3h0M297 731.7h0M300.6 871.6h0M379.1 867.4h0M309.8 739.7h0M362 720.2h0M319 830h0M253.4 724.8h0M314.2 908.5h0M333.9 799.7h0M341.6 766.4h0M412 861h0M259.9 629.8h0M241.9 617.6h0M263.5 776.4h0M278 806.8h0M275.8 691.4h0M327.7 765.6h0M353.3 919.7h0M308 822.5h0M295.3 777.1h0M297.6 620.5h0M335.2 805.3h0M320.1 754h0M435.3 857.6h0M295.9 678.2h0M333.2 690.1h0M269.2 858h0M320.8 826.2h0M346.2 728.9h0M305.6 727.9h0M261.4 885h0M414 812h0M390.5 702.5h0M292.7 865h0M283.1 808.6h0M314.7 829.9h0M314.4 700.4h0M266 693h0M385.8 662.8h0M327.6 748.2h0M332.9 830.7h0M375.6 715.8h0M406.5 755.5h0M349.1 718.5h0M295.1 818.5h0M454 742.6h0M314.6 910.7h0M269 821.4h0M311.3 817.7h0M351.5 716.7h0M376.4 843h0M400.8 822.4h0M318.2 645.6h0M322.6 740.4h0M400.6 856h0M291.6 916.4h0M365.7 849.6h0M348.8 724.4h0M328.8 676.2h0M326.7 739.6h0M335.8 979.9h0M367.2 721.2h0M306.8 862.4h0M369.5 841.3h0M368.5 716.1h0M306.6 757.7h0M312.8 743.6h0M271.9 684.3h0M326 840.6h0M271.3 725.3h0M261.7 811.9h0M236.3 732.5h0M308 741.3h0M317.9 807.2h0M381.2 740.4h0M247.3 839.1h0M270.2 801.4h0M304.5 823.4h0M433.4 759.6h0M258.1 821.2h0M256.1 800.8h0M281.5 828h0M310 819.6h0M334.9 688.6h0M326.9 768.5h0M307.1 763.2h0M327.5 763.2h0M350 742.1h0M318.4 809.6h0M265.3 763.3h0M337.5 747.3h0M334.9 723.4h0M282.7 638.9h0M380.1 841.3h0M324.2 692.2h0M458.6 793.7h0M415.9 795.1h0M261.1 673.3h0M252.8 774.8h0M334.8 802.8h0M320.5 813.8h0M348.7 816.9h0M354.4 727.4h0M290.9 745.8h0M255.1 736.9h0M280.3 689.3h0M355.5 693.7h0M314.1 847.3h0M387.9 885.5h0M280.9 703.3h0M345.1 675.8h0M323.7 673.7h0M317 731.7h0M252.4 704.8h0M475.6 852.5h0M314.4 942.3h0M335.2 832.5h0M371.1 820.9h0M297.3 741.2h0M261.2 649.1h0M274.4 734.1h0M411.1 762.3h0M256 833.3h0M288.4 651.5h0M331.2 830h0M286.9 926.7h0M273.9 793.2h0M334.5 849.5h0M241.8 740.4h0M337.9 565.6h0M316.2 877.3h0M461.6 759.8h0M309.3 652.1h0M294.7 722.5h0M425.9 800h0M263.7 896.4h0M333.4 929.2h0M372 859h0M260 756.8h0M403.7 873.8h0M342.9 711.1h0M379.3 683.5h0M349.4 771.9h0M301.2 802.2h0M278.3 772.9h0M368.8 755.2h0M302.7 857.3h0M346.6 720.1h0M359.3 844.4h0M272.1 776.4h0M291.4 727.9h0M336.8 841.7h0M325.8 774h0M412.8 746h0M314.8 771h0M427.6 824.8h0M304.9 707.2h0M473 704.4h0M264.5 759.3h0M298.6 618.7h0M389.8 842.7h0M367.1 653h0M359 717.8h0M375.1 848h0M276.2 739.8h0M359.7 729.3h0M350 754.1h0M303.2 787.6h0M292.3 712.3h0M254.5 744.7h0M227.9 742.1h0M268.7 776.8h0M278.4 778.6h0M275.9 652.8h0M320.1 817.6h0M384 824.3h0M296.5 830.3h0M390 676.1h0M296.2 783.2h0M319 801.7h0M279 817.6h0M371.7 725.4h0M299.6 692.4h0M326.7 824.7h0M324.8 728.5h0M328.9 719.6h0M347.9 740.5h0M317.9 853.9h0M389.4 726h0M334.7 716.8h0M397.8 748.3h0M278 803h0M302.1 741.7h0M284.9 725h0M389.9 862.7h0M319.6 647.6h0M292.7 763.8h0M323 819.6h0M347.6 718.4h0M282.6 788.5h0M278.9 613.5h0M351.9 754.2h0M370 691.8h0M268.6 640.1h0M359.9 714.1h0M318.7 907.7h0M271 799h0M237.8 810.1h0M409.8 720h0M302.2 666.6h0M315.3 817.2h0M335.1 666.5h0M321.4 730.3h0M262.3 714.5h0M325.7 787.2h0M305.5 782.3h0M397.9 734h0M237.2 782.5h0M266.6 839.3h0M272.4 877.2h0M292.6 846.1h0M343.9 701.5h0M306.8 726h0M290.3 799.4h0M316.6 823.7h0M301.8 793.5h0M257.8 781.5h0M308.3 802.3h0M483.1 793.2h0M314 666.1h0M263.2 599h0M291.3 695.7h0M283.7 860.5h0M349.7 703.5h0M308.9 764.2h0M341.9 811.8h0M334.8 727.2h0M351 693.4h0M303.1 676.4h0M294.4 716.1h0M344.6 729h0M471.4 790.4h0M269.5 846.1h0M349.7 672.4h0M452.5 758.8h0M301.6 732.7h0M289.7 969.1h0M427.1 836.5h0M386.7 727.2h0M329.6 835.6h0M313.6 770.5h0M304.6 810h0M323.6 832.7h0M313.2 881.9h0M436.4 802.2h0M346.8 946.2h0M335.2 783.1h0M335.4 690.6h0M317.8 721.9h0M304.7 734.5h0M375.5 731.4h0M328.6 778.8h0M372.5 733h0M388.3 821h0M357.3 724.5h0M259.8 848.3h0M290 792.8h0M390.5 710.2h0M312.7 699.2h0M247.2 795.1h0M278.6 766h0M351.8 848.9h0M306 821.7h0M269.1 806.6h0M458.1 852.1h0M303.1 807.8h0M349.9 660.9h0M257.7 728.9h0M265.9 734.7h0M445.3 798.3h0M309.6 824.5h0M404.2 617.9h0M296.2 739.2h0M301.7 752.3h0M297.9 932h0M323.9 850.3h0M289.8 796h0M224.9 740.4h0M368.2 713.7h0M322.4 702h0M363.8 887.5h0M348.8 887.4h0M311.1 764.5h0M274.4 781.4h0M273.5 751.7h0M237.4 688h0M361.1 912.8h0M286 752.2h0M374.4 871.6h0M350.4 894.9h0M294.4 669h0M367.6 750.8h0M288.1 838.1h0M268.3 667.3h0M482.3 769.6h0M332.6 708.9h0M321.8 870.2h0M251.4 731.3h0M285.7 668.1h0M247.7 865.9h0M282 860.6h0M356.3 814.9h0M505.2 679.9h0M259.1 771.2h0M362.5 697h0M312.4 787.9h0M249.8 664.5h0M374.7 876.7h0M323.4 853.7h0M241.2 751.7h0M236.1 833.2h0M300.6 734.8h0M314.4 830.6h0M289.7 857.8h0M327.2 676.8h0M339.7 761.3h0M361.4 841.4h0M355.1 722.3h0M290.8 769.4h0M309.8 763h0M436.8 717.8h0M337.5 700.4h0M273 835.7h0M322.4 612h0M344.7 719.8h0M314.8 789.3h0M287.7 784h0M439.1 754.4h0M286.8 791.6h0M289.7 874.5h0M327.2 728h0M306.8 769.3h0M312.8 852.7h0M315.6 832.4h0M346.4 848.4h0M261.8 815.3h0M334.9 625.3h0M347.4 708.4h0M353.2 767.6h0M368.3 719.8h0M296.8 995.8h0M265.8 820.8h0M273.5 820.8h0M267.8 842.1h0M282.2 914.4h0M443.9 789.3h0M281.1 795.4h0M281.6 817.9h0M329.1 833.5h0M313.5 715.1h0M303.8 823.7h0M421.5 850.1h0M361 653.5h0M268.6 779.6h0M323.8 679.9h0M278.9 845.7h0M374.7 734.3h0M313.6 733.6h0M337.3 696.5h0M322.9 847.9h0M285.8 851.4h0M287.2 913.1h0M381.4 867.7h0M355.8 850.5h0M347.5 824.6h0M257.3 809.5h0M356.5 754.5h0M325.6 838.3h0M295.5 638.9h0M296.1 814.8h0M441.7 775.5h0M436.4 873.2h0M294.1 715.5h0M314.8 851.6h0M338.2 736.4h0M277.5 792.3h0M303.8 698h0M242.6 796.3h0M357.4 761.3h0M239.3 663.5h0M340.6 720.5h0M303.9 778.9h0M353.5 651.2h0M339.1 714.2h0M292.3 764.6h0M489.1 774.3h0M290.3 835.5h0M453.3 801.9h0M324.9 880.7h0M285.9 743.6h0M335 809.9h0M312.6 792h0M325.2 712.4h0M305 748.8h0M310.2 706.7h0M316.7 763.5h0M236.2 752h0M276.4 835.2h0M310.3 826.8h0M401.2 911.5h0M322.6 739.5h0M282.3 850.5h0M454.3 771.7h0M412.5 863.9h0M463.1 815.1h0M306.6 688.8h0M381.3 812.9h0M257.8 846.2h0M445.7 773.1h0M292.2 840.8h0M369.3 992h0M311.4 792.2h0M287.2 746.7h0M298.1 742.7h0M338.9 827.3h0M379.7 838.5h0M302.5 850.2h0M290.9 809h0M282.8 630h0M342.8 735.7h0M287.2 910.9h0M288.4 901.3h0M285.7 816.9h0M308.6 676.1h0M300.6 761.4h0M458 841.2h0M242.5 798.6h0M289.2 719.1h0M385.6 832.1h0M279 728.4h0M296.3 955.2h0M297.2 754.2h0M298.3 766.7h0M353.9 807.4h0M302.7 759.6h0M335.4 772.3h0M341.5 718.8h0M410 671.2h0M339.2 739.8h0M325.4 810h0M319.9 819.4h0M343.3 849.9h0M321.5 665.7h0M310.4 839.6h0M299.9 768.9h0M334 635.3h0M357.3 705.1h0M277.3 699.9h0M324.5 717.7h0M300.8 719.8h0M408.4 722.8h0M321.7 727.7h0M349.4 720.6h0M470.8 782.1h0M287.7 857.8h0M258.6 789h0M293.5 750.2h0M267.4 851.4h0M419.5 818.9h0M405.2 782.9h0M304.3 849.2h0M382.5 714.6h0M315.3 878h0M302.5 625.5h0M349.8 804.3h0M386.7 722.7h0M415.4 726.3h0M263.4 734.7h0M266.4 733.9h0M317.2 743.9h0M312.9 708.9h0M300.4 698.3h0M311.2 831.8h0M366.6 746.3h0M308.2 788.5h0M321 873.6h0M422.3 742.8h0M255.7 782.4h0M369.9 839.7h0M327.4 808.5h0M309 806.2h0M263.4 802.5h0M323 835.3h0M331.7 726.9h0M296.4 714.9h0M257.1 705.1h0M311.4 787.4h0M271.4 726.2h0M301.6 764h0M281.8 930.2h0M240.8 790.8h0M242.1 684.4h0M351.1 737.6h0M334.4 703.8h0M348.9 726.4h0M315.7 894.6h0M318 834.6h0M270.4 729.6h0M286.2 881h0M273 659.2h0M304.4 801.5h0M321 708.6h0M278.9 659.9h0M436 791.2h0M310.6 729.6h0M375.5 840.4h0M268 879.4h0M296.4 763.4h0M261.1 936.1h0M305.1 780.8h0M298.8 780.3h0M364.7 782.7h0M340.9 752.1h0M334.1 736.5h0M318.9 688.5h0M494.9 765.4h0M297.1 749.8h0M280.7 683.7h0M402.6 752.8h0M293.3 733.1h0M279 756.1h0M262.5 594.4h0M368.2 722.1h0M260.7 892.6h0M333.8 760.2h0M223.5 744.5h0M268 783.8h0M252.3 827.8h0M258.4 717.6h0M330.8 804.3h0M310 899.8h0M274.6 872.6h0M280.4 802.5h0M328.7 820.6h0M294.6 979h0M334.9 800.4h0M298.7 989.4h0M302.3 770.1h0M417.4 719.7h0M343.3 736.8h0M341 823.3h0M334.1 734.6h0M293.2 786.7h0M303.1 650.4h0M383.5 887h0M338.9 706.1h0M353.1 727h0M321.7 793.3h0M333.5 829.1h0M353.2 695.3h0M318.1 847.6h0M262.8 659.9h0M370.1 726.5h0M246.7 700.7h0M259.1 696.1h0M329.4 691.6h0M295.1 785.8h0M255.5 861h0M312.2 757.2h0M345.9 817.7h0M452.3 742.2h0M257.5 767h0M395.7 729.5h0M255.6 941.3h0M265.2 848.4h0M279 939.8h0M274.5 764.6h0M282.7 887.7h0M276.9 953.3h0M242.4 615h0M256.6 623.9h0M399.3 825.4h0M295.1 873.9h0M332.6 810.9h0M300.5 800.7h0M295.7 663.4h0M288.8 629h0M265.1 792.9h0M305.2 687.4h0M335.6 748.2h0M353.7 816.2h0M291.3 841.2h0M245.2 566.2h0M399.7 632h0M463 776.5h0M353.2 833.2h0M274.5 668.5h0M404.4 911.8h0M322.2 959.7h0M332.6 875h0M371.9 713.9h0M236 659.6h0M331 712.5h0M379.3 816.4h0M307.8 679.6h0M297.4 843.6h0M309.1 716.5h0M292.8 719.3h0M262.4 768.2h0M239.9 788.7h0M368 811.6h0M333.7 812.4h0M260.4 784.5h0M394.8 835.3h0M296.8 647h0M303.6 781.2h0M393 884.6h0M309.4 747h0M260.4 841.2h0M321.6 733.8h0M328.9 659.9h0M331.9 884.4h0M269.5 769.8h0M349.4 902.3h0M473.1 753.8h0M297.4 732.8h0M387.4 908.3h0M304.5 808.9h0M362.2 798.2h0M385.3 741.4h0M369.6 814.1h0M307.2 670.4h0M233.6 769.6h0M282.5 943.9h0M317.8 747.6h0M303.2 761.7h0M264.6 643.8h0M364.4 704.7h0M347.2 713.5h0M307.9 725.3h0M384 760.7h0M372.1 704.2h0M279.4 806.9h0M319.1 784.3h0M313.3 835.9h0M307.2 704.7h0M297.9 771.2h0M255.9 708.1h0M290.4 693.1h0M244.8 667.4h0M347.7 682.3h0M318.3 807.3h0M359.3 869.5h0M422.2 819.3h0M291.5 782.1h0M426.1 811.7h0M249.1 739.3h0M441 715.9h0M274.8 749h0M413.6 731.4h0M312.1 873.2h0M390.1 855.9h0M434.4 714.2h0M404.7 706.6h0M309 761.8h0M324.1 654.9h0M259.4 828h0M323.2 888h0M323.2 718.2h0M275.6 603h0M288.1 834h0M385.2 838.6h0M267.6 853.8h0M411.3 832.2h0M283.6 747.4h0M282.2 838.8h0M296.2 826.2h0M277.7 894.9h0M335.5 870.7h0M294 584.8h0M378.9 747h0M299.6 850.6h0M348.6 790.3h0M396.7 643.7h0M453.2 787.9h0M257.1 817.3h0M345.2 751.5h0M358.3 835.9h0M283.4 767.5h0M260.2 579.4h0M390.4 739.2h0M291.8 791.6h0M274.6 737.4h0M323.5 682.6h0M415.9 819h0M298.5 738.7h0M285.9 626.9h0M368.4 689.1h0M310 723.9h0M492.1 785.5h0M342.2 862.4h0M306.6 815.1h0M280.5 756.4h0M288.2 626.8h0M285.8 859.7h0M409.4 862.4h0M290.2 822.5h0M244.6 824.3h0M317.4 981.5h0M243.1 670.9h0M263.6 838h0M259.2 735.7h0M347.3 869.1h0M324.5 798.1h0M353.3 733.5h0M248.8 870.2h0M325.4 706.1h0M322 840.9h0M274.6 710.2h0M323.6 696.9h0M249 961h0M332.2 823h0M267.4 651.8h0M326.9 805.3h0M293.7 863.5h0M280.8 837.3h0M322.7 609.3h0M260.8 802.6h0M472.9 754.3h0M388.8 687.6h0M406.1 844h0M257.8 750.7h0M361.4 742.1h0M279 761.7h0M274.5 975.2h0M343 731.5h0M255.4 705.5h0M371.1 858.8h0M317.1 722.7h0M328.2 826.6h0M333.5 910.2h0M279.5 863.7h0M346.8 705h0M300.2 707.6h0M422.3 736.8h0M303.9 660.1h0M238.4 721.3h0M312.8 805.4h0M355.7 834.7h0M268.8 796.3h0M372.4 720.9h0M287.4 757.2h0M271 697.8h0M294.2 729.3h0M323.9 628.5h0M279.6 962.3h0M265.5 770.8h0M454.7 820.6h0M263.4 601.2h0M341.4 872.4h0M272.6 692.6h0M242.4 783.6h0M327.8 894.1h0M286.5 871.1h0M246.5 834.8h0M239.8 691.3h0M292.8 708.7h0M303.5 824.3h0M398 855h0M244 732.4h0M306.5 877.4h0M326.1 890.3h0M308 719.5h0M308.2 781.5h0M293.2 793.3h0M345.4 839.9h0M236.6 677.5h0M265 686.2h0M292.9 802.2h0M296.5 982.9h0M287 724.6h0M303.2 909.8h0M233.7 772.3h0M404.7 722.8h0M321.6 700.2h0M457.6 758.6h0M382.2 696.2h0M333.8 681.5h0M351.1 890.5h0M368.6 848.5h0M389.3 742h0M369.9 944.3h0M236 803h0M454.9 769h0M343.7 815.2h0M311 843.3h0M341.4 735.1h0M259.3 836.7h0M261.6 776.2h0M244.3 773.2h0M445.9 642.4h0M285.7 799.6h0M324.5 850h0M280.7 793.2h0M309.6 692.2h0M460.7 698h0M265.4 823h0M401.4 906.6h0M351.9 863.1h0M321 725.7h0M320.4 919.8h0M430.1 718.9h0M362.3 718h0M312.7 721.5h0M254.3 846.4h0M311.4 652.7h0M420.8 909.4h0M242.9 687.9h0M402.4 898.7h0M293.7 616.6h0M386.2 823.9h0M238.1 676.8h0M296.2 664h0M341.1 680.3h0M344.4 697.6h0M317.1 871.6h0M373.3 719.6h0M221.4 799.8h0M319.8 674.3h0M273.5 668.6h0M297.3 759.3h0M302.2 827.4h0M286.7 803.2h0M404.4 862.2h0M375.3 741.4h0M284.9 915h0M287.4 779.6h0M269.5 730.6h0M314.4 746h0M293.1 632h0M233.8 835.5h0M326.3 704.2h0M315.4 737.1h0M298.8 873.2h0M381.6 693.8h0M306.6 690.6h0M323.5 779.3h0M264.2 859.7h0M324.6 792.4h0M365.6 858.2h0M325.4 691h0M389.3 856.4h0M422.4 725.1h0M279.3 872.5h0M263.8 795.7h0M327.6 714.2h0M329.1 730.7h0M280.7 852.4h0M309.1 837h0M249.7 792.5h0M406.6 699.4h0M247.8 698.3h0M322.4 665.8h0M289.9 817.4h0M352.9 745.5h0M238 852.7h0M275.9 791.1h0M257.8 686.9h0M269.2 925.5h0M431.9 816.4h0M401.9 740.2h0M278.2 680.9h0M383.1 862.1h0M321.5 786h0M313.4 696.7h0M298.4 919.2h0M376.6 823.5h0M246.3 763.8h0M332.5 698.5h0M300.8 781.6h0M285.1 791.4h0M296 912.5h0M283.3 729.7h0M278 782.4h0M312.7 828.1h0M308 872.7h0M398.9 711.2h0M304.4 803h0M324.9 744.3h0M313.1 839.7h0M241.9 651.9h0M255.3 802h0M331.3 641.9h0M346.8 745.5h0M330.3 899.8h0M325.1 823.4h0M488.9 764.4h0M349.7 743.4h0M341.7 715.2h0M364.4 715.7h0M261.1 844.2h0M306.5 666.2h0M303.1 793.7h0M302.1 766.6h0M308.6 815.5h0M374.8 819.2h0M296.1 810.7h0M271.6 766.9h0M320.1 815.7h0M376.4 836h0M280.7 654.2h0M387.2 795.4h0M256.2 925.7h0M435.2 709.2h0M302.3 725.4h0M429.2 846.6h0M364.4 656.6h0M293.8 870.2h0M311.9 735.3h0M311.6 858.9h0M283.5 742.9h0M421.5 670.2h0M308.6 947.8h0M322.4 720.2h0M298.3 664.5h0M253.9 662.8h0M289 806.4h0M319.2 802.1h0M320.4 613h0M240.9 666.4h0M268.1 662.6h0M383.8 713.5h0M432.7 825.7h0M353.4 837.2h0M299.5 674.8h0M282.1 796.1h0M421.2 729.2h0M263.4 806.5h0M397.8 793.5h0M371.5 743h0M330.5 874.8h0M275.7 746.3h0M317.1 942.1h0M267.3 800.7h0M447.4 799.6h0M310.6 797.1h0M299.3 694.5h0M375.1 687.9h0M314.5 785.2h0M302 840.7h0M299.5 751.2h0M293.9 808.1h0M266.7 769.8h0M357.7 736.5h0M409.8 649h0M389.5 839.4h0M263.9 657.5h0M283 652.4h0M310.6 832.5h0M394.1 852.5h0M315.9 713.2h0M289.4 696h0M300.3 923h0M431.3 838.2h0M372.3 875.4h0M289.7 797.4h0M400.7 893.7h0M264.2 863.5h0M318.1 857.2h0M282.8 772.3h0M366.6 827.6h0M236.3 716.6h0M297.3 674.3h0M349.5 733.5h0M373.8 863.5h0M346.9 739.5h0M294.1 671.2h0M304.3 843.5h0M464.9 781.3h0M322.5 827.7h0M330.2 717.7h0M438.9 781.1h0M505.9 820.2h0M477.1 702h0M447.3 757.3h0M418.6 680.6h0M264.8 847.9h0M365.4 918.8h0M281 742h0M267.5 638.8h0M272.7 742.1h0M340.6 885.5h0M325.2 726.3h0M335.9 865h0M267.6 828.6h0M287.6 859.7h0M270.9 667.9h0M316.4 837.2h0M333.1 683.8h0M253.1 581.4h0M285.2 862.7h0M292.9 755.4h0M337.4 931.6h0M335.6 705h0M451.9 819.2h0M349.9 810.8h0M299.2 860.5h0M278.5 841.4h0M321.7 744.5h0M438.6 766.6h0M302.1 744.1h0M283.6 771.8h0M391.1 708.3h0M280.1 869h0M447.1 734.9h0M292.4 723.8h0M318.5 767.6h0M282.9 870.6h0M290.3 689.4h0M306.7 749.6h0M286.7 900.9h0M399.7 811.6h0M255.8 817.7h0M282.3 707.3h0M224.5 806h0M297.3 800.3h0M310.1 712.6h0M449.4 839.9h0M304.8 632.5h0M269.6 765.8h0M339.5 697.8h0M289.3 952.5h0M281.3 800.8h0M455.7 844.4h0M385.1 654.7h0M304.9 628.4h0M307.5 660.6h0M404.4 845.9h0M337.9 849.9h0M249.4 638.6h0M311.5 790h0M283.3 763h0M331.4 743.8h0M268.8 794.5h0M299.4 715.9h0M305.2 888.6h0M298.3 858.4h0M332.9 781.9h0M448.9 764.4h0M305.6 814.1h0M344.3 823h0M274.7 676.7h0M349.8 746.7h0M325.1 714h0M247.5 882.3h0M269.9 689h0M344.4 710.9h0M323.8 831h0M287.9 766.6h0M309.7 831.1h0M322.8 647.6h0M382.3 716.1h0M274 867.3h0M312.1 689h0M312.1 665.1h0M366.7 772.3h0M253 729.4h0M421.4 745.1h0M357.5 890.4h0M284 684.5h0M270.4 774.8h0M322.9 824.6h0M339.8 710.3h0M262.7 727.8h0M244.7 855.2h0M286.4 894.5h0M311.8 743.4h0M342.8 716.9h0M319.3 691.9h0M313.9 858.2h0M293.4 799.4h0M243 750.8h0M287.1 729.7h0M266.8 751.7h0M305.5 773.1h0M236.5 742.7h0M356 733.6h0M299.9 685.3h0M363 721.4h0M267.2 713.1h0M309.9 619.8h0M280 797.8h0M345 690.6h0M298.2 735.2h0M234.1 741.7h0M316.3 644.3h0M252.7 722.9h0M373.2 730.8h0M271.9 692.3h0M271.8 819.7h0M269 897.4h0M250.1 638h0M247.6 761.9h0M258.1 794.8h0M366.4 848.7h0M318 811.8h0M315.5 854.3h0M270.2 789.3h0M330.2 876.4h0M241 673.3h0M294.3 817.6h0M283.3 574.6h0M314.6 682.3h0M297.6 652h0M356.2 708h0M347.4 715.1h0M308.7 669.5h0M307.6 754.9h0M310.5 784.8h0M325.8 869.4h0M377.5 829.1h0M318.4 875.3h0M356.8 840.2h0M248.5 787.7h0M319.6 755.3h0M355 855.4h0M382 903.5h0M336.9 759.9h0M235.4 743.6h0M377.3 884.9h0M268.3 785.5h0M299.9 786.7h0M303 621.9h0M283.4 959.5h0M305.7 868.3h0M244.4 774.9h0M336.1 719.1h0M311.6 795.6h0M283.7 695.9h0M292.9 890.5h0M253.7 780.7h0M355.3 668h0M256.6 725h0M272.8 736.5h0M385.4 725.3h0M267.5 825.7h0M355.6 729.4h0M368.7 710.3h0M241.2 722.8h0M349.7 662.6h0M345 633.5h0M284.7 739.2h0M256.3 790.7h0M250.3 886.5h0M359.4 853.6h0M283.3 820.6h0M330.4 687.5h0M312.1 716.7h0M292.6 817.9h0M245.8 657.5h0M265 844.2h0M291 831.6h0M245.3 723.5h0M363.5 839.1h0M264.2 700.5h0M276 911h0M383.7 842.4h0M322.9 722.6h0M334.8 838.4h0M373.8 896.9h0M332.4 855.5h0M319.5 673.6h0M263.4 784.8h0M346.2 840.7h0M286.2 653h0M233.5 842.7h0M259.7 743.5h0M247.9 796h0M323.7 699.1h0M238.3 729.9h0M273 699h0M290.4 707.5h0M266.2 780.9h0M351.6 679.6h0M258.6 726.9h0M340.4 765.4h0M257.9 656.1h0M349.8 856.6h0M277.9 772h0M259.7 721.7h0M310.9 912.2h0M301.3 856.5h0M293.8 797.7h0M331.8 695.2h0M331.8 718.3h0M235.6 729.4h0M374.6 729.2h0M286 738.5h0M299.4 812.5h0M264.5 826h0M255.5 765h0M341.2 854.3h0M296.7 690.8h0M318.8 650h0M379.5 710.9h0M331.6 722.9h0M249.9 785.8h0M241.5 842.1h0M244.5 770.5h0M347.4 671.5h0M358.8 665.9h0M314.7 739.7h0M299.5 843.1h0M246.3 676.7h0M345.7 861.6h0M246.1 650.9h0M339.2 703.1h0M359.5 839.7h0M311 881.9h0M301.3 787.5h0M318.9 730.6h0M297.9 720.4h0M288.6 747.8h0M349.9 706h0M255.2 746.5h0M384.9 737.5h0M256 812.2h0M306.1 717.7h0M290.5 768h0M261.6 833.4h0M312.3 820.5h0M303.4 698.8h0M256.4 744.7h0M335 835.1h0M342 960.7h0M374.8 681.9h0M278.4 667.5h0M343.7 703.9h0M273 713.3h0M278.5 851.1h0M314.9 759.5h0M372.3 675.4h0M309 829.3h0M233.9 755.9h0M257.5 738.2h0M248.8 719.4h0M310.1 876.2h0M238.9 784.7h0M323.8 688h0M250.3 737.7h0M350.7 664.7h0M233.5 734.7h0M271.8 648.5h0M344.6 759.6h0M289.7 819h0M349.1 684.9h0M280.1 775.3h0M294.7 882h0M305.9 669.7h0M256.1 802.6h0M339 660.6h0M305.9 753.9h0M278.4 603.3h0M350.9 631.9h0M338.8 694.3h0M376.3 600.3h0M281.3 716.4h0M325.5 718.6h0M245.3 711.2h0M353.2 854.1h0M244.1 720.4h0M272 770.5h0M379.2 715.3h0M234.8 734.7h0M261.3 713.6h0M343.1 576.6h0M270 732.3h0M306.6 891.6h0M288.8 685.5h0M386.3 690.7h0M379.8 899h0M337.9 667.8h0M301.2 666.9h0M378.8 639.8h0M330.4 666.2h0M268.2 815.8h0M323.9 829.2h0M258 810.3h0M270.4 854.8h0M321.8 846.4h0M304 653.8h0M240.1 825.7h0M371.1 862.2h0M295.2 851.5h0M373.5 856.3h0M331.8 659.9h0M312 774.2h0M364.9 662.8h0M276.8 777.5h0M311.6 744.6h0M320.8 748.4h0M252.5 796.8h0M271.1 786.2h0M299.8 639.1h0M348.9 908.1h0M385.7 879.5h0M289.5 889.5h0M315.7 652.2h0M333.4 730.6h0M255.3 806.6h0M317.9 866.5h0M319.7 701.4h0M268.1 757.8h0M372 688.2h0M341.5 870.2h0M305.8 795.5h0M264.2 648h0M295.7 730.2h0M364.4 847.1h0M268.2 687.1h0M345.8 721.9h0M285.3 847.8h0M272.7 836.7h0M242.6 757.7h0M358.9 684.1h0M356.2 667.4h0M254.2 668.7h0M235.6 700.4h0M299.9 636.6h0M325.3 816.7h0M250 706h0M240.4 670.6h0M242.2 873.3h0M260 831h0M279.9 713.2h0M350.5 876.4h0M286.7 862.1h0M252.2 753.1h0M315 711.3h0M284.9 702.5h0M254.2 832.8h0M318.9 699.2h0M360.6 679.3h0M288.2 836h0M306.3 796.1h0M294.4 683.2h0M264.9 716.1h0M336.9 757.6h0M275.9 793.2h0M247.3 774.3h0M249.6 820.2h0M324.9 752.2h0M283 784.1h0M275.3 790h0M271.3 889.2h0M294.2 853.7h0M244.1 780.8h0M250.1 743.6h0M251.2 750.1h0M305 662.4h0M290.9 731h0M289.2 830.8h0M255.2 682.8h0M285.8 750h0M312.3 906.2h0M239.2 747.8h0M328.4 756.2h0M259.5 792.6h0M316.9 857.6h0M305.6 797.6h0M295.2 820.9h0M252.9 667.7h0M308.3 649.2h0M297.4 860.7h0M385.4 652h0M382.4 711.1h0M304.4 741.2h0M259.3 785.3h0M246.1 786.7h0M259.1 773.8h0M379.2 840.4h0M351.1 661.6h0M382.5 670.3h0M233.2 763.7h0M301.8 625h0M272.6 761.4h0M287.6 781.2h0M356.8 728.4h0M359.2 738.5h0M385.4 670.5h0M270.5 618.3h0M293.2 785.1h0M320.4 642.4h0M285.6 869.2h0M344 704.6h0M283.4 684.5h0M264.1 710.8h0M320.2 807.8h0M239.3 803h0M252.9 692.9h0M255.8 797.2h0M280.2 700.6h0M261.2 869.5h0M303.2 682.4h0M261.8 751.2h0M246.4 757.9h0M286.8 656.4h0M363.6 873.9h0M260.6 699.3h0M360.9 727.1h0M335.5 650.7h0M237.9 715.7h0M255.2 753h0M265.1 662.4h0M281.5 903.2h0M261.3 675.3h0M264.4 788.4h0M333.1 685.8h0M335.9 912.4h0M303.8 719.9h0M303.8 729.4h0M357.6 698.9h0M386.2 613.5h0M305.1 738.6h0M245 842.1h0M245.1 804.2h0M283.3 663h0M261.5 834.7h0M330.1 835.4h0M277.6 803.1h0M346 836.4h0M249.7 723.5h0M277 679.8h0M233.9 751h0M294 744.8h0M291.5 622.9h0M363.3 861.9h0M347.3 846.3h0M260.9 765.2h0M241.8 821.4h0M297.5 637.7h0M242.3 740h0M262.2 733.9h0M299.3 698.3h0M253.5 749.2h0M351 747.4h0M284.5 730.2h0M279.4 736.7h0M235.7 778.6h0M295.8 659.7h0M263.4 868.5h0M250.3 767.2h0M252.8 715.8h0M272.6 723.1h0M304.4 675.3h0M381 824.7h0M236.1 654.1h0M289.8 862.9h0M240.9 804.7h0M292.6 757.5h0M335.2 742.7h0M248.4 879.1h0M323.1 806.1h0M337.7 855.9h0M259.6 664.9h0M276.8 596.6h0M363.9 638.4h0M274.2 887.8h0M353.6 715.8h0M316.1 851.8h0M253.8 761.1h0M284.6 651.8h0M251.5 718.3h0M298.3 776.1h0M261.1 840h0M232.8 731.8h0M299.2 582.3h0M346.8 829.3h0M240.2 817.4h0M293.7 780.2h0M380.8 856.4h0M258.8 724.2h0M267.4 696.4h0M237.3 719.4h0M241.6 812.6h0M279.4 766.5h0M298.4 810.1h0M248.3 755.7h0M289.6 823h0M263.1 864.7h0M350.9 868.9h0M287.5 618.2h0M324.3 708.3h0M289.8 686.6h0M306.8 742.5h0M260.8 657h0M262.9 787.6h0M381 706.3h0M265.5 769.7h0M260.8 706.5h0M318 869.2h0M282.7 842.4h0M258.6 858.6h0M245 846.7h0M345.4 738.5h0M257 602.9h0M281.6 788.4h0M334 834.4h0M367.6 662.8h0M234.7 776.4h0M233 850.5h0M383 656.4h0M271.5 876.8h0M297.6 854.6h0M352.6 842.1h0M270.6 645.5h0M270.2 826.3h0M323 879.3h0M286 711.4h0M254.8 913.5h0M275.4 801.7h0M343.1 708.1h0M285.6 712.7h0M294.9 831.1h0M267.3 797.9h0M320.5 681.4h0M380.3 684.5h0M274.2 824.5h0M380.3 678.5h0M311.9 754.3h0M245.5 761.1h0M249.8 778.3h0M265.3 656h0M283.7 737.8h0M339.1 746.9h0M353.9 716h0M301.3 845.4h0M251.9 949.8h0M300.6 807.4h0M335.2 670.6h0M350.3 710.7h0M315.9 690.1h0M284.9 867.5h0M264.7 786.6h0M369.3 676.3h0M240.8 636.7h0M322.7 695.9h0M266.9 737.8h0M370.4 639.4h0M294 815.4h0M371.5 907.7h0M273.8 667.5h0M325.2 834.9h0M358.6 687.6h0M369.7 631.7h0M249.6 677.6h0M368.8 888h0M304.4 665.7h0M297.6 778.5h0M289.3 774.8h0M261.2 738.4h0M274.6 593.2h0M358.9 631.2h0M378.5 820.2h0M284.3 760.6h0M239.4 854.3h0M283.2 710.7h0M258.5 749.3h0M301.2 737.1h0M236.9 821.9h0M273.7 795.1h0M262.2 751.5h0M352.5 853h0M340.1 737.9h0M315.2 695.3h0M277.5 785.9h0M236.6 661.7h0M310 661.3h0M247.1 690.7h0M349.8 712.5h0M268.5 917h0M328.8 797.6h0M319.4 712.6h0M308 774h0M267.4 812.5h0M380.4 675.6h0M292.1 955h0M272.7 791.6h0M309.2 887.1h0M233.3 704.1h0M270.2 757.3h0M283.6 783.9h0M338.8 725.7h0M289.5 802.1h0M246.9 708.4h0M257.6 768.1h0M291.3 631.8h0M267.3 834.3h0M320.7 848.7h0M335.6 730.9h0M378.6 697.5h0M236.9 859.9h0M341.4 838.4h0M269.8 867.9h0M278.9 783.9h0M339.5 704.8h0M260.3 864.4h0M287.5 742.1h0M242.8 816.9h0M311 647.8h0M266.2 654.8h0M287.2 763.2h0M297.1 764h0M329.7 649.4h0M348.8 711.5h0M258 671.9h0M234.9 826.4h0M353.7 815h0M293.3 812.6h0M302.1 844.9h0M307.9 881h0M312.9 758.2h0M259.9 778.8h0M299.3 754h0M365.3 698.7h0M290.8 865h0M300 750h0M342.6 797.1h0M351.1 636.6h0M321.6 735.5h0M384.4 880.5h0M256.4 799.4h0M371.8 683.5h0M233.6 804.2h0M338.9 708.7h0M302.9 848h0M314.8 773.4h0M243.9 691.4h0M366.1 836.8h0M286.7 786.7h0M357.8 836.1h0M362.3 725.5h0M368.9 746.4h0M381.7 703.7h0M318 757.7h0M357.3 831.4h0M276.9 857.5h0M307.2 864.5h0M347.2 833.6h0M240.5 754h0M339.2 851.8h0M257.6 679.6h0M247.2 829.9h0M301.7 743.2h0M253.4 747.2h0M240.5 665.3h0M304.4 681.3h0M365.4 806.3h0M310.5 884.6h0M251.1 861.7h0M247.7 799.7h0M300.9 689h0M296.8 803.4h0M360.2 717.2h0M318 686.7h0M313.9 913.8h0M290.2 594.3h0M346.1 873.6h0M274.7 775h0M240.9 792.9h0M280.8 738.6h0M239.1 710.4h0M270.2 713.3h0M292.9 773.3h0M262.3 742.7h0M299.4 705.2h0M303.7 798.1h0M362.9 596.1h0M267.5 765.8h0M292.2 831h0M233.2 756.5h0M251.1 760.8h0M358.7 911.4h0M259.4 701.2h0M351.2 713.9h0M348.9 741.2h0M287.9 804.8h0M286.9 688.2h0M378.4 911.9h0M288.3 821.3h0M361.8 669h0M234.8 828.1h0M285.6 722.5h0M292.6 753.8h0M289.1 809.1h0M266 739.1h0M244.1 729.8h0M267.6 806.6h0M280 644.4h0M255.8 700h0M247.8 901.2h0M254.4 787.5h0M237 775.4h0M290.8 743.9h0M354.7 932h0M239.9 740.8h0M314.8 708.4h0M331.8 761.3h0M355.7 710.2h0M320.3 641.4h0M376 887h0M263.2 842.9h0M309 644.3h0M289.4 734.7h0M330.2 664.9h0M294.8 805h0M304.7 714.9h0M278.3 821.5h0M237.6 756.5h0M259.4 893.2h0M317 848.9h0M261.2 635.1h0M291.7 747.2h0M302.5 623.7h0M301.9 681.9h0M383.9 643.5h0M285.8 782.9h0M232.9 778.8h0M352.2 707.9h0M355.5 690.5h0M294.5 760.2h0M345.6 671.1h0M375.5 901.7h0M234 748.6h0M323 842.5h0M272.2 757.9h0M263.4 739.8h0M260.7 891.9h0M248.2 653.5h0M260.7 710.8h0M239 671.2h0M365.7 873.4h0M267.8 680.7h0M284.1 804.1h0M277.3 732.7h0M245 652.4h0M269.1 691.5h0M247.3 734.2h0M371.6 703.9h0M371.8 781.4h0M286.9 732.3h0M360.2 722.6h0M266.3 809.3h0M319.3 651.3h0M312.9 924.2h0M254.9 819.8h0M353 692.6h0M378.4 672h0M323.4 704.4h0M371 636.4h0M370.4 799.6h0M339.9 839.1h0M302.3 750.5h0M382.1 666.6h0M246.2 679.1h0M252.4 835.4h0M316.5 668h0M158 876.2h0M159.7 659.2h0M163.1 627.3h0M160.8 648.1h0M158.7 883.8h0M162.8 924h0M166.9 596.5h0M161.3 643.4h0M162.4 633h0M177.6 574.8h0M169.3 634.2h0M159.7 814.8h0M168.1 909h0M173.5 951.7h0M167.5 903.5h0M171.8 938.9h0M162.2 849.9h0M172.1 884h0M171 679.7h0M174.4 903.8h0M185.6 981.5h0M176.1 636.4h0M170.3 867h0M171.7 880.4h0M165.3 744.2h0M170.4 685.2h0M171.8 738.5h0M174.4 844.7h0M190.3 589.9h0M179.3 888.4h0M181.4 649.3h0M174.6 707.1h0M200.1 976.8h0M183.2 865.6h0M188.1 651.1h0M182.9 863h0M191.7 927.3h0M182.8 691.5h0M180.6 843.1h0M193.9 940.7h0M186.1 717.5h0M200.5 937.1h0M199.7 932.6h0M197.2 917.1h0M201.6 943.3h0M197 638.2h0M195.7 646.1h0M203.6 954.8h0M198.2 630.8h0M208.5 612.6h0M204.1 916.5h0M190.5 821.5h0M204.8 633.6h0M206 927.5h0M192.2 835.2h0M193.3 710.1h0M201.4 856.3h0M206.1 666.7h0M197.3 726.5h0M201.6 695.7h0M206 667.7h0M212.5 924h0M219.9 961.6h0M195.9 815.5h0M214.3 933.2h0M201.7 814.3h0M227.2 960.9h0M212.2 883h0M215.3 653h0M201.8 738.8h0M222.2 616.9h0M203.5 827.1h0M212 672h0M210.5 720.7h0M217 872.5h0M232.2 949.8h0M225.8 634.6h0M213.7 700.6h0M238.9 574.7h0M229.3 936h0M208.2 817.4h0M207.2 742.9h0M218.2 842.2h0M242.7 590.6h0M244.2 969.4h0M219.1 706.3h0M237.3 613.9h0M213.3 742h0M228.6 898.6h0M219.6 703.4h0M240.9 923.9h0M220.4 735.3h0M236.6 903.8h0M251 966.4h0M237.8 644h0M244.4 938.9h0M219.6 813.8h0M270.6 1000.5h0M232.3 1000.5h0M194.3 1000.5h0M174.7 1000.5h0M278.6 1000.5h0M284.3 1000.5h0M286.2 1000.5h0M164.5 1000.5h0M185.2 1000.5h0M159.4 1000.5h0M155.1 1000.5h0M147.4 1000.5h0M170 1000.5h0M276.8 1000.5h0M239.1 1000.5h0M242.1 1000.5h0M124 643h0M121.5 647.5h0M124 905h0M145 562h0M145.5 772h0M146 781h0M409 1000h0" stroke="#D03232" stroke-width="4.3" stroke-linecap="round" fill="none"/>
<line x1="99.8" y1="734" x2="591.8" y2="734" stroke="#000" stroke-width="2.2" stroke-dasharray="12 9"/>
<line x1="99.8" y1="826.2" x2="591.8" y2="826.2" stroke="#000" stroke-width="2.2" stroke-dasharray="12 9"/>
<rect x="99.8" y="531.6" width="492" height="491.6" fill="none" stroke="#000" stroke-width="2.4"/>
<line x1="89.2" y1="955.8" x2="99.8" y2="955.8" stroke="#000" stroke-width="2.4"/>
<text x="86" y="965.4" font-size="27.5" text-anchor="end">-2</text>
<line x1="89.2" y1="866.4" x2="99.8" y2="866.4" stroke="#000" stroke-width="2.4"/>
<text x="86" y="876" font-size="27.5" text-anchor="end">-1</text>
<line x1="89.2" y1="776.9" x2="99.8" y2="776.9" stroke="#000" stroke-width="2.4"/>
<text x="86" y="786.5" font-size="27.5" text-anchor="end">0</text>
<line x1="89.2" y1="687.4" x2="99.8" y2="687.4" stroke="#000" stroke-width="2.4"/>
<text x="86" y="697" font-size="27.5" text-anchor="end">1</text>
<line x1="89.2" y1="598" x2="99.8" y2="598" stroke="#000" stroke-width="2.4"/>
<text x="86" y="607.6" font-size="27.5" text-anchor="end">2</text>
<line x1="169" y1="1023.2" x2="169" y2="1033" stroke="#000" stroke-width="2.4"/>
<text x="169" y="1060" font-size="28" text-anchor="middle">0</text>
<line x1="319.1" y1="1023.2" x2="319.1" y2="1033" stroke="#000" stroke-width="2.4"/>
<text x="319.1" y="1060" font-size="28" text-anchor="middle">2</text>
<line x1="469.2" y1="1023.2" x2="469.2" y2="1033" stroke="#000" stroke-width="2.4"/>
<text x="469.2" y="1060" font-size="28" text-anchor="middle">4</text>
<text x="321.5" y="1091" font-size="28" text-anchor="middle">log10(baseMean)</text>
<text x="47.3" y="779.8" font-size="28" text-anchor="middle" transform="rotate(-90 47.3 779.8)">log2FoldChange</text>
<text x="625.5" y="636.5" font-size="27.7" text-anchor="middle" transform="rotate(-90 625.5 636.5)">Up</text>
<text x="625.5" y="779.6" font-size="27.7" text-anchor="middle" transform="rotate(-90 625.5 779.6)">Stable</text>
<text x="625.5" y="922.7" font-size="27.7" text-anchor="middle" transform="rotate(-90 625.5 922.7)">Down</text>
<circle cx="345" cy="956.6" r="3.6" fill="#D03232"/>
<circle cx="345" cy="976.6" r="3.6" fill="#A9A9A9"/>
<text x="352.5" y="961.5" font-size="20">m<tspan font-size="13.6" dy="-7.6">6</tspan><tspan dy="7.6">A modified (5755)</tspan></text>
<text x="352.5" y="981.8" font-size="20">non-m<tspan font-size="13.6" dy="-7.6">6</tspan><tspan dy="7.6">A modified (26881)</tspan></text>
<text x="379.4" y="574.9" font-size="23" fill="#8C8C8C" font-style="italic">PSG3</text>
<line x1="342.8" y1="599.8" x2="377.8" y2="571.6" stroke="#8C8C8C" stroke-width="2"/>
<text x="427.7" y="611.5" font-size="23" fill="#8C8C8C" font-style="italic">SDC1</text>
<line x1="416" y1="639.8" x2="431" y2="616.5" stroke="#8C8C8C" stroke-width="2"/>
<text x="476" y="635.8" font-size="23" fill="#8C8C8C" font-style="italic">CGB5</text>
<line x1="431" y1="643.8" x2="474.3" y2="634.8" stroke="#8C8C8C" stroke-width="2"/>
<text x="492.6" y="669.7" font-size="23" fill="#8C8C8C" font-style="italic">CGA</text>
<line x1="489.3" y1="653.8" x2="494.3" y2="658" stroke="#8C8C8C" stroke-width="2"/>
<text x="472.6" y="706.4" font-size="23" fill="#8C8C8C" font-style="italic">ERVW-1</text>
<line x1="452.7" y1="713" x2="471" y2="701.4" stroke="#8C8C8C" stroke-width="2"/>
<text x="504.2" y="763" font-size="23" fill="#D03232" font-style="italic">GATA2</text>
<line x1="477.6" y1="774.6" x2="500.9" y2="758" stroke="#D03232" stroke-width="2"/>
<text x="497.6" y="795.6" font-size="23" fill="#D03232" font-style="italic">TFAP2C</text>
<line x1="452.7" y1="789.6" x2="496" y2="786.9" stroke="#D03232" stroke-width="2"/>
<text x="511" y="820.2" font-size="23" fill="#D03232" font-style="italic">TEAD1</text>
<line x1="472.6" y1="794.6" x2="511" y2="811.2" stroke="#D03232" stroke-width="2"/>
<text x="489.3" y="847.8" font-size="23" fill="#D03232" font-style="italic">TEAD4</text>
<line x1="452.7" y1="809.5" x2="487.6" y2="839.5" stroke="#D03232" stroke-width="2"/>
<text x="496" y="874.4" font-size="23" fill="#D03232" font-style="italic">PEG3</text>
<text x="500.9" y="906" font-size="23" fill="#D03232" font-style="italic">PEG10</text>
<text x="2.5" y="1118.7" font-size="41">e</text>
<line x1="78.5" y1="1155" x2="78.5" y2="1232.9" stroke="#000" stroke-width="2.7"/>
<line x1="78.5" y1="1270.5" x2="78.5" y2="1347.6" stroke="#000" stroke-width="2.7"/>
<text x="86.2" y="1174.9" font-size="28">Input</text>
<text x="86" y="1232.5" font-size="28">m<tspan font-size="19" dy="-10.1">6</tspan><tspan dy="10.1">A</tspan></text>
<text x="86.2" y="1290" font-size="28">Input</text>
<text x="86" y="1347.6" font-size="28">m<tspan font-size="19" dy="-10.1">6</tspan><tspan dy="10.1">A</tspan></text>
<text x="63.2" y="1247.7" font-size="28" transform="rotate(-90 63.2 1247.7)">P0(+DOX)</text>
<text x="63.2" y="1382" font-size="28" transform="rotate(-90 63.2 1382)">P2(-DOX)</text>
<rect x="158.7" y="1138.3" width="281" height="228.3" fill="#F9F9F9"/>
<rect x="158.7" y="1375.9" width="281" height="25.7" fill="#F9F9F9"/>
<path d="M253 1192.3V1190.8H258V1192.3ZM264 1192.3V1189.8H268V1192.3ZM268 1192.3V1188.8H272V1192.3ZM272 1192.3V1187.8H276V1192.3ZM276 1192.3V1187.3H279V1192.3ZM287 1192.3V1184.3H291.5V1192.3ZM320 1192.3V1188.3H323V1192.3ZM323 1192.3V1190.8H325V1192.3ZM349 1192.3V1189.3H361V1192.3ZM367 1192.3V1189.8H369.5V1192.3ZM369.5 1192.3V1190.8H372.5V1192.3Z" fill="#000000"/>
<path d="M253 1250.5V1246.5H259V1250.5ZM264.4 1250.5V1242.5H266V1250.5ZM266 1250.5V1235.7H269V1250.5ZM269 1250.5V1243.5H270V1250.5ZM270 1250.5V1203.3H275V1250.5ZM275 1250.5V1228.1H277V1250.5ZM277 1250.5V1236.9H279V1250.5ZM279 1250.5V1244.5H281.6V1250.5ZM287 1250.5V1243.7H291.5V1250.5ZM320 1250.5V1245.5H322V1250.5ZM322 1250.5V1248.5H324V1250.5ZM349 1250.5V1247.5H352V1250.5ZM352 1250.5V1246H358V1250.5ZM358 1250.5V1247.5H361.6V1250.5ZM367 1250.5V1247H372.8V1250.5Z" fill="#CC0000"/>
<path d="M253 1308.8V1307.3H258V1308.8ZM264 1308.8V1306.3H268V1308.8ZM268 1308.8V1305.3H272V1308.8ZM272 1308.8V1304.3H276V1308.8ZM276 1308.8V1303.8H279V1308.8ZM287 1308.8V1300.8H291.5V1308.8ZM320 1308.8V1304.8H323V1308.8ZM323 1308.8V1307.3H325V1308.8ZM349 1308.8V1305.8H361V1308.8ZM367 1308.8V1306.3H369.5V1308.8ZM369.5 1308.8V1307.3H372.5V1308.8Z" fill="#000000"/>
<path d="M253.9 1366.6V1364.5H258.8V1366.6ZM264.4 1366.6V1361.5H267.8V1366.6ZM267.8 1366.6V1351.7H271.5V1366.6ZM271.5 1366.6V1356.6H273V1366.6ZM273 1366.6V1355.9H275.5V1366.6ZM275.5 1366.6V1361.6H277V1366.6ZM287 1366.6V1352.5H291V1366.6ZM320 1366.6V1358.1H323V1366.6ZM349 1366.6V1358.1H358V1366.6ZM358 1366.6V1361.6H361V1366.6ZM367 1366.6V1360.4H372V1366.6ZM382 1366.6V1365.1H384V1366.6Z" fill="#0A0AA5"/>
<line x1="158.7" y1="1192.3" x2="439.7" y2="1192.3" stroke="#C6C6C6" stroke-width="2.2"/>
<line x1="158.7" y1="1250.5" x2="439.7" y2="1250.5" stroke="#C6C6C6" stroke-width="2.2"/>
<line x1="158.7" y1="1308.8" x2="439.7" y2="1308.8" stroke="#C6C6C6" stroke-width="2.2"/>
<line x1="158.7" y1="1366.6" x2="439.7" y2="1366.6" stroke="#2424D0" stroke-width="2.2"/>
<line x1="158.7" y1="1373.9" x2="439.7" y2="1373.9" stroke="#8A8A8A" stroke-width="3.2"/>
<line x1="158.7" y1="1375.1" x2="439.7" y2="1375.1" stroke="#5A5A5A" stroke-width="1.2"/>
<text x="163.9" y="1155.8" font-size="19.5">[0-200]</text>
<text x="163.9" y="1212.3" font-size="19.5">[0-200]</text>
<text x="163.9" y="1270.5" font-size="19.5">[0-200]</text>
<text x="163.9" y="1328.8" font-size="19.5">[0-200]</text>
<line x1="249.5" y1="1391.3" x2="383.5" y2="1391.3" stroke="#2A2AD8" stroke-width="1.8"/><rect x="249.5" y="1385.5" width="25.3" height="11.5" fill="#0000B0"/><rect x="274.8" y="1381.3" width="5.8" height="20" fill="#0000B0"/><rect x="288" y="1381.3" width="2" height="20" fill="#0000B0"/><rect x="321.3" y="1381.3" width="1.7" height="20" fill="#0000B0"/><rect x="350.7" y="1381.3" width="9.3" height="20" fill="#0000B0"/><rect x="366.8" y="1381.3" width="3.5" height="20" fill="#0000B0"/><rect x="382.3" y="1385.5" width="1.7" height="11.5" fill="#0000B0"/><path d="M310.7 1386.8L306.2 1391.3L310.7 1395.8" fill="none" stroke="#2A2AD8" stroke-width="1.5"/><path d="M345.2 1386.8L340.7 1391.3L345.2 1395.8" fill="none" stroke="#2A2AD8" stroke-width="1.5"/>
<rect x="454" y="1138.3" width="395.2" height="228.3" fill="#F9F9F9"/>
<rect x="454" y="1375.9" width="395.2" height="25.7" fill="#F9F9F9"/>
<path d="M543.8 1192.3V1188.3H547V1192.3ZM547 1192.3V1185.5H551.6V1192.3ZM588.8 1192.3V1189.3H596V1192.3ZM596 1192.3V1188.3H603V1192.3ZM603 1192.3V1189.8H609V1192.3ZM641.5 1192.3V1186.3H645V1192.3ZM645 1192.3V1189.3H648.3V1192.3ZM660 1192.3V1186.8H662V1192.3ZM662 1192.3V1190.3H666.3V1192.3ZM720.5 1192.3V1189.8H728.3V1192.3ZM747 1192.3V1188.3H752V1192.3ZM752 1192.3V1186.3H758V1192.3ZM758 1192.3V1189.8H765.5V1192.3ZM776 1192.3V1191.3H779V1192.3Z" fill="#000000"/>
<path d="M543.8 1250.5V1242.5H545V1250.5ZM545 1250.5V1233.5H549V1250.5ZM549 1250.5V1240.5H551.6V1250.5ZM588.8 1250.5V1247H596V1250.5ZM596 1250.5V1245.5H600V1250.5ZM600 1250.5V1243.7H604V1250.5ZM604 1250.5V1247.5H609V1250.5ZM641.5 1250.5V1246.5H644V1250.5ZM644 1250.5V1243.5H647V1250.5ZM647 1250.5V1247.5H648.3V1250.5ZM660 1250.5V1246.5H666.3V1250.5ZM720.5 1250.5V1246.5H723V1250.5ZM723 1250.5V1243.5H727V1250.5ZM727 1250.5V1246.5H728.3V1250.5ZM747 1250.5V1225.5H749V1250.5ZM749 1250.5V1210.5H752V1250.5ZM752 1250.5V1204H758V1250.5ZM758 1250.5V1210.5H761V1250.5ZM761 1250.5V1230.5H763V1250.5Z" fill="#CC0000"/>
<path d="M543.8 1308.8V1304.8H547V1308.8ZM547 1308.8V1302H551.6V1308.8ZM588.8 1308.8V1305.8H596V1308.8ZM596 1308.8V1304.8H603V1308.8ZM603 1308.8V1306.3H609V1308.8ZM641.5 1308.8V1302.8H645V1308.8ZM645 1308.8V1305.8H648.3V1308.8ZM660 1308.8V1303.3H662V1308.8ZM662 1308.8V1306.8H666.3V1308.8ZM720.5 1308.8V1306.3H728.3V1308.8ZM747 1308.8V1304.8H752V1308.8ZM752 1308.8V1302.8H758V1308.8ZM758 1308.8V1306.3H765.5V1308.8ZM776 1308.8V1307.8H779V1308.8Z" fill="#000000"/>
<path d="M543.8 1366.6V1351.6H546V1366.6ZM546 1366.6V1347.6H549V1366.6ZM549 1366.6V1356.6H551.6V1366.6ZM565.5 1366.6V1364.6H573V1366.6ZM578 1366.6V1364.6H584V1366.6ZM588.8 1366.6V1355.6H592V1366.6ZM592 1366.6V1358.6H596V1366.6ZM596 1366.6V1362.6H600V1366.6ZM600 1366.6V1363.6H609V1366.6ZM641.5 1366.6V1364.6H648.3V1366.6ZM660 1366.6V1364.6H666.3V1366.6ZM720.5 1366.6V1363.6H728.3V1366.6ZM748 1366.6V1358.6H751V1366.6ZM751 1366.6V1351.6H755V1366.6ZM755 1366.6V1353.6H758V1366.6ZM758 1366.6V1361.6H762V1366.6Z" fill="#0A0AA5"/>
<line x1="454" y1="1192.3" x2="849.2" y2="1192.3" stroke="#C6C6C6" stroke-width="2.2"/>
<line x1="454" y1="1250.5" x2="849.2" y2="1250.5" stroke="#C6C6C6" stroke-width="2.2"/>
<line x1="454" y1="1308.8" x2="849.2" y2="1308.8" stroke="#C6C6C6" stroke-width="2.2"/>
<line x1="454" y1="1366.6" x2="849.2" y2="1366.6" stroke="#2424D0" stroke-width="2.2"/>
<line x1="454" y1="1373.9" x2="849.2" y2="1373.9" stroke="#8A8A8A" stroke-width="3.2"/>
<line x1="454" y1="1375.1" x2="849.2" y2="1375.1" stroke="#5A5A5A" stroke-width="1.2"/>
<text x="459.2" y="1155.8" font-size="19.5">[0-50]</text>
<text x="459.2" y="1212.3" font-size="19.5">[0-50]</text>
<text x="459.2" y="1270.5" font-size="19.5">[0-50]</text>
<text x="459.2" y="1328.8" font-size="19.5">[0-50]</text>
<line x1="543.8" y1="1391.3" x2="786.6" y2="1391.3" stroke="#2A2AD8" stroke-width="1.8"/><rect x="543.8" y="1385.5" width="2.7" height="11.5" fill="#0000B0"/><rect x="546.5" y="1381.3" width="4.5" height="20" fill="#0000B0"/><rect x="589.7" y="1381.3" width="11.5" height="20" fill="#0000B0"/><rect x="603.7" y="1381.3" width="2.1" height="20" fill="#0000B0"/><rect x="642" y="1381.3" width="4" height="20" fill="#0000B0"/><rect x="660.7" y="1381.3" width="3.1" height="20" fill="#0000B0"/><rect x="720.5" y="1381.3" width="3.1" height="20" fill="#0000B0"/><rect x="748.4" y="1381.3" width="6.2" height="20" fill="#0000B0"/><rect x="754.6" y="1385.5" width="32" height="11.5" fill="#0000B0"/><path d="M561.5 1386.8L566 1391.3L561.5 1395.8" fill="none" stroke="#2A2AD8" stroke-width="1.5"/><path d="M617.3 1386.8L621.8 1391.3L617.3 1395.8" fill="none" stroke="#2A2AD8" stroke-width="1.5"/><path d="M676.2 1386.8L680.7 1391.3L676.2 1395.8" fill="none" stroke="#2A2AD8" stroke-width="1.5"/><path d="M708.7 1386.8L713.2 1391.3L708.7 1395.8" fill="none" stroke="#2A2AD8" stroke-width="1.5"/><path d="M736.6 1386.8L741.1 1391.3L736.6 1395.8" fill="none" stroke="#2A2AD8" stroke-width="1.5"/>
<rect x="862.2" y="1138.3" width="324.3" height="228.3" fill="#F9F9F9"/>
<rect x="862.2" y="1375.9" width="324.3" height="25.7" fill="#F9F9F9"/>
<path d="M972.5 1192.3V1190.3H976.3V1192.3ZM984 1192.3V1189.3H990V1192.3ZM990 1192.3V1189.8H1000V1192.3ZM1005 1192.3V1189.3H1015V1192.3ZM1040 1192.3V1190.8H1044V1192.3ZM1048 1192.3V1190.8H1052V1192.3ZM1055 1192.3V1190.3H1060V1192.3ZM1118 1192.3V1190.8H1120V1192.3ZM1136 1192.3V1188.8H1139V1192.3ZM1167 1192.3V1189.8H1170V1192.3Z" fill="#000000"/>
<path d="M972.5 1250.5V1242.8H976.3V1250.5ZM984 1250.5V1240.5H986V1250.5ZM986 1250.5V1222.5H988V1250.5ZM988 1250.5V1230.5H990V1250.5ZM990 1250.5V1216.5H992V1250.5ZM992 1250.5V1235.5H995V1250.5ZM995 1250.5V1245.5H1000V1250.5ZM1003 1250.5V1244.5H1006V1250.5ZM1006 1250.5V1238.5H1010V1250.5ZM1010 1250.5V1208H1012V1250.5ZM1012 1250.5V1240.5H1015V1250.5ZM1015 1250.5V1245.5H1017V1250.5ZM1019 1250.5V1247.5H1021V1250.5ZM1040 1250.5V1247.5H1044V1250.5ZM1047 1250.5V1246.5H1050V1250.5ZM1052 1250.5V1246.5H1056V1250.5ZM1057 1250.5V1245.5H1060V1250.5ZM1116.6 1250.5V1246.5H1120V1250.5ZM1136 1250.5V1242.5H1139V1250.5ZM1166 1250.5V1240.5H1169.6V1250.5Z" fill="#CC0000"/>
<path d="M972.5 1308.8V1306.8H976.3V1308.8ZM984 1308.8V1305.8H990V1308.8ZM990 1308.8V1306.3H1000V1308.8ZM1005 1308.8V1305.8H1015V1308.8ZM1040 1308.8V1307.3H1044V1308.8ZM1048 1308.8V1307.3H1052V1308.8ZM1055 1308.8V1306.8H1060V1308.8ZM1118 1308.8V1307.3H1120V1308.8ZM1136 1308.8V1305.3H1139V1308.8ZM1167 1308.8V1306.3H1170V1308.8Z" fill="#000000"/>
<path d="M972.5 1366.6V1361.3H976.3V1366.6ZM985 1366.6V1360.6H990V1366.6ZM990 1366.6V1357.6H993V1366.6ZM993 1366.6V1362.6H996V1366.6ZM1005 1366.6V1363.6H1010V1366.6ZM1010 1366.6V1357.6H1013V1366.6ZM1013 1366.6V1363.6H1016V1366.6ZM1040 1366.6V1364.6H1060V1366.6ZM1117 1366.6V1364.6H1120V1366.6ZM1136 1366.6V1362.6H1139V1366.6ZM1166 1366.6V1362.6H1169.6V1366.6Z" fill="#0A0AA5"/>
<line x1="862.2" y1="1192.3" x2="1186.5" y2="1192.3" stroke="#C6C6C6" stroke-width="2.2"/>
<line x1="862.2" y1="1250.5" x2="1186.5" y2="1250.5" stroke="#C6C6C6" stroke-width="2.2"/>
<line x1="862.2" y1="1308.8" x2="1186.5" y2="1308.8" stroke="#C6C6C6" stroke-width="2.2"/>
<line x1="862.2" y1="1366.6" x2="1186.5" y2="1366.6" stroke="#2424D0" stroke-width="2.2"/>
<line x1="862.2" y1="1373.9" x2="1186.5" y2="1373.9" stroke="#8A8A8A" stroke-width="3.2"/>
<line x1="862.2" y1="1375.1" x2="1186.5" y2="1375.1" stroke="#5A5A5A" stroke-width="1.2"/>
<text x="867.4" y="1155.8" font-size="19.5">[0-300]</text>
<text x="867.4" y="1212.3" font-size="19.5">[0-300]</text>
<text x="867.4" y="1270.5" font-size="19.5">[0-300]</text>
<text x="867.4" y="1328.8" font-size="19.5">[0-300]</text>
<line x1="962.3" y1="1391.3" x2="1186.5" y2="1391.3" stroke="#2A2AD8" stroke-width="1.8"/><rect x="962.3" y="1385.5" width="24.8" height="11.5" fill="#0000B0"/><rect x="987.1" y="1381.3" width="24.9" height="20" fill="#0000B0"/><rect x="1013" y="1381.3" width="1.6" height="20" fill="#0000B0"/><rect x="1015.6" y="1381.3" width="1.6" height="20" fill="#0000B0"/><rect x="1019" y="1381.3" width="1.6" height="20" fill="#0000B0"/><rect x="1040.5" y="1381.3" width="1.6" height="20" fill="#0000B0"/><rect x="1044" y="1381.3" width="1.6" height="20" fill="#0000B0"/><rect x="1047.5" y="1381.3" width="1.6" height="20" fill="#0000B0"/><rect x="1051" y="1381.3" width="1.6" height="20" fill="#0000B0"/><rect x="1054" y="1381.3" width="1.6" height="20" fill="#0000B0"/><rect x="1057" y="1381.3" width="1.6" height="20" fill="#0000B0"/><rect x="1119" y="1381.3" width="2" height="20" fill="#0000B0"/><rect x="1167" y="1381.3" width="1.6" height="20" fill="#0000B0"/><rect x="1169.6" y="1381.3" width="3.9" height="20" fill="#0000B0"/><path d="M1033.5 1386.8L1029 1391.3L1033.5 1395.8" fill="none" stroke="#2A2AD8" stroke-width="1.5"/><path d="M1093.1 1386.8L1088.6 1391.3L1093.1 1395.8" fill="none" stroke="#2A2AD8" stroke-width="1.5"/><path d="M1158.1 1386.8L1153.6 1391.3L1158.1 1395.8" fill="none" stroke="#2A2AD8" stroke-width="1.5"/>
<rect x="1199.5" y="1138.3" width="431.3" height="228.3" fill="#F9F9F9"/>
<rect x="1199.5" y="1375.9" width="431.3" height="25.7" fill="#F9F9F9"/>
<path d="M1286.6 1192.3V1189.3H1289V1192.3ZM1289 1192.3V1186.8H1292V1192.3ZM1423 1192.3V1188.3H1430V1192.3ZM1430 1192.3V1187.3H1437V1192.3ZM1437 1192.3V1186.3H1440V1192.3ZM1440 1192.3V1188.3H1450V1192.3ZM1450 1192.3V1189.3H1462V1192.3ZM1462 1192.3V1190.3H1472.5V1192.3ZM1479 1192.3V1190.3H1485.6V1192.3ZM1493.6 1192.3V1190.3H1501.7V1192.3ZM1516 1192.3V1190.8H1518V1192.3ZM1524.5 1192.3V1189.3H1542.4V1192.3Z" fill="#000000"/>
<path d="M1286.6 1250.5V1242.5H1289V1250.5ZM1289 1250.5V1237.5H1292V1250.5ZM1423 1250.5V1230.5H1425V1250.5ZM1425 1250.5V1221.9H1429V1250.5ZM1429 1250.5V1235.5H1433.5V1250.5ZM1433.5 1250.5V1247.5H1450V1250.5ZM1450 1250.5V1242.5H1454V1250.5ZM1454 1250.5V1246.5H1460V1250.5ZM1460 1250.5V1242.5H1464V1250.5ZM1464 1250.5V1240.5H1470V1250.5ZM1470 1250.5V1220.5H1472V1250.5ZM1472 1250.5V1204.5H1475V1250.5ZM1475 1250.5V1240.5H1479V1250.5ZM1479 1250.5V1232.5H1482V1250.5ZM1482 1250.5V1238.5H1486V1250.5ZM1486 1250.5V1245.5H1490V1250.5ZM1490 1250.5V1220.5H1494V1250.5ZM1494 1250.5V1213.5H1498V1250.5ZM1498 1250.5V1220.5H1502V1250.5ZM1502 1250.5V1235.5H1504V1250.5ZM1516 1250.5V1248.5H1521V1250.5ZM1526 1250.5V1248.5H1531V1250.5Z" fill="#CC0000"/>
<path d="M1286.6 1308.8V1304.8H1292V1308.8ZM1423 1308.8V1304.8H1472V1308.8ZM1479 1308.8V1306.8H1485V1308.8ZM1493 1308.8V1306.8H1501V1308.8ZM1524 1308.8V1306.3H1537V1308.8Z" fill="#000000"/>
<path d="M1286.6 1366.6V1356.6H1289V1366.6ZM1289 1366.6V1350.6H1292V1366.6ZM1423 1366.6V1351.6H1426V1366.6ZM1426 1366.6V1348.1H1429V1366.6ZM1429 1366.6V1358.6H1434V1366.6ZM1434 1366.6V1363.6H1448V1366.6ZM1448 1366.6V1361.6H1458V1366.6ZM1460 1366.6V1358.6H1470V1366.6ZM1470 1366.6V1340.9H1475V1366.6ZM1475 1366.6V1359.6H1486V1366.6ZM1490 1366.6V1351.6H1494V1366.6ZM1494 1366.6V1346.6H1499V1366.6ZM1499 1366.6V1354.6H1504V1366.6ZM1524 1366.6V1364.6H1528V1366.6Z" fill="#0A0AA5"/>
<line x1="1199.5" y1="1192.3" x2="1630.8" y2="1192.3" stroke="#C6C6C6" stroke-width="2.2"/>
<line x1="1199.5" y1="1250.5" x2="1630.8" y2="1250.5" stroke="#C6C6C6" stroke-width="2.2"/>
<line x1="1199.5" y1="1308.8" x2="1630.8" y2="1308.8" stroke="#C6C6C6" stroke-width="2.2"/>
<line x1="1199.5" y1="1366.6" x2="1630.8" y2="1366.6" stroke="#2424D0" stroke-width="2.2"/>
<line x1="1199.5" y1="1373.9" x2="1630.8" y2="1373.9" stroke="#8A8A8A" stroke-width="3.2"/>
<line x1="1199.5" y1="1375.1" x2="1630.8" y2="1375.1" stroke="#5A5A5A" stroke-width="1.2"/>
<text x="1204.7" y="1155.8" font-size="19.5">[0-300]</text>
<text x="1204.7" y="1212.3" font-size="19.5">[0-300]</text>
<text x="1204.7" y="1270.5" font-size="19.5">[0-300]</text>
<text x="1204.7" y="1328.8" font-size="19.5">[0-300]</text>
<line x1="1286.6" y1="1391.3" x2="1549.8" y2="1391.3" stroke="#2A2AD8" stroke-width="1.8"/><rect x="1286.6" y="1381.3" width="4.4" height="20" fill="#0000B0"/><rect x="1423.8" y="1385.5" width="4.8" height="11.5" fill="#0000B0"/><rect x="1428.6" y="1381.3" width="42.3" height="20" fill="#0000B0"/><rect x="1470.9" y="1385.5" width="78.9" height="11.5" fill="#0000B0"/><path d="M1304.2 1386.8L1308.7 1391.3L1304.2 1395.8" fill="none" stroke="#2A2AD8" stroke-width="1.5"/><path d="M1336.7 1386.8L1341.2 1391.3L1336.7 1395.8" fill="none" stroke="#2A2AD8" stroke-width="1.5"/><path d="M1369.2 1386.8L1373.7 1391.3L1369.2 1395.8" fill="none" stroke="#2A2AD8" stroke-width="1.5"/><path d="M1401.7 1386.8L1406.2 1391.3L1401.7 1395.8" fill="none" stroke="#2A2AD8" stroke-width="1.5"/>
<text x="319.7" y="1435.5" font-size="27.5" text-anchor="middle" font-style="italic">GATA2</text>
<text x="658.5" y="1435.5" font-size="27.5" text-anchor="middle" font-style="italic">TFAP2C</text>
<text x="1078" y="1435.5" font-size="27.5" text-anchor="middle" font-style="italic">PEG3</text>
<text x="1400.2" y="1435.5" font-size="27.5" text-anchor="middle" font-style="italic">PEG10</text>
<text x="677.5" y="616.2" font-size="41">f</text>
<circle cx="795.8" cy="637.8" r="6.4" fill="#A9A9A9"/><circle cx="776.9" cy="698.6" r="6.4" fill="#A9A9A9"/><circle cx="808.6" cy="728.3" r="6.4" fill="#A9A9A9"/><circle cx="816.5" cy="692.9" r="6.4" fill="#A9A9A9"/><circle cx="833.2" cy="709.3" r="6.4" fill="#A9A9A9"/><circle cx="836.9" cy="694.3" r="6.4" fill="#A9A9A9"/><circle cx="841.1" cy="729.7" r="6.4" fill="#A9A9A9"/><circle cx="839.7" cy="733.9" r="6.4" fill="#A9A9A9"/><circle cx="853.8" cy="670.3" r="6.4" fill="#A9A9A9"/><circle cx="858.1" cy="719.8" r="6.4" fill="#A9A9A9"/><circle cx="864.6" cy="691.5" r="6.4" fill="#A9A9A9"/><circle cx="852.4" cy="742.4" r="6.4" fill="#A9A9A9"/><circle cx="852.4" cy="750" r="6.4" fill="#A9A9A9"/><circle cx="868" cy="757.1" r="6.4" fill="#A9A9A9"/><circle cx="871.6" cy="736.8" r="6.4" fill="#A9A9A9"/><circle cx="883.5" cy="673.1" r="6.4" fill="#A9A9A9"/><circle cx="889.2" cy="669.7" r="6.4" fill="#A9A9A9"/><circle cx="889.2" cy="680.2" r="6.4" fill="#A9A9A9"/><circle cx="893.4" cy="691.5" r="6.4" fill="#A9A9A9"/><circle cx="893.4" cy="697.7" r="6.4" fill="#A9A9A9"/><circle cx="897.7" cy="690.1" r="6.4" fill="#A9A9A9"/><circle cx="886.3" cy="731.1" r="6.4" fill="#A9A9A9"/><circle cx="894.8" cy="733.9" r="6.4" fill="#A9A9A9"/><circle cx="898.5" cy="738.2" r="6.4" fill="#A9A9A9"/><circle cx="901.9" cy="750.9" r="6.4" fill="#A9A9A9"/><circle cx="906.1" cy="750" r="6.4" fill="#A9A9A9"/><circle cx="900.5" cy="637.8" r="6.4" fill="#A9A9A9"/><circle cx="898.5" cy="644.8" r="6.4" fill="#A9A9A9"/><circle cx="918.9" cy="679.6" r="6.4" fill="#A9A9A9"/><circle cx="913.8" cy="700" r="6.4" fill="#A9A9A9"/><circle cx="925.9" cy="702.8" r="6.4" fill="#A9A9A9"/><circle cx="933" cy="712.7" r="6.4" fill="#A9A9A9"/><circle cx="914.6" cy="723.5" r="6.4" fill="#A9A9A9"/><circle cx="916" cy="726.9" r="6.4" fill="#A9A9A9"/><circle cx="923.1" cy="738.2" r="6.4" fill="#A9A9A9"/><circle cx="928.8" cy="722.6" r="6.4" fill="#A9A9A9"/><circle cx="934.4" cy="745.2" r="6.4" fill="#A9A9A9"/><circle cx="937.3" cy="680.2" r="6.4" fill="#A9A9A9"/><circle cx="942.9" cy="729.7" r="6.4" fill="#A9A9A9"/><circle cx="945.7" cy="728.3" r="6.4" fill="#A9A9A9"/><circle cx="958.5" cy="636.4" r="6.4" fill="#A9A9A9"/><circle cx="959.3" cy="685.8" r="6.4" fill="#A9A9A9"/><circle cx="957" cy="714.1" r="6.4" fill="#A9A9A9"/><circle cx="964.1" cy="758" r="6.4" fill="#A9A9A9"/><circle cx="952.8" cy="752.3" r="6.4" fill="#A9A9A9"/><circle cx="947.1" cy="745.2" r="6.4" fill="#A9A9A9"/><circle cx="948.6" cy="767.9" r="6.4" fill="#A9A9A9"/><circle cx="966.9" cy="729.7" r="6.4" fill="#A9A9A9"/><circle cx="971.2" cy="715.5" r="6.4" fill="#A9A9A9"/><circle cx="974" cy="712.7" r="6.4" fill="#A9A9A9"/><circle cx="975.4" cy="732.5" r="6.4" fill="#A9A9A9"/><circle cx="972.6" cy="746.7" r="6.4" fill="#A9A9A9"/><circle cx="974" cy="755.1" r="6.4" fill="#A9A9A9"/><circle cx="979.7" cy="697.2" r="6.4" fill="#A9A9A9"/><circle cx="978.3" cy="733.9" r="6.4" fill="#A9A9A9"/><circle cx="981.1" cy="770.7" r="6.4" fill="#A9A9A9"/><circle cx="986.7" cy="714.1" r="6.4" fill="#A9A9A9"/><circle cx="989.6" cy="700.6" r="6.4" fill="#A9A9A9"/><circle cx="988.2" cy="726.9" r="6.4" fill="#A9A9A9"/><circle cx="1002.3" cy="698.6" r="6.4" fill="#A9A9A9"/><circle cx="1010.8" cy="715" r="6.4" fill="#A9A9A9"/><circle cx="1013.6" cy="732.5" r="6.4" fill="#A9A9A9"/><circle cx="1016.4" cy="738.2" r="6.4" fill="#A9A9A9"/><circle cx="1013.6" cy="755.1" r="6.4" fill="#A9A9A9"/><circle cx="1020.7" cy="717" r="6.4" fill="#A9A9A9"/><circle cx="1020.7" cy="767.9" r="6.4" fill="#A9A9A9"/><circle cx="1016.4" cy="649.9" r="6.4" fill="#A9A9A9"/><circle cx="1029.2" cy="752.3" r="6.4" fill="#A9A9A9"/><circle cx="1034.8" cy="707.1" r="6.4" fill="#A9A9A9"/><circle cx="1039.1" cy="697.2" r="6.4" fill="#A9A9A9"/><circle cx="1044.7" cy="688.7" r="6.4" fill="#A9A9A9"/><circle cx="1039.1" cy="741" r="6.4" fill="#A9A9A9"/><circle cx="1040.5" cy="762.2" r="6.4" fill="#A9A9A9"/><circle cx="1049" cy="750.9" r="6.4" fill="#A9A9A9"/><circle cx="1053.2" cy="698.6" r="6.4" fill="#A9A9A9"/><circle cx="1058.9" cy="766.4" r="6.4" fill="#A9A9A9"/><circle cx="1106.9" cy="706.2" r="6.4" fill="#A9A9A9"/><circle cx="1008" cy="767.9" r="6.4" fill="#A9A9A9"/><circle cx="1006.5" cy="774.9" r="6.4" fill="#A9A9A9"/><circle cx="1002.3" cy="780.6" r="6.4" fill="#A9A9A9"/><circle cx="995.2" cy="786.2" r="6.4" fill="#A9A9A9"/><circle cx="991" cy="784.8" r="6.4" fill="#A9A9A9"/><circle cx="998.1" cy="786.2" r="6.4" fill="#A9A9A9"/><circle cx="1003.7" cy="800.4" r="6.4" fill="#A9A9A9"/><circle cx="1010.2" cy="817.4" r="6.4" fill="#A9A9A9"/><circle cx="1020.7" cy="803.2" r="6.4" fill="#A9A9A9"/><circle cx="1027.7" cy="808.9" r="6.4" fill="#A9A9A9"/><circle cx="1034.8" cy="814.5" r="6.4" fill="#A9A9A9"/><circle cx="1040.5" cy="817.4" r="6.4" fill="#A9A9A9"/><circle cx="1040.5" cy="808.9" r="6.4" fill="#A9A9A9"/><circle cx="1039.1" cy="794.7" r="6.4" fill="#A9A9A9"/><circle cx="1039.1" cy="774.9" r="6.4" fill="#A9A9A9"/><circle cx="1046.1" cy="783.4" r="6.4" fill="#A9A9A9"/><circle cx="983.9" cy="803.2" r="6.4" fill="#A9A9A9"/><circle cx="979.7" cy="791.9" r="6.4" fill="#A9A9A9"/><circle cx="969.8" cy="786.2" r="6.4" fill="#A9A9A9"/><circle cx="966.9" cy="790.5" r="6.4" fill="#A9A9A9"/><circle cx="952.8" cy="791.9" r="6.4" fill="#A9A9A9"/><circle cx="950" cy="779.2" r="6.4" fill="#A9A9A9"/><circle cx="948.6" cy="810.3" r="6.4" fill="#A9A9A9"/><circle cx="945.7" cy="793.3" r="6.4" fill="#A9A9A9"/><circle cx="935.8" cy="780.6" r="6.4" fill="#A9A9A9"/><circle cx="940.1" cy="779.2" r="6.4" fill="#A9A9A9"/><circle cx="923.1" cy="786.2" r="6.4" fill="#A9A9A9"/><circle cx="920.3" cy="784.8" r="6.4" fill="#A9A9A9"/><circle cx="921.7" cy="790.5" r="6.4" fill="#A9A9A9"/><circle cx="917.5" cy="811.7" r="6.4" fill="#A9A9A9"/><circle cx="916" cy="772.1" r="6.4" fill="#A9A9A9"/><circle cx="918.9" cy="772.1" r="6.4" fill="#A9A9A9"/><circle cx="866.5" cy="780.6" r="6.4" fill="#A9A9A9"/><circle cx="868" cy="790.5" r="6.4" fill="#A9A9A9"/><circle cx="880.7" cy="776.3" r="6.4" fill="#A9A9A9"/><circle cx="877.3" cy="817.4" r="6.4" fill="#A9A9A9"/><circle cx="887.2" cy="815.9" r="6.4" fill="#A9A9A9"/><circle cx="888.3" cy="831.5" r="6.4" fill="#A9A9A9"/><circle cx="904.7" cy="842.2" r="6.4" fill="#A9A9A9"/><circle cx="862.3" cy="827.3" r="6.4" fill="#A9A9A9"/><circle cx="862.3" cy="832.9" r="6.4" fill="#A9A9A9"/><circle cx="878.7" cy="840" r="6.4" fill="#A9A9A9"/><circle cx="851" cy="875.3" r="6.4" fill="#A9A9A9"/><circle cx="889.2" cy="872.5" r="6.4" fill="#A9A9A9"/><circle cx="887.2" cy="881" r="6.4" fill="#A9A9A9"/><circle cx="836.9" cy="905" r="6.4" fill="#A9A9A9"/><circle cx="776.1" cy="895.1" r="6.4" fill="#A9A9A9"/><circle cx="795.8" cy="961.6" r="6.4" fill="#A9A9A9"/><circle cx="808.6" cy="967.2" r="6.4" fill="#A9A9A9"/><circle cx="817.1" cy="967.2" r="6.4" fill="#A9A9A9"/><circle cx="824.1" cy="967.2" r="6.4" fill="#A9A9A9"/><circle cx="834" cy="967.2" r="6.4" fill="#A9A9A9"/><circle cx="839.7" cy="967.2" r="6.4" fill="#A9A9A9"/><circle cx="845.3" cy="967.2" r="6.4" fill="#A9A9A9"/><circle cx="868" cy="967.2" r="6.4" fill="#A9A9A9"/><circle cx="873.6" cy="967.2" r="6.4" fill="#A9A9A9"/><circle cx="879.3" cy="967.2" r="6.4" fill="#A9A9A9"/><circle cx="884.9" cy="967.2" r="6.4" fill="#A9A9A9"/><circle cx="944.3" cy="966.7" r="6.4" fill="#A9A9A9"/><circle cx="983.9" cy="769.3" r="6.4" fill="#A9A9A9"/><circle cx="995.2" cy="763.6" r="6.4" fill="#A9A9A9"/><circle cx="992.4" cy="766.4" r="6.4" fill="#A9A9A9"/><circle cx="1019.3" cy="777.8" r="6.4" fill="#A9A9A9"/><circle cx="1009.4" cy="769.3" r="6.4" fill="#A9A9A9"/><circle cx="1029.2" cy="774.9" r="6.4" fill="#A9A9A9"/><circle cx="1032" cy="763.6" r="6.4" fill="#A9A9A9"/><circle cx="952.8" cy="724" r="6.4" fill="#A9A9A9"/><circle cx="955.6" cy="729.7" r="6.4" fill="#A9A9A9"/><circle cx="935.8" cy="729.7" r="6.4" fill="#A9A9A9"/><circle cx="938.7" cy="735.3" r="6.4" fill="#A9A9A9"/><circle cx="981.1" cy="729.7" r="6.4" fill="#A9A9A9"/><circle cx="983.9" cy="741" r="6.4" fill="#A9A9A9"/><circle cx="1026.3" cy="763.6" r="6.4" fill="#A9A9A9"/><circle cx="1024.9" cy="758" r="6.4" fill="#A9A9A9"/><circle cx="1009.4" cy="718.4" r="6.4" fill="#A9A9A9"/><circle cx="992.4" cy="718.4" r="6.4" fill="#A9A9A9"/><circle cx="989.6" cy="707.1" r="6.4" fill="#A9A9A9"/><circle cx="975.4" cy="724" r="6.4" fill="#A9A9A9"/><circle cx="972.6" cy="738.2" r="6.4" fill="#A9A9A9"/>
<circle cx="926.8" cy="665.2" r="6.4" fill="#D03333"/><circle cx="948.6" cy="715" r="6.4" fill="#D03333"/><circle cx="974" cy="723.5" r="6.4" fill="#D03333"/><circle cx="983.9" cy="721.2" r="6.4" fill="#D03333"/><circle cx="996.6" cy="726.9" r="6.4" fill="#D03333"/><circle cx="1006.5" cy="745.2" r="6.4" fill="#D03333"/><circle cx="1022.1" cy="735.3" r="6.4" fill="#D03333"/><circle cx="1027.7" cy="741" r="6.4" fill="#D03333"/><circle cx="1039.1" cy="731.1" r="6.4" fill="#D03333"/><circle cx="1049" cy="753.7" r="6.4" fill="#D03333"/><circle cx="1063.1" cy="752.3" r="6.4" fill="#D03333"/><circle cx="1056" cy="752.3" r="6.4" fill="#D03333"/><circle cx="897.7" cy="759.9" r="6.4" fill="#D03333"/><circle cx="920.3" cy="755.1" r="6.4" fill="#D03333"/><circle cx="933" cy="757.4" r="6.4" fill="#D03333"/><circle cx="985.3" cy="762.2" r="6.4" fill="#D03333"/><circle cx="1016.4" cy="767.9" r="6.4" fill="#D03333"/><circle cx="1008" cy="774.9" r="6.4" fill="#D03333"/><circle cx="948.6" cy="783.4" r="6.4" fill="#D03333"/><circle cx="996.6" cy="806" r="6.4" fill="#D03333"/><circle cx="1009.4" cy="801.8" r="6.4" fill="#D03333"/><circle cx="1020.7" cy="799" r="6.4" fill="#D03333"/><circle cx="1033.4" cy="799" r="6.4" fill="#D03333"/><circle cx="1023.5" cy="820.2" r="6.4" fill="#D03333"/><circle cx="1056" cy="810.3" r="6.4" fill="#D03333"/><circle cx="1064.5" cy="799.8" r="6.4" fill="#D03333"/><circle cx="1087.1" cy="799.8" r="6.4" fill="#D03333"/><circle cx="979.7" cy="849" r="6.4" fill="#D03333"/><circle cx="1023.5" cy="891.4" r="6.4" fill="#D03333"/><circle cx="961.3" cy="791.9" r="6.4" fill="#D03333"/><circle cx="1022.1" cy="766.4" r="6.4" fill="#D03333"/>
<line x1="759.9" y1="768.4" x2="1123.9" y2="768.4" stroke="#000" stroke-width="2.2" stroke-dasharray="16 8.5"/>
<line x1="759.9" y1="828.7" x2="1123.9" y2="828.7" stroke="#000" stroke-width="2.2" stroke-dasharray="16 8.5"/>
<rect x="759.9" y="618.8" width="364" height="364.6" fill="none" stroke="#333" stroke-width="2.2"/>
<line x1="751.4" y1="932.4" x2="759.9" y2="932.4" stroke="#333" stroke-width="2"/>
<text x="746.4" y="941.4" font-size="28" text-anchor="end">-2</text>
<line x1="751.4" y1="865.4" x2="759.9" y2="865.4" stroke="#333" stroke-width="2"/>
<text x="746.4" y="874.4" font-size="28" text-anchor="end">-1</text>
<line x1="751.4" y1="798.4" x2="759.9" y2="798.4" stroke="#333" stroke-width="2"/>
<text x="746.4" y="807.4" font-size="28" text-anchor="end">0</text>
<line x1="751.4" y1="731.4" x2="759.9" y2="731.4" stroke="#333" stroke-width="2"/>
<text x="746.4" y="740.4" font-size="28" text-anchor="end">1</text>
<line x1="751.4" y1="664.4" x2="759.9" y2="664.4" stroke="#333" stroke-width="2"/>
<text x="746.4" y="673.4" font-size="28" text-anchor="end">2</text>
<line x1="817" y1="983.4" x2="817" y2="991.4" stroke="#333" stroke-width="2"/>
<text x="817" y="1017" font-size="28" text-anchor="middle">0</text>
<line x1="884.8" y1="983.4" x2="884.8" y2="991.4" stroke="#333" stroke-width="2"/>
<text x="884.8" y="1017" font-size="28" text-anchor="middle">1</text>
<line x1="952.6" y1="983.4" x2="952.6" y2="991.4" stroke="#333" stroke-width="2"/>
<text x="952.6" y="1017" font-size="28" text-anchor="middle">2</text>
<line x1="1020.4" y1="983.4" x2="1020.4" y2="991.4" stroke="#333" stroke-width="2"/>
<text x="1020.4" y="1017" font-size="28" text-anchor="middle">3</text>
<line x1="1088.2" y1="983.4" x2="1088.2" y2="991.4" stroke="#333" stroke-width="2"/>
<text x="1088.2" y="1017" font-size="28" text-anchor="middle">4</text>
<text x="948.6" y="1053.3" font-size="28.2" text-anchor="middle">log10(baseMean)</text>
<text x="939" y="603.8" font-size="28" text-anchor="middle">STB gene set</text>
<circle cx="898.5" cy="917.7" r="4.2" fill="#D03333"/>
<circle cx="898.5" cy="938.2" r="4.2" fill="#A9A9A9"/>
<text x="907.8" y="923.5" font-size="20">m<tspan font-size="13.6" dy="-7.6">6</tspan><tspan dy="7.6">A modified (31)</tspan></text>
<text x="907.8" y="944" font-size="20">non-m<tspan font-size="13.6" dy="-7.6">6</tspan><tspan dy="7.6">A modified (161)</tspan></text>
<text x="704.5" y="815.9" font-size="28.2" text-anchor="middle" transform="rotate(-90 704.5 815.9)">log2FoldChange</text>
<circle cx="1215.7" cy="638.4" r="6.4" fill="#A9A9A9"/><circle cx="1304.8" cy="635.8" r="6.4" fill="#A9A9A9"/><circle cx="1300.3" cy="650" r="6.4" fill="#A9A9A9"/><circle cx="1346.4" cy="636.9" r="6.4" fill="#A9A9A9"/><circle cx="1356.9" cy="648.3" r="6.4" fill="#A9A9A9"/><circle cx="1195.6" cy="702.9" r="6.4" fill="#A9A9A9"/><circle cx="1274.8" cy="709.1" r="6.4" fill="#A9A9A9"/><circle cx="1287.6" cy="725.5" r="6.4" fill="#A9A9A9"/><circle cx="1337.9" cy="730.6" r="6.4" fill="#A9A9A9"/><circle cx="1347" cy="741.9" r="6.4" fill="#A9A9A9"/><circle cx="1381.8" cy="692.1" r="6.4" fill="#A9A9A9"/><circle cx="1388.8" cy="726.3" r="6.4" fill="#A9A9A9"/><circle cx="1410.1" cy="727.8" r="6.4" fill="#A9A9A9"/><circle cx="1461.5" cy="732.8" r="6.4" fill="#A9A9A9"/><circle cx="1481.3" cy="715" r="6.4" fill="#A9A9A9"/><circle cx="1458.1" cy="750.1" r="6.4" fill="#A9A9A9"/><circle cx="1459.6" cy="769.3" r="6.4" fill="#A9A9A9"/><circle cx="1285" cy="758.9" r="6.4" fill="#A9A9A9"/><circle cx="1301.1" cy="759.4" r="6.4" fill="#A9A9A9"/><circle cx="1307.7" cy="762.3" r="6.4" fill="#A9A9A9"/><circle cx="1304" cy="768.8" r="6.4" fill="#A9A9A9"/><circle cx="1269.2" cy="768.5" r="6.4" fill="#A9A9A9"/><circle cx="1326.6" cy="754.3" r="6.4" fill="#A9A9A9"/><circle cx="1344.1" cy="757.2" r="6.4" fill="#A9A9A9"/><circle cx="1354.9" cy="758.9" r="6.4" fill="#A9A9A9"/><circle cx="1359.1" cy="775.6" r="6.4" fill="#A9A9A9"/><circle cx="1379.8" cy="755.8" r="6.4" fill="#A9A9A9"/><circle cx="1397.3" cy="752.4" r="6.4" fill="#A9A9A9"/><circle cx="1403" cy="749" r="6.4" fill="#A9A9A9"/><circle cx="1408.6" cy="758" r="6.4" fill="#A9A9A9"/><circle cx="1323.8" cy="778.7" r="6.4" fill="#A9A9A9"/><circle cx="1329.4" cy="780.7" r="6.4" fill="#A9A9A9"/><circle cx="1315.9" cy="787.7" r="6.4" fill="#A9A9A9"/><circle cx="1320.9" cy="800.5" r="6.4" fill="#A9A9A9"/><circle cx="1322.4" cy="807" r="6.4" fill="#A9A9A9"/><circle cx="1334.2" cy="796.8" r="6.4" fill="#A9A9A9"/><circle cx="1237.5" cy="795.6" r="6.4" fill="#A9A9A9"/><circle cx="1268.6" cy="802.4" r="6.4" fill="#A9A9A9"/><circle cx="1260.7" cy="821.7" r="6.4" fill="#A9A9A9"/><circle cx="1381.8" cy="810.9" r="6.4" fill="#A9A9A9"/><circle cx="1387.4" cy="817.4" r="6.4" fill="#A9A9A9"/><circle cx="1399.3" cy="821.7" r="6.4" fill="#A9A9A9"/><circle cx="1403" cy="790.6" r="6.4" fill="#A9A9A9"/><circle cx="1448.2" cy="793.9" r="6.4" fill="#A9A9A9"/><circle cx="1475.7" cy="794.8" r="6.4" fill="#A9A9A9"/><circle cx="1503.4" cy="770.7" r="6.4" fill="#A9A9A9"/><circle cx="1504.8" cy="781.5" r="6.4" fill="#A9A9A9"/><circle cx="1492.1" cy="816.9" r="6.4" fill="#A9A9A9"/><circle cx="1503.4" cy="833.8" r="6.4" fill="#A9A9A9"/><circle cx="1515.3" cy="794.8" r="6.4" fill="#A9A9A9"/><circle cx="1519.8" cy="811.2" r="6.4" fill="#A9A9A9"/><circle cx="1526.6" cy="755.2" r="6.4" fill="#A9A9A9"/><circle cx="1344.1" cy="840.6" r="6.4" fill="#A9A9A9"/><circle cx="1267.8" cy="853.4" r="6.4" fill="#A9A9A9"/><circle cx="1380.4" cy="855.6" r="6.4" fill="#A9A9A9"/><circle cx="1196.5" cy="895.2" r="6.4" fill="#A9A9A9"/><circle cx="1243.2" cy="934" r="6.4" fill="#A9A9A9"/><circle cx="1249.4" cy="953.2" r="6.4" fill="#A9A9A9"/><circle cx="1296.1" cy="929.2" r="6.4" fill="#A9A9A9"/><circle cx="1217.7" cy="967.4" r="6.4" fill="#A9A9A9"/><circle cx="1229.6" cy="967.4" r="6.4" fill="#A9A9A9"/><circle cx="1243.7" cy="967.4" r="6.4" fill="#A9A9A9"/><circle cx="1257.9" cy="967.4" r="6.4" fill="#A9A9A9"/><circle cx="1270.6" cy="967.4" r="6.4" fill="#A9A9A9"/><circle cx="1278.5" cy="967.4" r="6.4" fill="#A9A9A9"/><circle cx="1290.4" cy="967.4" r="6.4" fill="#A9A9A9"/><circle cx="1329.4" cy="967.4" r="6.4" fill="#A9A9A9"/>
<circle cx="1364.2" cy="684.5" r="6.4" fill="#D03333"/><circle cx="1427.6" cy="678.8" r="6.4" fill="#D03333"/><circle cx="1468.9" cy="709.4" r="6.4" fill="#D03333"/><circle cx="1400.2" cy="722.7" r="6.4" fill="#D03333"/><circle cx="1376.7" cy="734" r="6.4" fill="#D03333"/><circle cx="1390.3" cy="750.4" r="6.4" fill="#D03333"/><circle cx="1395.9" cy="763.1" r="6.4" fill="#D03333"/><circle cx="1413.5" cy="753.8" r="6.4" fill="#D03333"/><circle cx="1360.6" cy="759.7" r="6.4" fill="#D03333"/><circle cx="1334.2" cy="790.6" r="6.4" fill="#D03333"/><circle cx="1348.7" cy="788" r="6.4" fill="#D03333"/><circle cx="1429.9" cy="768.8" r="6.4" fill="#D03333"/><circle cx="1435" cy="766.5" r="6.4" fill="#D03333"/><circle cx="1431.3" cy="776.4" r="6.4" fill="#D03333"/><circle cx="1446.3" cy="766.5" r="6.4" fill="#D03333"/><circle cx="1450.5" cy="788.6" r="6.4" fill="#D03333"/><circle cx="1477.4" cy="752.4" r="6.4" fill="#D03333"/><circle cx="1480.8" cy="752.4" r="6.4" fill="#D03333"/><circle cx="1463.8" cy="809.5" r="6.4" fill="#D03333"/><circle cx="1456.7" cy="820.3" r="6.4" fill="#D03333"/><circle cx="1462.4" cy="826.5" r="6.4" fill="#D03333"/><circle cx="1440.6" cy="829.3" r="6.4" fill="#D03333"/><circle cx="1410.9" cy="834.4" r="6.4" fill="#D03333"/><circle cx="1435.5" cy="840.6" r="6.4" fill="#D03333"/><circle cx="1499.2" cy="805.5" r="6.4" fill="#D03333"/>
<line x1="1178.7" y1="768.4" x2="1543.6" y2="768.4" stroke="#000" stroke-width="2.2" stroke-dasharray="16 8.5"/>
<line x1="1178.7" y1="828.7" x2="1543.6" y2="828.7" stroke="#000" stroke-width="2.2" stroke-dasharray="16 8.5"/>
<rect x="1178.7" y="618.8" width="364.9" height="364.6" fill="none" stroke="#333" stroke-width="2.2"/>
<line x1="1170.2" y1="932.4" x2="1178.7" y2="932.4" stroke="#333" stroke-width="2"/>
<text x="1165.2" y="941.4" font-size="28" text-anchor="end">-2</text>
<line x1="1170.2" y1="865.4" x2="1178.7" y2="865.4" stroke="#333" stroke-width="2"/>
<text x="1165.2" y="874.4" font-size="28" text-anchor="end">-1</text>
<line x1="1170.2" y1="798.4" x2="1178.7" y2="798.4" stroke="#333" stroke-width="2"/>
<text x="1165.2" y="807.4" font-size="28" text-anchor="end">0</text>
<line x1="1170.2" y1="731.4" x2="1178.7" y2="731.4" stroke="#333" stroke-width="2"/>
<text x="1165.2" y="740.4" font-size="28" text-anchor="end">1</text>
<line x1="1170.2" y1="664.4" x2="1178.7" y2="664.4" stroke="#333" stroke-width="2"/>
<text x="1165.2" y="673.4" font-size="28" text-anchor="end">2</text>
<line x1="1236.9" y1="983.4" x2="1236.9" y2="991.4" stroke="#333" stroke-width="2"/>
<text x="1236.9" y="1017" font-size="28" text-anchor="middle">0</text>
<line x1="1304.7" y1="983.4" x2="1304.7" y2="991.4" stroke="#333" stroke-width="2"/>
<text x="1304.7" y="1017" font-size="28" text-anchor="middle">1</text>
<line x1="1372.5" y1="983.4" x2="1372.5" y2="991.4" stroke="#333" stroke-width="2"/>
<text x="1372.5" y="1017" font-size="28" text-anchor="middle">2</text>
<line x1="1440.3" y1="983.4" x2="1440.3" y2="991.4" stroke="#333" stroke-width="2"/>
<text x="1440.3" y="1017" font-size="28" text-anchor="middle">3</text>
<line x1="1508.1" y1="983.4" x2="1508.1" y2="991.4" stroke="#333" stroke-width="2"/>
<text x="1508.1" y="1017" font-size="28" text-anchor="middle">4</text>
<text x="1371.2" y="1053.3" font-size="28.2" text-anchor="middle">log10(baseMean)</text>
<text x="1366.2" y="603.8" font-size="28" text-anchor="middle">SASP gene set</text>
<circle cx="1328.5" cy="917.7" r="4.2" fill="#D03333"/>
<circle cx="1328.5" cy="938.2" r="4.2" fill="#A9A9A9"/>
<text x="1337.8" y="923.5" font-size="20">m<tspan font-size="13.6" dy="-7.6">6</tspan><tspan dy="7.6">A modified (25)</tspan></text>
<text x="1337.8" y="944" font-size="20">non-m<tspan font-size="13.6" dy="-7.6">6</tspan><tspan dy="7.6"> A modified (74)</tspan></text>
<circle cx="1634.4" cy="640" r="6.4" fill="#A9A9A9"/><circle cx="1613.7" cy="704.2" r="6.4" fill="#A9A9A9"/><circle cx="1616.6" cy="700" r="6.4" fill="#A9A9A9"/><circle cx="1647.1" cy="732.5" r="6.4" fill="#A9A9A9"/><circle cx="1656.2" cy="692.4" r="6.4" fill="#A9A9A9"/><circle cx="1682.5" cy="665.5" r="6.4" fill="#A9A9A9"/><circle cx="1686.7" cy="651.9" r="6.4" fill="#A9A9A9"/><circle cx="1690.7" cy="682.2" r="6.4" fill="#A9A9A9"/><circle cx="1706.2" cy="655" r="6.4" fill="#A9A9A9"/><circle cx="1715" cy="666.6" r="6.4" fill="#A9A9A9"/><circle cx="1703.7" cy="692.4" r="6.4" fill="#A9A9A9"/><circle cx="1710.5" cy="685.8" r="6.4" fill="#A9A9A9"/><circle cx="1708.5" cy="714.1" r="6.4" fill="#A9A9A9"/><circle cx="1714.1" cy="711.3" r="6.4" fill="#A9A9A9"/><circle cx="1681" cy="729.7" r="6.4" fill="#A9A9A9"/><circle cx="1687.8" cy="735.3" r="6.4" fill="#A9A9A9"/><circle cx="1705.6" cy="752.3" r="6.4" fill="#A9A9A9"/><circle cx="1709.9" cy="749.5" r="6.4" fill="#A9A9A9"/><circle cx="1731.9" cy="690.9" r="6.4" fill="#A9A9A9"/><circle cx="1735.3" cy="729.7" r="6.4" fill="#A9A9A9"/><circle cx="1738.7" cy="735.3" r="6.4" fill="#A9A9A9"/><circle cx="1743.8" cy="725.4" r="6.4" fill="#A9A9A9"/><circle cx="1765" cy="638.6" r="6.4" fill="#A9A9A9"/><circle cx="1775.5" cy="649.9" r="6.4" fill="#A9A9A9"/><circle cx="1785.4" cy="635.8" r="6.4" fill="#A9A9A9"/><circle cx="1761.4" cy="687.3" r="6.4" fill="#A9A9A9"/><circle cx="1785.4" cy="695.7" r="6.4" fill="#A9A9A9"/><circle cx="1768.7" cy="707.1" r="6.4" fill="#A9A9A9"/><circle cx="1800.4" cy="692.9" r="6.4" fill="#A9A9A9"/><circle cx="1806.6" cy="709" r="6.4" fill="#A9A9A9"/><circle cx="1812.5" cy="657.6" r="6.4" fill="#A9A9A9"/><circle cx="1818.8" cy="680.2" r="6.4" fill="#A9A9A9"/><circle cx="1856.4" cy="651.3" r="6.4" fill="#A9A9A9"/><circle cx="1791.9" cy="722.6" r="6.4" fill="#A9A9A9"/><circle cx="1797.6" cy="722.6" r="6.4" fill="#A9A9A9"/><circle cx="1763.6" cy="729.7" r="6.4" fill="#A9A9A9"/><circle cx="1776.3" cy="731.1" r="6.4" fill="#A9A9A9"/><circle cx="1765" cy="742.4" r="6.4" fill="#A9A9A9"/><circle cx="1765" cy="757.1" r="6.4" fill="#A9A9A9"/><circle cx="1783.4" cy="755.1" r="6.4" fill="#A9A9A9"/><circle cx="1784.3" cy="762.2" r="6.4" fill="#A9A9A9"/><circle cx="1820.7" cy="749.5" r="6.4" fill="#A9A9A9"/><circle cx="1842.8" cy="749.5" r="6.4" fill="#A9A9A9"/><circle cx="1848.5" cy="755.1" r="6.4" fill="#A9A9A9"/><circle cx="1868.3" cy="756" r="6.4" fill="#A9A9A9"/><circle cx="1876.2" cy="750.9" r="6.4" fill="#A9A9A9"/><circle cx="1880.4" cy="733.9" r="6.4" fill="#A9A9A9"/><circle cx="1884.4" cy="713.6" r="6.4" fill="#A9A9A9"/><circle cx="1889.5" cy="768.7" r="6.4" fill="#A9A9A9"/><circle cx="1908.7" cy="777.2" r="6.4" fill="#A9A9A9"/><circle cx="1720.6" cy="767.3" r="6.4" fill="#A9A9A9"/><circle cx="1727.4" cy="774.9" r="6.4" fill="#A9A9A9"/><circle cx="1708.5" cy="769.3" r="6.4" fill="#A9A9A9"/><circle cx="1715" cy="785.4" r="6.4" fill="#A9A9A9"/><circle cx="1742.4" cy="762.8" r="6.4" fill="#A9A9A9"/><circle cx="1743.3" cy="779.2" r="6.4" fill="#A9A9A9"/><circle cx="1701.4" cy="797.6" r="6.4" fill="#A9A9A9"/><circle cx="1708.5" cy="801.8" r="6.4" fill="#A9A9A9"/><circle cx="1709.9" cy="808.9" r="6.4" fill="#A9A9A9"/><circle cx="1698" cy="810.3" r="6.4" fill="#A9A9A9"/><circle cx="1741" cy="806.9" r="6.4" fill="#A9A9A9"/><circle cx="1745.2" cy="808.9" r="6.4" fill="#A9A9A9"/><circle cx="1741" cy="820.2" r="6.4" fill="#A9A9A9"/><circle cx="1752.3" cy="818.8" r="6.4" fill="#A9A9A9"/><circle cx="1760.2" cy="798.4" r="6.4" fill="#A9A9A9"/><circle cx="1772.1" cy="801" r="6.4" fill="#A9A9A9"/><circle cx="1786.2" cy="782" r="6.4" fill="#A9A9A9"/><circle cx="1815.9" cy="779.2" r="6.4" fill="#A9A9A9"/><circle cx="1815.9" cy="799" r="6.4" fill="#A9A9A9"/><circle cx="1834.3" cy="804.6" r="6.4" fill="#A9A9A9"/><circle cx="1840" cy="813.1" r="6.4" fill="#A9A9A9"/><circle cx="1838.6" cy="817.4" r="6.4" fill="#A9A9A9"/><circle cx="1847" cy="808.9" r="6.4" fill="#A9A9A9"/><circle cx="1854.1" cy="786.2" r="6.4" fill="#A9A9A9"/><circle cx="1858.4" cy="783.4" r="6.4" fill="#A9A9A9"/><circle cx="1856.4" cy="798.4" r="6.4" fill="#A9A9A9"/><circle cx="1861.2" cy="801.8" r="6.4" fill="#A9A9A9"/><circle cx="1864" cy="808.9" r="6.4" fill="#A9A9A9"/><circle cx="1869.7" cy="803.2" r="6.4" fill="#A9A9A9"/><circle cx="1876.7" cy="802.6" r="6.4" fill="#A9A9A9"/><circle cx="1883.8" cy="802.6" r="6.4" fill="#A9A9A9"/><circle cx="1892.3" cy="813.1" r="6.4" fill="#A9A9A9"/><circle cx="1895.1" cy="794.7" r="6.4" fill="#A9A9A9"/><circle cx="1914.9" cy="794.7" r="6.4" fill="#A9A9A9"/><circle cx="1923.4" cy="791.9" r="6.4" fill="#A9A9A9"/><circle cx="1931.9" cy="799" r="6.4" fill="#A9A9A9"/><circle cx="1924.8" cy="809.4" r="6.4" fill="#A9A9A9"/><circle cx="1654.7" cy="801.8" r="6.4" fill="#A9A9A9"/><circle cx="1661.8" cy="838.6" r="6.4" fill="#A9A9A9"/><circle cx="1695.7" cy="837.1" r="6.4" fill="#A9A9A9"/><circle cx="1711.3" cy="828.7" r="6.4" fill="#A9A9A9"/><circle cx="1795.3" cy="827.8" r="6.4" fill="#A9A9A9"/><circle cx="1856.4" cy="830.1" r="6.4" fill="#A9A9A9"/><circle cx="1769.3" cy="850.4" r="6.4" fill="#A9A9A9"/><circle cx="1794.2" cy="855" r="6.4" fill="#A9A9A9"/><circle cx="1808.3" cy="851.3" r="6.4" fill="#A9A9A9"/><circle cx="1667.5" cy="868.3" r="6.4" fill="#A9A9A9"/><circle cx="1690.7" cy="875.3" r="6.4" fill="#A9A9A9"/><circle cx="1698.6" cy="885.2" r="6.4" fill="#A9A9A9"/><circle cx="1728.3" cy="870.5" r="6.4" fill="#A9A9A9"/><circle cx="1615.1" cy="896" r="6.4" fill="#A9A9A9"/><circle cx="1667.5" cy="952.5" r="6.4" fill="#A9A9A9"/><circle cx="1634.9" cy="961" r="6.4" fill="#A9A9A9"/><circle cx="1635.8" cy="967.2" r="6.4" fill="#A9A9A9"/><circle cx="1644.8" cy="967.2" r="6.4" fill="#A9A9A9"/><circle cx="1653.3" cy="967.2" r="6.4" fill="#A9A9A9"/><circle cx="1660.4" cy="967.2" r="6.4" fill="#A9A9A9"/><circle cx="1676" cy="967.2" r="6.4" fill="#A9A9A9"/><circle cx="1688.7" cy="967.2" r="6.4" fill="#A9A9A9"/><circle cx="1695.7" cy="967.2" r="6.4" fill="#A9A9A9"/><circle cx="1714.1" cy="967.2" r="6.4" fill="#A9A9A9"/><circle cx="1722.6" cy="967.2" r="6.4" fill="#A9A9A9"/><circle cx="1763.6" cy="967.2" r="6.4" fill="#A9A9A9"/><circle cx="1767.9" cy="967.2" r="6.4" fill="#A9A9A9"/><circle cx="1871.1" cy="797.6" r="6.4" fill="#A9A9A9"/><circle cx="1865.4" cy="803.2" r="6.4" fill="#A9A9A9"/><circle cx="1879.6" cy="799" r="6.4" fill="#A9A9A9"/><circle cx="1856.9" cy="806" r="6.4" fill="#A9A9A9"/><circle cx="1845.6" cy="806" r="6.4" fill="#A9A9A9"/><circle cx="1831.5" cy="808.9" r="6.4" fill="#A9A9A9"/><circle cx="1910.7" cy="786.2" r="6.4" fill="#A9A9A9"/><circle cx="1919.2" cy="794.7" r="6.4" fill="#A9A9A9"/><circle cx="1944.6" cy="755.1" r="6.4" fill="#A9A9A9"/>
<circle cx="1739.6" cy="648.5" r="6.4" fill="#D03333"/><circle cx="1745.2" cy="650.5" r="6.4" fill="#D03333"/><circle cx="1783.4" cy="685.3" r="6.4" fill="#D03333"/><circle cx="1764.2" cy="699.1" r="6.4" fill="#D03333"/><circle cx="1849" cy="710.2" r="6.4" fill="#D03333"/><circle cx="1892.3" cy="726.9" r="6.4" fill="#D03333"/><circle cx="1840" cy="729.1" r="6.4" fill="#D03333"/><circle cx="1847" cy="731.9" r="6.4" fill="#D03333"/><circle cx="1818.8" cy="745.8" r="6.4" fill="#D03333"/><circle cx="1796.7" cy="749.5" r="6.4" fill="#D03333"/><circle cx="1830.9" cy="754.6" r="6.4" fill="#D03333"/><circle cx="1808.9" cy="759.4" r="6.4" fill="#D03333"/><circle cx="1814.5" cy="763.1" r="6.4" fill="#D03333"/><circle cx="1843.7" cy="774.9" r="6.4" fill="#D03333"/><circle cx="1848.5" cy="746.1" r="6.4" fill="#D03333"/><circle cx="1873.9" cy="769.3" r="6.4" fill="#D03333"/><circle cx="1883.8" cy="763.1" r="6.4" fill="#D03333"/><circle cx="1897.4" cy="762.2" r="6.4" fill="#D03333"/><circle cx="1898" cy="774.9" r="6.4" fill="#D03333"/><circle cx="1900.8" cy="780.6" r="6.4" fill="#D03333"/><circle cx="1907.9" cy="779.2" r="6.4" fill="#D03333"/><circle cx="1914.9" cy="782" r="6.4" fill="#D03333"/><circle cx="1863.5" cy="792.5" r="6.4" fill="#D03333"/><circle cx="1868.3" cy="792.5" r="6.4" fill="#D03333"/><circle cx="1872.5" cy="794.7" r="6.4" fill="#D03333"/><circle cx="1842.8" cy="796.7" r="6.4" fill="#D03333"/><circle cx="1790.5" cy="784" r="6.4" fill="#D03333"/><circle cx="1783.4" cy="808" r="6.4" fill="#D03333"/><circle cx="1825.8" cy="812.5" r="6.4" fill="#D03333"/><circle cx="1819.6" cy="817.9" r="6.4" fill="#D03333"/><circle cx="1824.4" cy="825.8" r="6.4" fill="#D03333"/><circle cx="1827.3" cy="821.6" r="6.4" fill="#D03333"/><circle cx="1879" cy="814" r="6.4" fill="#D03333"/><circle cx="1823.6" cy="885.2" r="6.4" fill="#D03333"/><circle cx="1842.8" cy="796.1" r="6.4" fill="#D03333"/>
<line x1="1596.8" y1="768.4" x2="1961.6" y2="768.4" stroke="#000" stroke-width="2.2" stroke-dasharray="16 8.5"/>
<line x1="1596.8" y1="828.7" x2="1961.6" y2="828.7" stroke="#000" stroke-width="2.2" stroke-dasharray="16 8.5"/>
<rect x="1596.8" y="618.8" width="364.8" height="364.6" fill="none" stroke="#333" stroke-width="2.2"/>
<line x1="1588.3" y1="932.4" x2="1596.8" y2="932.4" stroke="#333" stroke-width="2"/>
<text x="1583.3" y="941.4" font-size="28" text-anchor="end">-2</text>
<line x1="1588.3" y1="865.4" x2="1596.8" y2="865.4" stroke="#333" stroke-width="2"/>
<text x="1583.3" y="874.4" font-size="28" text-anchor="end">-1</text>
<line x1="1588.3" y1="798.4" x2="1596.8" y2="798.4" stroke="#333" stroke-width="2"/>
<text x="1583.3" y="807.4" font-size="28" text-anchor="end">0</text>
<line x1="1588.3" y1="731.4" x2="1596.8" y2="731.4" stroke="#333" stroke-width="2"/>
<text x="1583.3" y="740.4" font-size="28" text-anchor="end">1</text>
<line x1="1588.3" y1="664.4" x2="1596.8" y2="664.4" stroke="#333" stroke-width="2"/>
<text x="1583.3" y="673.4" font-size="28" text-anchor="end">2</text>
<line x1="1656.2" y1="983.4" x2="1656.2" y2="991.4" stroke="#333" stroke-width="2"/>
<text x="1656.2" y="1017" font-size="28" text-anchor="middle">0</text>
<line x1="1724" y1="983.4" x2="1724" y2="991.4" stroke="#333" stroke-width="2"/>
<text x="1724" y="1017" font-size="28" text-anchor="middle">1</text>
<line x1="1791.8" y1="983.4" x2="1791.8" y2="991.4" stroke="#333" stroke-width="2"/>
<text x="1791.8" y="1017" font-size="28" text-anchor="middle">2</text>
<line x1="1859.6" y1="983.4" x2="1859.6" y2="991.4" stroke="#333" stroke-width="2"/>
<text x="1859.6" y="1017" font-size="28" text-anchor="middle">3</text>
<line x1="1927.4" y1="983.4" x2="1927.4" y2="991.4" stroke="#333" stroke-width="2"/>
<text x="1927.4" y="1017" font-size="28" text-anchor="middle">4</text>
<text x="1791.9" y="1053.3" font-size="28.2" text-anchor="middle">log10(baseMean)</text>
<text x="1782" y="603.8" font-size="28" text-anchor="middle">Inflammation gene set</text>
<circle cx="1735.5" cy="917.7" r="4.2" fill="#D03333"/>
<circle cx="1735.5" cy="938.2" r="4.2" fill="#A9A9A9"/>
<text x="1744.8" y="923.5" font-size="20">m<tspan font-size="13.6" dy="-7.6">6</tspan><tspan dy="7.6">A modified (39)</tspan></text>
<text x="1744.8" y="944" font-size="20">non-m<tspan font-size="13.6" dy="-7.6">6</tspan><tspan dy="7.6">A modified (132)</tspan></text>
<text x="1993" y="698.6" font-size="27.3" text-anchor="middle" transform="rotate(-90 1993 698.6)">Up</text>
<text x="1993" y="800.4" font-size="27.3" text-anchor="middle" transform="rotate(-90 1993 800.4)">Stable</text>
<text x="1993" y="900.8" font-size="27.3" text-anchor="middle" transform="rotate(-90 1993 900.8)">Down</text>
<text x="1666.3" y="1119" font-size="41">g</text>
<rect x="1809.6" y="1143.5" width="35" height="32.3" fill="#C95A40"/>
<rect x="1809.6" y="1175.7" width="35" height="174.1" fill="#828282"/>
<rect x="1853.9" y="1236.7" width="35" height="24.7" fill="#C95A40"/>
<rect x="1853.9" y="1261.4" width="35" height="88.4" fill="#828282"/>
<rect x="1897.9" y="1170" width="35" height="38.4" fill="#C95A40"/>
<rect x="1897.9" y="1208.4" width="35" height="141.4" fill="#828282"/>
<line x1="1798.4" y1="1128.9" x2="1798.4" y2="1350.8" stroke="#000" stroke-width="2.2"/>
<line x1="1788" y1="1349.8" x2="1945.2" y2="1349.8" stroke="#000" stroke-width="2.2"/>
<line x1="1788" y1="1349.8" x2="1798.4" y2="1349.8" stroke="#000" stroke-width="2.2"/>
<text x="1786.6" y="1360.4" font-size="24" text-anchor="end">0</text>
<line x1="1788" y1="1305.6" x2="1798.4" y2="1305.6" stroke="#000" stroke-width="2.2"/>
<text x="1786.6" y="1316.2" font-size="24" text-anchor="end">50</text>
<line x1="1788" y1="1261.4" x2="1798.4" y2="1261.4" stroke="#000" stroke-width="2.2"/>
<text x="1786.6" y="1272" font-size="24" text-anchor="end">100</text>
<line x1="1788" y1="1217.3" x2="1798.4" y2="1217.3" stroke="#000" stroke-width="2.2"/>
<text x="1786.6" y="1227.9" font-size="24" text-anchor="end">150</text>
<line x1="1788" y1="1173.1" x2="1798.4" y2="1173.1" stroke="#000" stroke-width="2.2"/>
<text x="1786.6" y="1183.7" font-size="24" text-anchor="end">200</text>
<line x1="1788" y1="1128.9" x2="1798.4" y2="1128.9" stroke="#000" stroke-width="2.2"/>
<text x="1786.6" y="1139.5" font-size="24" text-anchor="end">250</text>
<line x1="1827.1" y1="1349.8" x2="1827.1" y2="1358.4" stroke="#000" stroke-width="2.2"/>
<line x1="1871.4" y1="1349.8" x2="1871.4" y2="1358.4" stroke="#000" stroke-width="2.2"/>
<line x1="1915.4" y1="1349.8" x2="1915.4" y2="1358.4" stroke="#000" stroke-width="2.2"/>
<text x="1836.9" y="1374.9" font-size="28" text-anchor="end" transform="rotate(-45 1836.9 1374.9)">STB</text>
<text x="1881.8" y="1373.5" font-size="28" text-anchor="end" transform="rotate(-45 1881.8 1373.5)">SASP</text>
<text x="1939.3" y="1372.4" font-size="28" text-anchor="end" transform="rotate(-45 1939.3 1372.4)">Inflammation</text>
<text x="1827.4" y="1167.2" font-size="20" text-anchor="middle">13.9%</text>
<text x="1871.5" y="1255.9" font-size="20" text-anchor="middle">20%</text>
<text x="1915.6" y="1196" font-size="20" text-anchor="middle">19.5%</text>
<rect x="1888" y="1105.6" width="12.5" height="12.8" fill="#828282"/>
<rect x="1888" y="1130.8" width="12.5" height="12.1" fill="#C95A40"/>
<text x="1902.5" y="1117.7" font-size="24">non-m<tspan font-size="16.3" dy="-9.1">6</tspan><tspan dy="9.1">A</tspan></text>
<text x="1902.5" y="1142.4" font-size="24">m<tspan font-size="16.3" dy="-9.1">6</tspan><tspan dy="9.1">A</tspan></text>
<text x="1727.6" y="1245.4" font-size="28" text-anchor="middle" transform="rotate(-90 1727.6 1245.4)">Number of transcripts</text>
<text x="2.5" y="1498.5" font-size="41">h</text>
<line x1="78.5" y1="1529" x2="78.5" y2="1605.4" stroke="#000" stroke-width="2.7"/>
<line x1="78.5" y1="1643.2" x2="78.5" y2="1721" stroke="#000" stroke-width="2.7"/>
<text x="86.2" y="1548" font-size="28">Input</text>
<text x="86" y="1605.4" font-size="28">m<tspan font-size="19" dy="-10.1">6</tspan><tspan dy="10.1">A</tspan></text>
<text x="86.2" y="1662.8" font-size="28">Input</text>
<text x="86" y="1720.2" font-size="28">m<tspan font-size="19" dy="-10.1">6</tspan><tspan dy="10.1">A</tspan></text>
<text x="62.7" y="1620" font-size="28" transform="rotate(-90 62.7 1620)">P0(+DOX)</text>
<text x="62.7" y="1755.5" font-size="28" transform="rotate(-90 62.7 1755.5)">P2(-DOX)</text>
<rect x="159" y="1516.5" width="378.7" height="218.8" fill="#F9F9F9"/>
<rect x="159" y="1744.6" width="378.7" height="24" fill="#F9F9F9"/>
<path d="M257.6 1568.3V1566.9H264.6V1568.3ZM268.8 1568.3V1553.3H272V1568.3ZM272 1568.3V1539.8H275V1568.3ZM275 1568.3V1548.3H278V1568.3ZM278 1568.3V1556.3H282V1568.3ZM282 1568.3V1546.3H285V1568.3ZM285 1568.3V1544.5H288V1568.3ZM288 1568.3V1554.3H291V1568.3ZM291 1568.3V1560.3H300V1568.3ZM300 1568.3V1558.3H306V1568.3ZM306 1568.3V1554.3H312V1568.3ZM312 1568.3V1557.3H318V1568.3ZM318 1568.3V1562.3H326V1568.3ZM326 1568.3V1559.3H334V1568.3ZM334 1568.3V1563.3H342V1568.3ZM342 1568.3V1561.3H350V1568.3ZM350 1568.3V1564.3H356V1568.3ZM356 1568.3V1559.3H364V1568.3ZM364 1568.3V1562.3H372V1568.3ZM372 1568.3V1564.3H380V1568.3ZM380 1568.3V1560.3H392V1568.3ZM392 1568.3V1563.3H398V1568.3ZM398 1568.3V1560.3H403V1568.3ZM403 1568.3V1553.3H406V1568.3ZM406 1568.3V1546.3H410V1568.3ZM410 1568.3V1556.3H414V1568.3ZM414 1568.3V1561.3H420V1568.3ZM420 1568.3V1565.3H428V1568.3ZM440 1568.3V1566.8H445V1568.3ZM448 1568.3V1564.3H456V1568.3ZM468 1568.3V1556.3H472V1568.3ZM472 1568.3V1552.3H478V1568.3ZM478 1568.3V1562.3H483V1568.3Z" fill="#000000"/>
<path d="M255 1623.6V1622.1H260V1623.6ZM270 1623.6V1603.6H273V1623.6ZM273 1623.6V1594.2H276V1623.6ZM276 1623.6V1605.6H279V1623.6ZM279 1623.6V1613.6H282V1623.6ZM282 1623.6V1603.6H285V1623.6ZM285 1623.6V1609.6H288V1623.6ZM288 1623.6V1617.6H291V1623.6ZM291 1623.6V1618.6H297V1623.6ZM297 1623.6V1615.6H303V1623.6ZM303 1623.6V1611.6H308V1623.6ZM308 1623.6V1605.6H310V1623.6ZM310 1623.6V1613.6H314V1623.6ZM314 1623.6V1616.6H322V1623.6ZM322 1623.6V1618.6H329V1623.6ZM332 1623.6V1618.6H339V1623.6ZM339 1623.6V1616.6H346V1623.6ZM355 1623.6V1618.6H364V1623.6ZM367 1623.6V1619.6H375V1623.6ZM375 1623.6V1618.6H388V1623.6ZM395 1623.6V1619.6H403V1623.6ZM403 1623.6V1617.6H410V1623.6ZM410 1623.6V1618.6H416V1623.6ZM416 1623.6V1621.6H430V1623.6ZM449 1623.6V1603.6H451V1623.6ZM451 1623.6V1578.8H455V1623.6ZM455 1623.6V1593.6H458V1623.6ZM468 1623.6V1615.6H472V1623.6ZM472 1623.6V1604H476V1623.6ZM476 1623.6V1611.6H480V1623.6ZM480 1623.6V1616.6H486V1623.6Z" fill="#CC0000"/>
<path d="M268.8 1679.6V1654.6H272V1679.6ZM272 1679.6V1640.6H275V1679.6ZM275 1679.6V1654.6H279V1679.6ZM279 1679.6V1661.6H282V1679.6ZM282 1679.6V1649.6H285V1679.6ZM285 1679.6V1642.6H288V1679.6ZM288 1679.6V1659.6H291V1679.6ZM291 1679.6V1669.6H300V1679.6ZM300 1679.6V1671.6H312V1679.6ZM312 1679.6V1667.6H318V1679.6ZM318 1679.6V1673.6H330V1679.6ZM330 1679.6V1671.6H340V1679.6ZM340 1679.6V1674.6H352V1679.6ZM352 1679.6V1670.6H358V1679.6ZM358 1679.6V1673.6H366V1679.6ZM378 1679.6V1670.6H386V1679.6ZM386 1679.6V1674.6H395V1679.6ZM395 1679.6V1666.6H399V1679.6ZM399 1679.6V1671.6H404V1679.6ZM405 1679.6V1667.6H410V1679.6ZM410 1679.6V1661.6H413V1679.6ZM413 1679.6V1670.6H418V1679.6ZM418 1679.6V1675.6H425V1679.6ZM449 1679.6V1676.6H452V1679.6ZM452 1679.6V1675.6H457V1679.6ZM467 1679.6V1669.6H471V1679.6ZM471 1679.6V1660H476V1679.6ZM476 1679.6V1667.6H480V1679.6ZM480 1679.6V1675.6H484V1679.6Z" fill="#000000"/>
<path d="M252 1735.3V1730.3H259V1735.3ZM270 1735.3V1715.3H273V1735.3ZM273 1735.3V1698.3H276V1735.3ZM276 1735.3V1713.3H279V1735.3ZM279 1735.3V1725.3H283V1735.3ZM283 1735.3V1719.3H286V1735.3ZM286 1735.3V1712.9H290V1735.3ZM290 1735.3V1727.3H294V1735.3ZM294 1735.3V1729.3H305V1735.3ZM305 1735.3V1723.3H309V1735.3ZM309 1735.3V1710.7H314V1735.3ZM314 1735.3V1720.3H318V1735.3ZM318 1735.3V1727.3H328V1735.3ZM328 1735.3V1729.3H345V1735.3ZM345 1735.3V1731.3H360V1735.3ZM360 1735.3V1732.3H372V1735.3ZM378 1735.3V1730.3H385V1735.3ZM385 1735.3V1731.3H396V1735.3ZM396 1735.3V1729.3H410V1735.3ZM410 1735.3V1730.3H420V1735.3ZM420 1735.3V1732.3H424V1735.3ZM446 1735.3V1730.3H449V1735.3ZM449 1735.3V1705.3H452V1735.3ZM452 1735.3V1689.9H457V1735.3ZM457 1735.3V1715.3H459V1735.3ZM468 1735.3V1725.3H472V1735.3ZM472 1735.3V1728.3H477V1735.3ZM477 1735.3V1731.3H481V1735.3ZM502 1735.3V1733.3H507V1735.3Z" fill="#0A0AA5"/>
<line x1="159" y1="1568.3" x2="537.7" y2="1568.3" stroke="#C6C6C6" stroke-width="2.2"/>
<line x1="159" y1="1623.6" x2="537.7" y2="1623.6" stroke="#C6C6C6" stroke-width="2.2"/>
<line x1="159" y1="1679.6" x2="537.7" y2="1679.6" stroke="#C6C6C6" stroke-width="2.2"/>
<line x1="159" y1="1735.3" x2="537.7" y2="1735.3" stroke="#2424D0" stroke-width="2.2"/>
<line x1="159" y1="1742.6" x2="537.7" y2="1742.6" stroke="#8A8A8A" stroke-width="3.2"/>
<line x1="159" y1="1743.8" x2="537.7" y2="1743.8" stroke="#5A5A5A" stroke-width="1.2"/>
<text x="164.2" y="1534" font-size="19.5">[0-8]</text>
<text x="164.2" y="1588.3" font-size="19.5">[0-8]</text>
<text x="164.2" y="1643.6" font-size="19.5">[0-8]</text>
<text x="164.2" y="1699.6" font-size="19.5">[0-8]</text>
<line x1="268.8" y1="1758.8" x2="481" y2="1758.8" stroke="#2A2AD8" stroke-width="1.8"/><rect x="268.8" y="1753" width="8.4" height="11.5" fill="#0000B0"/><rect x="277.2" y="1748.8" width="35.8" height="20" fill="#0000B0"/><rect x="313" y="1753" width="4.8" height="11.5" fill="#0000B0"/><rect x="469" y="1753" width="12" height="11.5" fill="#0000B0"/><path d="M342.7 1754.3L338.2 1758.8L342.7 1763.3" fill="none" stroke="#2A2AD8" stroke-width="1.5"/><path d="M379.1 1754.3L374.6 1758.8L379.1 1763.3" fill="none" stroke="#2A2AD8" stroke-width="1.5"/><path d="M415.5 1754.3L411 1758.8L415.5 1763.3" fill="none" stroke="#2A2AD8" stroke-width="1.5"/><path d="M453.3 1754.3L448.8 1758.8L453.3 1763.3" fill="none" stroke="#2A2AD8" stroke-width="1.5"/>
<rect x="551.3" y="1516.5" width="575.5" height="218.8" fill="#F9F9F9"/>
<rect x="551.3" y="1744.6" width="575.5" height="24" fill="#F9F9F9"/>
<path d="M674 1568.3V1566.8H678V1568.3ZM678 1568.3V1565.3H683V1568.3ZM683 1568.3V1563.3H685V1568.3ZM685 1568.3V1556.4H687.7V1568.3ZM701.4 1568.3V1562.3H704V1568.3ZM704 1568.3V1551.3H706V1568.3ZM706 1568.3V1531.7H713.6V1568.3ZM780 1568.3V1532.6H784V1568.3ZM784 1568.3V1552.3H787.7V1568.3ZM1065.8 1568.3V1552.3H1069V1568.3ZM1069 1568.3V1562.3H1072V1568.3ZM1072 1568.3V1565.3H1074.4V1568.3Z" fill="#000000"/>
<path d="M680 1623.6V1622.1H688V1623.6ZM701.4 1623.6V1620.6H704V1623.6ZM704 1623.6V1615.6H707V1623.6ZM707 1623.6V1609.6H713.6V1623.6ZM780 1623.6V1613.6H782V1623.6ZM782 1623.6V1603.6H784V1623.6ZM784 1623.6V1611.6H787.7V1623.6ZM932 1623.6V1622.1H937V1623.6ZM1065.8 1623.6V1607.6H1069V1623.6ZM1069 1623.6V1611.6H1072V1623.6ZM1072 1623.6V1615.6H1074.4V1623.6Z" fill="#CC0000"/>
<path d="M672 1679.6V1678.1H676V1679.6ZM676 1679.6V1675.6H681V1679.6ZM681 1679.6V1673.6H684V1679.6ZM684 1679.6V1667.6H687.7V1679.6ZM701.4 1679.6V1671.6H704V1679.6ZM704 1679.6V1659.6H706V1679.6ZM706 1679.6V1637.8H713.6V1679.6ZM780 1679.6V1641.6H784V1679.6ZM784 1679.6V1662.6H787.7V1679.6ZM1065.8 1679.6V1662.6H1069V1679.6ZM1069 1679.6V1672.6H1072V1679.6ZM1072 1679.6V1676.6H1074.4V1679.6Z" fill="#000000"/>
<path d="M676 1735.3V1733.8H687.7V1735.3ZM701.4 1735.3V1731.3H704V1735.3ZM704 1735.3V1725.3H706V1735.3ZM706 1735.3V1715.3H709V1735.3ZM709 1735.3V1707.6H713.6V1735.3ZM780 1735.3V1707.3H782V1735.3ZM782 1735.3V1700.3H785V1735.3ZM785 1735.3V1710.3H787.7V1735.3ZM1065.8 1735.3V1704.5H1068V1735.3ZM1068 1735.3V1710.3H1071V1735.3ZM1071 1735.3V1715.3H1074.4V1735.3Z" fill="#0A0AA5"/>
<line x1="551.3" y1="1568.3" x2="1126.8" y2="1568.3" stroke="#C6C6C6" stroke-width="2.2"/>
<line x1="551.3" y1="1623.6" x2="1126.8" y2="1623.6" stroke="#C6C6C6" stroke-width="2.2"/>
<line x1="551.3" y1="1679.6" x2="1126.8" y2="1679.6" stroke="#C6C6C6" stroke-width="2.2"/>
<line x1="551.3" y1="1735.3" x2="1126.8" y2="1735.3" stroke="#2424D0" stroke-width="2.2"/>
<line x1="551.3" y1="1742.6" x2="1126.8" y2="1742.6" stroke="#8A8A8A" stroke-width="3.2"/>
<line x1="551.3" y1="1743.8" x2="1126.8" y2="1743.8" stroke="#5A5A5A" stroke-width="1.2"/>
<text x="556.5" y="1534" font-size="19.5">[0-100]</text>
<text x="556.5" y="1588.3" font-size="19.5">[0-100]</text>
<text x="556.5" y="1643.6" font-size="19.5">[0-100]</text>
<text x="556.5" y="1699.6" font-size="19.5">[0-100]</text>
<line x1="673.3" y1="1758.8" x2="1070" y2="1758.8" stroke="#2A2AD8" stroke-width="1.8"/><rect x="673.3" y="1753" width="6.7" height="11.5" fill="#0000B0"/><rect x="680" y="1748.8" width="7" height="20" fill="#0000B0"/><rect x="703.8" y="1748.8" width="6.7" height="20" fill="#0000B0"/><rect x="715" y="1748.8" width="3" height="20" fill="#0000B0"/><rect x="780" y="1748.8" width="3.7" height="20" fill="#0000B0"/><rect x="1066" y="1753" width="4" height="11.5" fill="#0000B0"/><path d="M742.9 1754.3L738.4 1758.8L742.9 1763.3" fill="none" stroke="#2A2AD8" stroke-width="1.5"/><path d="M779.5 1754.3L775 1758.8L779.5 1763.3" fill="none" stroke="#2A2AD8" stroke-width="1.5"/><path d="M810 1754.3L805.5 1758.8L810 1763.3" fill="none" stroke="#2A2AD8" stroke-width="1.5"/><path d="M846.6 1754.3L842.1 1758.8L846.6 1763.3" fill="none" stroke="#2A2AD8" stroke-width="1.5"/><path d="M883.2 1754.3L878.7 1758.8L883.2 1763.3" fill="none" stroke="#2A2AD8" stroke-width="1.5"/><path d="M921.3 1754.3L916.8 1758.8L921.3 1763.3" fill="none" stroke="#2A2AD8" stroke-width="1.5"/><path d="M957.9 1754.3L953.4 1758.8L957.9 1763.3" fill="none" stroke="#2A2AD8" stroke-width="1.5"/><path d="M994.5 1754.3L990 1758.8L994.5 1763.3" fill="none" stroke="#2A2AD8" stroke-width="1.5"/><path d="M1032.7 1754.3L1028.2 1758.8L1032.7 1763.3" fill="none" stroke="#2A2AD8" stroke-width="1.5"/>
<rect x="1142" y="1516.5" width="365.2" height="218.8" fill="#F9F9F9"/>
<rect x="1142" y="1744.6" width="365.2" height="24" fill="#F9F9F9"/>
<path d="M1249.8 1568.3V1565.3H1255V1568.3ZM1255 1568.3V1562.6H1266V1568.3ZM1266 1568.3V1565.3H1271.8V1568.3ZM1379.6 1568.3V1563.3H1390V1568.3ZM1390 1568.3V1561.3H1410V1568.3ZM1410 1568.3V1562.3H1420V1568.3ZM1420 1568.3V1566.3H1423.6V1568.3Z" fill="#000000"/>
<path d="M1252 1623.6V1620.6H1270V1623.6ZM1283 1623.6V1621.6H1294V1623.6ZM1382 1623.6V1621.6H1386V1623.6ZM1393 1623.6V1619.6H1406V1623.6ZM1406 1623.6V1588H1410V1623.6ZM1410 1623.6V1590.6H1415V1623.6ZM1415 1623.6V1603.6H1419V1623.6ZM1419 1623.6V1619.6H1426V1623.6Z" fill="#CC0000"/>
<path d="M1249.8 1679.6V1676.6H1255V1679.6ZM1255 1679.6V1673.6H1266V1679.6ZM1266 1679.6V1676.6H1271.8V1679.6ZM1379.6 1679.6V1674.6H1390V1679.6ZM1390 1679.6V1671.6H1415V1679.6ZM1415 1679.6V1675.6H1425.8V1679.6Z" fill="#000000"/>
<path d="M1249.8 1735.3V1732.3H1254V1735.3ZM1254 1735.3V1728.7H1262V1735.3ZM1262 1735.3V1731.3H1271.8V1735.3ZM1318 1735.3V1733.3H1330V1735.3ZM1377 1735.3V1731.3H1386V1735.3ZM1386 1735.3V1731.3H1406V1735.3ZM1406 1735.3V1722.1H1420V1735.3ZM1420 1735.3V1732.3H1426V1735.3Z" fill="#0A0AA5"/>
<line x1="1142" y1="1568.3" x2="1507.2" y2="1568.3" stroke="#C6C6C6" stroke-width="2.2"/>
<line x1="1142" y1="1623.6" x2="1507.2" y2="1623.6" stroke="#C6C6C6" stroke-width="2.2"/>
<line x1="1142" y1="1679.6" x2="1507.2" y2="1679.6" stroke="#C6C6C6" stroke-width="2.2"/>
<line x1="1142" y1="1735.3" x2="1507.2" y2="1735.3" stroke="#2424D0" stroke-width="2.2"/>
<line x1="1142" y1="1742.6" x2="1507.2" y2="1742.6" stroke="#8A8A8A" stroke-width="3.2"/>
<line x1="1142" y1="1743.8" x2="1507.2" y2="1743.8" stroke="#5A5A5A" stroke-width="1.2"/>
<text x="1147.2" y="1534" font-size="19.5">[0-40]</text>
<text x="1147.2" y="1588.3" font-size="19.5">[0-40]</text>
<text x="1147.2" y="1643.6" font-size="19.5">[0-40]</text>
<text x="1147.2" y="1699.6" font-size="19.5">[0-40]</text>
<line x1="1251" y1="1758.8" x2="1432.4" y2="1758.8" stroke="#2A2AD8" stroke-width="1.8"/><rect x="1251" y="1748.8" width="18.6" height="20" fill="#0000B0"/><rect x="1379.6" y="1748.8" width="38.7" height="20" fill="#0000B0"/><rect x="1418.3" y="1753" width="14.1" height="11.5" fill="#0000B0"/><path d="M1282.5 1754.3L1287 1758.8L1282.5 1763.3" fill="none" stroke="#2A2AD8" stroke-width="1.5"/><path d="M1319.9 1754.3L1324.4 1758.8L1319.9 1763.3" fill="none" stroke="#2A2AD8" stroke-width="1.5"/><path d="M1357.3 1754.3L1361.8 1758.8L1357.3 1763.3" fill="none" stroke="#2A2AD8" stroke-width="1.5"/>
<rect x="1518.6" y="1516.5" width="426.4" height="218.8" fill="#F9F9F9"/>
<rect x="1518.6" y="1744.6" width="426.4" height="24" fill="#F9F9F9"/>
<path d="M1755 1568.3V1566.8H1757V1568.3ZM1769 1568.3V1566.8H1771V1568.3ZM1858 1568.3V1566.3H1861V1568.3Z" fill="#000000"/>
<path d="M1777 1623.6V1621.6H1779V1623.6ZM1839 1623.6V1621.6H1841V1623.6ZM1855 1623.6V1611.6H1857V1623.6ZM1857 1623.6V1593.6H1859V1623.6ZM1859 1623.6V1615.6H1861V1623.6ZM1861 1623.6V1609.6H1864V1623.6ZM1864 1623.6V1605.6H1866V1623.6ZM1866 1623.6V1613.6H1868V1623.6Z" fill="#CC0000"/>
<path d="M1745 1679.6V1678.1H1747V1679.6ZM1757 1679.6V1678.1H1759V1679.6ZM1770 1679.6V1678.1H1772V1679.6ZM1824 1679.6V1678.1H1826V1679.6ZM1838 1679.6V1678.1H1840V1679.6ZM1850 1679.6V1678.1H1852V1679.6ZM1860 1679.6V1677.6H1864V1679.6Z" fill="#000000"/>
<path d="M1617 1735.3V1731.3H1619V1735.3ZM1696 1735.3V1731.3H1698V1735.3ZM1745 1735.3V1732.3H1748V1735.3ZM1748 1735.3V1733.3H1752V1735.3ZM1824 1735.3V1733.3H1826V1735.3ZM1848 1735.3V1733.3H1850V1735.3ZM1855 1735.3V1725.3H1857V1735.3ZM1857 1735.3V1708H1859V1735.3ZM1859 1735.3V1727.3H1862V1735.3ZM1862 1735.3V1728.3H1868V1735.3Z" fill="#0A0AA5"/>
<line x1="1518.6" y1="1568.3" x2="1945" y2="1568.3" stroke="#C6C6C6" stroke-width="2.2"/>
<line x1="1518.6" y1="1623.6" x2="1945" y2="1623.6" stroke="#C6C6C6" stroke-width="2.2"/>
<line x1="1518.6" y1="1679.6" x2="1945" y2="1679.6" stroke="#C6C6C6" stroke-width="2.2"/>
<line x1="1518.6" y1="1735.3" x2="1945" y2="1735.3" stroke="#2424D0" stroke-width="2.2"/>
<line x1="1518.6" y1="1742.6" x2="1945" y2="1742.6" stroke="#8A8A8A" stroke-width="3.2"/>
<line x1="1518.6" y1="1743.8" x2="1945" y2="1743.8" stroke="#5A5A5A" stroke-width="1.2"/>
<text x="1523.8" y="1534" font-size="19.5">[0-15]</text>
<text x="1523.8" y="1588.3" font-size="19.5">[0-15]</text>
<text x="1523.8" y="1643.6" font-size="19.5">[0-15]</text>
<text x="1523.8" y="1699.6" font-size="19.5">[0-15]</text>
<line x1="1617" y1="1758.8" x2="1868" y2="1758.8" stroke="#2A2AD8" stroke-width="1.8"/><rect x="1617" y="1753" width="1.6" height="11.5" fill="#0000B0"/><rect x="1747" y="1748.8" width="2" height="20" fill="#0000B0"/><rect x="1757" y="1748.8" width="2" height="20" fill="#0000B0"/><rect x="1770.4" y="1748.8" width="1.6" height="20" fill="#0000B0"/><rect x="1808.6" y="1748.8" width="1.6" height="20" fill="#0000B0"/><rect x="1824" y="1748.8" width="1.6" height="20" fill="#0000B0"/><rect x="1840.3" y="1748.8" width="1.7" height="20" fill="#0000B0"/><rect x="1849" y="1748.8" width="1.6" height="20" fill="#0000B0"/><rect x="1855.7" y="1748.8" width="12.3" height="20" fill="#0000B0"/><path d="M1630.1 1754.3L1634.6 1758.8L1630.1 1763.3" fill="none" stroke="#2A2AD8" stroke-width="1.5"/><path d="M1669.7 1754.3L1674.2 1758.8L1669.7 1763.3" fill="none" stroke="#2A2AD8" stroke-width="1.5"/><path d="M1707.1 1754.3L1711.6 1758.8L1707.1 1763.3" fill="none" stroke="#2A2AD8" stroke-width="1.5"/><path d="M1786.3 1754.3L1790.8 1758.8L1786.3 1763.3" fill="none" stroke="#2A2AD8" stroke-width="1.5"/>
<text x="392" y="1801.6" font-size="27.5" text-anchor="middle" font-style="italic">ERVW-1</text>
<text x="873" y="1801.6" font-size="27.5" text-anchor="middle" font-style="italic">CGA</text>
<text x="1342.2" y="1801.6" font-size="27.5" text-anchor="middle" font-style="italic">GDF15</text>
<text x="1742.6" y="1801.6" font-size="27.5" text-anchor="middle" font-style="italic">IL4R</text>
</svg></body></html>
